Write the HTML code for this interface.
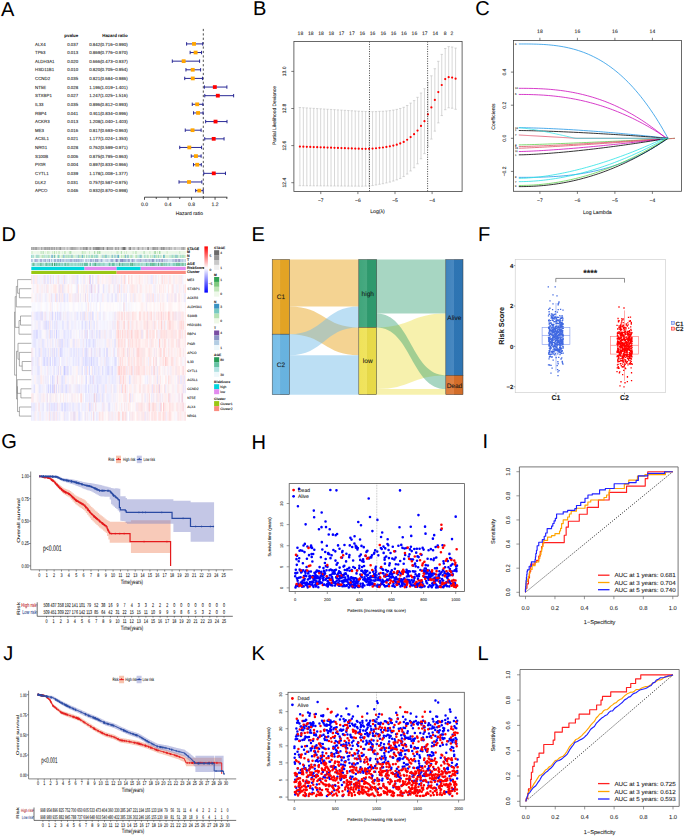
<!DOCTYPE html>
<html><head><meta charset="utf-8"><style>
html,body{margin:0;padding:0;background:#fff;}
svg{display:block;font-family:"Liberation Sans",sans-serif;}
text{stroke:#000;stroke-opacity:0.3;stroke-width:0.25px;}
</style></head><body>
<svg width="685" height="838" viewBox="0 0 685 838" text-rendering="geometricPrecision">
<rect width="685" height="838" fill="#fff"/>
<text x="1" y="16.2" font-size="20">A</text>
<text x="253" y="14.9" font-size="20">B</text>
<text x="475.2" y="15.3" font-size="20">C</text>
<text x="1.6" y="240.8" font-size="20">D</text>
<text x="251.6" y="241" font-size="20">E</text>
<text x="478" y="240.8" font-size="20">F</text>
<text x="1.2" y="448" font-size="20">G</text>
<text x="251.6" y="448.5" font-size="20">H</text>
<text x="482.6" y="448.2" font-size="20">I</text>
<text x="3.2" y="660.2" font-size="20">J</text>
<text x="251.4" y="660" font-size="20">K</text>
<text x="477.6" y="660" font-size="20">L</text>
<g font-size="4.4" fill="#222">
<text x="78.2" y="36.8" text-anchor="end" font-weight="bold">pvalue</text>
<text x="127.6" y="36.8" text-anchor="end" font-weight="bold">Hazard ratio</text>
<text x="35" y="45.5">ALX4</text>
<text x="78.2" y="45.5" text-anchor="end">0.037</text>
<text x="127.6" y="45.5" text-anchor="end">0.842(0.716−0.990)</text>
<text x="35" y="54.13">TP63</text>
<text x="78.2" y="54.13" text-anchor="end">0.013</text>
<text x="127.6" y="54.13" text-anchor="end">0.869(0.776−0.970)</text>
<text x="35" y="62.76">ALDH3A1</text>
<text x="78.2" y="62.76" text-anchor="end">0.020</text>
<text x="127.6" y="62.76" text-anchor="end">0.666(0.473−0.937)</text>
<text x="35" y="71.39">HSD11B1</text>
<text x="78.2" y="71.39" text-anchor="end">0.010</text>
<text x="127.6" y="71.39" text-anchor="end">0.820(0.705−0.954)</text>
<text x="35" y="80.02">CCND2</text>
<text x="78.2" y="80.02" text-anchor="end">0.035</text>
<text x="127.6" y="80.02" text-anchor="end">0.821(0.684−0.986)</text>
<text x="35" y="88.65">NT5E</text>
<text x="78.2" y="88.65" text-anchor="end">0.028</text>
<text x="127.6" y="88.65" text-anchor="end">1.196(1.019−1.401)</text>
<text x="35" y="97.28">STXBP1</text>
<text x="78.2" y="97.28" text-anchor="end">0.027</text>
<text x="127.6" y="97.28" text-anchor="end">1.247(1.025−1.516)</text>
<text x="35" y="105.91">IL33</text>
<text x="78.2" y="105.91" text-anchor="end">0.035</text>
<text x="127.6" y="105.91" text-anchor="end">0.896(0.812−0.993)</text>
<text x="35" y="114.54">RBP4</text>
<text x="78.2" y="114.54" text-anchor="end">0.041</text>
<text x="127.6" y="114.54" text-anchor="end">0.911(0.834−0.996)</text>
<text x="35" y="123.17">ACKR3</text>
<text x="78.2" y="123.17" text-anchor="end">0.013</text>
<text x="127.6" y="123.17" text-anchor="end">1.208(1.040−1.403)</text>
<text x="35" y="131.8">ME3</text>
<text x="78.2" y="131.8" text-anchor="end">0.016</text>
<text x="127.6" y="131.8" text-anchor="end">0.817(0.693−0.963)</text>
<text x="35" y="140.43">ACSL1</text>
<text x="78.2" y="140.43" text-anchor="end">0.021</text>
<text x="127.6" y="140.43" text-anchor="end">1.177(1.024−1.353)</text>
<text x="35" y="149.06">NRG1</text>
<text x="78.2" y="149.06" text-anchor="end">0.028</text>
<text x="127.6" y="149.06" text-anchor="end">0.762(0.599−0.971)</text>
<text x="35" y="157.69">S100B</text>
<text x="78.2" y="157.69" text-anchor="end">0.006</text>
<text x="127.6" y="157.69" text-anchor="end">0.875(0.795−0.963)</text>
<text x="35" y="166.32">PIGR</text>
<text x="78.2" y="166.32" text-anchor="end">0.004</text>
<text x="127.6" y="166.32" text-anchor="end">0.897(0.833−0.966)</text>
<text x="35" y="174.95">CYTL1</text>
<text x="78.2" y="174.95" text-anchor="end">0.039</text>
<text x="127.6" y="174.95" text-anchor="end">1.178(1.008−1.377)</text>
<text x="35" y="183.58">DLK2</text>
<text x="78.2" y="183.58" text-anchor="end">0.031</text>
<text x="127.6" y="183.58" text-anchor="end">0.757(0.587−0.975)</text>
<text x="35" y="192.21">APCO</text>
<text x="78.2" y="192.21" text-anchor="end">0.046</text>
<text x="127.6" y="192.21" text-anchor="end">0.932(0.870−0.998)</text>
</g>
<line x1="203.3" y1="28.9" x2="203.3" y2="197.2" stroke="#222" stroke-width="0.8" stroke-dasharray="2.2,2.2"/>
<g stroke="#1f1f90" stroke-width="0.95" fill="none">
<path d="M186.6 43.9H202.71M186.6 42.2v3.4M202.71 42.2v3.4M190.13 52.53H201.54M190.13 50.83v3.4M201.54 50.83v3.4M172.31 61.16H199.6M172.31 59.46v3.4M199.6 59.46v3.4M185.95 69.79H200.6M185.95 68.09v3.4M200.6 68.09v3.4M184.72 78.42H202.48M184.72 76.72v3.4M202.48 76.72v3.4M204.42 87.05H226.88M204.42 85.35v3.4M226.88 85.35v3.4M204.77 95.68H233.64M204.77 93.98v3.4M233.64 93.98v3.4M192.25 104.31H202.89M192.25 102.61v3.4M202.89 102.61v3.4M193.54 112.94H203.06M193.54 111.24v3.4M203.06 111.24v3.4M205.65 121.57H227M205.65 119.87v3.4M227 119.87v3.4M185.25 130.2H201.12M185.25 128.5v3.4M201.12 128.5v3.4M204.71 138.83H224.06M204.71 137.13v3.4M224.06 137.13v3.4M179.72 147.46H201.59M179.72 145.76v3.4M201.59 145.76v3.4M191.25 156.09H201.12M191.25 154.39v3.4M201.12 154.39v3.4M193.48 164.72H201.3M193.48 163.02v3.4M201.3 163.02v3.4M203.77 173.35H225.47M203.77 171.65v3.4M225.47 171.65v3.4M179.02 181.98H201.83M179.02 180.28v3.4M201.83 180.28v3.4M195.66 190.61H203.18M195.66 188.91v3.4M203.18 188.91v3.4"/>
</g>
<rect x="192.06" y="42.05" width="3.9" height="3.7" fill="#ffa500"/>
<rect x="193.65" y="50.68" width="3.9" height="3.7" fill="#ffa500"/>
<rect x="181.71" y="59.31" width="3.9" height="3.7" fill="#ffa500"/>
<rect x="190.77" y="67.94" width="3.9" height="3.7" fill="#ffa500"/>
<rect x="190.82" y="76.57" width="3.9" height="3.7" fill="#ffa500"/>
<rect x="212.87" y="85.2" width="3.9" height="3.7" fill="#ff0000"/>
<rect x="215.87" y="93.83" width="3.9" height="3.7" fill="#ff0000"/>
<rect x="195.23" y="102.46" width="3.9" height="3.7" fill="#ffa500"/>
<rect x="196.12" y="111.09" width="3.9" height="3.7" fill="#ffa500"/>
<rect x="213.58" y="119.72" width="3.9" height="3.7" fill="#ff0000"/>
<rect x="190.59" y="128.35" width="3.9" height="3.7" fill="#ffa500"/>
<rect x="211.76" y="136.98" width="3.9" height="3.7" fill="#ff0000"/>
<rect x="187.36" y="145.61" width="3.9" height="3.7" fill="#ffa500"/>
<rect x="194" y="154.24" width="3.9" height="3.7" fill="#ffa500"/>
<rect x="195.29" y="162.87" width="3.9" height="3.7" fill="#ffa500"/>
<rect x="211.82" y="171.5" width="3.9" height="3.7" fill="#ff0000"/>
<rect x="187.06" y="180.13" width="3.9" height="3.7" fill="#ffa500"/>
<rect x="197.35" y="188.76" width="3.9" height="3.7" fill="#ffa500"/>
<path d="M144.5 197.2H227.3M144.5 197.2v2.6M156.26 197.2v1.8M168.02 197.2v2.6M179.78 197.2v1.8M191.54 197.2v2.6M203.3 197.2v1.8M215.06 197.2v2.6M226.82 197.2v1.8" stroke="#222" stroke-width="0.8" fill="none"/>
<g font-size="5.0" fill="#222" text-anchor="middle">
<text x="144.5" y="205.6">0.0</text>
<text x="168.02" y="205.6">0.4</text>
<text x="191.54" y="205.6">0.8</text>
<text x="215.06" y="205.6">1.2</text>
<text x="189.3" y="215.2" font-size="5">Hazard ratio</text>
</g>
<path d="M299.9 107.5V185.7M298.7 107.5h2.4M298.7 185.7h2.4M303.36 107.72V185.73M302.16 107.72h2.4M302.16 185.73h2.4M306.82 107.93V185.75M305.62 107.93h2.4M305.62 185.75h2.4M310.28 108.15V185.78M309.08 108.15h2.4M309.08 185.78h2.4M313.74 108.37V185.81M312.54 108.37h2.4M312.54 185.81h2.4M317.2 108.59V185.84M316 108.59h2.4M316 185.84h2.4M320.66 108.8V185.86M319.46 108.8h2.4M319.46 185.86h2.4M324.12 109.02V185.89M322.92 109.02h2.4M322.92 185.89h2.4M327.58 109.24V185.92M326.38 109.24h2.4M326.38 185.92h2.4M331.04 109.46V185.94M329.84 109.46h2.4M329.84 185.94h2.4M334.5 109.67V185.97M333.3 109.67h2.4M333.3 185.97h2.4M337.96 109.89V186M336.76 109.89h2.4M336.76 186h2.4M341.42 110.11V186.02M340.22 110.11h2.4M340.22 186.02h2.4M344.88 110.33V186.05M343.68 110.33h2.4M343.68 186.05h2.4M348.34 110.54V186.08M347.14 110.54h2.4M347.14 186.08h2.4M351.8 110.76V186.11M350.6 110.76h2.4M350.6 186.11h2.4M355.26 110.98V186.13M354.06 110.98h2.4M354.06 186.13h2.4M358.72 111.19V186.16M357.52 111.19h2.4M357.52 186.16h2.4M362.18 111.41V186.19M360.98 111.41h2.4M360.98 186.19h2.4M365.64 111.51V186.09M364.44 111.51h2.4M364.44 186.09h2.4M369.1 111.61V185.99M367.9 111.61h2.4M367.9 185.99h2.4M372.56 111.67V185.56M371.36 111.67h2.4M371.36 185.56h2.4M376.02 111.54V184.94M374.82 111.54h2.4M374.82 184.94h2.4M379.48 111.37V184.28M378.28 111.37h2.4M378.28 184.28h2.4M382.94 111.29V183.72M381.74 111.29h2.4M381.74 183.72h2.4M386.4 110.98V182.91M385.2 110.98h2.4M385.2 182.91h2.4M389.86 110.64V182.08M388.66 110.64h2.4M388.66 182.08h2.4M393.32 110.09V181.04M392.12 110.09h2.4M392.12 181.04h2.4M396.78 109.4V179.86M395.58 109.4h2.4M395.58 179.86h2.4M400.24 108.48V178.43M399.04 108.48h2.4M399.04 178.43h2.4M403.7 107.31V176.57M402.5 107.31h2.4M402.5 176.57h2.4M407.16 105.47V174.04M405.96 105.47h2.4M405.96 174.04h2.4M410.62 103.1V170.98M409.42 103.1h2.4M409.42 170.98h2.4M414.08 100.59V167.77M412.88 100.59h2.4M412.88 167.77h2.4M417.54 97.32V163.82M416.34 97.32h2.4M416.34 163.82h2.4M421 93.02V158.78M419.8 93.02h2.4M419.8 158.78h2.4M424.46 88.69V153.62M423.26 88.69h2.4M423.26 153.62h2.4M427.92 82.31V146.41M426.72 82.31h2.4M426.72 146.41h2.4M431.38 75.81V139.07M430.18 75.81h2.4M430.18 139.07h2.4M434.84 68.71V131.15M433.64 68.71h2.4M433.64 131.15h2.4M438.3 61.3V122.9M437.1 61.3h2.4M437.1 122.9h2.4M441.76 54.39V115.59M440.56 54.39h2.4M440.56 115.59h2.4M445.22 48.49V109.69M444.02 48.49h2.4M444.02 109.69h2.4M448.68 46.61V107.81M447.48 46.61h2.4M447.48 107.81h2.4M452.14 47.01V108.21M450.94 47.01h2.4M450.94 108.21h2.4M455.6 48.1V109.3M454.4 48.1h2.4M454.4 109.3h2.4" stroke="#bdbdbd" stroke-width="0.6" fill="none"/>
<path d="M299.9 146.6h0M303.36 146.72h0M306.82 146.84h0M310.28 146.97h0M313.74 147.09h0M317.2 147.21h0M320.66 147.33h0M324.12 147.46h0M327.58 147.58h0M331.04 147.7h0M334.5 147.82h0M337.96 147.94h0M341.42 148.07h0M344.88 148.19h0M348.34 148.31h0M351.8 148.43h0M355.26 148.55h0M358.72 148.68h0M362.18 148.8h0M365.64 148.8h0M369.1 148.8h0M372.56 148.61h0M376.02 148.24h0M379.48 147.83h0M382.94 147.51h0M386.4 146.95h0M389.86 146.36h0M393.32 145.57h0M396.78 144.63h0M400.24 143.45h0M403.7 141.94h0M407.16 139.75h0M410.62 137.04h0M414.08 134.18h0M417.54 130.57h0M421 125.9h0M424.46 121.15h0M427.92 114.36h0M431.38 107.44h0M434.84 99.93h0M438.3 92.1h0M441.76 84.99h0M445.22 79.09h0M448.68 77.21h0M452.14 77.61h0M455.6 78.7h0" stroke="#ff0000" stroke-width="2.2" stroke-linecap="round" fill="none"/>
<line x1="369.5" y1="41.5" x2="369.5" y2="191.5" stroke="#111" stroke-width="0.8" stroke-dasharray="1,1.4"/>
<line x1="427.6" y1="41.5" x2="427.6" y2="191.5" stroke="#111" stroke-width="0.8" stroke-dasharray="1,1.4"/>
<rect x="293.9" y="41.5" width="168.2" height="150" fill="none" stroke="#444" stroke-width="0.8"/>
<path d="M293.9 71.4h-2.6M293.9 108.5h-2.6M293.9 145.6h-2.6M293.9 182.7h-2.6M320.8 191.5v2.6M357.9 191.5v2.6M395 191.5v2.6M432.1 191.5v2.6" stroke="#444" stroke-width="0.7" fill="none"/>
<g font-size="5.0" fill="#222" text-anchor="middle">
<text x="286.4" y="71.4" transform="rotate(-90 286.4 71.4)">13.0</text>
<text x="286.4" y="108.5" transform="rotate(-90 286.4 108.5)">12.8</text>
<text x="286.4" y="145.6" transform="rotate(-90 286.4 145.6)">12.6</text>
<text x="286.4" y="182.7" transform="rotate(-90 286.4 182.7)">12.4</text>
<text x="320.8" y="202">−7</text>
<text x="357.9" y="202">−6</text>
<text x="395" y="202">−5</text>
<text x="432.1" y="202">−4</text>
<text x="300.4" y="34.6">18</text>
<text x="310.7" y="34.6">18</text>
<text x="321" y="34.6">18</text>
<text x="331.3" y="34.6">18</text>
<text x="341.6" y="34.6">17</text>
<text x="351.9" y="34.6">17</text>
<text x="362.2" y="34.6">16</text>
<text x="372.5" y="34.6">16</text>
<text x="383.3" y="34.6">16</text>
<text x="393.5" y="34.6">16</text>
<text x="403.9" y="34.6">16</text>
<text x="414.4" y="34.6">16</text>
<text x="424.7" y="34.6">17</text>
<text x="435.2" y="34.6">14</text>
<text x="445.2" y="34.6">8</text>
<text x="452" y="34.6">2</text>
<text x="377.5" y="213.2" font-size="5.2">Log(λ)</text>
<text x="275.6" y="115.6" font-size="4.9" transform="rotate(-90 275.6 115.6)">Partial Likelihood Deviance</text>
</g>
<path d="M518.8 43.97L521.29 43.97L523.77 43.97L526.26 43.98L528.75 44L531.23 44.03L533.72 44.08L536.21 44.15L538.69 44.24L541.18 44.35L543.67 44.49L546.15 44.65L548.64 44.85L551.13 45.08L553.61 45.35L556.1 45.66L558.59 46.01L561.07 46.4L563.56 46.84L566.05 47.33L568.53 47.86L571.02 48.46L573.51 49.11L575.99 49.81L578.48 50.58L580.97 51.41L583.45 52.31L585.94 53.28L588.43 54.31L590.91 55.42L593.4 56.6L595.89 57.86L598.37 59.2L600.86 60.63L603.35 62.13L605.83 63.73L608.32 65.41L610.81 67.18L613.29 69.05L615.78 71.01L618.27 73.07L620.75 75.23L623.24 77.5L625.73 79.86L628.21 82.34L630.7 84.92L633.19 87.62L635.67 90.43L638.16 93.35L640.65 96.4L643.13 99.56L645.62 102.85L648.11 106.26L650.59 109.8L653.08 113.46L655.57 117.26L658.05 121.19L660.54 125.26L663.03 129.47L665.51 133.81L668 138.3" stroke="#2297E6" stroke-width="0.8" fill="none"/>
<path d="M518.8 88.32L521.25 88.32L523.71 88.33L526.16 88.35L528.61 88.38L531.07 88.42L533.52 88.48L535.97 88.55L538.43 88.64L540.88 88.75L543.33 88.89L545.79 89.04L548.24 89.21L550.69 89.41L553.15 89.63L555.6 89.88L558.05 90.15L560.51 90.45L562.96 90.78L565.41 91.14L567.87 91.53L570.32 91.94L572.77 92.39L575.23 92.87L577.68 93.38L580.13 93.92L582.59 94.5L585.04 95.11L587.49 95.75L589.95 96.44L592.4 97.15L594.85 97.91L597.31 98.7L599.76 99.53L602.21 100.4L604.67 101.31L607.12 102.26L609.57 103.24L612.03 104.27L614.48 105.34L616.93 106.46L619.39 107.61L621.84 108.81L624.29 110.05L626.75 111.34L629.2 112.67L631.65 114.04L634.11 115.46L636.56 116.93L639.01 118.44L641.47 120L643.92 121.61L646.37 123.27L648.83 124.97L651.28 126.73L653.73 128.53L656.19 130.38L658.64 132.28L661.09 134.24L663.55 136.24L666 138.3" stroke="#CD0BBC" stroke-width="0.8" fill="none"/>
<path d="M518.8 94.44L521.27 94.45L523.74 94.46L526.21 94.49L528.68 94.53L531.15 94.59L533.62 94.66L536.09 94.76L538.56 94.87L541.03 95L543.5 95.15L545.97 95.33L548.44 95.52L550.91 95.74L553.38 95.99L555.85 96.25L558.32 96.54L560.79 96.85L563.26 97.19L565.73 97.56L568.2 97.95L570.67 98.36L573.14 98.81L575.61 99.28L578.08 99.77L580.55 100.3L583.02 100.85L585.49 101.43L587.96 102.04L590.43 102.68L592.9 103.35L595.37 104.05L597.84 104.77L600.31 105.53L602.78 106.32L605.25 107.14L607.72 107.99L610.19 108.87L612.66 109.78L615.13 110.73L617.6 111.7L620.07 112.71L622.54 113.75L625.01 114.83L627.48 115.93L629.95 117.07L632.42 118.25L634.89 119.45L637.36 120.69L639.83 121.97L642.3 123.28L644.77 124.62L647.24 126L649.71 127.41L652.18 128.86L654.65 130.35L657.12 131.86L659.59 133.42L662.06 135.01L664.53 136.64L667 138.3" stroke="#CD0BBC" stroke-width="0.8" fill="none"/>
<path d="M518.8 127.71L521.29 127.72L523.77 127.75L526.26 127.8L528.75 127.85L531.23 127.91L533.72 127.97L536.21 128.05L538.69 128.13L541.18 128.22L543.67 128.31L546.15 128.41L548.64 128.51L551.13 128.62L553.61 128.74L556.1 128.86L558.59 128.99L561.07 129.12L563.56 129.25L566.05 129.39L568.53 129.53L571.02 129.68L573.51 129.84L575.99 129.99L578.48 130.15L580.97 130.32L583.45 130.49L585.94 130.66L588.43 130.84L590.91 131.02L593.4 131.2L595.89 131.39L598.37 131.58L600.86 131.78L603.35 131.98L605.83 132.18L608.32 132.39L610.81 132.6L613.29 132.81L615.78 133.02L618.27 133.24L620.75 133.47L623.24 133.69L625.73 133.92L628.21 134.16L630.7 134.39L633.19 134.63L635.67 134.87L638.16 135.12L640.65 135.37L643.13 135.62L645.62 135.87L648.11 136.13L650.59 136.39L653.08 136.66L655.57 136.92L658.05 137.19L660.54 137.47L663.03 137.74L665.51 138.02L668 138.3" stroke="#2297E6" stroke-width="0.8" fill="none"/>
<path d="M518.8 130.52L521.29 130.54L523.77 130.57L526.26 130.61L528.75 130.66L531.23 130.71L533.72 130.77L536.21 130.83L538.69 130.9L541.18 130.97L543.67 131.05L546.15 131.13L548.64 131.22L551.13 131.31L553.61 131.4L556.1 131.49L558.59 131.59L561.07 131.69L563.56 131.8L566.05 131.91L568.53 132.02L571.02 132.13L573.51 132.25L575.99 132.37L578.48 132.49L580.97 132.61L583.45 132.74L585.94 132.87L588.43 133L590.91 133.14L593.4 133.27L595.89 133.41L598.37 133.55L600.86 133.69L603.35 133.84L605.83 133.99L608.32 134.14L610.81 134.29L613.29 134.44L615.78 134.6L618.27 134.76L620.75 134.92L623.24 135.08L625.73 135.24L628.21 135.41L630.7 135.57L633.19 135.74L635.67 135.91L638.16 136.09L640.65 136.26L643.13 136.44L645.62 136.62L648.11 136.8L650.59 136.98L653.08 137.16L655.57 137.35L658.05 137.54L660.54 137.72L663.03 137.91L665.51 138.11L668 138.3" stroke="#000000" stroke-width="0.8" fill="none"/>
<path d="M518.8 134.99L519.77 135.05L520.74 135.1L521.71 135.16L522.68 135.21L523.65 135.27L524.62 135.32L525.59 135.38L526.56 135.43L527.53 135.49L528.5 135.54L529.47 135.6L530.44 135.65L531.41 135.71L532.38 135.76L533.35 135.82L534.32 135.87L535.29 135.93L536.26 135.98L537.23 136.04L538.2 136.09L539.17 136.15L540.14 136.2L541.11 136.26L542.08 136.31L543.05 136.37L544.02 136.42L544.99 136.48L545.96 136.53L546.93 136.59L547.9 136.65L548.87 136.7L549.84 136.76L550.81 136.81L551.78 136.87L552.75 136.92L553.72 136.98L554.69 137.03L555.66 137.09L556.63 137.14L557.6 137.2L558.57 137.25L559.54 137.31L560.51 137.36L561.48 137.42L562.45 137.47L563.42 137.53L564.39 137.58L565.36 137.64L566.33 137.69L567.3 137.75L568.27 137.8L569.24 137.86L570.21 137.91L571.18 137.97L572.15 138.02L573.12 138.08L574.09 138.13L575.06 138.19L576.03 138.24L577 138.3L669 138.3" stroke="#DF536B" stroke-width="0.8" fill="none"/>
<path d="M518.8 144.92L521.4 144.87L524.01 144.81L526.61 144.74L529.21 144.66L531.82 144.58L534.42 144.5L537.02 144.42L539.63 144.33L542.23 144.24L544.83 144.15L547.44 144.06L550.04 143.96L552.64 143.86L555.25 143.77L557.85 143.67L560.45 143.56L563.06 143.46L565.66 143.36L568.26 143.25L570.87 143.15L573.47 143.04L576.07 142.93L578.68 142.83L581.28 142.72L583.88 142.6L586.49 142.49L589.09 142.38L591.69 142.27L594.3 142.15L596.9 142.04L599.5 141.92L602.11 141.81L604.71 141.69L607.31 141.57L609.92 141.45L612.52 141.33L615.12 141.21L617.73 141.09L620.33 140.97L622.93 140.85L625.54 140.73L628.14 140.61L630.74 140.48L633.35 140.36L635.95 140.23L638.55 140.11L641.16 139.98L643.76 139.86L646.36 139.73L648.97 139.6L651.57 139.47L654.17 139.34L656.78 139.22L659.38 139.09L661.98 138.96L664.59 138.83L667.19 138.7L669.79 138.56L672.4 138.43L675 138.3" stroke="#61D04F" stroke-width="0.8" fill="none"/>
<path d="M518.8 146.58L521.29 146.53L523.77 146.48L526.26 146.41L528.75 146.33L531.23 146.25L533.72 146.16L536.21 146.07L538.69 145.97L541.18 145.87L543.67 145.77L546.15 145.66L548.64 145.55L551.13 145.44L553.61 145.33L556.1 145.21L558.59 145.09L561.07 144.97L563.56 144.85L566.05 144.72L568.53 144.59L571.02 144.46L573.51 144.33L575.99 144.2L578.48 144.06L580.97 143.92L583.45 143.78L585.94 143.64L588.43 143.5L590.91 143.36L593.4 143.21L595.89 143.07L598.37 142.92L600.86 142.77L603.35 142.62L605.83 142.47L608.32 142.32L610.81 142.16L613.29 142.01L615.78 141.85L618.27 141.69L620.75 141.53L623.24 141.37L625.73 141.21L628.21 141.05L630.7 140.88L633.19 140.72L635.67 140.55L638.16 140.38L640.65 140.22L643.13 140.05L645.62 139.88L648.11 139.7L650.59 139.53L653.08 139.36L655.57 139.19L658.05 139.01L660.54 138.83L663.03 138.66L665.51 138.48L668 138.3" stroke="#DF536B" stroke-width="0.8" fill="none"/>
<path d="M518.8 148.23L521.4 148.16L524.01 148.06L526.61 147.96L529.21 147.84L531.82 147.73L534.42 147.6L537.02 147.48L539.63 147.35L542.23 147.21L544.83 147.07L547.44 146.93L550.04 146.79L552.64 146.65L555.25 146.5L557.85 146.35L560.45 146.2L563.06 146.04L565.66 145.89L568.26 145.73L570.87 145.57L573.47 145.41L576.07 145.25L578.68 145.09L581.28 144.92L583.88 144.76L586.49 144.59L589.09 144.42L591.69 144.25L594.3 144.08L596.9 143.91L599.5 143.73L602.11 143.56L604.71 143.38L607.31 143.21L609.92 143.03L612.52 142.85L615.12 142.67L617.73 142.49L620.33 142.31L622.93 142.13L625.54 141.94L628.14 141.76L630.74 141.57L633.35 141.39L635.95 141.2L638.55 141.01L641.16 140.82L643.76 140.63L646.36 140.44L648.97 140.25L651.57 140.06L654.17 139.87L656.78 139.67L659.38 139.48L661.98 139.28L664.59 139.09L667.19 138.89L669.79 138.7L672.4 138.5L675 138.3" stroke="#DF536B" stroke-width="0.8" fill="none"/>
<path d="M518.8 151.54L521.29 151.5L523.77 151.43L526.26 151.34L528.75 151.24L531.23 151.13L533.72 151.01L536.21 150.89L538.69 150.75L541.18 150.61L543.67 150.46L546.15 150.31L548.64 150.15L551.13 149.98L553.61 149.81L556.1 149.64L558.59 149.46L561.07 149.27L563.56 149.09L566.05 148.89L568.53 148.7L571.02 148.5L573.51 148.29L575.99 148.08L578.48 147.87L580.97 147.65L583.45 147.43L585.94 147.21L588.43 146.98L590.91 146.76L593.4 146.52L595.89 146.29L598.37 146.05L600.86 145.81L603.35 145.56L605.83 145.31L608.32 145.06L610.81 144.81L613.29 144.55L615.78 144.3L618.27 144.03L620.75 143.77L623.24 143.5L625.73 143.24L628.21 142.96L630.7 142.69L633.19 142.41L635.67 142.13L638.16 141.85L640.65 141.57L643.13 141.28L645.62 140.99L648.11 140.7L650.59 140.41L653.08 140.12L655.57 139.82L658.05 139.52L660.54 139.22L663.03 138.91L665.51 138.61L668 138.3" stroke="#CD0BBC" stroke-width="0.8" fill="none"/>
<path d="M518.8 154.85L521.29 154.81L523.77 154.75L526.26 154.66L528.75 154.57L531.23 154.45L533.72 154.33L536.21 154.19L538.69 154.04L541.18 153.89L543.67 153.72L546.15 153.55L548.64 153.37L551.13 153.18L553.61 152.98L556.1 152.78L558.59 152.57L561.07 152.35L563.56 152.13L566.05 151.9L568.53 151.66L571.02 151.42L573.51 151.18L575.99 150.92L578.48 150.66L580.97 150.4L583.45 150.13L585.94 149.85L588.43 149.57L590.91 149.29L593.4 149L595.89 148.7L598.37 148.4L600.86 148.1L603.35 147.79L605.83 147.48L608.32 147.16L610.81 146.84L613.29 146.51L615.78 146.18L618.27 145.84L620.75 145.5L623.24 145.16L625.73 144.81L628.21 144.46L630.7 144.1L633.19 143.74L635.67 143.38L638.16 143.01L640.65 142.64L643.13 142.26L645.62 141.88L648.11 141.5L650.59 141.11L653.08 140.72L655.57 140.33L658.05 139.93L660.54 139.53L663.03 139.12L665.51 138.71L668 138.3" stroke="#000000" stroke-width="0.8" fill="none"/>
<path d="M518.8 177.36L521.29 177.36L523.77 177.35L526.26 177.35L528.75 177.33L531.23 177.31L533.72 177.28L536.21 177.24L538.69 177.19L541.18 177.13L543.67 177.05L546.15 176.96L548.64 176.85L551.13 176.73L553.61 176.59L556.1 176.43L558.59 176.26L561.07 176.06L563.56 175.84L566.05 175.61L568.53 175.35L571.02 175.06L573.51 174.76L575.99 174.42L578.48 174.07L580.97 173.68L583.45 173.27L585.94 172.84L588.43 172.37L590.91 171.87L593.4 171.35L595.89 170.79L598.37 170.2L600.86 169.58L603.35 168.93L605.83 168.24L608.32 167.52L610.81 166.77L613.29 165.98L615.78 165.15L618.27 164.29L620.75 163.39L623.24 162.45L625.73 161.47L628.21 160.45L630.7 159.4L633.19 158.3L635.67 157.16L638.16 155.98L640.65 154.75L643.13 153.48L645.62 152.17L648.11 150.82L650.59 149.42L653.08 147.97L655.57 146.48L658.05 144.94L660.54 143.35L663.03 141.72L665.51 140.03L668 138.3" stroke="#2297E6" stroke-width="0.8" fill="none"/>
<path d="M518.8 178.35L521.22 178.31L523.64 178.23L526.06 178.11L528.48 177.95L530.9 177.76L533.32 177.55L535.74 177.31L538.16 177.05L540.58 176.76L543 176.45L545.42 176.11L547.84 175.75L550.26 175.38L552.68 174.98L555.1 174.56L557.52 174.12L559.94 173.66L562.36 173.18L564.78 172.68L567.2 172.16L569.62 171.63L572.04 171.08L574.46 170.5L576.88 169.92L579.3 169.31L581.72 168.69L584.14 168.05L586.56 167.39L588.98 166.71L591.4 166.02L593.82 165.32L596.24 164.59L598.66 163.86L601.08 163.1L603.5 162.33L605.92 161.54L608.34 160.74L610.76 159.93L613.18 159.1L615.6 158.25L618.02 157.39L620.44 156.51L622.86 155.62L625.28 154.71L627.7 153.79L630.12 152.86L632.54 151.91L634.96 150.94L637.38 149.97L639.8 148.97L642.22 147.97L644.64 146.95L647.06 145.92L649.48 144.87L651.9 143.81L654.32 142.73L656.74 141.64L659.16 140.54L661.58 139.43L664 138.3" stroke="#28E2E5" stroke-width="0.8" fill="none"/>
<path d="M518.8 181.66L521.25 181.64L523.71 181.59L526.16 181.51L528.61 181.41L531.07 181.27L533.52 181.12L535.97 180.93L538.43 180.72L540.88 180.48L543.33 180.22L545.79 179.93L548.24 179.62L550.69 179.29L553.15 178.93L555.6 178.55L558.05 178.14L560.51 177.71L562.96 177.26L565.41 176.78L567.87 176.28L570.32 175.76L572.77 175.22L575.23 174.65L577.68 174.06L580.13 173.44L582.59 172.81L585.04 172.15L587.49 171.47L589.95 170.77L592.4 170.04L594.85 169.3L597.31 168.53L599.76 167.74L602.21 166.92L604.67 166.09L607.12 165.23L609.57 164.36L612.03 163.46L614.48 162.53L616.93 161.59L619.39 160.63L621.84 159.64L624.29 158.64L626.75 157.61L629.2 156.56L631.65 155.49L634.11 154.4L636.56 153.28L639.01 152.15L641.47 151L643.92 149.82L646.37 148.62L648.83 147.41L651.28 146.17L653.73 144.91L656.19 143.63L658.64 142.33L661.09 141L663.55 139.66L666 138.3" stroke="#28E2E5" stroke-width="0.8" fill="none"/>
<path d="M518.8 185.47L521.27 185.45L523.74 185.42L526.21 185.35L528.68 185.26L531.15 185.14L533.62 185L536.09 184.83L538.56 184.63L541.03 184.41L543.5 184.16L545.97 183.88L548.44 183.58L550.91 183.25L553.38 182.9L555.85 182.52L558.32 182.11L560.79 181.68L563.26 181.22L565.73 180.74L568.2 180.23L570.67 179.69L573.14 179.13L575.61 178.54L578.08 177.92L580.55 177.28L583.02 176.61L585.49 175.92L587.96 175.2L590.43 174.45L592.9 173.68L595.37 172.88L597.84 172.05L600.31 171.2L602.78 170.32L605.25 169.42L607.72 168.49L610.19 167.53L612.66 166.55L615.13 165.54L617.6 164.5L620.07 163.44L622.54 162.36L625.01 161.24L627.48 160.1L629.95 158.94L632.42 157.74L634.89 156.52L637.36 155.28L639.83 154.01L642.3 152.71L644.77 151.39L647.24 150.04L649.71 148.66L652.18 147.26L654.65 145.83L657.12 144.38L659.59 142.9L662.06 141.39L664.53 139.86L667 138.3" stroke="#61D04F" stroke-width="0.8" fill="none"/>
<path d="M518.8 186.63L521.29 186.62L523.77 186.59L526.26 186.54L528.75 186.46L531.23 186.36L533.72 186.24L536.21 186.1L538.69 185.92L541.18 185.73L543.67 185.5L546.15 185.26L548.64 184.98L551.13 184.68L553.61 184.35L556.1 184L558.59 183.61L561.07 183.21L563.56 182.77L566.05 182.31L568.53 181.82L571.02 181.3L573.51 180.75L575.99 180.17L578.48 179.57L580.97 178.94L583.45 178.28L585.94 177.59L588.43 176.87L590.91 176.13L593.4 175.35L595.89 174.55L598.37 173.72L600.86 172.86L603.35 171.96L605.83 171.04L608.32 170.1L610.81 169.12L613.29 168.11L615.78 167.07L618.27 166L620.75 164.9L623.24 163.78L625.73 162.62L628.21 161.43L630.7 160.21L633.19 158.97L635.67 157.69L638.16 156.38L640.65 155.04L643.13 153.67L645.62 152.27L648.11 150.84L650.59 149.38L653.08 147.89L655.57 146.37L658.05 144.82L660.54 143.23L663.03 141.62L665.51 139.98L668 138.3" stroke="#000000" stroke-width="0.8" fill="none"/>
<path d="M518.8 127.71L520.2 127.8L521.61 127.92L523.01 128.07L524.42 128.24L525.82 128.42L527.23 128.61L528.63 128.81L530.04 129.02L531.44 129.23L532.85 129.46L534.25 129.69L535.66 129.92L537.06 130.17L538.47 130.41L539.88 130.67L541.28 130.93L542.68 131.19L544.09 131.46L545.5 131.73L546.9 132.01L548.3 132.29L549.71 132.58L551.12 132.87L552.52 133.16L553.92 133.46L555.33 133.76L556.74 134.06L558.14 134.37L559.54 134.68L560.95 135L562.36 135.31L563.76 135.63L565.16 135.96L566.57 136.28L567.98 136.61L569.38 136.94L570.78 137.28L572.19 137.62L573.6 137.96L575 138.3L669 138.3" stroke="#28E2E5" stroke-width="0.7" fill="none"/>
<rect x="513.5" y="40.4" width="167.9" height="150.9" fill="none" stroke="#444" stroke-width="0.8"/>
<path d="M513.5 72.1h-2.6M513.5 105.2h-2.6M513.5 138.3h-2.6M513.5 171.4h-2.6M539.9 191.3v2.6M539.9 40.4v-2.6M577.4 191.3v2.6M577.4 40.4v-2.6M614.9 191.3v2.6M614.9 40.4v-2.6M652.4 191.3v2.6M652.4 40.4v-2.6" stroke="#444" stroke-width="0.7" fill="none"/>
<g font-size="5.0" fill="#222" text-anchor="middle">
<text x="506" y="72.1" transform="rotate(-90 506 72.1)">0.4</text>
<text x="506" y="105.2" transform="rotate(-90 506 105.2)">0.2</text>
<text x="506" y="138.3" transform="rotate(-90 506 138.3)">0.0</text>
<text x="506" y="171.4" transform="rotate(-90 506 171.4)">−0.2</text>
<text x="539.9" y="202">−7</text>
<text x="577.4" y="202">−6</text>
<text x="614.9" y="202">−5</text>
<text x="652.4" y="202">−4</text>
<text x="539.9" y="33.4">18</text>
<text x="577.4" y="33.4">16</text>
<text x="614.9" y="33.4">16</text>
<text x="652.4" y="33.4">14</text>
<text x="597.3" y="213.6" font-size="5.2">Log Lambda</text>
<text x="494.6" y="116.6" font-size="5" transform="rotate(-90 494.6 116.6)">Coefficients</text>
</g>
<g font-size="2.6" fill="#333">
<text x="515" y="44.87">6</text>
<text x="515" y="89.22">10</text>
<text x="515" y="95.34">5</text>
<text x="515" y="128.61">16</text>
<text x="515" y="131.42">1</text>
<text x="515" y="135.89">7</text>
<text x="515" y="145.82">3</text>
<text x="515" y="147.48">2</text>
<text x="515" y="149.13">15</text>
<text x="515" y="152.44">11</text>
<text x="515" y="155.75">1</text>
<text x="515" y="178.26">8</text>
<text x="515" y="182.56">7</text>
<text x="515" y="187.2">9</text>
</g>
<path d="M31.82 247v3.1M36.97 247v3.1M39.02 247v3.1M44.17 247v3.1M49.33 247v3.1M73.02 247v3.1M75.08 247v3.1M83.31 247v3.1M93.62 247v3.1M95.67 247v3.1M96.7 247v3.1M97.73 247v3.1M99.8 247v3.1M102.89 247v3.1M103.91 247v3.1M107 247v3.1M108.03 247v3.1M115.25 247v3.1M118.33 247v3.1M129.67 247v3.1M130.69 247v3.1M143.06 247v3.1M153.36 247v3.1M169.84 247v3.1M183.23 247v3.1" stroke="#8c8c8c" stroke-width="1.08"/>
<path d="M32.84 247v3.1M33.88 247v3.1M41.09 247v3.1M42.12 247v3.1M47.27 247v3.1M48.3 247v3.1M52.42 247v3.1M56.53 247v3.1M69.92 247v3.1M85.38 247v3.1M90.53 247v3.1M101.86 247v3.1M109.06 247v3.1M111.12 247v3.1M142.03 247v3.1M152.33 247v3.1M162.63 247v3.1M181.17 247v3.1" stroke="#a7a7a7" stroke-width="1.08"/>
<path d="M34.91 247v3.1M45.2 247v3.1M46.23 247v3.1M51.39 247v3.1M54.48 247v3.1M59.62 247v3.1M67.86 247v3.1M70.95 247v3.1M74.05 247v3.1M77.14 247v3.1M80.23 247v3.1M84.34 247v3.1M87.44 247v3.1M94.64 247v3.1M116.28 247v3.1M122.45 247v3.1M125.55 247v3.1M134.81 247v3.1M137.91 247v3.1M138.94 247v3.1M145.12 247v3.1M147.18 247v3.1M154.39 247v3.1M155.42 247v3.1M157.47 247v3.1M164.69 247v3.1M166.75 247v3.1M168.81 247v3.1M182.2 247v3.1M184.26 247v3.1" stroke="#a2a2a2" stroke-width="1.08"/>
<path d="M35.94 247v3.1M60.66 247v3.1M71.98 247v3.1M86.41 247v3.1M163.66 247v3.1" stroke="#878787" stroke-width="1.08"/>
<path d="M38 247v3.1M50.36 247v3.1M53.45 247v3.1M58.59 247v3.1M61.69 247v3.1M63.75 247v3.1M64.78 247v3.1M66.84 247v3.1M89.5 247v3.1M105.97 247v3.1M117.3 247v3.1M121.42 247v3.1M132.75 247v3.1M133.78 247v3.1M136.88 247v3.1M160.57 247v3.1M165.72 247v3.1M167.78 247v3.1M170.87 247v3.1M171.9 247v3.1M173.96 247v3.1M174.99 247v3.1M176.02 247v3.1" stroke="#bdbdbd" stroke-width="1.08"/>
<path d="M40.05 247v3.1M55.51 247v3.1M65.81 247v3.1M68.89 247v3.1M78.17 247v3.1M79.2 247v3.1M104.94 247v3.1M113.19 247v3.1M119.36 247v3.1M131.72 247v3.1M141 247v3.1M150.27 247v3.1M151.3 247v3.1M158.5 247v3.1M159.54 247v3.1M177.05 247v3.1M178.08 247v3.1M180.14 247v3.1M185.29 247v3.1" stroke="#cfcfcf" stroke-width="1.08"/>
<path d="M43.15 247v3.1M57.56 247v3.1M62.72 247v3.1M82.28 247v3.1M128.64 247v3.1M139.97 247v3.1M179.11 247v3.1" stroke="#bebebe" stroke-width="1.08"/>
<path d="M76.11 247v3.1M81.25 247v3.1M156.45 247v3.1" stroke="#b4b4b4" stroke-width="1.08"/>
<path d="M88.47 247v3.1M91.56 247v3.1M92.59 247v3.1M114.22 247v3.1M120.39 247v3.1M126.58 247v3.1M135.84 247v3.1M144.09 247v3.1M146.15 247v3.1M149.24 247v3.1M172.93 247v3.1" stroke="#d4d4d4" stroke-width="1.08"/>
<path d="M98.77 247v3.1M124.52 247v3.1" stroke="#707070" stroke-width="1.08"/>
<path d="M100.83 247v3.1M110.09 247v3.1" stroke="#999999" stroke-width="1.08"/>
<path d="M112.16 247v3.1M161.6 247v3.1" stroke="#909090" stroke-width="1.08"/>
<path d="M123.48 247v3.1M148.21 247v3.1" stroke="#767676" stroke-width="1.08"/>
<path d="M127.61 247v3.1" stroke="#e6e6e6" stroke-width="1.08"/>
<path d="M31.82 250.9v3.1M38 250.9v3.1M45.2 250.9v3.1M47.27 250.9v3.1M48.3 250.9v3.1M52.42 250.9v3.1M56.53 250.9v3.1M58.59 250.9v3.1M59.62 250.9v3.1M65.81 250.9v3.1M83.31 250.9v3.1M85.38 250.9v3.1M89.5 250.9v3.1M98.77 250.9v3.1M108.03 250.9v3.1M111.12 250.9v3.1M117.3 250.9v3.1M118.33 250.9v3.1M126.58 250.9v3.1M133.78 250.9v3.1M136.88 250.9v3.1M149.24 250.9v3.1M157.47 250.9v3.1M167.78 250.9v3.1" stroke="#d1edcb" stroke-width="1.08"/>
<path d="M32.84 250.9v3.1M49.33 250.9v3.1M62.72 250.9v3.1M68.89 250.9v3.1M74.05 250.9v3.1M84.34 250.9v3.1M105.97 250.9v3.1M116.28 250.9v3.1M124.52 250.9v3.1M132.75 250.9v3.1M141 250.9v3.1M150.27 250.9v3.1M160.57 250.9v3.1M166.75 250.9v3.1M176.02 250.9v3.1M179.11 250.9v3.1M180.14 250.9v3.1" stroke="#d6efd1" stroke-width="1.08"/>
<path d="M33.88 250.9v3.1M34.91 250.9v3.1M35.94 250.9v3.1M36.97 250.9v3.1M39.02 250.9v3.1M40.05 250.9v3.1M42.12 250.9v3.1M44.17 250.9v3.1M46.23 250.9v3.1M50.36 250.9v3.1M51.39 250.9v3.1M53.45 250.9v3.1M55.51 250.9v3.1M57.56 250.9v3.1M60.66 250.9v3.1M61.69 250.9v3.1M63.75 250.9v3.1M66.84 250.9v3.1M67.86 250.9v3.1M71.98 250.9v3.1M73.02 250.9v3.1M75.08 250.9v3.1M76.11 250.9v3.1M77.14 250.9v3.1M78.17 250.9v3.1M79.2 250.9v3.1M80.23 250.9v3.1M81.25 250.9v3.1M86.41 250.9v3.1M87.44 250.9v3.1M88.47 250.9v3.1M90.53 250.9v3.1M91.56 250.9v3.1M92.59 250.9v3.1M93.62 250.9v3.1M95.67 250.9v3.1M96.7 250.9v3.1M100.83 250.9v3.1M101.86 250.9v3.1M102.89 250.9v3.1M103.91 250.9v3.1M104.94 250.9v3.1M107 250.9v3.1M109.06 250.9v3.1M110.09 250.9v3.1M112.16 250.9v3.1M113.19 250.9v3.1M114.22 250.9v3.1M115.25 250.9v3.1M119.36 250.9v3.1M120.39 250.9v3.1M122.45 250.9v3.1M123.48 250.9v3.1M125.55 250.9v3.1M127.61 250.9v3.1M128.64 250.9v3.1M129.67 250.9v3.1M130.69 250.9v3.1M131.72 250.9v3.1M134.81 250.9v3.1M137.91 250.9v3.1M138.94 250.9v3.1M139.97 250.9v3.1M142.03 250.9v3.1M143.06 250.9v3.1M145.12 250.9v3.1M146.15 250.9v3.1M147.18 250.9v3.1M148.21 250.9v3.1M151.3 250.9v3.1M152.33 250.9v3.1M153.36 250.9v3.1M156.45 250.9v3.1M158.5 250.9v3.1M161.6 250.9v3.1M162.63 250.9v3.1M163.66 250.9v3.1M164.69 250.9v3.1M165.72 250.9v3.1M168.81 250.9v3.1M169.84 250.9v3.1M170.87 250.9v3.1M171.9 250.9v3.1M172.93 250.9v3.1M173.96 250.9v3.1M174.99 250.9v3.1M177.05 250.9v3.1M178.08 250.9v3.1M181.17 250.9v3.1M182.2 250.9v3.1M183.23 250.9v3.1M184.26 250.9v3.1M185.29 250.9v3.1" stroke="#edf8e9" stroke-width="1.08"/>
<path d="M41.09 250.9v3.1M69.92 250.9v3.1M70.95 250.9v3.1M121.42 250.9v3.1M135.84 250.9v3.1M154.39 250.9v3.1" stroke="#b7e1b5" stroke-width="1.08"/>
<path d="M43.15 250.9v3.1M94.64 250.9v3.1M97.73 250.9v3.1M144.09 250.9v3.1M155.42 250.9v3.1M159.54 250.9v3.1" stroke="#aadbaa" stroke-width="1.08"/>
<path d="M54.48 250.9v3.1M64.78 250.9v3.1M82.28 250.9v3.1" stroke="#bae4b3" stroke-width="1.08"/>
<path d="M99.8 250.9v3.1" stroke="#9ad698" stroke-width="1.08"/>
<path d="M31.82 254.8v3.1M36.97 254.8v3.1M58.59 254.8v3.1M68.89 254.8v3.1M76.11 254.8v3.1M96.7 254.8v3.1M139.97 254.8v3.1M154.39 254.8v3.1M164.69 254.8v3.1M172.93 254.8v3.1M180.14 254.8v3.1" stroke="#7bccc4" stroke-width="1.08"/>
<path d="M32.84 254.8v3.1M64.78 254.8v3.1M89.5 254.8v3.1M95.67 254.8v3.1M101.86 254.8v3.1M138.94 254.8v3.1M155.42 254.8v3.1" stroke="#b0e0d4" stroke-width="1.08"/>
<path d="M33.88 254.8v3.1M35.94 254.8v3.1M38 254.8v3.1M48.3 254.8v3.1M70.95 254.8v3.1M84.34 254.8v3.1M86.41 254.8v3.1M91.56 254.8v3.1M144.09 254.8v3.1M150.27 254.8v3.1M158.5 254.8v3.1M174.99 254.8v3.1M177.05 254.8v3.1M178.08 254.8v3.1M182.2 254.8v3.1" stroke="#9ed9c0" stroke-width="1.08"/>
<path d="M34.91 254.8v3.1M50.36 254.8v3.1M56.53 254.8v3.1M60.66 254.8v3.1M77.14 254.8v3.1M85.38 254.8v3.1M98.77 254.8v3.1M99.8 254.8v3.1M120.39 254.8v3.1M129.67 254.8v3.1M133.78 254.8v3.1M134.81 254.8v3.1M143.06 254.8v3.1M149.24 254.8v3.1M162.63 254.8v3.1" stroke="#f0f9e8" stroke-width="1.08"/>
<path d="M39.02 254.8v3.1M44.17 254.8v3.1M66.84 254.8v3.1M92.59 254.8v3.1M94.64 254.8v3.1M97.73 254.8v3.1M114.22 254.8v3.1M128.64 254.8v3.1M145.12 254.8v3.1M147.18 254.8v3.1M171.9 254.8v3.1M183.23 254.8v3.1" stroke="#97d7c0" stroke-width="1.08"/>
<path d="M40.05 254.8v3.1M55.51 254.8v3.1M61.69 254.8v3.1M81.25 254.8v3.1M90.53 254.8v3.1M93.62 254.8v3.1M110.09 254.8v3.1M113.19 254.8v3.1M116.28 254.8v3.1M123.48 254.8v3.1M142.03 254.8v3.1M157.47 254.8v3.1M161.6 254.8v3.1M168.81 254.8v3.1M185.29 254.8v3.1" stroke="#d2edd0" stroke-width="1.08"/>
<path d="M41.09 254.8v3.1M53.45 254.8v3.1M74.05 254.8v3.1M75.08 254.8v3.1M87.44 254.8v3.1M100.83 254.8v3.1M111.12 254.8v3.1M119.36 254.8v3.1M122.45 254.8v3.1M126.58 254.8v3.1M146.15 254.8v3.1M151.3 254.8v3.1M159.54 254.8v3.1M165.72 254.8v3.1M166.75 254.8v3.1M167.78 254.8v3.1M179.11 254.8v3.1" stroke="#d8f0d4" stroke-width="1.08"/>
<path d="M42.12 254.8v3.1M43.15 254.8v3.1M46.23 254.8v3.1M49.33 254.8v3.1M59.62 254.8v3.1M62.72 254.8v3.1M65.81 254.8v3.1M67.86 254.8v3.1M69.92 254.8v3.1M73.02 254.8v3.1M79.2 254.8v3.1M80.23 254.8v3.1M83.31 254.8v3.1M103.91 254.8v3.1M104.94 254.8v3.1M107 254.8v3.1M121.42 254.8v3.1M124.52 254.8v3.1M130.69 254.8v3.1M131.72 254.8v3.1M135.84 254.8v3.1M136.88 254.8v3.1M148.21 254.8v3.1M152.33 254.8v3.1M156.45 254.8v3.1M170.87 254.8v3.1M173.96 254.8v3.1M181.17 254.8v3.1M184.26 254.8v3.1" stroke="#bae4bc" stroke-width="1.08"/>
<path d="M45.2 254.8v3.1M47.27 254.8v3.1M57.56 254.8v3.1M88.47 254.8v3.1M108.03 254.8v3.1M109.06 254.8v3.1M132.75 254.8v3.1M137.91 254.8v3.1M153.36 254.8v3.1M160.57 254.8v3.1M169.84 254.8v3.1" stroke="#bbe5d8" stroke-width="1.08"/>
<path d="M51.39 254.8v3.1M102.89 254.8v3.1M115.25 254.8v3.1M117.3 254.8v3.1M127.61 254.8v3.1" stroke="#97c8d5" stroke-width="1.08"/>
<path d="M52.42 254.8v3.1M63.75 254.8v3.1M125.55 254.8v3.1" stroke="#84bdd1" stroke-width="1.08"/>
<path d="M54.48 254.8v3.1M71.98 254.8v3.1M78.17 254.8v3.1" stroke="#7abcbd" stroke-width="1.08"/>
<path d="M82.28 254.8v3.1M105.97 254.8v3.1" stroke="#57afc1" stroke-width="1.08"/>
<path d="M112.16 254.8v3.1M141 254.8v3.1M163.66 254.8v3.1M176.02 254.8v3.1" stroke="#6bb4bd" stroke-width="1.08"/>
<path d="M118.33 254.8v3.1" stroke="#4fa9c1" stroke-width="1.08"/>
<path d="M31.82 258.9v3.1M43.15 258.9v3.1M47.27 258.9v3.1M58.59 258.9v3.1M62.72 258.9v3.1M76.11 258.9v3.1M77.14 258.9v3.1M90.53 258.9v3.1M100.83 258.9v3.1M101.86 258.9v3.1M123.48 258.9v3.1M124.52 258.9v3.1M129.67 258.9v3.1M137.91 258.9v3.1M139.97 258.9v3.1M143.06 258.9v3.1M159.54 258.9v3.1M173.96 258.9v3.1M182.2 258.9v3.1" stroke="#9eafd3" stroke-width="1.08"/>
<path d="M32.84 258.9v3.1M38 258.9v3.1M44.17 258.9v3.1M59.62 258.9v3.1M65.81 258.9v3.1M67.86 258.9v3.1M68.89 258.9v3.1M69.92 258.9v3.1M73.02 258.9v3.1M80.23 258.9v3.1M82.28 258.9v3.1M85.38 258.9v3.1M102.89 258.9v3.1M107 258.9v3.1M110.09 258.9v3.1M115.25 258.9v3.1M118.33 258.9v3.1M126.58 258.9v3.1M133.78 258.9v3.1M134.81 258.9v3.1M144.09 258.9v3.1M148.21 258.9v3.1M150.27 258.9v3.1M151.3 258.9v3.1M154.39 258.9v3.1M157.47 258.9v3.1M158.5 258.9v3.1M167.78 258.9v3.1M171.9 258.9v3.1M180.14 258.9v3.1M181.17 258.9v3.1M183.23 258.9v3.1" stroke="#b3cde3" stroke-width="1.08"/>
<path d="M33.88 258.9v3.1M50.36 258.9v3.1M84.34 258.9v3.1" stroke="#edf8fb" stroke-width="1.08"/>
<path d="M34.91 258.9v3.1M35.94 258.9v3.1M40.05 258.9v3.1M51.39 258.9v3.1M54.48 258.9v3.1M55.51 258.9v3.1M57.56 258.9v3.1M63.75 258.9v3.1M66.84 258.9v3.1M71.98 258.9v3.1M74.05 258.9v3.1M75.08 258.9v3.1M78.17 258.9v3.1M79.2 258.9v3.1M81.25 258.9v3.1M91.56 258.9v3.1M93.62 258.9v3.1M96.7 258.9v3.1M108.03 258.9v3.1M111.12 258.9v3.1M112.16 258.9v3.1M113.19 258.9v3.1M125.55 258.9v3.1M131.72 258.9v3.1M138.94 258.9v3.1M145.12 258.9v3.1M156.45 258.9v3.1M164.69 258.9v3.1M172.93 258.9v3.1M178.08 258.9v3.1" stroke="#a1b4d6" stroke-width="1.08"/>
<path d="M36.97 258.9v3.1M149.24 258.9v3.1" stroke="#a59ccb" stroke-width="1.08"/>
<path d="M39.02 258.9v3.1M42.12 258.9v3.1M46.23 258.9v3.1M48.3 258.9v3.1M56.53 258.9v3.1M61.69 258.9v3.1M87.44 258.9v3.1M89.5 258.9v3.1M94.64 258.9v3.1M99.8 258.9v3.1M104.94 258.9v3.1M114.22 258.9v3.1M119.36 258.9v3.1M155.42 258.9v3.1M163.66 258.9v3.1M168.81 258.9v3.1M169.84 258.9v3.1M170.87 258.9v3.1M184.26 258.9v3.1" stroke="#cde0ee" stroke-width="1.08"/>
<path d="M41.09 258.9v3.1M70.95 258.9v3.1M122.45 258.9v3.1M132.75 258.9v3.1M141 258.9v3.1" stroke="#8b89c0" stroke-width="1.08"/>
<path d="M45.2 258.9v3.1M49.33 258.9v3.1M60.66 258.9v3.1M95.67 258.9v3.1M97.73 258.9v3.1M117.3 258.9v3.1M120.39 258.9v3.1M128.64 258.9v3.1M146.15 258.9v3.1M152.33 258.9v3.1M153.36 258.9v3.1M162.63 258.9v3.1" stroke="#8c96c6" stroke-width="1.08"/>
<path d="M52.42 258.9v3.1M53.45 258.9v3.1M103.91 258.9v3.1M109.06 258.9v3.1M130.69 258.9v3.1M135.84 258.9v3.1" stroke="#d3e5f0" stroke-width="1.08"/>
<path d="M64.78 258.9v3.1M83.31 258.9v3.1M88.47 258.9v3.1M92.59 258.9v3.1M142.03 258.9v3.1M160.57 258.9v3.1M165.72 258.9v3.1" stroke="#c1cce3" stroke-width="1.08"/>
<path d="M86.41 258.9v3.1M98.77 258.9v3.1M105.97 258.9v3.1M127.61 258.9v3.1M136.88 258.9v3.1M147.18 258.9v3.1M166.75 258.9v3.1M174.99 258.9v3.1M177.05 258.9v3.1M185.29 258.9v3.1" stroke="#b8c2de" stroke-width="1.08"/>
<path d="M116.28 258.9v3.1M176.02 258.9v3.1" stroke="#7d77b6" stroke-width="1.08"/>
<path d="M121.42 258.9v3.1" stroke="#9295c6" stroke-width="1.08"/>
<path d="M161.6 258.9v3.1" stroke="#b2add3" stroke-width="1.08"/>
<path d="M179.11 258.9v3.1" stroke="#7970b3" stroke-width="1.08"/>
<path d="M31.82 262.8v3.1M34.91 262.8v3.1M35.94 262.8v3.1M63.75 262.8v3.1M74.05 262.8v3.1M77.14 262.8v3.1M83.31 262.8v3.1M104.94 262.8v3.1M105.97 262.8v3.1M107 262.8v3.1M111.12 262.8v3.1M115.25 262.8v3.1M141 262.8v3.1M145.12 262.8v3.1M157.47 262.8v3.1M159.54 262.8v3.1M167.78 262.8v3.1M170.87 262.8v3.1M171.9 262.8v3.1M184.26 262.8v3.1" stroke="#b2e2e2" stroke-width="1.08"/>
<path d="M32.84 262.8v3.1M38 262.8v3.1M40.05 262.8v3.1M43.15 262.8v3.1M49.33 262.8v3.1M56.53 262.8v3.1M59.62 262.8v3.1M64.78 262.8v3.1M65.81 262.8v3.1M68.89 262.8v3.1M71.98 262.8v3.1M75.08 262.8v3.1M78.17 262.8v3.1M80.23 262.8v3.1M82.28 262.8v3.1M84.34 262.8v3.1M85.38 262.8v3.1M86.41 262.8v3.1M87.44 262.8v3.1M90.53 262.8v3.1M94.64 262.8v3.1M99.8 262.8v3.1M103.91 262.8v3.1M109.06 262.8v3.1M110.09 262.8v3.1M112.16 262.8v3.1M113.19 262.8v3.1M114.22 262.8v3.1M122.45 262.8v3.1M131.72 262.8v3.1M134.81 262.8v3.1M138.94 262.8v3.1M142.03 262.8v3.1M146.15 262.8v3.1M147.18 262.8v3.1M150.27 262.8v3.1M151.3 262.8v3.1M153.36 262.8v3.1M154.39 262.8v3.1M164.69 262.8v3.1M166.75 262.8v3.1M176.02 262.8v3.1M177.05 262.8v3.1M179.11 262.8v3.1M180.14 262.8v3.1M183.23 262.8v3.1M185.29 262.8v3.1" stroke="#66c2a4" stroke-width="1.08"/>
<path d="M33.88 262.8v3.1M95.67 262.8v3.1M130.69 262.8v3.1M178.08 262.8v3.1" stroke="#48a979" stroke-width="1.08"/>
<path d="M36.97 262.8v3.1M39.02 262.8v3.1M45.2 262.8v3.1M50.36 262.8v3.1M51.39 262.8v3.1M60.66 262.8v3.1M66.84 262.8v3.1M69.92 262.8v3.1M79.2 262.8v3.1M81.25 262.8v3.1M92.59 262.8v3.1M97.73 262.8v3.1M98.77 262.8v3.1M101.86 262.8v3.1M108.03 262.8v3.1M117.3 262.8v3.1M121.42 262.8v3.1M125.55 262.8v3.1M136.88 262.8v3.1M148.21 262.8v3.1M149.24 262.8v3.1M156.45 262.8v3.1M163.66 262.8v3.1" stroke="#90d4c6" stroke-width="1.08"/>
<path d="M41.09 262.8v3.1M46.23 262.8v3.1M52.42 262.8v3.1M54.48 262.8v3.1M119.36 262.8v3.1M132.75 262.8v3.1" stroke="#41a470" stroke-width="1.08"/>
<path d="M42.12 262.8v3.1M47.27 262.8v3.1M48.3 262.8v3.1M55.51 262.8v3.1M57.56 262.8v3.1M58.59 262.8v3.1M61.69 262.8v3.1M62.72 262.8v3.1M70.95 262.8v3.1M73.02 262.8v3.1M76.11 262.8v3.1M93.62 262.8v3.1M96.7 262.8v3.1M100.83 262.8v3.1M102.89 262.8v3.1M116.28 262.8v3.1M120.39 262.8v3.1M123.48 262.8v3.1M124.52 262.8v3.1M126.58 262.8v3.1M127.61 262.8v3.1M128.64 262.8v3.1M133.78 262.8v3.1M135.84 262.8v3.1M137.91 262.8v3.1M139.97 262.8v3.1M144.09 262.8v3.1M155.42 262.8v3.1M160.57 262.8v3.1M165.72 262.8v3.1M168.81 262.8v3.1M169.84 262.8v3.1M172.93 262.8v3.1M173.96 262.8v3.1M174.99 262.8v3.1M181.17 262.8v3.1" stroke="#88d0c0" stroke-width="1.08"/>
<path d="M44.17 262.8v3.1" stroke="#b0e0d4" stroke-width="1.08"/>
<path d="M53.45 262.8v3.1" stroke="#cdeced" stroke-width="1.08"/>
<path d="M67.86 262.8v3.1M161.6 262.8v3.1" stroke="#72bb9b" stroke-width="1.08"/>
<path d="M88.47 262.8v3.1M91.56 262.8v3.1" stroke="#d2eef0" stroke-width="1.08"/>
<path d="M89.5 262.8v3.1M118.33 262.8v3.1M129.67 262.8v3.1M143.06 262.8v3.1" stroke="#a3dacb" stroke-width="1.08"/>
<path d="M152.33 262.8v3.1M158.5 262.8v3.1M182.2 262.8v3.1" stroke="#63b28c" stroke-width="1.08"/>
<path d="M162.63 262.8v3.1" stroke="#7ebc97" stroke-width="1.08"/>
<rect x="31.3" y="266.8" width="53.2" height="3.3" fill="#00d5dc"/>
<rect x="84.5" y="266.8" width="32.1" height="3.3" fill="#e38bef"/>
<rect x="116.6" y="266.8" width="24.1" height="3.3" fill="#00d5dc"/>
<rect x="140.7" y="266.8" width="45.1" height="3.3" fill="#e38bef"/>
<rect x="31.3" y="270.9" width="85.3" height="3.1" fill="#99c712"/>
<rect x="116.6" y="270.9" width="69.2" height="3.1" fill="#fa8c80"/>
<path d="M31.82 275.05v9.1M97.73 275.05v9.1" stroke="#f9e1e4" stroke-width="1.08"/>
<path d="M32.84 275.05v9.1M166.75 293.25v9.1M35.94 375.15v9.1M98.77 411.55v9.1" stroke="#f9edf6" stroke-width="1.08"/>
<path d="M33.88 275.05v9.1M47.27 275.05v9.1M78.17 275.05v9.1M63.75 293.25v9.1M101.86 293.25v9.1M115.25 293.25v9.1M34.91 311.45v9.1M82.28 311.45v9.1M39.02 320.55v9.1M94.64 320.55v9.1M35.94 329.65v9.1M41.09 329.65v9.1M47.27 329.65v9.1M54.48 329.65v9.1M63.75 329.65v9.1M64.78 329.65v9.1M86.41 329.65v9.1M33.88 338.75v9.1M35.94 338.75v9.1M47.27 338.75v9.1M64.78 338.75v9.1M73.02 338.75v9.1M62.72 347.85v9.1M71.98 347.85v9.1M103.91 347.85v9.1M104.94 347.85v9.1M46.23 356.95v9.1M69.92 356.95v9.1M78.17 356.95v9.1M79.2 356.95v9.1M87.44 356.95v9.1M96.7 356.95v9.1M97.73 356.95v9.1M100.83 356.95v9.1M105.97 356.95v9.1M107 356.95v9.1M32.84 366.05v9.1M115.25 366.05v9.1M48.3 375.15v9.1M50.36 375.15v9.1M100.83 375.15v9.1M107 375.15v9.1M115.25 375.15v9.1M33.88 384.25v9.1M34.91 384.25v9.1M39.02 384.25v9.1M70.95 384.25v9.1M86.41 384.25v9.1M101.86 384.25v9.1M99.8 393.35v9.1M110.09 402.45v9.1M38 411.55v9.1M96.7 411.55v9.1" stroke="#e4e4ff" stroke-width="1.08"/>
<path d="M34.91 275.05v9.1M81.25 284.15v9.1M134.81 284.15v9.1M130.69 293.25v9.1M84.34 329.65v9.1M129.67 338.75v9.1M84.34 366.05v9.1M65.81 393.35v9.1M100.83 393.35v9.1M160.57 393.35v9.1M162.63 393.35v9.1M148.21 402.45v9.1M150.27 402.45v9.1M156.45 402.45v9.1" stroke="#f6e7f0" stroke-width="1.08"/>
<path d="M35.94 275.05v9.1M160.57 311.45v9.1M152.33 320.55v9.1M182.2 366.05v9.1M158.5 411.55v9.1" stroke="#ffe7ea" stroke-width="1.08"/>
<path d="M36.97 275.05v9.1M136.88 275.05v9.1M147.18 275.05v9.1M153.36 275.05v9.1M55.51 284.15v9.1M61.69 284.15v9.1M95.67 284.15v9.1M149.24 284.15v9.1M163.66 284.15v9.1M62.72 293.25v9.1M87.44 293.25v9.1M148.21 293.25v9.1M160.57 302.35v9.1M127.61 311.45v9.1M181.17 311.45v9.1M155.42 320.55v9.1M158.5 320.55v9.1M116.28 329.65v9.1M119.36 329.65v9.1M130.69 329.65v9.1M149.24 329.65v9.1M169.84 329.65v9.1M153.36 338.75v9.1M119.36 347.85v9.1M124.52 347.85v9.1M151.3 347.85v9.1M161.6 347.85v9.1M173.96 347.85v9.1M181.17 347.85v9.1M149.24 356.95v9.1M173.96 356.95v9.1M178.08 356.95v9.1M87.44 366.05v9.1M127.61 366.05v9.1M139.97 366.05v9.1M143.06 366.05v9.1M159.54 366.05v9.1M178.08 366.05v9.1M121.42 375.15v9.1M125.55 375.15v9.1M139.97 375.15v9.1M141 375.15v9.1M160.57 375.15v9.1M149.24 384.25v9.1M31.82 393.35v9.1M67.86 393.35v9.1M80.23 393.35v9.1M139.97 402.45v9.1M101.86 411.55v9.1M151.3 411.55v9.1M181.17 411.55v9.1" stroke="#ffe7e7" stroke-width="1.08"/>
<path d="M38 275.05v9.1M53.45 275.05v9.1M151.3 275.05v9.1M137.91 284.15v9.1M133.78 293.25v9.1M167.78 293.25v9.1M35.94 311.45v9.1M77.14 311.45v9.1M78.17 311.45v9.1M100.83 311.45v9.1M38 320.55v9.1M47.27 320.55v9.1M52.42 320.55v9.1M63.75 320.55v9.1M71.98 320.55v9.1M112.16 320.55v9.1M65.81 329.65v9.1M67.86 329.65v9.1M79.2 329.65v9.1M102.89 329.65v9.1M44.17 338.75v9.1M65.81 338.75v9.1M76.11 338.75v9.1M88.47 338.75v9.1M94.64 338.75v9.1M104.94 338.75v9.1M44.17 347.85v9.1M46.23 347.85v9.1M87.44 347.85v9.1M100.83 347.85v9.1M43.15 356.95v9.1M45.2 356.95v9.1M67.86 356.95v9.1M73.02 356.95v9.1M74.05 356.95v9.1M94.64 356.95v9.1M114.22 356.95v9.1M45.2 366.05v9.1M54.48 366.05v9.1M85.38 366.05v9.1M107 366.05v9.1M110.09 366.05v9.1M116.28 366.05v9.1M53.45 375.15v9.1M98.77 375.15v9.1M110.09 375.15v9.1M113.19 375.15v9.1M145.12 375.15v9.1M102.89 384.25v9.1M115.25 384.25v9.1M165.72 384.25v9.1M85.38 393.35v9.1M34.91 402.45v9.1M52.42 402.45v9.1M53.45 402.45v9.1M56.53 402.45v9.1M78.17 402.45v9.1M31.82 411.55v9.1M33.88 411.55v9.1M43.15 411.55v9.1M50.36 411.55v9.1" stroke="#e7e7ff" stroke-width="1.08"/>
<path d="M39.02 275.05v9.1M60.66 275.05v9.1M81.25 275.05v9.1M119.36 275.05v9.1M76.11 284.15v9.1M105.97 284.15v9.1M167.78 284.15v9.1M34.91 293.25v9.1M53.45 293.25v9.1M54.48 293.25v9.1M95.67 293.25v9.1M96.7 293.25v9.1M99.8 293.25v9.1M100.83 293.25v9.1M104.94 293.25v9.1M110.09 293.25v9.1M39.02 302.35v9.1M47.27 302.35v9.1M67.86 302.35v9.1M73.02 302.35v9.1M78.17 302.35v9.1M90.53 302.35v9.1M39.02 311.45v9.1M56.53 311.45v9.1M62.72 311.45v9.1M98.77 311.45v9.1M107 311.45v9.1M53.45 320.55v9.1M58.59 320.55v9.1M60.66 320.55v9.1M74.05 320.55v9.1M83.31 320.55v9.1M84.34 320.55v9.1M103.91 320.55v9.1M57.56 329.65v9.1M77.14 329.65v9.1M98.77 338.75v9.1M103.91 338.75v9.1M73.02 347.85v9.1M101.86 347.85v9.1M34.91 356.95v9.1M80.23 356.95v9.1M33.88 366.05v9.1M40.05 366.05v9.1M88.47 366.05v9.1M93.62 366.05v9.1M101.86 366.05v9.1M104.94 366.05v9.1M33.88 375.15v9.1M108.03 375.15v9.1M41.09 384.25v9.1M51.39 384.25v9.1M80.23 384.25v9.1M84.34 384.25v9.1M104.94 384.25v9.1M46.23 393.35v9.1M127.61 393.35v9.1M176.02 393.35v9.1M36.97 402.45v9.1M87.44 402.45v9.1M98.77 402.45v9.1M45.2 411.55v9.1M84.34 411.55v9.1M89.5 411.55v9.1" stroke="#f3f3ff" stroke-width="1.08"/>
<path d="M40.05 275.05v9.1M84.34 275.05v9.1M152.33 275.05v9.1M36.97 293.25v9.1M45.2 293.25v9.1M66.84 293.25v9.1M89.5 293.25v9.1M184.26 293.25v9.1M46.23 311.45v9.1M76.11 311.45v9.1M89.5 311.45v9.1M93.62 311.45v9.1M99.8 311.45v9.1M114.22 311.45v9.1M55.51 320.55v9.1M57.56 320.55v9.1M66.84 320.55v9.1M78.17 320.55v9.1M93.62 320.55v9.1M32.84 329.65v9.1M38 329.65v9.1M51.39 329.65v9.1M58.59 329.65v9.1M66.84 329.65v9.1M94.64 329.65v9.1M97.73 329.65v9.1M105.97 329.65v9.1M115.25 329.65v9.1M40.05 338.75v9.1M66.84 338.75v9.1M90.53 338.75v9.1M92.59 338.75v9.1M105.97 338.75v9.1M110.09 338.75v9.1M112.16 338.75v9.1M114.22 338.75v9.1M59.62 347.85v9.1M64.78 347.85v9.1M79.2 347.85v9.1M84.34 347.85v9.1M95.67 347.85v9.1M111.12 347.85v9.1M42.12 356.95v9.1M56.53 356.95v9.1M61.69 356.95v9.1M88.47 356.95v9.1M90.53 356.95v9.1M95.67 356.95v9.1M110.09 356.95v9.1M95.67 366.05v9.1M114.22 366.05v9.1M63.75 375.15v9.1M64.78 375.15v9.1M104.94 375.15v9.1M114.22 375.15v9.1M180.14 375.15v9.1M42.12 384.25v9.1M78.17 384.25v9.1M92.59 384.25v9.1M95.67 384.25v9.1M108.03 384.25v9.1M110.09 393.35v9.1M50.36 402.45v9.1M55.51 402.45v9.1M70.95 402.45v9.1M82.28 402.45v9.1M108.03 402.45v9.1M112.16 402.45v9.1M114.22 402.45v9.1M42.12 411.55v9.1M78.17 411.55v9.1M91.56 411.55v9.1M113.19 411.55v9.1" stroke="#eaeaff" stroke-width="1.08"/>
<path d="M41.09 275.05v9.1M65.81 275.05v9.1M129.67 275.05v9.1M132.75 275.05v9.1M134.81 275.05v9.1M165.72 275.05v9.1M167.78 275.05v9.1M174.99 275.05v9.1M32.84 284.15v9.1M126.58 284.15v9.1M142.03 284.15v9.1M150.27 284.15v9.1M160.57 284.15v9.1M184.26 284.15v9.1M41.09 302.35v9.1M99.8 302.35v9.1M141 302.35v9.1M142.03 302.35v9.1M143.06 302.35v9.1M154.39 302.35v9.1M162.63 302.35v9.1M169.84 302.35v9.1M142.03 311.45v9.1M166.75 311.45v9.1M122.45 320.55v9.1M139.97 320.55v9.1M156.45 320.55v9.1M176.02 320.55v9.1M178.08 329.65v9.1M79.2 338.75v9.1M111.12 338.75v9.1M142.03 338.75v9.1M143.06 338.75v9.1M144.09 338.75v9.1M156.45 338.75v9.1M160.57 338.75v9.1M182.2 338.75v9.1M184.26 338.75v9.1M77.14 347.85v9.1M120.39 347.85v9.1M158.5 347.85v9.1M123.48 356.95v9.1M151.3 356.95v9.1M169.84 356.95v9.1M91.56 366.05v9.1M174.99 366.05v9.1M181.17 366.05v9.1M71.98 375.15v9.1M79.2 375.15v9.1M176.02 375.15v9.1M120.39 384.25v9.1M138.94 384.25v9.1M141 384.25v9.1M160.57 384.25v9.1M161.6 384.25v9.1M119.36 393.35v9.1M131.72 393.35v9.1M137.91 393.35v9.1M144.09 393.35v9.1M105.97 402.45v9.1M129.67 402.45v9.1M151.3 402.45v9.1M166.75 402.45v9.1M176.02 402.45v9.1M105.97 411.55v9.1M114.22 411.55v9.1M133.78 411.55v9.1M139.97 411.55v9.1" stroke="#fff0f0" stroke-width="1.08"/>
<path d="M42.12 275.05v9.1M51.39 275.05v9.1M62.72 275.05v9.1M182.2 275.05v9.1M102.89 284.15v9.1M107 284.15v9.1M92.59 293.25v9.1M107 293.25v9.1M121.42 293.25v9.1M143.06 293.25v9.1M154.39 293.25v9.1M64.78 302.35v9.1M100.83 302.35v9.1M31.82 311.45v9.1M50.36 311.45v9.1M58.59 311.45v9.1M66.84 311.45v9.1M70.95 311.45v9.1M74.05 311.45v9.1M102.89 311.45v9.1M109.06 311.45v9.1M35.94 320.55v9.1M70.95 320.55v9.1M73.02 320.55v9.1M76.11 320.55v9.1M87.44 320.55v9.1M107 320.55v9.1M39.02 329.65v9.1M89.5 329.65v9.1M107 329.65v9.1M109.06 329.65v9.1M38 338.75v9.1M38 347.85v9.1M42.12 347.85v9.1M57.56 347.85v9.1M67.86 347.85v9.1M80.23 347.85v9.1M81.25 347.85v9.1M97.73 347.85v9.1M102.89 347.85v9.1M36.97 356.95v9.1M57.56 356.95v9.1M58.59 356.95v9.1M64.78 356.95v9.1M84.34 356.95v9.1M92.59 356.95v9.1M109.06 356.95v9.1M148.21 356.95v9.1M36.97 366.05v9.1M50.36 366.05v9.1M56.53 366.05v9.1M65.81 366.05v9.1M78.17 366.05v9.1M79.2 366.05v9.1M97.73 366.05v9.1M99.8 366.05v9.1M32.84 375.15v9.1M36.97 375.15v9.1M40.05 375.15v9.1M46.23 375.15v9.1M85.38 375.15v9.1M89.5 375.15v9.1M91.56 375.15v9.1M95.67 375.15v9.1M89.5 384.25v9.1M96.7 384.25v9.1M107 384.25v9.1M116.28 384.25v9.1M176.02 384.25v9.1M86.41 393.35v9.1M87.44 393.35v9.1M101.86 393.35v9.1M108.03 393.35v9.1M109.06 393.35v9.1M132.75 393.35v9.1M32.84 402.45v9.1M42.12 402.45v9.1M74.05 402.45v9.1M92.59 402.45v9.1M39.02 411.55v9.1M47.27 411.55v9.1M67.86 411.55v9.1M80.23 411.55v9.1M81.25 411.55v9.1" stroke="#ededff" stroke-width="1.08"/>
<path d="M43.15 275.05v9.1M56.53 275.05v9.1M80.23 275.05v9.1M95.67 275.05v9.1M96.7 275.05v9.1M33.88 284.15v9.1M154.39 284.15v9.1M173.96 284.15v9.1M52.42 293.25v9.1M74.05 293.25v9.1M98.77 293.25v9.1M123.48 293.25v9.1M52.42 302.35v9.1M86.41 302.35v9.1M126.58 302.35v9.1M53.45 311.45v9.1M61.69 311.45v9.1M86.41 311.45v9.1M96.7 311.45v9.1M112.16 311.45v9.1M59.62 320.55v9.1M81.25 320.55v9.1M92.59 320.55v9.1M102.89 320.55v9.1M48.3 329.65v9.1M113.19 329.65v9.1M36.97 338.75v9.1M53.45 338.75v9.1M56.53 338.75v9.1M80.23 338.75v9.1M81.25 338.75v9.1M82.28 338.75v9.1M84.34 338.75v9.1M87.44 338.75v9.1M91.56 338.75v9.1M158.5 338.75v9.1M63.75 347.85v9.1M66.84 347.85v9.1M92.59 347.85v9.1M93.62 347.85v9.1M115.25 347.85v9.1M33.88 356.95v9.1M65.81 356.95v9.1M68.89 356.95v9.1M71.98 356.95v9.1M75.08 356.95v9.1M102.89 356.95v9.1M103.91 356.95v9.1M112.16 356.95v9.1M113.19 356.95v9.1M34.91 366.05v9.1M42.12 366.05v9.1M44.17 366.05v9.1M51.39 366.05v9.1M113.19 366.05v9.1M68.89 375.15v9.1M94.64 375.15v9.1M102.89 375.15v9.1M111.12 375.15v9.1M174.99 375.15v9.1M32.84 384.25v9.1M47.27 384.25v9.1M82.28 384.25v9.1M93.62 384.25v9.1M99.8 384.25v9.1M39.02 393.35v9.1M88.47 393.35v9.1M90.53 393.35v9.1M92.59 393.35v9.1M114.22 393.35v9.1M40.05 402.45v9.1M48.3 402.45v9.1M60.66 402.45v9.1M83.31 402.45v9.1M84.34 402.45v9.1M32.84 411.55v9.1M41.09 411.55v9.1M76.11 411.55v9.1M94.64 411.55v9.1M166.75 411.55v9.1" stroke="#f0f0ff" stroke-width="1.08"/>
<path d="M44.17 275.05v9.1M139.97 284.15v9.1M163.66 311.45v9.1" stroke="#f6dbe4" stroke-width="1.08"/>
<path d="M45.2 275.05v9.1M80.23 311.45v9.1M89.5 402.45v9.1" stroke="#dedbfc" stroke-width="1.08"/>
<path d="M46.23 275.05v9.1M93.62 275.05v9.1M85.38 284.15v9.1M77.14 293.25v9.1M103.91 293.25v9.1M109.06 293.25v9.1M145.12 293.25v9.1M43.15 311.45v9.1M108.03 320.55v9.1M62.72 329.65v9.1M81.25 329.65v9.1M48.3 338.75v9.1M113.19 338.75v9.1M68.89 347.85v9.1M176.02 347.85v9.1M146.15 356.95v9.1M80.23 366.05v9.1M59.62 375.15v9.1M70.95 375.15v9.1M55.51 384.25v9.1M166.75 384.25v9.1M177.05 384.25v9.1M45.2 393.35v9.1M49.33 393.35v9.1M74.05 393.35v9.1M117.3 393.35v9.1M152.33 393.35v9.1M86.41 402.45v9.1M117.3 402.45v9.1M71.98 411.55v9.1M82.28 411.55v9.1" stroke="#f6f0f9" stroke-width="1.08"/>
<path d="M48.3 275.05v9.1M112.16 275.05v9.1M67.86 293.25v9.1M80.23 293.25v9.1M116.28 293.25v9.1M59.62 311.45v9.1M44.17 320.55v9.1M33.88 329.65v9.1M40.05 329.65v9.1M68.89 329.65v9.1M32.84 338.75v9.1M43.15 338.75v9.1M89.5 338.75v9.1M39.02 347.85v9.1M40.05 347.85v9.1M43.15 347.85v9.1M56.53 347.85v9.1M70.95 347.85v9.1M78.17 347.85v9.1M82.28 347.85v9.1M114.22 347.85v9.1M32.84 356.95v9.1M52.42 356.95v9.1M55.51 356.95v9.1M86.41 366.05v9.1M94.64 366.05v9.1M109.06 366.05v9.1M61.69 375.15v9.1M62.72 375.15v9.1M92.59 375.15v9.1M97.73 375.15v9.1M99.8 375.15v9.1M105.97 375.15v9.1M112.16 375.15v9.1M40.05 384.25v9.1M61.69 384.25v9.1M68.89 384.25v9.1M85.38 384.25v9.1M88.47 384.25v9.1M98.77 393.35v9.1M33.88 402.45v9.1M51.39 402.45v9.1M61.69 402.45v9.1M66.84 411.55v9.1" stroke="#e1e1ff" stroke-width="1.08"/>
<path d="M49.33 275.05v9.1M82.28 293.25v9.1M86.41 293.25v9.1M156.45 293.25v9.1M164.69 293.25v9.1M173.96 293.25v9.1M65.81 302.35v9.1M119.36 302.35v9.1M120.39 302.35v9.1M73.02 311.45v9.1M152.33 311.45v9.1M125.55 320.55v9.1M83.31 329.65v9.1M112.16 329.65v9.1M54.48 338.75v9.1M75.08 347.85v9.1M130.69 347.85v9.1M162.63 347.85v9.1M52.42 366.05v9.1M134.81 393.35v9.1M63.75 402.45v9.1M111.12 402.45v9.1M60.66 411.55v9.1M95.67 411.55v9.1M103.91 411.55v9.1M117.3 411.55v9.1M157.47 411.55v9.1" stroke="#f9f6fc" stroke-width="1.08"/>
<path d="M50.36 275.05v9.1" stroke="#f0deed" stroke-width="1.08"/>
<path d="M52.42 275.05v9.1M53.45 329.65v9.1M90.53 347.85v9.1M182.2 356.95v9.1M58.59 411.55v9.1" stroke="#f9f0f9" stroke-width="1.08"/>
<path d="M54.48 275.05v9.1M171.9 275.05v9.1M49.33 284.15v9.1M75.08 284.15v9.1M90.53 293.25v9.1" stroke="#f9f9fc" stroke-width="1.08"/>
<path d="M55.51 275.05v9.1M149.24 275.05v9.1M50.36 284.15v9.1M122.45 284.15v9.1M125.55 284.15v9.1M164.69 284.15v9.1M50.36 293.25v9.1M105.97 293.25v9.1M137.91 293.25v9.1M142.03 293.25v9.1M51.39 302.35v9.1M155.42 311.45v9.1M32.84 320.55v9.1M88.47 320.55v9.1M55.51 329.65v9.1M46.23 338.75v9.1M102.89 338.75v9.1M167.78 338.75v9.1M89.5 347.85v9.1M134.81 347.85v9.1M99.8 356.95v9.1M126.58 375.15v9.1M127.61 375.15v9.1M142.03 384.25v9.1M116.28 393.35v9.1M139.97 393.35v9.1M183.23 393.35v9.1M58.59 402.45v9.1M107 402.45v9.1M113.19 402.45v9.1M122.45 402.45v9.1M62.72 411.55v9.1M65.81 411.55v9.1M86.41 411.55v9.1M104.94 411.55v9.1M120.39 411.55v9.1" stroke="#f9f3f9" stroke-width="1.08"/>
<path d="M57.56 275.05v9.1M85.38 275.05v9.1M180.14 284.15v9.1M158.5 293.25v9.1M181.17 293.25v9.1M50.36 302.35v9.1M135.84 320.55v9.1M163.66 320.55v9.1M101.86 329.65v9.1M107 338.75v9.1M155.42 338.75v9.1M121.42 356.95v9.1M170.87 356.95v9.1M180.14 356.95v9.1M117.3 384.25v9.1M133.78 384.25v9.1M158.5 402.45v9.1M173.96 402.45v9.1M46.23 411.55v9.1" stroke="#fcedf0" stroke-width="1.08"/>
<path d="M58.59 275.05v9.1M151.3 366.05v9.1" stroke="#f3e1ed" stroke-width="1.08"/>
<path d="M59.62 275.05v9.1M156.45 275.05v9.1M34.91 347.85v9.1M47.27 347.85v9.1M169.84 347.85v9.1M71.98 402.45v9.1" stroke="#f3f0f9" stroke-width="1.08"/>
<path d="M61.69 275.05v9.1M86.41 284.15v9.1M94.64 293.25v9.1M96.7 302.35v9.1M71.98 311.45v9.1M88.47 311.45v9.1M104.94 320.55v9.1M59.62 329.65v9.1M90.53 329.65v9.1M181.17 329.65v9.1M69.92 338.75v9.1M101.86 338.75v9.1M174.99 356.95v9.1M57.56 366.05v9.1M130.69 375.15v9.1M91.56 384.25v9.1M91.56 393.35v9.1M41.09 402.45v9.1M46.23 402.45v9.1M66.84 402.45v9.1M52.42 411.55v9.1M68.89 411.55v9.1" stroke="#f0edfc" stroke-width="1.08"/>
<path d="M63.75 275.05v9.1M138.94 275.05v9.1M164.69 275.05v9.1M177.05 275.05v9.1M47.27 284.15v9.1M131.72 284.15v9.1M136.88 284.15v9.1M141 284.15v9.1M168.81 284.15v9.1M171.9 284.15v9.1M135.84 311.45v9.1M150.27 311.45v9.1M131.72 320.55v9.1M148.21 320.55v9.1M179.11 320.55v9.1M180.14 320.55v9.1M124.52 329.65v9.1M125.55 329.65v9.1M128.64 329.65v9.1M139.97 329.65v9.1M152.33 329.65v9.1M154.39 329.65v9.1M156.45 329.65v9.1M162.63 329.65v9.1M165.72 329.65v9.1M168.81 329.65v9.1M170.87 329.65v9.1M171.9 329.65v9.1M122.45 338.75v9.1M134.81 338.75v9.1M152.33 338.75v9.1M173.96 338.75v9.1M176.02 338.75v9.1M177.05 338.75v9.1M129.67 356.95v9.1M133.78 356.95v9.1M134.81 356.95v9.1M125.55 366.05v9.1M141 366.05v9.1M147.18 366.05v9.1M177.05 366.05v9.1M134.81 375.15v9.1M136.88 375.15v9.1M165.72 375.15v9.1M156.45 384.25v9.1M63.75 393.35v9.1M128.64 402.45v9.1M154.39 402.45v9.1M155.42 402.45v9.1M165.72 402.45v9.1M171.9 402.45v9.1M180.14 402.45v9.1M143.06 411.55v9.1M155.42 411.55v9.1M159.54 411.55v9.1M160.57 411.55v9.1M164.69 411.55v9.1M168.81 411.55v9.1M180.14 411.55v9.1" stroke="#ffe4e4" stroke-width="1.08"/>
<path d="M64.78 275.05v9.1M77.14 275.05v9.1M36.97 311.45v9.1M40.05 311.45v9.1M62.72 320.55v9.1M82.28 320.55v9.1M34.91 329.65v9.1M50.36 329.65v9.1M96.7 329.65v9.1M67.86 338.75v9.1M93.62 338.75v9.1M115.25 338.75v9.1M38 356.95v9.1M54.48 356.95v9.1M116.28 356.95v9.1M38 366.05v9.1M60.66 366.05v9.1M89.5 366.05v9.1M62.72 384.25v9.1M65.81 402.45v9.1M79.2 402.45v9.1M64.78 411.55v9.1M79.2 411.55v9.1" stroke="#dbdbff" stroke-width="1.08"/>
<path d="M66.84 275.05v9.1M83.31 275.05v9.1M107 275.05v9.1M125.55 275.05v9.1M115.25 284.15v9.1M177.05 284.15v9.1M135.84 293.25v9.1M34.91 320.55v9.1M75.08 320.55v9.1M49.33 356.95v9.1M53.45 366.05v9.1M47.27 375.15v9.1M98.77 384.25v9.1M113.19 393.35v9.1M77.14 402.45v9.1M115.25 411.55v9.1" stroke="#f0eaf9" stroke-width="1.08"/>
<path d="M67.86 275.05v9.1M64.78 311.45v9.1M61.69 320.55v9.1M85.38 338.75v9.1M183.23 356.95v9.1M171.9 375.15v9.1" stroke="#f3f3fc" stroke-width="1.08"/>
<path d="M68.89 275.05v9.1M86.41 275.05v9.1M157.47 275.05v9.1M96.7 284.15v9.1M116.28 284.15v9.1M128.64 284.15v9.1M113.19 293.25v9.1M144.09 293.25v9.1M33.88 302.35v9.1M36.97 302.35v9.1M44.17 302.35v9.1M56.53 302.35v9.1M58.59 302.35v9.1M59.62 302.35v9.1M66.84 302.35v9.1M79.2 302.35v9.1M89.5 302.35v9.1M94.64 302.35v9.1M95.67 302.35v9.1M121.42 302.35v9.1M127.61 302.35v9.1M130.69 302.35v9.1M135.84 302.35v9.1M184.26 311.45v9.1M109.06 320.55v9.1M31.82 338.75v9.1M33.88 347.85v9.1M51.39 356.95v9.1M59.62 393.35v9.1" stroke="#f9f9ff" stroke-width="1.08"/>
<path d="M69.92 275.05v9.1M181.17 284.15v9.1M169.84 293.25v9.1M44.17 311.45v9.1M65.81 320.55v9.1M71.98 338.75v9.1M109.06 347.85v9.1M66.84 356.95v9.1M81.25 356.95v9.1M101.86 356.95v9.1M127.61 356.95v9.1M117.3 375.15v9.1M33.88 393.35v9.1M171.9 393.35v9.1M59.62 402.45v9.1M81.25 402.45v9.1M55.51 411.55v9.1" stroke="#f6edf6" stroke-width="1.08"/>
<path d="M70.95 275.05v9.1M82.28 275.05v9.1M87.44 275.05v9.1M143.06 275.05v9.1M110.09 284.15v9.1M147.18 284.15v9.1M148.21 284.15v9.1M32.84 293.25v9.1M161.6 293.25v9.1M144.09 302.35v9.1M51.39 320.55v9.1M126.58 320.55v9.1M121.42 329.65v9.1M177.05 329.65v9.1M51.39 338.75v9.1M169.84 338.75v9.1M152.33 347.85v9.1M153.36 347.85v9.1M135.84 356.95v9.1M58.59 375.15v9.1M162.63 375.15v9.1M71.98 384.25v9.1M146.15 384.25v9.1M150.27 384.25v9.1M82.28 393.35v9.1M135.84 393.35v9.1M167.78 393.35v9.1M177.05 393.35v9.1M125.55 402.45v9.1M127.61 402.45v9.1M132.75 402.45v9.1M184.26 402.45v9.1M90.53 411.55v9.1M100.83 411.55v9.1M173.96 411.55v9.1M177.05 411.55v9.1" stroke="#fcf3f6" stroke-width="1.08"/>
<path d="M71.98 275.05v9.1M92.59 284.15v9.1M97.73 284.15v9.1M117.3 293.25v9.1M110.09 320.55v9.1M98.77 329.65v9.1M148.21 329.65v9.1M50.36 338.75v9.1M55.51 338.75v9.1M53.45 347.85v9.1M111.12 366.05v9.1M44.17 384.25v9.1M76.11 402.45v9.1M87.44 411.55v9.1M110.09 411.55v9.1" stroke="#f3eaf6" stroke-width="1.08"/>
<path d="M73.02 275.05v9.1M63.75 284.15v9.1M90.53 284.15v9.1M183.23 284.15v9.1M43.15 320.55v9.1M86.41 320.55v9.1M58.59 338.75v9.1M48.3 356.95v9.1M82.28 356.95v9.1M157.47 366.05v9.1M45.2 375.15v9.1M77.14 375.15v9.1M60.66 384.25v9.1M63.75 384.25v9.1M50.36 393.35v9.1M78.17 393.35v9.1M137.91 402.45v9.1" stroke="#ede7f9" stroke-width="1.08"/>
<path d="M74.05 275.05v9.1" stroke="#fce4ea" stroke-width="1.08"/>
<path d="M75.08 275.05v9.1M115.25 275.05v9.1M40.05 284.15v9.1M121.42 284.15v9.1M57.56 293.25v9.1M68.89 338.75v9.1M63.75 356.95v9.1M48.3 366.05v9.1M103.91 375.15v9.1M64.78 384.25v9.1M76.11 384.25v9.1M69.92 393.35v9.1M97.73 393.35v9.1M151.3 393.35v9.1M75.08 402.45v9.1M85.38 402.45v9.1M101.86 402.45v9.1M135.84 402.45v9.1M97.73 411.55v9.1" stroke="#edeafc" stroke-width="1.08"/>
<path d="M76.11 275.05v9.1M46.23 293.25v9.1M114.22 320.55v9.1" stroke="#edeaf9" stroke-width="1.08"/>
<path d="M79.2 275.05v9.1M79.2 284.15v9.1M99.8 284.15v9.1M112.16 284.15v9.1M166.75 284.15v9.1M31.82 302.35v9.1M35.94 302.35v9.1M42.12 302.35v9.1M43.15 302.35v9.1M45.2 302.35v9.1M48.3 302.35v9.1M53.45 302.35v9.1M75.08 302.35v9.1M84.34 302.35v9.1M92.59 302.35v9.1M97.73 302.35v9.1M103.91 302.35v9.1M112.16 302.35v9.1M115.25 302.35v9.1M118.33 302.35v9.1M133.78 302.35v9.1M101.86 311.45v9.1M108.03 311.45v9.1M116.28 320.55v9.1M88.47 329.65v9.1M145.12 329.65v9.1M155.42 329.65v9.1M112.16 347.85v9.1M152.33 375.15v9.1M84.34 393.35v9.1M69.92 411.55v9.1" stroke="#fcfcff" stroke-width="1.08"/>
<path d="M88.47 275.05v9.1M144.09 275.05v9.1M160.57 275.05v9.1M178.08 275.05v9.1M185.29 275.05v9.1M43.15 284.15v9.1M52.42 284.15v9.1M65.81 284.15v9.1M66.84 284.15v9.1M101.86 284.15v9.1M182.2 284.15v9.1M33.88 293.25v9.1M48.3 293.25v9.1M91.56 302.35v9.1M93.62 302.35v9.1M113.19 302.35v9.1M131.72 302.35v9.1M157.47 302.35v9.1M165.72 302.35v9.1M105.97 311.45v9.1M125.55 311.45v9.1M41.09 320.55v9.1M69.92 320.55v9.1M166.75 320.55v9.1M45.2 329.65v9.1M166.75 338.75v9.1M174.99 338.75v9.1M148.21 366.05v9.1M166.75 366.05v9.1M31.82 375.15v9.1M84.34 375.15v9.1M118.33 375.15v9.1M143.06 375.15v9.1M148.21 375.15v9.1M97.73 402.45v9.1M48.3 411.55v9.1M92.59 411.55v9.1" stroke="#fcf6f9" stroke-width="1.08"/>
<path d="M89.5 275.05v9.1" stroke="#f0d2e4" stroke-width="1.08"/>
<path d="M90.53 275.05v9.1M40.05 293.25v9.1M52.42 311.45v9.1M74.05 347.85v9.1M85.38 356.95v9.1M115.25 356.95v9.1M52.42 375.15v9.1M86.41 375.15v9.1M102.89 393.35v9.1M62.72 402.45v9.1" stroke="#d8d8ff" stroke-width="1.08"/>
<path d="M91.56 275.05v9.1M130.69 275.05v9.1M162.63 284.15v9.1M170.87 284.15v9.1M128.64 293.25v9.1M87.44 302.35v9.1M139.97 302.35v9.1M149.24 302.35v9.1M151.3 302.35v9.1M153.36 302.35v9.1M158.5 302.35v9.1M161.6 302.35v9.1M172.93 302.35v9.1M178.08 302.35v9.1M180.14 302.35v9.1M171.9 311.45v9.1M95.67 320.55v9.1M143.06 320.55v9.1M154.39 338.75v9.1M105.97 347.85v9.1M147.18 347.85v9.1M157.47 347.85v9.1M167.78 347.85v9.1M126.58 356.95v9.1M184.26 356.95v9.1M59.62 366.05v9.1M42.12 375.15v9.1M177.05 375.15v9.1M35.94 384.25v9.1M57.56 384.25v9.1M136.88 384.25v9.1M54.48 393.35v9.1M70.95 393.35v9.1M118.33 393.35v9.1M128.64 393.35v9.1M171.9 411.55v9.1M172.93 411.55v9.1" stroke="#fff6f6" stroke-width="1.08"/>
<path d="M92.59 275.05v9.1M56.53 293.25v9.1M92.59 329.65v9.1M59.62 338.75v9.1M60.66 338.75v9.1M157.47 375.15v9.1" stroke="#e7e1f9" stroke-width="1.08"/>
<path d="M94.64 275.05v9.1M133.78 275.05v9.1M45.2 284.15v9.1M138.94 284.15v9.1M158.5 284.15v9.1M169.84 284.15v9.1M84.34 293.25v9.1M49.33 302.35v9.1M71.98 302.35v9.1M104.94 302.35v9.1M109.06 302.35v9.1M111.12 302.35v9.1M136.88 302.35v9.1M148.21 302.35v9.1M156.45 302.35v9.1M159.54 302.35v9.1M166.75 302.35v9.1M177.05 302.35v9.1M183.23 302.35v9.1M94.64 311.45v9.1M146.15 311.45v9.1M71.98 329.65v9.1M137.91 338.75v9.1M165.72 347.85v9.1M182.2 347.85v9.1M158.5 356.95v9.1M179.11 356.95v9.1M144.09 375.15v9.1M164.69 375.15v9.1M112.16 384.25v9.1M163.66 384.25v9.1M169.84 384.25v9.1M48.3 393.35v9.1M58.59 393.35v9.1M61.69 393.35v9.1M122.45 393.35v9.1M138.94 393.35v9.1M146.15 393.35v9.1M150.27 393.35v9.1M184.26 393.35v9.1M118.33 402.45v9.1M134.81 402.45v9.1M83.31 411.55v9.1" stroke="#fff9f9" stroke-width="1.08"/>
<path d="M98.77 275.05v9.1" stroke="#fce1e1" stroke-width="1.08"/>
<path d="M99.8 275.05v9.1M108.03 275.05v9.1M109.06 275.05v9.1M122.45 275.05v9.1M135.84 275.05v9.1M51.39 284.15v9.1M70.95 284.15v9.1M58.59 293.25v9.1M60.66 293.25v9.1M163.66 293.25v9.1M183.23 293.25v9.1M32.84 311.45v9.1M120.39 320.55v9.1M133.78 320.55v9.1M127.61 338.75v9.1M124.52 356.95v9.1M161.6 356.95v9.1M117.3 366.05v9.1M162.63 366.05v9.1M184.26 366.05v9.1M34.91 375.15v9.1M128.64 375.15v9.1M131.72 375.15v9.1M131.72 384.25v9.1M35.94 393.35v9.1M53.45 393.35v9.1M154.39 393.35v9.1M163.66 393.35v9.1M181.17 393.35v9.1M130.69 402.45v9.1M143.06 402.45v9.1M185.29 402.45v9.1M116.28 411.55v9.1" stroke="#fcf0f3" stroke-width="1.08"/>
<path d="M100.83 275.05v9.1M93.62 284.15v9.1M127.61 284.15v9.1M38 293.25v9.1M125.55 293.25v9.1M159.54 293.25v9.1M47.27 311.45v9.1M104.94 311.45v9.1M31.82 320.55v9.1M61.69 329.65v9.1M69.92 329.65v9.1M100.83 338.75v9.1M55.51 347.85v9.1M65.81 347.85v9.1M68.89 366.05v9.1M44.17 375.15v9.1M56.53 375.15v9.1M38 384.25v9.1M68.89 402.45v9.1M96.7 402.45v9.1M104.94 402.45v9.1" stroke="#f3f0fc" stroke-width="1.08"/>
<path d="M101.86 275.05v9.1M181.17 338.75v9.1M155.42 347.85v9.1M154.39 356.95v9.1M146.15 402.45v9.1" stroke="#fff0f3" stroke-width="1.08"/>
<path d="M102.89 275.05v9.1M166.75 275.05v9.1M170.87 275.05v9.1M54.48 284.15v9.1M113.19 284.15v9.1M124.52 284.15v9.1M130.69 284.15v9.1M133.78 284.15v9.1M179.11 284.15v9.1M71.98 293.25v9.1M139.97 293.25v9.1M170.87 293.25v9.1M172.93 293.25v9.1M178.08 293.25v9.1M163.66 302.35v9.1M168.81 302.35v9.1M179.11 302.35v9.1M134.81 311.45v9.1M145.12 311.45v9.1M153.36 311.45v9.1M156.45 311.45v9.1M185.29 311.45v9.1M138.94 320.55v9.1M149.24 320.55v9.1M151.3 320.55v9.1M174.99 320.55v9.1M108.03 338.75v9.1M131.72 338.75v9.1M145.12 338.75v9.1M146.15 338.75v9.1M149.24 338.75v9.1M170.87 338.75v9.1M180.14 338.75v9.1M121.42 347.85v9.1M122.45 347.85v9.1M131.72 347.85v9.1M148.21 347.85v9.1M179.11 347.85v9.1M119.36 356.95v9.1M139.97 356.95v9.1M147.18 356.95v9.1M160.57 356.95v9.1M162.63 356.95v9.1M176.02 356.95v9.1M177.05 356.95v9.1M122.45 366.05v9.1M130.69 366.05v9.1M146.15 366.05v9.1M185.29 366.05v9.1M138.94 375.15v9.1M150.27 375.15v9.1M124.52 384.25v9.1M129.67 384.25v9.1M151.3 384.25v9.1M173.96 384.25v9.1M182.2 384.25v9.1M44.17 393.35v9.1M133.78 393.35v9.1M158.5 393.35v9.1M165.72 393.35v9.1M121.42 402.45v9.1M170.87 402.45v9.1M124.52 411.55v9.1M137.91 411.55v9.1M153.36 411.55v9.1M156.45 411.55v9.1M162.63 411.55v9.1M179.11 411.55v9.1" stroke="#ffeaea" stroke-width="1.08"/>
<path d="M103.91 275.05v9.1M107 302.35v9.1M151.3 375.15v9.1M170.87 393.35v9.1" stroke="#fcf0f6" stroke-width="1.08"/>
<path d="M104.94 275.05v9.1M120.39 275.05v9.1M137.91 275.05v9.1M31.82 293.25v9.1M41.09 293.25v9.1M136.88 293.25v9.1M141 293.25v9.1M160.57 293.25v9.1M180.14 293.25v9.1M57.56 302.35v9.1M147.18 302.35v9.1M150.27 302.35v9.1M164.69 302.35v9.1M171.9 302.35v9.1M174.99 302.35v9.1M181.17 302.35v9.1M120.39 311.45v9.1M137.91 320.55v9.1M177.05 320.55v9.1M133.78 329.65v9.1M70.95 338.75v9.1M133.78 338.75v9.1M141 338.75v9.1M157.47 338.75v9.1M126.58 347.85v9.1M146.15 347.85v9.1M184.26 347.85v9.1M145.12 356.95v9.1M164.69 356.95v9.1M168.81 356.95v9.1M76.11 366.05v9.1M160.57 366.05v9.1M165.72 366.05v9.1M180.14 366.05v9.1M55.51 375.15v9.1M137.91 375.15v9.1M142.03 375.15v9.1M169.84 375.15v9.1M173.96 375.15v9.1M36.97 384.25v9.1M137.91 384.25v9.1M171.9 384.25v9.1M42.12 393.35v9.1M120.39 393.35v9.1M143.06 393.35v9.1M115.25 402.45v9.1M133.78 402.45v9.1M168.81 402.45v9.1M161.6 411.55v9.1M183.23 411.55v9.1" stroke="#fff3f3" stroke-width="1.08"/>
<path d="M105.97 275.05v9.1M158.5 275.05v9.1M172.93 275.05v9.1M70.95 293.25v9.1M131.72 311.45v9.1M134.81 320.55v9.1" stroke="#fcf0f0" stroke-width="1.08"/>
<path d="M110.09 275.05v9.1" stroke="#ffe4e7" stroke-width="1.08"/>
<path d="M111.12 275.05v9.1M48.3 284.15v9.1M123.48 284.15v9.1M35.94 293.25v9.1M91.56 311.45v9.1M125.55 338.75v9.1M58.59 347.85v9.1M166.75 347.85v9.1M142.03 356.95v9.1M135.84 366.05v9.1M81.25 375.15v9.1M149.24 375.15v9.1M124.52 393.35v9.1M93.62 402.45v9.1M131.72 411.55v9.1" stroke="#f9eaf0" stroke-width="1.08"/>
<path d="M113.19 275.05v9.1M133.78 375.15v9.1M43.15 393.35v9.1M35.94 402.45v9.1" stroke="#f3e4f0" stroke-width="1.08"/>
<path d="M114.22 275.05v9.1M74.05 329.65v9.1M100.83 366.05v9.1M100.83 384.25v9.1M109.06 384.25v9.1" stroke="#f3eaf9" stroke-width="1.08"/>
<path d="M116.28 275.05v9.1M171.9 293.25v9.1" stroke="#f6e4f0" stroke-width="1.08"/>
<path d="M117.3 275.05v9.1M39.02 284.15v9.1M41.09 284.15v9.1M120.39 284.15v9.1M145.12 284.15v9.1M68.89 293.25v9.1M69.92 311.45v9.1M76.11 329.65v9.1M108.03 329.65v9.1M159.54 356.95v9.1M133.78 366.05v9.1M155.42 366.05v9.1M153.36 375.15v9.1M159.54 375.15v9.1M155.42 384.25v9.1M95.67 393.35v9.1M112.16 393.35v9.1M173.96 393.35v9.1M178.08 393.35v9.1M174.99 411.55v9.1" stroke="#f9f0f6" stroke-width="1.08"/>
<path d="M118.33 275.05v9.1M31.82 329.65v9.1M158.5 329.65v9.1M45.2 338.75v9.1M77.14 338.75v9.1M145.12 366.05v9.1M60.66 375.15v9.1M67.86 384.25v9.1" stroke="#f6edf9" stroke-width="1.08"/>
<path d="M121.42 275.05v9.1M173.96 275.05v9.1M44.17 284.15v9.1M89.5 284.15v9.1M73.02 293.25v9.1M146.15 302.35v9.1M51.39 311.45v9.1M103.91 311.45v9.1M68.89 320.55v9.1M59.62 356.95v9.1M73.02 366.05v9.1" stroke="#f0e7f6" stroke-width="1.08"/>
<path d="M123.48 275.05v9.1M176.02 275.05v9.1M38 284.15v9.1M56.53 284.15v9.1M67.86 284.15v9.1M71.98 284.15v9.1M84.34 284.15v9.1M87.44 284.15v9.1M135.84 284.15v9.1M151.3 284.15v9.1M161.6 284.15v9.1M165.72 284.15v9.1M49.33 293.25v9.1M131.72 293.25v9.1M138.94 293.25v9.1M146.15 293.25v9.1M151.3 293.25v9.1M170.87 302.35v9.1M185.29 302.35v9.1M87.44 311.45v9.1M97.73 311.45v9.1M136.88 311.45v9.1M138.94 311.45v9.1M141 311.45v9.1M157.47 311.45v9.1M159.54 311.45v9.1M162.63 311.45v9.1M167.78 311.45v9.1M129.67 320.55v9.1M146.15 320.55v9.1M150.27 320.55v9.1M159.54 320.55v9.1M160.57 320.55v9.1M171.9 320.55v9.1M173.96 320.55v9.1M185.29 320.55v9.1M138.94 329.65v9.1M167.78 329.65v9.1M183.23 329.65v9.1M75.08 338.75v9.1M123.48 338.75v9.1M163.66 338.75v9.1M183.23 338.75v9.1M132.75 347.85v9.1M145.12 347.85v9.1M170.87 347.85v9.1M177.05 347.85v9.1M178.08 347.85v9.1M125.55 356.95v9.1M130.69 356.95v9.1M41.09 366.05v9.1M77.14 366.05v9.1M150.27 366.05v9.1M158.5 366.05v9.1M171.9 366.05v9.1M172.93 366.05v9.1M173.96 366.05v9.1M76.11 375.15v9.1M124.52 375.15v9.1M132.75 375.15v9.1M155.42 375.15v9.1M158.5 375.15v9.1M166.75 375.15v9.1M172.93 375.15v9.1M130.69 384.25v9.1M147.18 384.25v9.1M73.02 393.35v9.1M77.14 393.35v9.1M123.48 393.35v9.1M126.58 393.35v9.1M164.69 393.35v9.1M172.93 393.35v9.1M167.78 402.45v9.1M35.94 411.55v9.1M77.14 411.55v9.1M130.69 411.55v9.1M134.81 411.55v9.1M141 411.55v9.1" stroke="#ffeded" stroke-width="1.08"/>
<path d="M124.52 275.05v9.1M119.36 284.15v9.1M132.75 311.45v9.1M144.09 320.55v9.1M164.69 320.55v9.1M168.81 320.55v9.1M170.87 320.55v9.1M172.93 320.55v9.1M150.27 329.65v9.1M164.69 329.65v9.1M172.93 329.65v9.1M176.02 329.65v9.1M185.29 329.65v9.1M128.64 338.75v9.1M123.48 347.85v9.1M160.57 347.85v9.1M163.66 347.85v9.1M180.14 347.85v9.1M120.39 356.95v9.1M153.36 356.95v9.1M124.52 366.05v9.1M134.81 366.05v9.1M120.39 375.15v9.1M178.08 384.25v9.1M141 402.45v9.1M177.05 402.45v9.1M99.8 411.55v9.1M119.36 411.55v9.1" stroke="#ffdbdb" stroke-width="1.08"/>
<path d="M126.58 275.05v9.1M74.05 284.15v9.1M80.23 284.15v9.1M152.33 284.15v9.1M79.2 293.25v9.1M165.72 293.25v9.1M54.48 302.35v9.1M108.03 302.35v9.1M117.3 302.35v9.1M132.75 302.35v9.1M155.42 302.35v9.1M182.2 302.35v9.1M137.91 311.45v9.1M126.58 338.75v9.1M46.23 366.05v9.1M71.98 366.05v9.1M90.53 366.05v9.1M161.6 366.05v9.1M87.44 375.15v9.1M163.66 375.15v9.1M128.64 384.25v9.1M34.91 393.35v9.1M136.88 393.35v9.1M141 393.35v9.1M148.21 393.35v9.1M185.29 393.35v9.1" stroke="#fcf9fc" stroke-width="1.08"/>
<path d="M127.61 275.05v9.1M138.94 302.35v9.1M167.78 302.35v9.1" stroke="#fffcff" stroke-width="1.08"/>
<path d="M128.64 275.05v9.1M139.97 275.05v9.1M162.63 275.05v9.1M78.17 284.15v9.1M185.29 284.15v9.1M124.52 311.45v9.1M169.84 311.45v9.1M145.12 320.55v9.1M120.39 329.65v9.1M141 329.65v9.1M153.36 329.65v9.1M161.6 329.65v9.1M182.2 329.65v9.1M119.36 338.75v9.1M171.9 338.75v9.1M129.67 347.85v9.1M168.81 347.85v9.1M128.64 356.95v9.1M144.09 356.95v9.1M163.66 356.95v9.1M167.78 356.95v9.1M153.36 366.05v9.1M179.11 375.15v9.1M148.21 384.25v9.1M153.36 384.25v9.1M138.94 402.45v9.1M161.6 402.45v9.1" stroke="#ffdede" stroke-width="1.08"/>
<path d="M131.72 275.05v9.1M174.99 329.65v9.1M151.3 338.75v9.1M117.3 347.85v9.1M131.72 356.95v9.1M172.93 356.95v9.1M136.88 402.45v9.1M172.93 402.45v9.1M152.33 411.55v9.1M185.29 411.55v9.1" stroke="#fce1e4" stroke-width="1.08"/>
<path d="M141 275.05v9.1M57.56 284.15v9.1M144.09 329.65v9.1M74.05 375.15v9.1" stroke="#fcf6f6" stroke-width="1.08"/>
<path d="M142.03 275.05v9.1M164.69 311.45v9.1M151.3 329.65v9.1M167.78 411.55v9.1" stroke="#ffeaed" stroke-width="1.08"/>
<path d="M145.12 275.05v9.1M148.21 275.05v9.1M168.81 275.05v9.1M178.08 284.15v9.1M91.56 320.55v9.1M162.63 320.55v9.1M100.83 329.65v9.1M103.91 329.65v9.1M99.8 338.75v9.1M88.47 347.85v9.1M98.77 347.85v9.1M35.94 366.05v9.1M81.25 366.05v9.1M167.78 366.05v9.1M116.28 375.15v9.1M43.15 384.25v9.1M113.19 384.25v9.1M111.12 393.35v9.1M115.25 393.35v9.1" stroke="#f3edf9" stroke-width="1.08"/>
<path d="M146.15 275.05v9.1M157.47 284.15v9.1M81.25 293.25v9.1M161.6 338.75v9.1M49.33 347.85v9.1M170.87 384.25v9.1M119.36 402.45v9.1M174.99 402.45v9.1" stroke="#fcf3f3" stroke-width="1.08"/>
<path d="M150.27 275.05v9.1M155.42 293.25v9.1M33.88 311.45v9.1M93.62 329.65v9.1M53.45 356.95v9.1M152.33 366.05v9.1M67.86 375.15v9.1" stroke="#f3edfc" stroke-width="1.08"/>
<path d="M154.39 275.05v9.1M54.48 311.45v9.1M44.17 329.65v9.1M148.21 338.75v9.1M172.93 347.85v9.1M88.47 375.15v9.1M180.14 384.25v9.1" stroke="#fcf3f9" stroke-width="1.08"/>
<path d="M155.42 275.05v9.1M157.47 293.25v9.1M159.54 329.65v9.1M57.56 338.75v9.1M55.51 393.35v9.1M56.53 393.35v9.1M126.58 402.45v9.1M63.75 411.55v9.1" stroke="#f6edf3" stroke-width="1.08"/>
<path d="M159.54 275.05v9.1M82.28 284.15v9.1M122.45 293.25v9.1M80.23 302.35v9.1M78.17 329.65v9.1M157.47 356.95v9.1M161.6 375.15v9.1M118.33 384.25v9.1M62.72 393.35v9.1M105.97 393.35v9.1" stroke="#fcf9f9" stroke-width="1.08"/>
<path d="M161.6 275.05v9.1M128.64 347.85v9.1" stroke="#f9eaed" stroke-width="1.08"/>
<path d="M163.66 275.05v9.1M113.19 311.45v9.1M90.53 320.55v9.1M108.03 347.85v9.1M125.55 347.85v9.1M156.45 375.15v9.1M59.62 384.25v9.1" stroke="#f6f0f6" stroke-width="1.08"/>
<path d="M169.84 275.05v9.1M36.97 284.15v9.1M68.89 284.15v9.1M132.75 284.15v9.1M55.51 293.25v9.1M69.92 293.25v9.1M153.36 293.25v9.1M119.36 311.45v9.1M122.45 311.45v9.1M133.78 311.45v9.1M165.72 311.45v9.1M174.99 311.45v9.1M182.2 311.45v9.1M123.48 320.55v9.1M132.75 320.55v9.1M167.78 320.55v9.1M134.81 329.65v9.1M135.84 329.65v9.1M136.88 329.65v9.1M146.15 329.65v9.1M163.66 329.65v9.1M121.42 338.75v9.1M124.52 338.75v9.1M130.69 338.75v9.1M135.84 338.75v9.1M139.97 338.75v9.1M147.18 338.75v9.1M165.72 338.75v9.1M172.93 338.75v9.1M141 347.85v9.1M171.9 347.85v9.1M122.45 356.95v9.1M136.88 356.95v9.1M137.91 356.95v9.1M138.94 356.95v9.1M150.27 356.95v9.1M166.75 356.95v9.1M120.39 366.05v9.1M129.67 366.05v9.1M142.03 366.05v9.1M149.24 366.05v9.1M179.11 366.05v9.1M41.09 375.15v9.1M183.23 375.15v9.1M158.5 384.25v9.1M182.2 402.45v9.1M108.03 411.55v9.1M136.88 411.55v9.1M144.09 411.55v9.1M149.24 411.55v9.1M154.39 411.55v9.1M170.87 411.55v9.1" stroke="#ffe1e1" stroke-width="1.08"/>
<path d="M179.11 275.05v9.1" stroke="#f6e4ea" stroke-width="1.08"/>
<path d="M180.14 275.05v9.1M129.67 284.15v9.1M155.42 284.15v9.1M39.02 293.25v9.1M83.31 293.25v9.1M132.75 293.25v9.1M162.63 293.25v9.1M130.69 311.45v9.1M36.97 320.55v9.1M121.42 320.55v9.1M142.03 320.55v9.1M184.26 329.65v9.1M63.75 338.75v9.1M110.09 347.85v9.1M185.29 347.85v9.1M41.09 356.95v9.1M61.69 366.05v9.1M128.64 366.05v9.1M156.45 366.05v9.1M82.28 375.15v9.1M127.61 384.25v9.1M184.26 384.25v9.1M51.39 393.35v9.1M166.75 393.35v9.1M51.39 411.55v9.1M182.2 411.55v9.1" stroke="#f9edf3" stroke-width="1.08"/>
<path d="M181.17 275.05v9.1M118.33 311.45v9.1M183.23 311.45v9.1M49.33 320.55v9.1M160.57 329.65v9.1M170.87 375.15v9.1M154.39 384.25v9.1" stroke="#fce4e7" stroke-width="1.08"/>
<path d="M183.23 275.05v9.1M88.47 284.15v9.1M108.03 284.15v9.1M44.17 293.25v9.1M65.81 293.25v9.1M88.47 293.25v9.1M114.22 293.25v9.1M46.23 302.35v9.1M74.05 302.35v9.1M95.67 311.45v9.1M110.09 311.45v9.1M116.28 311.45v9.1M111.12 320.55v9.1M42.12 329.65v9.1M60.66 329.65v9.1M70.95 356.95v9.1M62.72 366.05v9.1M75.08 366.05v9.1M51.39 375.15v9.1M66.84 375.15v9.1M75.08 375.15v9.1M83.31 375.15v9.1M73.02 384.25v9.1M132.75 384.25v9.1M57.56 393.35v9.1M104.94 393.35v9.1M161.6 393.35v9.1M180.14 393.35v9.1M99.8 402.45v9.1M36.97 411.55v9.1M88.47 411.55v9.1" stroke="#f6f3fc" stroke-width="1.08"/>
<path d="M184.26 275.05v9.1M73.02 284.15v9.1M83.31 302.35v9.1" stroke="#fcfcfc" stroke-width="1.08"/>
<path d="M31.82 284.15v9.1M117.3 356.95v9.1M68.89 393.35v9.1" stroke="#fff9fc" stroke-width="1.08"/>
<path d="M34.91 284.15v9.1M144.09 284.15v9.1M162.63 384.25v9.1M36.97 393.35v9.1M145.12 402.45v9.1" stroke="#fff3f6" stroke-width="1.08"/>
<path d="M35.94 284.15v9.1" stroke="#f9f3fc" stroke-width="1.08"/>
<path d="M42.12 284.15v9.1M159.54 284.15v9.1M176.02 284.15v9.1M154.39 311.45v9.1M127.61 320.55v9.1M141 320.55v9.1M157.47 329.65v9.1M150.27 338.75v9.1M162.63 338.75v9.1M157.47 393.35v9.1M116.28 402.45v9.1M124.52 402.45v9.1M147.18 402.45v9.1M56.53 411.55v9.1" stroke="#f9e7ed" stroke-width="1.08"/>
<path d="M46.23 284.15v9.1M76.11 293.25v9.1M152.33 293.25v9.1M115.25 311.45v9.1M110.09 329.65v9.1M83.31 338.75v9.1M71.98 393.35v9.1M53.45 411.55v9.1M54.48 411.55v9.1M109.06 411.55v9.1" stroke="#f0e4f3" stroke-width="1.08"/>
<path d="M53.45 284.15v9.1M116.28 338.75v9.1M174.99 347.85v9.1M185.29 375.15v9.1M123.48 384.25v9.1M167.78 384.25v9.1" stroke="#fceded" stroke-width="1.08"/>
<path d="M58.59 284.15v9.1M153.36 320.55v9.1M111.12 411.55v9.1" stroke="#f6eaf6" stroke-width="1.08"/>
<path d="M59.62 284.15v9.1M132.75 366.05v9.1" stroke="#ede1f3" stroke-width="1.08"/>
<path d="M60.66 284.15v9.1M128.64 311.45v9.1M158.5 311.45v9.1M132.75 329.65v9.1M173.96 329.65v9.1M118.33 347.85v9.1M142.03 393.35v9.1M132.75 411.55v9.1" stroke="#f9e1e7" stroke-width="1.08"/>
<path d="M62.72 284.15v9.1M45.2 320.55v9.1M91.56 347.85v9.1M183.23 384.25v9.1" stroke="#e7def6" stroke-width="1.08"/>
<path d="M64.78 284.15v9.1M49.33 311.45v9.1M156.45 347.85v9.1M132.75 356.95v9.1M157.47 384.25v9.1M60.66 393.35v9.1" stroke="#f6eaf0" stroke-width="1.08"/>
<path d="M69.92 284.15v9.1M62.72 302.35v9.1M76.11 302.35v9.1M184.26 302.35v9.1M152.33 356.95v9.1M83.31 366.05v9.1" stroke="#fcf9ff" stroke-width="1.08"/>
<path d="M77.14 284.15v9.1M58.59 366.05v9.1" stroke="#e4def9" stroke-width="1.08"/>
<path d="M83.31 284.15v9.1M42.12 293.25v9.1M65.81 311.45v9.1M81.25 311.45v9.1M97.73 320.55v9.1M78.17 338.75v9.1M96.7 347.85v9.1M164.69 366.05v9.1M135.84 384.25v9.1M38 393.35v9.1M41.09 393.35v9.1M148.21 411.55v9.1" stroke="#f6eaf3" stroke-width="1.08"/>
<path d="M91.56 284.15v9.1" stroke="#e4cfea" stroke-width="1.08"/>
<path d="M94.64 284.15v9.1M75.08 311.45v9.1M47.27 366.05v9.1M153.36 393.35v9.1" stroke="#f3e7f6" stroke-width="1.08"/>
<path d="M98.77 284.15v9.1" stroke="#e1d5f6" stroke-width="1.08"/>
<path d="M100.83 284.15v9.1M145.12 302.35v9.1M69.92 375.15v9.1M155.42 393.35v9.1M123.48 402.45v9.1M150.27 411.55v9.1" stroke="#fff6f9" stroke-width="1.08"/>
<path d="M103.91 284.15v9.1M99.8 329.65v9.1" stroke="#dbd8fc" stroke-width="1.08"/>
<path d="M104.94 284.15v9.1M120.39 293.25v9.1M123.48 311.45v9.1M157.47 402.45v9.1" stroke="#f9f0f3" stroke-width="1.08"/>
<path d="M109.06 284.15v9.1M156.45 356.95v9.1" stroke="#f3dee7" stroke-width="1.08"/>
<path d="M111.12 284.15v9.1M143.06 284.15v9.1M47.27 293.25v9.1M95.67 329.65v9.1M43.15 366.05v9.1M69.92 366.05v9.1" stroke="#f6f3f9" stroke-width="1.08"/>
<path d="M114.22 284.15v9.1M50.36 320.55v9.1M46.23 329.65v9.1M91.56 329.65v9.1M69.92 347.85v9.1M101.86 375.15v9.1M147.18 375.15v9.1M46.23 384.25v9.1M121.42 384.25v9.1M40.05 393.35v9.1" stroke="#eae7fc" stroke-width="1.08"/>
<path d="M117.3 284.15v9.1M51.39 293.25v9.1M75.08 293.25v9.1M173.96 311.45v9.1M31.82 356.95v9.1M104.94 356.95v9.1M111.12 384.25v9.1M70.95 411.55v9.1" stroke="#f0e1f0" stroke-width="1.08"/>
<path d="M118.33 284.15v9.1M149.24 293.25v9.1M90.53 311.45v9.1M56.53 320.55v9.1M103.91 393.35v9.1M85.38 411.55v9.1M129.67 411.55v9.1" stroke="#ede4f6" stroke-width="1.08"/>
<path d="M146.15 284.15v9.1" stroke="#fceaea" stroke-width="1.08"/>
<path d="M153.36 284.15v9.1M73.02 329.65v9.1M114.22 329.65v9.1M31.82 384.25v9.1M44.17 411.55v9.1" stroke="#f6f0fc" stroke-width="1.08"/>
<path d="M156.45 284.15v9.1M43.15 329.65v9.1M76.11 393.35v9.1M121.42 393.35v9.1M45.2 402.45v9.1" stroke="#f9f6f9" stroke-width="1.08"/>
<path d="M172.93 284.15v9.1M121.42 311.45v9.1M137.91 366.05v9.1M164.69 384.25v9.1M152.33 402.45v9.1M102.89 411.55v9.1M123.48 411.55v9.1M125.55 411.55v9.1" stroke="#fcdee1" stroke-width="1.08"/>
<path d="M174.99 284.15v9.1M43.15 293.25v9.1M129.67 293.25v9.1M182.2 293.25v9.1M32.84 302.35v9.1M34.91 302.35v9.1M38 302.35v9.1M40.05 302.35v9.1M61.69 302.35v9.1M63.75 302.35v9.1M68.89 302.35v9.1M81.25 302.35v9.1M82.28 302.35v9.1M85.38 302.35v9.1M125.55 302.35v9.1M129.67 302.35v9.1M79.2 311.45v9.1M111.12 311.45v9.1M177.05 311.45v9.1M33.88 320.55v9.1M77.14 320.55v9.1M80.23 320.55v9.1M99.8 320.55v9.1M101.86 320.55v9.1M105.97 320.55v9.1M75.08 329.65v9.1M96.7 338.75v9.1M116.28 347.85v9.1M111.12 356.95v9.1M55.51 366.05v9.1M80.23 375.15v9.1M146.15 375.15v9.1M167.78 375.15v9.1M45.2 384.25v9.1M49.33 384.25v9.1M87.44 384.25v9.1M66.84 393.35v9.1M44.17 402.45v9.1M80.23 402.45v9.1M94.64 402.45v9.1M176.02 411.55v9.1" stroke="#f6f6ff" stroke-width="1.08"/>
<path d="M59.62 293.25v9.1M75.08 411.55v9.1" stroke="#eadef3" stroke-width="1.08"/>
<path d="M61.69 293.25v9.1M148.21 311.45v9.1M113.19 320.55v9.1M31.82 366.05v9.1M126.58 366.05v9.1M43.15 375.15v9.1M73.02 375.15v9.1M75.08 384.25v9.1M34.91 411.55v9.1M73.02 411.55v9.1" stroke="#f3e7f3" stroke-width="1.08"/>
<path d="M64.78 293.25v9.1M38 311.45v9.1M55.51 311.45v9.1M57.56 311.45v9.1M92.59 311.45v9.1M48.3 320.55v9.1M67.86 320.55v9.1M85.38 320.55v9.1M89.5 320.55v9.1M70.95 329.65v9.1M34.91 338.75v9.1M42.12 338.75v9.1M61.69 338.75v9.1M62.72 338.75v9.1M86.41 338.75v9.1M35.94 347.85v9.1M45.2 347.85v9.1M61.69 347.85v9.1M76.11 347.85v9.1M85.38 347.85v9.1M76.11 356.95v9.1M83.31 356.95v9.1M86.41 356.95v9.1M93.62 356.95v9.1M108.03 356.95v9.1M39.02 366.05v9.1M82.28 366.05v9.1M98.77 366.05v9.1M105.97 366.05v9.1M129.67 375.15v9.1M53.45 384.25v9.1M65.81 384.25v9.1M66.84 384.25v9.1M103.91 384.25v9.1M67.86 402.45v9.1M73.02 402.45v9.1" stroke="#dedeff" stroke-width="1.08"/>
<path d="M78.17 293.25v9.1" stroke="#f0d8e4" stroke-width="1.08"/>
<path d="M85.38 293.25v9.1" stroke="#e7d8f0" stroke-width="1.08"/>
<path d="M91.56 293.25v9.1M77.14 356.95v9.1" stroke="#f0eafc" stroke-width="1.08"/>
<path d="M93.62 293.25v9.1M111.12 293.25v9.1M48.3 311.45v9.1M98.77 320.55v9.1M80.23 329.65v9.1M98.77 356.95v9.1M38 402.45v9.1M100.83 402.45v9.1" stroke="#f6f3ff" stroke-width="1.08"/>
<path d="M97.73 293.25v9.1M60.66 311.45v9.1" stroke="#e4dbf6" stroke-width="1.08"/>
<path d="M102.89 293.25v9.1M119.36 384.25v9.1" stroke="#fce7ed" stroke-width="1.08"/>
<path d="M108.03 293.25v9.1M85.38 329.65v9.1M48.3 347.85v9.1M52.42 347.85v9.1M89.5 356.95v9.1M31.82 402.45v9.1" stroke="#e4e1fc" stroke-width="1.08"/>
<path d="M112.16 293.25v9.1" stroke="#e1dbf6" stroke-width="1.08"/>
<path d="M118.33 293.25v9.1M150.27 293.25v9.1M88.47 302.35v9.1M124.52 302.35v9.1M117.3 311.45v9.1M126.58 311.45v9.1M129.67 311.45v9.1M149.24 311.45v9.1M170.87 311.45v9.1M182.2 320.55v9.1M143.06 329.65v9.1M120.39 338.75v9.1M159.54 347.85v9.1M155.42 356.95v9.1M181.17 356.95v9.1M135.84 375.15v9.1M125.55 393.35v9.1M184.26 411.55v9.1" stroke="#fce7ea" stroke-width="1.08"/>
<path d="M119.36 293.25v9.1M102.89 302.35v9.1M157.47 320.55v9.1M169.84 366.05v9.1M64.78 393.35v9.1" stroke="#f9f6ff" stroke-width="1.08"/>
<path d="M124.52 293.25v9.1M130.69 320.55v9.1M165.72 320.55v9.1M90.53 384.25v9.1M83.31 393.35v9.1M159.54 402.45v9.1" stroke="#f0edf9" stroke-width="1.08"/>
<path d="M126.58 293.25v9.1M82.28 329.65v9.1M89.5 393.35v9.1" stroke="#ede7fc" stroke-width="1.08"/>
<path d="M127.61 293.25v9.1M177.05 293.25v9.1M55.51 302.35v9.1M69.92 302.35v9.1M70.95 302.35v9.1M77.14 302.35v9.1M101.86 302.35v9.1M105.97 302.35v9.1M114.22 302.35v9.1M116.28 302.35v9.1M134.81 302.35v9.1M137.91 302.35v9.1M152.33 302.35v9.1M173.96 302.35v9.1M176.02 302.35v9.1M60.66 356.95v9.1M49.33 375.15v9.1M78.17 375.15v9.1M79.2 393.35v9.1M131.72 402.45v9.1M162.63 402.45v9.1M107 411.55v9.1M135.84 411.55v9.1" stroke="#fffcfc" stroke-width="1.08"/>
<path d="M134.81 293.25v9.1M143.06 347.85v9.1M143.06 356.95v9.1M144.09 402.45v9.1M40.05 411.55v9.1" stroke="#f9e4e7" stroke-width="1.08"/>
<path d="M147.18 293.25v9.1M57.56 402.45v9.1" stroke="#f0e1f3" stroke-width="1.08"/>
<path d="M168.81 293.25v9.1M122.45 375.15v9.1" stroke="#fceaf0" stroke-width="1.08"/>
<path d="M174.99 293.25v9.1M41.09 311.45v9.1M93.62 375.15v9.1M178.08 375.15v9.1" stroke="#eddbf0" stroke-width="1.08"/>
<path d="M176.02 293.25v9.1M87.44 329.65v9.1M49.33 402.45v9.1" stroke="#eddef0" stroke-width="1.08"/>
<path d="M179.11 293.25v9.1" stroke="#f6dee4" stroke-width="1.08"/>
<path d="M185.29 293.25v9.1" stroke="#ede7f6" stroke-width="1.08"/>
<path d="M60.66 302.35v9.1M42.12 320.55v9.1M64.78 320.55v9.1M100.83 320.55v9.1M49.33 338.75v9.1" stroke="#f3f0ff" stroke-width="1.08"/>
<path d="M98.77 302.35v9.1M122.45 302.35v9.1M128.64 411.55v9.1" stroke="#ffffff" stroke-width="1.08"/>
<path d="M110.09 302.35v9.1M40.05 356.95v9.1M61.69 411.55v9.1M127.61 411.55v9.1" stroke="#fcf6fc" stroke-width="1.08"/>
<path d="M123.48 302.35v9.1M39.02 356.95v9.1" stroke="#f0e4f0" stroke-width="1.08"/>
<path d="M128.64 302.35v9.1M184.26 320.55v9.1M74.05 366.05v9.1M163.66 366.05v9.1M174.99 384.25v9.1M52.42 393.35v9.1M146.15 411.55v9.1" stroke="#f9f3f6" stroke-width="1.08"/>
<path d="M42.12 311.45v9.1M46.23 320.55v9.1M47.27 356.95v9.1M50.36 356.95v9.1M91.56 356.95v9.1M102.89 366.05v9.1M52.42 384.25v9.1M97.73 384.25v9.1M64.78 402.45v9.1" stroke="#d5d5ff" stroke-width="1.08"/>
<path d="M45.2 311.45v9.1" stroke="#f0def0" stroke-width="1.08"/>
<path d="M63.75 311.45v9.1M170.87 366.05v9.1M109.06 375.15v9.1M182.2 375.15v9.1" stroke="#f0e7f3" stroke-width="1.08"/>
<path d="M67.86 311.45v9.1M83.31 311.45v9.1M52.42 329.65v9.1M111.12 329.65v9.1M92.59 366.05v9.1M39.02 375.15v9.1M96.7 375.15v9.1M58.59 384.25v9.1M114.22 384.25v9.1M145.12 393.35v9.1" stroke="#e7e4fc" stroke-width="1.08"/>
<path d="M68.89 311.45v9.1M62.72 356.95v9.1M54.48 375.15v9.1M57.56 411.55v9.1" stroke="#edeaff" stroke-width="1.08"/>
<path d="M84.34 311.45v9.1" stroke="#e1dbf9" stroke-width="1.08"/>
<path d="M85.38 311.45v9.1M168.81 384.25v9.1" stroke="#f9e7ea" stroke-width="1.08"/>
<path d="M139.97 311.45v9.1M181.17 320.55v9.1M118.33 329.65v9.1M131.72 329.65v9.1M159.54 338.75v9.1M138.94 347.85v9.1M138.94 366.05v9.1" stroke="#ffcccc" stroke-width="1.08"/>
<path d="M143.06 311.45v9.1" stroke="#f9edf0" stroke-width="1.08"/>
<path d="M144.09 311.45v9.1M118.33 320.55v9.1M128.64 320.55v9.1M117.3 329.65v9.1M122.45 329.65v9.1M127.61 329.65v9.1M179.11 329.65v9.1M132.75 338.75v9.1M136.88 338.75v9.1M138.94 338.75v9.1M164.69 338.75v9.1M149.24 347.85v9.1M164.69 347.85v9.1M121.42 366.05v9.1M122.45 384.25v9.1M139.97 384.25v9.1M129.67 393.35v9.1M149.24 393.35v9.1M122.45 411.55v9.1M163.66 411.55v9.1" stroke="#ffd8d8" stroke-width="1.08"/>
<path d="M147.18 311.45v9.1M151.3 311.45v9.1M161.6 311.45v9.1M172.93 311.45v9.1M117.3 320.55v9.1M118.33 338.75v9.1M141 356.95v9.1M136.88 366.05v9.1M144.09 366.05v9.1M123.48 375.15v9.1M168.81 375.15v9.1M125.55 384.25v9.1M81.25 393.35v9.1M169.84 402.45v9.1M118.33 411.55v9.1M169.84 411.55v9.1" stroke="#ffd5d5" stroke-width="1.08"/>
<path d="M168.81 311.45v9.1" stroke="#ffc0c0" stroke-width="1.08"/>
<path d="M176.02 311.45v9.1" stroke="#f0d8e7" stroke-width="1.08"/>
<path d="M178.08 311.45v9.1M129.67 329.65v9.1M185.29 338.75v9.1M31.82 347.85v9.1M41.09 347.85v9.1M32.84 393.35v9.1M181.17 402.45v9.1M112.16 411.55v9.1" stroke="#f9e4ea" stroke-width="1.08"/>
<path d="M179.11 311.45v9.1M104.94 329.65v9.1M178.08 402.45v9.1M142.03 411.55v9.1M147.18 411.55v9.1" stroke="#f6e1ea" stroke-width="1.08"/>
<path d="M180.14 311.45v9.1" stroke="#f6e1ed" stroke-width="1.08"/>
<path d="M40.05 320.55v9.1M94.64 384.25v9.1M185.29 384.25v9.1" stroke="#eae4fc" stroke-width="1.08"/>
<path d="M54.48 320.55v9.1" stroke="#e7e7fc" stroke-width="1.08"/>
<path d="M79.2 320.55v9.1M49.33 366.05v9.1" stroke="#f0f0fc" stroke-width="1.08"/>
<path d="M96.7 320.55v9.1M52.42 338.75v9.1" stroke="#eaeafc" stroke-width="1.08"/>
<path d="M115.25 320.55v9.1M96.7 366.05v9.1M38 375.15v9.1M93.62 393.35v9.1" stroke="#eae7f9" stroke-width="1.08"/>
<path d="M119.36 320.55v9.1M178.08 320.55v9.1M178.08 338.75v9.1M185.29 356.95v9.1M69.92 384.25v9.1M102.89 402.45v9.1" stroke="#f6e4ed" stroke-width="1.08"/>
<path d="M124.52 320.55v9.1" stroke="#fcd8db" stroke-width="1.08"/>
<path d="M136.88 320.55v9.1M166.75 329.65v9.1" stroke="#f9dbe1" stroke-width="1.08"/>
<path d="M147.18 320.55v9.1" stroke="#f3cfd8" stroke-width="1.08"/>
<path d="M154.39 320.55v9.1M168.81 338.75v9.1M178.08 411.55v9.1" stroke="#f9dee4" stroke-width="1.08"/>
<path d="M161.6 320.55v9.1M137.91 329.65v9.1M147.18 329.65v9.1M168.81 393.35v9.1" stroke="#ffcfcf" stroke-width="1.08"/>
<path d="M169.84 320.55v9.1M137.91 347.85v9.1M119.36 366.05v9.1M149.24 402.45v9.1" stroke="#ffc9c9" stroke-width="1.08"/>
<path d="M183.23 320.55v9.1M180.14 329.65v9.1M136.88 347.85v9.1M171.9 356.95v9.1M118.33 366.05v9.1M131.72 366.05v9.1" stroke="#ffd2d2" stroke-width="1.08"/>
<path d="M36.97 329.65v9.1M107 347.85v9.1" stroke="#c9c9ff" stroke-width="1.08"/>
<path d="M49.33 329.65v9.1" stroke="#f3e1ea" stroke-width="1.08"/>
<path d="M56.53 329.65v9.1M60.66 347.85v9.1M67.86 366.05v9.1M112.16 366.05v9.1M48.3 384.25v9.1M50.36 384.25v9.1" stroke="#d2d2ff" stroke-width="1.08"/>
<path d="M123.48 329.65v9.1M117.3 338.75v9.1M168.81 366.05v9.1M65.81 375.15v9.1M179.11 384.25v9.1M181.17 384.25v9.1M75.08 393.35v9.1M88.47 402.45v9.1M164.69 402.45v9.1M179.11 402.45v9.1" stroke="#fceaed" stroke-width="1.08"/>
<path d="M126.58 329.65v9.1M159.54 393.35v9.1" stroke="#f9eaf3" stroke-width="1.08"/>
<path d="M142.03 329.65v9.1M99.8 347.85v9.1" stroke="#e4d8f3" stroke-width="1.08"/>
<path d="M39.02 338.75v9.1M95.67 338.75v9.1M94.64 347.85v9.1M35.94 356.95v9.1" stroke="#eae4f9" stroke-width="1.08"/>
<path d="M41.09 338.75v9.1M156.45 393.35v9.1" stroke="#f3eaf3" stroke-width="1.08"/>
<path d="M74.05 338.75v9.1" stroke="#e1dbfc" stroke-width="1.08"/>
<path d="M97.73 338.75v9.1" stroke="#f3edf6" stroke-width="1.08"/>
<path d="M109.06 338.75v9.1M32.84 347.85v9.1M154.39 347.85v9.1M91.56 402.45v9.1" stroke="#f6e7f3" stroke-width="1.08"/>
<path d="M179.11 338.75v9.1" stroke="#f9d2d8" stroke-width="1.08"/>
<path d="M36.97 347.85v9.1M74.05 384.25v9.1M83.31 384.25v9.1" stroke="#f0edff" stroke-width="1.08"/>
<path d="M50.36 347.85v9.1" stroke="#eae4f6" stroke-width="1.08"/>
<path d="M51.39 347.85v9.1M103.91 366.05v9.1M110.09 384.25v9.1M59.62 411.55v9.1" stroke="#ededfc" stroke-width="1.08"/>
<path d="M54.48 347.85v9.1M90.53 375.15v9.1M56.53 384.25v9.1M79.2 384.25v9.1M47.27 402.45v9.1" stroke="#e1defc" stroke-width="1.08"/>
<path d="M83.31 347.85v9.1M135.84 347.85v9.1M154.39 375.15v9.1M126.58 384.25v9.1M174.99 393.35v9.1" stroke="#fcedf3" stroke-width="1.08"/>
<path d="M86.41 347.85v9.1" stroke="#ded8f9" stroke-width="1.08"/>
<path d="M113.19 347.85v9.1" stroke="#f3e4f3" stroke-width="1.08"/>
<path d="M127.61 347.85v9.1" stroke="#f0dbea" stroke-width="1.08"/>
<path d="M133.78 347.85v9.1M95.67 402.45v9.1M49.33 411.55v9.1" stroke="#f6dee7" stroke-width="1.08"/>
<path d="M139.97 347.85v9.1" stroke="#ffdee1" stroke-width="1.08"/>
<path d="M142.03 347.85v9.1" stroke="#fcdbde" stroke-width="1.08"/>
<path d="M144.09 347.85v9.1" stroke="#f9dee1" stroke-width="1.08"/>
<path d="M150.27 347.85v9.1M134.81 384.25v9.1M143.06 384.25v9.1" stroke="#fce7e7" stroke-width="1.08"/>
<path d="M183.23 347.85v9.1M165.72 411.55v9.1" stroke="#f9e1ea" stroke-width="1.08"/>
<path d="M44.17 356.95v9.1M108.03 366.05v9.1" stroke="#ccccff" stroke-width="1.08"/>
<path d="M118.33 356.95v9.1M126.58 411.55v9.1" stroke="#f3e7f0" stroke-width="1.08"/>
<path d="M165.72 356.95v9.1" stroke="#ffc6c6" stroke-width="1.08"/>
<path d="M63.75 366.05v9.1" stroke="#e1e1fc" stroke-width="1.08"/>
<path d="M64.78 366.05v9.1" stroke="#bdbdff" stroke-width="1.08"/>
<path d="M66.84 366.05v9.1" stroke="#e4defc" stroke-width="1.08"/>
<path d="M70.95 366.05v9.1" stroke="#e4e1ff" stroke-width="1.08"/>
<path d="M123.48 366.05v9.1" stroke="#ffdbde" stroke-width="1.08"/>
<path d="M154.39 366.05v9.1" stroke="#f6d5de" stroke-width="1.08"/>
<path d="M176.02 366.05v9.1" stroke="#f3deea" stroke-width="1.08"/>
<path d="M183.23 366.05v9.1" stroke="#fcd5d8" stroke-width="1.08"/>
<path d="M57.56 375.15v9.1" stroke="#ead5ea" stroke-width="1.08"/>
<path d="M119.36 375.15v9.1" stroke="#eddef3" stroke-width="1.08"/>
<path d="M181.17 375.15v9.1M69.92 402.45v9.1" stroke="#eae1f9" stroke-width="1.08"/>
<path d="M184.26 375.15v9.1M152.33 384.25v9.1M107 393.35v9.1" stroke="#e7e1fc" stroke-width="1.08"/>
<path d="M54.48 384.25v9.1" stroke="#e7d2ea" stroke-width="1.08"/>
<path d="M77.14 384.25v9.1" stroke="#eae1f6" stroke-width="1.08"/>
<path d="M81.25 384.25v9.1" stroke="#f0e7f9" stroke-width="1.08"/>
<path d="M105.97 384.25v9.1" stroke="#fce1e7" stroke-width="1.08"/>
<path d="M144.09 384.25v9.1" stroke="#f6e1e7" stroke-width="1.08"/>
<path d="M145.12 384.25v9.1M172.93 384.25v9.1" stroke="#f9e7f0" stroke-width="1.08"/>
<path d="M159.54 384.25v9.1" stroke="#ead2e7" stroke-width="1.08"/>
<path d="M47.27 393.35v9.1" stroke="#eddbed" stroke-width="1.08"/>
<path d="M94.64 393.35v9.1" stroke="#edcfde" stroke-width="1.08"/>
<path d="M96.7 393.35v9.1" stroke="#ded5f6" stroke-width="1.08"/>
<path d="M130.69 393.35v9.1M103.91 402.45v9.1M145.12 411.55v9.1" stroke="#eadef6" stroke-width="1.08"/>
<path d="M147.18 393.35v9.1" stroke="#f3e4ed" stroke-width="1.08"/>
<path d="M169.84 393.35v9.1M160.57 402.45v9.1" stroke="#f3d8e7" stroke-width="1.08"/>
<path d="M179.11 393.35v9.1" stroke="#f3dbe7" stroke-width="1.08"/>
<path d="M182.2 393.35v9.1" stroke="#edc3d5" stroke-width="1.08"/>
<path d="M39.02 402.45v9.1" stroke="#f6d8e1" stroke-width="1.08"/>
<path d="M43.15 402.45v9.1" stroke="#e1def9" stroke-width="1.08"/>
<path d="M54.48 402.45v9.1" stroke="#e7def9" stroke-width="1.08"/>
<path d="M90.53 402.45v9.1" stroke="#e7e4ff" stroke-width="1.08"/>
<path d="M109.06 402.45v9.1" stroke="#dbd5f9" stroke-width="1.08"/>
<path d="M120.39 402.45v9.1M121.42 411.55v9.1" stroke="#f6f6fc" stroke-width="1.08"/>
<path d="M142.03 402.45v9.1" stroke="#f9d8db" stroke-width="1.08"/>
<path d="M153.36 402.45v9.1" stroke="#fcd5d5" stroke-width="1.08"/>
<path d="M163.66 402.45v9.1" stroke="#ffc6c9" stroke-width="1.08"/>
<path d="M183.23 402.45v9.1" stroke="#f6d2db" stroke-width="1.08"/>
<path d="M74.05 411.55v9.1" stroke="#e1cfed" stroke-width="1.08"/>
<path d="M93.62 411.55v9.1" stroke="#f3d8e4" stroke-width="1.08"/>
<path d="M138.94 411.55v9.1" stroke="#f9e4ed" stroke-width="1.08"/>
<g font-size="3.6" font-weight="bold" fill="#222">
<text x="187" y="249.5">STAGE</text>
<text x="187" y="253.4">M</text>
<text x="187" y="257.3">N</text>
<text x="187" y="261.2">T</text>
<text x="187" y="265.1">AGE</text>
<text x="187" y="269.2">RiskScore</text>
<text x="187" y="273.4">Cluster</text>
</g>
<g font-size="3.3" fill="#222">
<text x="187.2" y="280.8">ME3</text>
<text x="187.2" y="289.9">STXBP1</text>
<text x="187.2" y="299">ACKR3</text>
<text x="187.2" y="308.1">ALDH3A1</text>
<text x="187.2" y="317.2">S100B</text>
<text x="187.2" y="326.3">HSD11B1</text>
<text x="187.2" y="335.4">RBP4</text>
<text x="187.2" y="344.5">PIGR</text>
<text x="187.2" y="353.6">APCO</text>
<text x="187.2" y="362.7">IL33</text>
<text x="187.2" y="371.8">CYTL1</text>
<text x="187.2" y="380.9">ACSL1</text>
<text x="187.2" y="390">CCND2</text>
<text x="187.2" y="399.1">NT5E</text>
<text x="187.2" y="408.2">ALX4</text>
<text x="187.2" y="417.3">NRG1</text>
</g>
<path d="M31.3 288.7H19.4V297.8H31.3M31.3 279.6H17.6V293.25H19.4M17.6 286.43H16.3V306.9H31.3M31.3 316H20.5V325.1H31.3M20.5 320.55H19V334.2H31.3M16.3 296.66H15.2V327.38H19M31.3 361.5H22.2V370.6H31.3M31.3 352.4H19.4V366.05H22.2M31.3 343.3H18V359.23H19.4M31.3 388.8H20.9V397.9H31.3M31.3 379.7H17.2V393.35H20.9M31.3 407H19.4V416.1H31.3M17.2 386.52H17.5V411.55H19.4M18 351.26H16.5V399.04H17.5M15.2 312.02H14.6V375.15H16.5" stroke="#777" stroke-width="0.6" fill="none"/>
<defs><linearGradient id="cbar" x1="0" y1="0" x2="0" y2="1"><stop offset="0" stop-color="#ff0000"/><stop offset="0.47" stop-color="#ffffff"/><stop offset="1" stop-color="#0000ff"/></linearGradient></defs>
<rect x="204.4" y="246.4" width="3.5" height="46.2" fill="url(#cbar)"/>
<g font-size="3.3" fill="#222">
<text x="209.4" y="256.6">5</text>
<text x="209.4" y="270.5">0</text>
<text x="208.6" y="284.5">−5</text>
</g>
<text x="214.1" y="248.8" font-weight="bold" fill="#222" font-size="3.3">STAGE</text>
<rect x="214.1" y="250.2" width="5.1" height="4.95" fill="#6b6b6b"/>
<rect x="214.1" y="255.1" width="5.1" height="4.95" fill="#969696"/>
<rect x="214.1" y="260" width="5.1" height="4.95" fill="#c8c8c8"/>
<rect x="214.1" y="264.9" width="5.1" height="4.95" fill="#efefef"/>
<text x="220.2" y="253.9" fill="#222" font-size="3.3">4</text>
<text x="220.2" y="268.6" fill="#222" font-size="3.3">1</text>
<text x="214.1" y="275.6" font-weight="bold" fill="#222" font-size="3.3">M</text>
<rect x="214.1" y="277" width="5.1" height="4.95" fill="#31a354"/>
<rect x="214.1" y="281.9" width="5.1" height="4.95" fill="#7fc97f"/>
<rect x="214.1" y="286.8" width="5.1" height="4.95" fill="#bfe5b8"/>
<rect x="214.1" y="291.7" width="5.1" height="4.95" fill="#eef8ea"/>
<text x="220.2" y="280.7" fill="#222" font-size="3.3">1</text>
<text x="220.2" y="295.4" fill="#222" font-size="3.3">0</text>
<text x="214.1" y="302.5" font-weight="bold" fill="#222" font-size="3.3">N</text>
<rect x="214.1" y="303.8" width="5.1" height="4.95" fill="#3a93c3"/>
<rect x="214.1" y="308.7" width="5.1" height="4.95" fill="#77c9c2"/>
<rect x="214.1" y="313.6" width="5.1" height="4.95" fill="#b5e2b5"/>
<rect x="214.1" y="318.5" width="5.1" height="4.95" fill="#eef8e6"/>
<text x="220.2" y="307.5" fill="#222" font-size="3.3">3</text>
<text x="220.2" y="322.2" fill="#222" font-size="3.3">0</text>
<text x="214.1" y="329.1" font-weight="bold" fill="#222" font-size="3.3">T</text>
<rect x="214.1" y="330.5" width="5.1" height="4.95" fill="#7a4ea3"/>
<rect x="214.1" y="335.4" width="5.1" height="4.95" fill="#8c96c6"/>
<rect x="214.1" y="340.3" width="5.1" height="4.95" fill="#b3cde3"/>
<rect x="214.1" y="345.2" width="5.1" height="4.95" fill="#eef8fb"/>
<text x="220.2" y="334.2" fill="#222" font-size="3.3">4</text>
<text x="220.2" y="348.9" fill="#222" font-size="3.3">1</text>
<text x="214.1" y="355.9" font-weight="bold" fill="#222" font-size="3.3">AGE</text>
<rect x="214.1" y="357.2" width="5.1" height="4.95" fill="#279b57"/>
<rect x="214.1" y="362.1" width="5.1" height="4.95" fill="#66c2a4"/>
<rect x="214.1" y="367" width="5.1" height="4.95" fill="#b2e2e2"/>
<rect x="214.1" y="371.9" width="5.1" height="4.95" fill="#eef8fb"/>
<text x="220.2" y="360.9" fill="#222" font-size="3.3">80</text>
<text x="220.2" y="375.6" fill="#222" font-size="3.3">30</text>
<text x="214.1" y="383" font-weight="bold" fill="#222" font-size="3.3">RiskScore</text>
<rect x="214.1" y="384.2" width="5.1" height="5" fill="#00d5dc"/><rect x="214.1" y="389.2" width="5.1" height="5" fill="#e38bef"/>
<text x="220.2" y="388" fill="#222" font-size="3.3">high</text>
<text x="220.2" y="393" fill="#222" font-size="3.3">low</text>
<text x="214.1" y="399.8" font-weight="bold" fill="#222" font-size="3.3">Cluster</text>
<rect x="214.1" y="401.1" width="5.1" height="5" fill="#99c712"/><rect x="214.1" y="406.1" width="5.1" height="5" fill="#fa8c80"/>
<text x="220.2" y="405" fill="#222" font-size="3.3">Cluster1</text>
<text x="220.2" y="410" fill="#222" font-size="3.3">Cluster2</text>
<path d="M289.6 259.5C324.2 259.5 324.2 259.5 358.8 259.5V306.4C324.2 306.4 324.2 306.4 289.6 306.4Z" fill="#e9a825" fill-opacity="0.5"/>
<path d="M289.6 306.4C324.2 306.4 324.2 327.4 358.8 327.4V355.2C324.2 355.2 324.2 334.2 289.6 334.2Z" fill="#e9a825" fill-opacity="0.5"/>
<path d="M289.6 334.2C324.2 334.2 324.2 306.4 358.8 306.4V327.4C324.2 327.4 324.2 355.2 289.6 355.2Z" fill="#6bb8e6" fill-opacity="0.45"/>
<path d="M289.6 355.2C324.2 355.2 324.2 355.2 358.8 355.2V394.7C324.2 394.7 324.2 394.7 289.6 394.7Z" fill="#6bb8e6" fill-opacity="0.45"/>
<path d="M376.7 259.5C411.25 259.5 411.25 259.5 445.8 259.5V313.6C411.25 313.6 411.25 313.6 376.7 313.6Z" fill="#2e9e6e" fill-opacity="0.42"/>
<path d="M376.7 327.4C411.25 327.4 411.25 313.6 445.8 313.6V375.4C411.25 375.4 411.25 388.9 376.7 388.9Z" fill="#eee04a" fill-opacity="0.45"/>
<path d="M376.7 388.9C411.25 388.9 411.25 389 445.8 389V394.7C411.25 394.7 411.25 394.7 376.7 394.7Z" fill="#eee04a" fill-opacity="0.45"/>
<path d="M376.7 313.6C411.25 313.6 411.25 375.4 445.8 375.4V389C411.25 389 411.25 327.4 376.7 327.4Z" fill="#2e9e6e" fill-opacity="0.42"/>
<defs><linearGradient id="shine" x1="0" y1="0" x2="1" y2="0"><stop offset="0" stop-color="#fff" stop-opacity="0.08"/><stop offset="0.45" stop-color="#fff" stop-opacity="0.12"/><stop offset="0.5" stop-color="#000" stop-opacity="0.03"/><stop offset="1" stop-color="#000" stop-opacity="0.03"/></linearGradient></defs>
<rect x="272.2" y="259.5" width="17.4" height="74.7" fill="#e9a825" stroke="#3a3a3a" stroke-width="0.5"/>
<rect x="272.2" y="259.5" width="17.4" height="74.7" fill="url(#shine)"/>
<rect x="272.2" y="334.2" width="17.4" height="60.5" fill="#6bb8e6" stroke="#3a3a3a" stroke-width="0.5"/>
<rect x="272.2" y="334.2" width="17.4" height="60.5" fill="url(#shine)"/>
<rect x="358.8" y="259.5" width="17.9" height="67.9" fill="#2f9e70" stroke="#3a3a3a" stroke-width="0.5"/>
<rect x="358.8" y="259.5" width="17.9" height="67.9" fill="url(#shine)"/>
<rect x="358.8" y="327.4" width="17.9" height="67.3" fill="#eee04a" stroke="#3a3a3a" stroke-width="0.5"/>
<rect x="358.8" y="327.4" width="17.9" height="67.3" fill="url(#shine)"/>
<rect x="445.8" y="259.5" width="17.2" height="116" fill="#2f78b8" stroke="#3a3a3a" stroke-width="0.5"/>
<rect x="445.8" y="259.5" width="17.2" height="116" fill="url(#shine)"/>
<rect x="445.8" y="375.5" width="17.2" height="19.2" fill="#d9702a" stroke="#3a3a3a" stroke-width="0.5"/>
<rect x="445.8" y="375.5" width="17.2" height="19.2" fill="url(#shine)"/>
<g font-size="6.5" fill="#1a1a1a" text-anchor="middle">
<text x="280.9" y="299.4">C1</text>
<text x="280.9" y="367">C2</text>
<text x="367.75" y="295.8">high</text>
<text x="367.75" y="363.3">low</text>
<text x="454.4" y="319.7">Alive</text>
<text x="454.4" y="387.9">Dead</text>
</g>
<rect x="515.2" y="259.6" width="150.1" height="133.1" fill="none" stroke="#c8c8c8" stroke-width="0.6"/>
<path d="M515.2 265.6h-1.5M515.2 306h-1.5M515.2 346.4h-1.5M515.2 386.8h-1.5M556 392.7v1.5M624.5 392.7v1.5" stroke="#555" stroke-width="0.6"/>
<g font-size="6" font-weight="bold" fill="#222" text-anchor="end">
<text x="513.3" y="267.7">4</text>
<text x="513.3" y="308.1">2</text>
<text x="513.3" y="348.5">0</text>
<text x="513.3" y="388.9">−2</text>
</g>
<text x="503.6" y="325.8" text-anchor="middle" font-weight="bold" fill="#222" font-size="7.3" transform="rotate(-90 503.6 325.8)">Risk Score</text>
<text x="556" y="399.6" text-anchor="middle" font-weight="bold" fill="#222" font-size="7">C1</text>
<text x="624.5" y="399.6" text-anchor="middle" font-weight="bold" fill="#222" font-size="7">C2</text>
<g stroke="#7e97ee" stroke-width="0.6" fill="none"><rect x="542.1" y="327.41" width="27.8" height="16.97"/><path d="M542.1 335.49h27.8M556 327.41V302.97M556 344.38V370.64"/></g>
<g stroke="#ff7070" stroke-width="0.6" fill="none"><rect x="610.6" y="336.3" width="27.8" height="17.78"/><path d="M610.6 345.39h27.8M624.5 336.3V310.44M624.5 354.08V380.74"/></g>
<path d="M562.18 350.73h0M555.39 331.32h0M551.23 352h0M556.08 336.69h0M549.89 350.63h0M552.99 351.57h0M558.76 317.31h0M549.12 323.99h0M558.18 304.74h0M557.61 339.4h0M556.32 334.74h0M549.38 334.13h0M548.95 332.59h0M555.37 327.5h0M556.18 357.59h0M557.98 327.39h0M555.27 353.76h0M552.62 335.87h0M560.94 336.49h0M551.9 338.66h0M552.78 346.08h0M554.43 317.21h0M561.03 327.07h0M561.04 358.98h0M548.51 315.93h0M555.46 329.23h0M563.01 310.13h0M557.82 339.67h0M560.02 333.06h0M553.42 336.54h0M562.77 330.76h0M552.15 335.59h0M550 341.96h0M551.13 315.77h0M556.78 327.94h0M559.33 343.35h0M550.44 333.34h0M554.73 339.63h0M551.65 340.63h0M560.39 339.9h0M553 303.9h0M554.34 329.65h0M561.14 341.42h0M563.14 339.4h0M551.66 340.23h0M553.37 336.98h0M552.89 315.06h0M557.12 331.18h0M552.1 333.55h0M555.21 345.29h0M562.7 342.84h0M561.32 351.66h0M551.21 334.28h0M560.6 320.88h0M552.19 314.06h0M562.42 328.56h0M551.41 317.42h0M557.43 312.05h0M554.74 343.62h0M562.75 333.19h0M552.03 333.83h0M560.69 338.53h0M557.33 344.86h0M559.16 337.93h0M549.52 328.65h0M561.12 333.8h0M557.59 320.52h0M551.52 341h0M548.75 309.32h0M549.39 337.48h0M551.11 322.83h0M550.45 346.62h0M553.86 324.3h0M558.22 309.56h0M558.73 357.42h0M549.02 341.65h0M548.76 339.27h0M562.75 319.98h0M548.81 345.97h0M559.31 345.01h0M553.22 346.4h0M556.58 331.1h0M559.41 335.92h0M558.91 319.85h0M560.24 347.52h0M558.64 326.18h0M561.83 341.64h0M560.2 327.21h0M561.28 345.02h0M554.16 351.12h0M557.12 343.39h0M557.96 339.74h0M563.2 339.03h0M554.25 321.65h0M559.38 349.31h0M560.91 347.3h0M549.74 342.26h0M557.4 335.89h0M555.62 338.88h0M555.86 333.57h0M557.59 317.28h0M548.67 327.72h0M552.96 340.36h0M551.01 339.45h0M561.9 343.23h0M561.7 342.91h0M553.34 346.95h0M554.88 339.96h0M560.43 342.86h0M554.19 314.46h0M557.13 348.71h0M555.85 338.56h0M560.89 329.9h0M562.56 324.79h0M552.6 351.44h0M552.57 329.44h0M551.67 324.31h0M555.81 350.47h0M553.17 327.15h0M555.2 317.64h0M549.61 365.01h0M549.11 311.76h0M558.99 331.06h0M560.21 345.31h0M548.78 340.37h0M548.87 327.12h0M560.78 325.83h0M549.19 335.37h0M557.81 329.24h0M558.19 352.03h0M560.45 330.26h0M551.45 318.11h0M555.53 340.65h0M555.49 335.12h0M559.07 334.29h0M553.62 331.73h0M558.82 327.17h0M559.69 352.49h0M554.32 338.04h0M549.79 329.03h0M562.3 361.36h0M555.21 337h0M557.76 342.19h0M556.92 325.95h0M561.51 342.21h0M555.36 327.46h0M558.14 363.77h0M560.61 330.47h0M558 317.28h0M561.82 337.59h0M563.01 344.12h0M560.2 321.01h0M553.24 338.03h0M553.66 315.76h0M549.73 348.68h0M559.87 350.17h0M555.71 330.34h0M549.45 314.19h0M560.34 331.98h0M560.16 330.8h0M550.58 326.21h0M559.21 327.21h0M560.93 324.15h0M555.79 346.77h0M562.55 363.06h0M556.29 328.54h0M552.79 331.48h0M556.24 338.19h0M560.99 353.04h0M554.14 345.64h0M561.01 339.75h0M561.09 329.18h0M562.83 340.74h0M551.47 351.52h0M556.43 338.29h0M548.91 352.42h0M562.85 336.23h0M560.36 348.1h0M556.83 337.13h0M549.48 354.44h0M556.47 334.85h0M562.17 361.93h0M552.48 320.23h0M554.92 342.12h0M560.57 334.84h0M553.19 324.71h0M551.33 343.96h0M550.42 356.27h0M560.03 354.53h0M551.86 328.02h0M558.67 334.76h0M557.67 340.87h0M550.05 325.68h0M556.05 336.64h0M552.21 342.06h0M554.96 331.09h0M554.06 321.79h0M550.86 348.63h0M551.52 328.19h0M556.34 347.63h0M561.1 348.6h0M551.94 354.14h0M559.46 351.32h0M553.17 326.19h0M553.16 360.19h0M563.28 328.37h0M561.64 339.86h0M559.25 329.92h0M552.34 329.21h0M554.74 317.12h0M560.19 322.79h0M558.64 327.25h0M548.76 327.14h0M561.99 330.33h0M562.83 318.41h0M559.72 325.13h0M555.94 326.35h0M549.54 338.98h0M550.07 343.11h0M556.12 320.97h0M556.92 332.32h0M551.52 331.21h0M560.94 329.73h0M549.91 308.23h0M549.42 337.58h0M559.82 323.02h0M553.34 339.95h0M554.87 350.17h0M557.39 332.89h0M561 317.13h0M551.18 334.33h0M554.5 354.94h0M551.39 330.23h0M548.73 328.51h0M561.72 323.39h0M561.24 329.85h0M557.81 353.84h0M555.96 349.43h0M563.04 326.64h0M561.99 332.73h0M559.52 344.71h0M554.5 332h0M561.77 357.81h0M559.86 322.3h0M559.83 348.69h0M549.54 352h0M553.56 325.06h0M553.76 337.63h0M557.95 335.55h0M562.48 342.16h0M558.36 342.09h0M556.93 345.23h0M556.39 320.74h0M558.01 375.63h0M558.88 302.86h0M548.84 333.4h0M557.61 369.72h0M554.44 336.55h0M549.25 345.21h0M549.96 331.94h0M552.21 324.82h0M556.02 323.19h0M562.81 344.45h0M557.94 371.88h0M560.48 352.27h0M559.74 321.38h0M549.17 328.36h0M555.48 329.42h0M551 338.94h0M549.37 352.55h0M562.49 335.43h0M557.35 348.92h0M553.91 328.81h0M556.8 339.84h0M552.7 318.66h0M548.71 338.01h0M552.13 345.83h0M559.67 329.08h0M554.27 334.02h0M549.24 319.79h0M563.13 347.98h0M561.9 331.45h0M554.86 337.52h0M552.11 368.18h0M556.25 331.32h0M555.43 317.97h0M562.99 343.35h0M550.2 329.19h0M557.74 350.96h0M549.27 343.76h0M556.32 333.65h0M558.38 326.59h0M555.24 326.67h0M554.71 337.12h0M560.01 319.93h0M562.6 343.99h0M550.19 336.78h0M561.71 344.8h0M553.82 332.27h0M552.52 352.48h0M557.26 342.1h0M557.87 350.25h0M552.18 335.73h0M563 343.76h0M549.08 314.41h0M549.4 348.47h0M557.73 337.57h0M550.02 323.25h0M549.78 340.44h0M558.51 337.11h0M554.02 352.15h0M555.58 341.25h0M559.52 333.17h0M560.91 325.11h0M560.48 330.43h0M557.73 333.14h0M554.78 334.91h0M552.32 344.23h0M558.17 331.62h0M563.14 346.71h0M559.54 342.87h0M562.13 322.29h0M549.94 346.35h0M561.45 330.79h0M556.85 331.45h0M555.68 333.51h0M559.98 339.93h0M549.63 345.28h0M549.71 331.81h0M553 318.52h0M552.69 338.81h0M550.62 354.32h0M553.92 348.12h0M550.24 320.7h0M562.09 339.88h0M562.41 351.11h0M560.39 324.76h0M553.01 342.63h0M562.33 340.94h0M561.74 324.74h0M553.91 335.77h0M553.88 324.41h0M551.39 345.41h0M556.84 328.58h0M560.88 331.49h0M556.83 350.36h0M561.54 326.8h0M552.67 317.59h0M556.55 321.44h0M556.9 333.86h0M560.4 318.7h0M549.45 339.58h0M549.74 356.33h0M549.71 342.09h0M549.75 338h0M557.89 361.77h0M558.11 323.49h0M552.13 320.13h0M556.22 332.09h0M559.82 315.61h0M562.83 344.57h0M558.45 329.12h0M559.17 350.93h0M558.98 335.3h0M560.73 325.17h0M558.37 342.24h0M560.84 322.61h0M561.65 353.36h0M556.25 319.17h0M559.01 340.44h0M554.72 331.81h0M550.66 347.9h0M554.06 337.94h0M550.98 373.04h0M552.82 332.29h0M562.85 323.67h0M550.2 326.2h0M558.09 332.11h0M549.42 334.66h0M555.29 343.42h0M549.04 358.83h0M550.11 349.28h0M551.98 332.5h0M559.12 328.12h0M551.24 343.04h0M552.66 340.74h0M553.11 326.35h0M556.61 317.86h0M552.35 330.23h0M561.63 348.53h0M556.6 326.38h0M562.66 341.59h0M549.24 344.41h0M562.52 334.96h0M556.31 332.1h0M556.13 347.23h0M558.23 341.56h0M555.5 335.76h0M554 334.11h0M557.47 330.35h0M550.83 354.23h0M552.34 330h0M561.36 326.99h0M563.2 353.06h0M552.44 337.64h0M559.9 342.66h0M548.52 337.39h0M560.67 325.72h0M549.72 357.03h0M549.94 338.3h0M555.61 316.8h0M557.18 365.55h0M561.19 329.98h0M554.67 342.96h0M562.07 315.71h0M551.58 316.82h0M556.54 323.63h0M560.81 342.9h0M553.11 337.04h0M553.02 337.69h0M555.41 331.42h0M558.67 338.38h0M550.07 347.07h0M562.81 346.52h0M560.78 327.58h0M554.08 336.98h0M559.01 337.47h0M555.28 334.67h0M548.65 320.33h0M551.56 314.2h0M557.62 337.04h0M556.49 338.85h0M552.91 324.5h0M558.37 342.21h0M552.3 325.58h0M553.38 329.82h0M562.49 317.21h0M553.41 353.84h0M560.74 343.37h0M549.9 330.31h0M558.53 332.24h0M554.45 337.87h0M560.89 343.27h0M551.85 340.29h0M550.82 338.79h0M549.58 327.09h0M562.13 327.19h0M558.08 348.91h0M559.85 329.47h0M553.4 330.72h0M554.6 346.69h0M558.86 323.69h0M563.03 334.71h0M557.51 331.5h0M548.77 353.15h0M558.13 341.3h0M550.07 326.21h0M560.17 346.29h0M560.71 325.84h0M559.84 341.34h0M561.86 340.48h0M555.91 346.68h0M550.6 339.27h0M556.14 344.02h0M559.09 370.61h0M562.48 331.78h0M557.78 342.8h0M552.12 334.27h0M557.03 331.11h0M562.25 339.43h0M553.85 346.13h0M562.91 341.97h0M550.51 334.46h0M556.8 323.39h0M556.79 344.5h0M563.18 338.29h0M560.6 309.45h0M560.7 340.88h0M552.77 339.59h0M556.99 328.72h0M560.8 341.32h0M549.63 329.88h0M548.97 321.86h0M562.4 320.7h0M558.24 303.57h0M559.42 342.3h0M554.15 318.99h0M548.74 354.22h0M551.45 347.84h0M554.22 342.49h0M556.93 334.55h0M552.4 329.12h0M556.91 322.87h0M549.06 344.46h0M558.43 320.79h0M557.38 317.06h0M555.45 311.69h0M558.7 350.29h0M559.72 326.94h0M563.22 335.75h0M560.91 349.87h0M554.92 328.27h0M556.88 345.72h0M556.27 323.63h0M554.9 344.2h0M549.31 327.11h0M559.24 341.93h0M557.34 319.97h0M559.63 347.44h0M549.53 341.38h0M550.34 320.59h0M554.37 349.43h0M549.27 331.21h0M552.04 340.92h0M553.03 349.83h0M549.51 342.94h0M561.99 330.47h0M561.32 318.35h0M554.74 339.65h0M559.55 332.98h0M556.89 343.97h0M560.23 331.36h0M550.33 339.04h0M548.51 364.83h0M552.11 342.86h0M549.43 339.17h0M561.75 325.67h0M553.78 331.02h0M557.17 347.07h0M561.8 332.97h0M553.06 335.03h0M562.96 364.15h0M555.5 335.62h0M562.16 333.16h0M561.77 326.13h0M553.74 328.13h0M555.49 314.12h0M563.23 324.14h0M551.49 313.9h0M561.53 341.22h0M549.24 341.74h0M553.13 320.57h0M561.82 323.84h0M550.5 322.82h0M558.8 349.89h0M549.67 323.73h0M551.8 340.91h0M551.41 342.6h0M551.18 318.03h0M560.2 334.26h0M554.01 318.06h0M557.23 349.12h0M551.89 357.32h0M558.37 344.61h0M552.6 309.59h0M563.05 339.25h0M555.02 339.95h0M549.17 350.57h0M557.38 338.53h0M560.39 337.88h0M549.79 326.9h0M552.14 340.35h0M552.63 316.04h0M561.78 343.33h0M563.12 338.21h0M559.61 322.71h0M554.19 333.07h0M551.16 323.01h0M556.73 342.03h0M558.24 342.91h0M560.09 344.94h0M561.01 350.2h0M558.63 337.41h0M551.07 365.47h0M560.04 339.73h0M551.98 327.47h0M555.02 321.61h0M560.21 332.82h0M551.99 356.97h0M557.09 344.45h0M555.88 335.31h0M559.08 319.96h0M556.98 332.3h0M550.75 330.57h0M548.76 341.37h0M555.04 348.84h0M552.39 335.58h0M561.93 334.48h0M556.92 340.38h0M552.02 356.57h0M550.66 341.66h0M553.15 337.23h0M557.69 332.59h0M557.21 345.28h0M549.81 337.41h0M552.27 332.71h0M550.87 342.61h0M560.14 344.22h0M549.4 357.18h0M551.7 345.66h0M548.3 286.81h0M555.2 286.81h0M553 294.89h0M557 295.9h0M550 300.95h0M559 301.96h0" stroke="#4169e1" stroke-width="1.3" stroke-linecap="square"/>
<path d="M631.85 339.25h0M628.62 331.82h0M632.09 341.71h0M628.37 337.17h0M617.5 334.86h0M619.08 343.89h0M622.95 319.96h0M618.08 349.18h0M617.43 333.23h0M628.2 324.82h0M620.44 345.89h0M620.62 345.7h0M624.01 330.04h0M622.09 334.88h0M632.01 350.14h0M623.11 348.03h0M626.91 347.6h0M627.6 335.02h0M630.21 341.4h0M624.02 366.68h0M622.95 359.02h0M628.93 338.84h0M620.22 355.29h0M625.36 349.83h0M619.42 339.07h0M624.1 342.97h0M621.65 337.32h0M627.36 381.65h0M630.19 332.88h0M618.02 342.04h0M627.55 333.96h0M617.19 351.71h0M619.7 338.02h0M631.12 346.33h0M627.91 333.32h0M619.26 346.73h0M631.32 334h0M628.04 358.52h0M630.87 329.46h0M622.82 334.79h0M618.18 344.02h0M628.77 337.44h0M624.9 352.63h0M620.57 333.97h0M617.53 341.29h0M617.39 335.88h0M621.71 332.15h0M618.99 358.88h0M627.78 338.41h0M627.16 346.66h0M619.17 325.94h0M627.88 342.64h0M623.14 335.95h0M620.38 363.77h0M621.4 329.49h0M617.53 350.14h0M617.28 338.4h0M629.36 356.08h0M631.92 356.83h0M631.05 350.76h0M620.23 328.15h0M631.61 352.09h0M630.27 362.06h0M618.28 343.73h0M623.49 328.32h0M622.8 348.72h0M621.95 342.72h0M619.34 355.21h0M623.1 345.21h0M627.14 352.62h0M620.59 344.25h0M623.4 336.15h0M619.22 339.27h0M625.42 361.75h0M627.68 354.74h0M622.51 333.44h0M617.87 343.65h0M624.53 348.74h0M625.92 343.09h0M620.8 355.94h0M617.26 343.3h0M625.61 360.03h0M620.93 324.44h0M624.13 349.22h0M626.37 352.16h0M625.77 334.35h0M631.41 348.62h0M626.46 343.1h0M623.23 362.26h0M629.68 353.8h0M630.45 340.46h0M617.49 364.97h0M618.99 327.43h0M622.45 355.79h0M631.95 345.85h0M620.42 340.73h0M627.37 338.98h0M625.27 345.34h0M622.97 344.87h0M626.91 344.44h0M625.34 331.28h0M629.7 356.43h0M631.82 356.34h0M630.55 350.99h0M621.73 335.71h0M627.47 349.36h0M631.74 363.65h0M626.47 342.17h0M624.46 351.77h0M621.3 356.11h0M628.43 349.93h0M620.74 354.1h0M621.9 347.28h0M618.84 339.01h0M617.87 332.31h0M627.75 340.28h0M618.64 343.04h0M624.3 365.28h0M619.4 339.15h0M617.72 329.06h0M620.81 363.62h0M622.94 366.99h0M627.93 346.4h0M621.93 345.61h0M622.04 326.17h0M629.66 344.03h0M625.64 368.66h0M626.49 362.06h0M629.7 336.3h0M622.71 343.41h0M627.21 351.34h0M617.11 344.47h0M625.92 337.7h0M618.96 357.04h0M626.62 350.22h0M623.01 357.07h0M617.65 360.16h0M617.55 346.78h0M621.31 351.31h0M618.75 349.92h0M625.26 346.74h0M624.34 342.93h0M629.23 352.69h0M629.82 337.95h0M626.41 347.93h0M628.69 333.58h0M627.59 333.44h0M625.31 346.83h0M619.6 343.27h0M618.55 351.89h0M624.42 336.96h0M618.75 349.13h0M625.62 346.46h0M619.11 343.25h0M620.4 352.24h0M624.33 352.26h0M617.69 351.64h0M617.89 338.37h0M618.11 337.25h0M619.71 351.9h0M620.01 341.08h0M623.28 336.02h0M629.33 355.72h0M625.38 348.71h0M627.02 342.85h0M631.36 352.38h0M630.21 352.21h0M629.74 332.28h0M628.06 345.86h0M619.5 344.12h0M618.73 342.87h0M628.5 335.2h0M621.67 340.22h0M620.14 347.14h0M631.67 345.55h0M629.38 330.59h0M629.1 344.36h0M629.27 346.51h0M629.65 357.57h0M618.45 341.46h0M631.54 380.57h0M620.76 360.87h0M630.91 334.47h0M620.4 329.67h0M622.88 343.05h0M629.39 357.47h0M622.52 332.41h0M621.2 352.72h0M630.84 354.03h0M622.06 347.73h0M628.32 340.54h0M625.31 340.58h0M627.38 325.99h0M619.1 342.86h0M622.3 340.25h0M624.64 346.9h0M623.11 344.69h0M631.57 351.92h0M620.05 331.84h0M628.51 337.6h0M618.57 352.67h0M631.73 332.58h0M620.28 346.4h0M619.64 361.29h0M621.11 335.05h0M621.86 358.39h0M619.73 371.81h0M619.18 368.2h0M626.82 353.22h0M620.17 354.24h0M630.09 364.26h0M626.58 362.3h0M618.66 361.08h0M629.8 345.87h0M627.15 350.31h0M623.36 357.77h0M626.15 351.95h0M625.72 339.58h0M626.56 348.48h0M623.78 345.69h0M631.25 358.95h0M619.24 354.41h0M628.27 337.94h0M632.14 353.02h0M623.09 327.12h0M632.15 341.15h0M624.46 350.06h0M626.9 343.08h0M631.34 322.29h0M624.78 335.04h0M632.2 364.42h0M627.86 322.91h0M620.76 335.69h0M625.16 340.7h0M630.23 357.87h0M626.81 342.12h0M618.03 336.13h0M624.46 365.45h0M620.62 352.61h0M628.77 338.03h0M625.36 368.05h0M619.24 327.44h0M622.53 357.47h0M622.23 342.71h0M630.22 343.43h0M619.7 342.34h0M622.88 350.63h0M630.79 335.59h0M618.01 359.03h0M626.59 337.17h0M630.4 346.02h0M627.19 346.51h0M623.53 353.34h0M621.76 334.4h0M626.6 344.33h0M627.6 348.33h0M619.68 329.18h0M624.08 332.46h0M618.89 331.96h0M626.29 323.88h0M622.41 326.18h0M627.55 332.34h0M621.68 346.38h0M623.19 356.8h0M623.44 335.01h0M629.53 331.78h0M624.7 356.65h0M631.4 338.14h0M620.52 356.15h0M625.82 329.85h0M621.31 350.74h0M630.06 321.37h0M631.28 351.33h0M622.87 357.35h0M623.81 346.08h0M617.89 361.81h0M623.69 354h0M631.6 340.6h0M627.25 350.37h0M620.67 327.39h0M630.69 350.87h0M620.78 341.98h0M629.54 355.12h0M629.99 340.09h0M618.43 358.21h0M630.71 353.61h0M622.67 335.6h0M628.04 339.32h0M630.73 350.8h0M631.52 355.11h0M624.13 328.41h0M622.47 342.89h0M627.23 355.7h0M626.23 343.08h0M632.19 351.53h0M626.91 363.39h0M627.7 331.45h0M624.02 340.89h0M623.08 345.46h0M632.14 350.12h0M620.13 352.45h0M622.98 350h0M628.32 340.48h0M626.89 339.05h0M626.49 341.72h0M629.39 345.85h0M628.16 354.64h0M624.12 344.39h0M617.14 351.43h0M630.7 326.85h0M617.27 367.89h0M625.12 354.3h0M618.61 333.3h0M624.71 342.88h0M618.82 355.35h0M618.26 351.21h0M624.79 348.03h0M620.7 351.12h0M623.27 325.18h0M623.86 337.39h0M625.5 342.55h0M618.51 368.26h0M629.99 339.42h0M624.98 327.3h0M623.16 318.82h0M631.74 363.82h0M623.27 361.07h0M629.5 338.4h0M628.21 344.92h0M625.08 347.04h0M617.34 352.27h0M631.78 337.5h0M626.8 338.84h0M623.31 343.25h0M618.11 348.43h0M631.05 345.79h0M621.96 339.5h0M630.55 363.01h0M631.48 344.17h0M630.82 358.4h0M622.97 351.3h0M620.88 351.45h0M622.57 326.46h0M622.42 357.85h0M623.53 339.46h0M629.77 349.07h0M617.85 344.21h0M623.06 360.42h0M620.33 348.05h0M621.74 335.9h0M624.35 338.57h0M624.41 342.9h0M617.04 325.38h0M617.01 371.67h0M626.04 327.92h0M626.11 334.18h0M622.58 348.21h0M625.98 350.64h0M621.75 329.63h0M628.51 359.99h0M617.72 345.17h0M621.06 337.68h0M629.15 340.3h0M623.1 366.84h0M621.3 334.55h0M632.06 347.57h0M629.71 350.02h0M629.52 350.39h0M629.04 336.05h0M628.66 347.98h0M617.64 348.62h0M631.18 356.27h0M626.74 356.23h0M628.49 317.38h0M625.83 341.43h0M623.34 325.6h0M627.37 344.7h0M618.05 318.51h0M628.93 348.15h0M622.72 364.22h0M623.79 338.01h0M621.83 350.99h0M628.21 343.04h0M629.74 339.97h0M627.16 342.78h0M618.72 351.06h0M621.67 347.16h0M631.1 330.5h0M620.15 349.83h0M629.82 358.32h0M618.8 337.73h0M617.38 335.78h0M623.55 355.16h0M631.19 358.43h0M624.5 332.76h0M628.89 349.84h0M618.52 356.55h0M625.92 345.74h0M620.01 352.7h0M622.29 349.51h0M626.01 339.43h0M625.74 357.32h0M629.87 346.89h0M624.3 355.48h0M632 332.91h0M620.5 354.21h0M620.92 328.86h0M620.86 347.34h0M617.89 361.12h0M627.93 340.04h0M623.56 355.91h0M631.93 356.86h0M630.91 355.85h0M620.46 358.85h0M628.5 341.55h0M629.95 337.09h0M617.44 339.17h0M625.39 350.39h0M622.03 360.28h0M628.68 328.14h0M629.31 321.15h0M620.26 328.04h0M619.97 333.17h0M618.76 361.62h0M628.68 349.01h0M631.13 367.96h0M627.51 358.25h0M627.97 364.94h0M621.38 322.94h0M620.98 333.17h0M620.74 360.62h0M620.8 330.47h0M621.41 343.47h0M624.37 345.51h0M621.1 338.95h0M624.74 347.52h0M630.36 335.85h0M630.06 332.53h0M626.28 325.1h0M625.13 364.37h0M627.06 350.75h0M620.9 327.09h0M617.74 355.56h0M629.02 334.79h0M620.49 349.85h0M628.13 356.54h0M631.43 341.98h0M622.27 361.04h0M620.48 345.95h0M631.38 339.82h0M627.02 347.2h0M618.47 321.89h0M625.61 334.01h0M621.66 318.86h0M630.33 320.56h0M617.95 328.75h0M617.36 338.63h0M627.45 376.57h0M630.07 360.28h0M618.09 342.2h0M625.02 359.75h0M622.36 339.47h0M624.58 331.8h0M623.33 339.26h0M624.38 327.47h0M625.49 333.06h0M631.88 338.75h0M621.52 351.43h0M622.07 347.85h0M631.93 353.89h0M631.53 372.76h0M631.3 324.01h0M617.21 356.23h0M627.46 361.56h0M626.34 344.34h0M618.23 366.76h0M624.9 363.79h0M618.62 342.41h0M630.28 346.17h0M617.39 342.81h0M629.68 346.1h0M625.83 350.92h0M628.56 358.99h0M617.95 345.23h0M629.13 345.81h0M623.18 322.72h0M622.07 348.92h0M628.76 346.59h0M620.94 343.66h0M622.06 358.11h0M627.29 352.98h0M630.48 353.89h0M619.61 342.91h0M624.28 339.94h0M628.97 337.89h0M626.98 349.84h0M620.91 337.63h0M630.41 354.59h0M619.74 346.71h0M621.98 344.25h0M628.09 335.19h0M625.22 355.22h0M618.11 364.42h0M620.25 344.62h0M623.28 354.43h0M622.39 333.75h0M630.93 346.14h0M618.99 333.42h0M629.06 346.11h0M629.07 343.17h0M622.74 356.18h0M628.32 349.14h0M624.23 329.57h0M624.58 344.55h0M622.76 347.23h0M619.11 320.73h0M620.07 334.7h0M631.24 323.18h0M622.17 366.74h0M627.9 339.31h0M631.46 348.22h0M627.34 343.08h0M630.49 339.26h0M623.89 349.75h0M622.63 374.66h0M631.36 338.34h0M618 338.76h0M617.66 340.93h0M621.63 335.12h0M625.01 342.85h0M625.22 339.73h0M625.01 364.1h0M631.49 353.87h0M618.08 337.89h0M621.66 341.17h0M624.66 343.54h0M619.37 372.86h0M621.43 353h0M629.11 331.64h0M626.19 332.14h0M629.93 347.7h0M631.44 353.09h0M631.96 343.67h0M623.07 325.07h0M617.7 342.25h0M628.24 341.5h0M620.16 339.01h0M629.21 336.92h0M624.59 344.34h0M619.71 353.16h0M617.13 356.5h0M620.91 346.57h0M626.43 342.06h0M626.51 354.74h0M621.78 335.35h0M625.85 361h0M623.32 325.67h0M622.02 358.43h0M630.97 348.75h0M630.04 342.42h0M630.48 317.14h0M632.06 337.85h0M621.35 333.06h0M620.52 336.13h0M625.89 328.31h0M621.27 329.25h0M618.39 320.79h0M625.51 349.69h0M624.56 355.72h0M622.74 332.52h0M616.93 352.2h0M625.74 354.98h0M626.63 345.18h0M624.56 350.5h0M624.32 344.15h0M621.21 365.66h0M623.72 370.3h0M620.51 326.65h0M629.67 334.37h0M630.8 342.63h0M624.66 354.26h0M631.47 359.19h0M624.44 338.49h0M629.85 355.37h0M624.65 344.27h0M620.21 349.79h0M629.75 338.69h0M631.02 334.3h0M627.45 377.13h0M629.37 339.78h0M629.24 363.66h0M621.57 335.44h0M620.66 325.48h0M624.78 343.11h0M622.18 346.65h0M630.93 341.07h0M631.26 361.46h0M627.18 348.12h0M618.58 348.87h0M621.68 321h0M619 307.01h0M624 308.02h0M620 385.79h0M624 386.8h0M621 381.75h0M625 382.76h0" stroke="#ff0000" stroke-width="1.3" stroke-linecap="square"/>
<path d="M555.8 282.2V278.4H624.5V282.6" stroke="#444" stroke-width="0.6" fill="none"/>
<text x="590.2" y="276.2" text-anchor="middle" font-weight="bold" fill="#222" font-size="9">****</text>
<rect x="671.5" y="321.6" width="3.0" height="3.0" fill="#c7d2f7" stroke="#4169e1" stroke-width="0.5"/>
<rect x="671.5" y="327.1" width="3.0" height="3.0" fill="#ffc0c0" stroke="#ff0000" stroke-width="0.5"/>
<text x="675.6" y="325.6" font-weight="bold" fill="#222" font-size="6.2">C1</text>
<text x="675.6" y="331.1" font-weight="bold" fill="#222" font-size="6.2">C2</text>
<path d="M39.4 476.3H40.73V476.39H42.05V476.47H43.38V476.56H44.71V476.65H46.03V476.73H47.36V476.82H48.69V476.91H50.01V477.53H51.34V478.31H52.67V479.09H53.99V480.1H55.32V481.39H56.65V482.67H57.97V483.96H59.3V485.23H60.63V486.22H61.95V487.21H63.28V488.19H64.61V488.8H65.93V489.29H67.26V489.78H68.59V490.27H69.91V491.02H71.24V492.17H72.56V493.32H73.89V494.47H75.22V495.62H76.54V496.25H77.87V496.86H79.2V497.46H80.52V498.06H81.85V498.67H83.18V499.27H84.5V500.15H85.83V501.52H87.16V502.89H88.48V504.26H89.81V505.64H91.14V507.03H92.46V508.27H93.79V509.46H95.12V510.65H96.44V511.84H97.77V513.03H99.1V514.16H100.42V515.22H101.75V516.28H103.08V517.34H104.4V518.4H105.73V519.46H107.06V520.25H108.38V521.01H109.71V521.73H111.04V521.73H112.36V521.73H113.69V521.73H115.02V521.73H116.34V521.73H117.67V521.73H119V521.73H120.32V521.73H121.65V521.73H122.98V521.73H124.3V521.73H125.63V521.73H126.96V521.73H128.28V521.73H129.61V521.73H130.94V520.29H132.26V520.29H133.59V520.29H134.92V520.29H136.24V520.29H137.57V520.29H138.89V520.29H140.22V520.29H141.55V520.29H142.87V520.29H144.2V520.29H145.53V520.29H146.85V520.29H148.18V520.29H149.51V520.29H150.83V520.29H152.16V520.29H153.49V520.29H154.81V520.29H156.14V520.29H157.47V520.29H158.79V520.29H160.12V520.29H161.45V520.29H162.77V520.29H164.1V520.29H165.43V520.29H166.75V520.29H168.08V520.29H169.41V520.29H170.59V520.29V553H170.59V553H169.41V553H168.08V553H166.75V553H165.43V553H164.1V553H162.77V553H161.45V553H160.12V553H158.79V553H157.47V553H156.14V553H154.81V553H153.49V553H152.16V553H150.83V553H149.51V553H148.18V553H146.85V553H145.53V553H144.2V553H142.87V553H141.55V553H140.22V553H138.89V553H137.57V553H136.24V553H134.92V553H133.59V553H132.26V553H130.94V542.78H129.61V542.78H128.28V542.78H126.96V542.78H125.63V542.78H124.3V542.78H122.98V542.78H121.65V542.78H120.32V542.78H119V542.78H117.67V542.78H116.34V542.78H115.02V542.78H113.69V542.78H112.36V542.78H111.04V542.78H109.71V539.53H108.38V536.08H107.06V532.89H105.73V531.8H104.4V530.7H103.08V529.6H101.75V528.5H100.42V527.4H99.1V526.22H97.77V524.99H96.44V523.76H95.12V522.53H93.79V521.31H92.46V520.03H91.14V518.27H89.81V516.49H88.48V514.72H87.16V512.95H85.83V511.17H84.5V509.92H83.18V508.99H81.85V508.06H80.52V507.14H79.2V506.21H77.87V505.28H76.54V504.33H75.22V502.85H73.89V501.38H72.56V499.91H71.24V498.44H69.91V497.37H68.59V496.55H67.26V495.74H65.93V494.93H64.61V494H63.28V492.69H61.95V491.38H60.63V490.07H59.3V488.48H57.97V486.87H56.65V485.26H55.32V483.65H53.99V482.32H52.67V481.22H51.34V480.11H50.01V479.17H48.69V478.76H47.36V478.35H46.03V477.94H44.71V477.53H43.38V477.12H42.05V476.71H40.73V476.3H39.4Z" fill="#f08a64" fill-opacity="0.45"/>
<path d="M39.4 476.3H40.73V476.24H42.05V476.19H43.38V476.13H44.71V476.08H46.03V476.02H47.36V475.96H48.69V475.91H50.01V475.85H51.34V475.79H52.67V475.74H53.99V475.68H55.32V475.63H56.65V475.74H57.97V476.3H59.3V476.87H60.63V477.43H61.95V477.99H63.28V478.22H64.61V478.4H65.93V478.57H67.26V478.75H68.59V478.93H69.91V479.11H71.24V479.29H72.56V479.47H73.89V479.65H75.22V479.99H76.54V480.32H77.87V480.65H79.2V480.98H80.52V481.31H81.85V481.64H83.18V481.97H84.5V482.3H85.83V482.59H87.16V482.76H88.48V482.92H89.81V483.08H91.14V483.32H92.46V483.58H93.79V483.84H95.12V484.09H96.44V484.35H97.77V484.6H99.1V484.86H100.42V485.07H101.75V485.42H103.08V485.78H104.4V486.14H105.73V486.5H107.06V486.86H108.38V487.22H109.71V487.58H111.04V487.95H112.36V488.32H113.69V488.48H115.02V488.36H116.34V488.25H117.67V488.46H119V488.84H120.32V496.34H121.65V496.29H122.98V496.23H124.3V496.18H125.63V497.91H126.96V499.24H128.28V499.24H129.61V499.24H130.94V499.24H132.26V499.24H133.59V499.24H134.92V499.24H136.24V499.24H137.57V499.24H138.89V499.24H140.22V499.24H141.55V499.24H142.87V499.24H144.2V499.24H145.53V499.24H146.85V499.24H148.18V499.24H149.51V499.24H150.83V499.24H152.16V499.24H153.49V499.24H154.81V499.24H156.14V499.24H157.47V499.24H158.79V499.24H160.12V499.24H161.45V499.24H162.77V499.24H164.1V499.24H165.43V499.24H166.75V499.24H168.08V499.24H169.41V499.24H170.73V499.24H172.06V499.24H173.39V500.67H174.71V500.67H176.04V500.67H177.37V500.67H178.69V500.67H180.02V500.67H181.35V500.67H182.67V500.67H184V500.67H185.33V500.67H186.65V500.67H187.98V500.67H189.31V500.67H190.63V502.28H191.96V502.28H193.29V502.28H194.61V502.28H195.94V502.28H197.27V502.28H198.59V502.28H199.92V502.28H201.25V502.28H202.57V502.28H203.9V502.28H205.22V502.28H206.55V502.28H207.88V502.28H209.2V502.28H210.53V502.28H211.86V502.28H213.18V502.28H214.07V502.28V541.71H214.07V541.71H213.18V541.71H211.86V541.71H210.53V541.71H209.2V541.71H207.88V541.71H206.55V541.71H205.22V541.71H203.9V541.71H202.57V541.71H201.25V541.71H199.92V541.71H198.59V541.71H197.27V541.71H195.94V541.71H194.61V541.71H193.29V541.71H191.96V541.71H190.63V532.03H189.31V532.03H187.98V532.03H186.65V532.03H185.33V532.03H184V532.03H182.67V532.03H181.35V532.03H180.02V532.03H178.69V532.03H177.37V532.03H176.04V532.03H174.71V532.03H173.39V523.79H172.06V523.79H170.73V523.79H169.41V523.79H168.08V523.79H166.75V523.79H165.43V523.79H164.1V523.79H162.77V523.79H161.45V523.79H160.12V523.79H158.79V523.79H157.47V523.79H156.14V523.79H154.81V523.79H153.49V523.79H152.16V523.79H150.83V523.79H149.51V523.79H148.18V523.79H146.85V523.79H145.53V523.79H144.2V523.79H142.87V523.79H141.55V523.79H140.22V523.79H138.89V523.79H137.57V523.79H136.24V523.79H134.92V523.79H133.59V523.79H132.26V523.79H130.94V523.79H129.61V523.79H128.28V523.79H126.96V523.05H125.63V521.16H124.3V521.04H122.98V520.93H121.65V520.81H120.32V512.14H119V510.52H117.67V509.07H116.34V507.94H115.02V506.82H113.69V505.57H112.36V504.22H111.04V499.47H109.71V496.85H108.38V496.78H107.06V496.7H105.73V496.63H104.4V496.56H103.08V496.48H101.75V496.41H100.42V496.06H99.1V495.32H97.77V494.58H96.44V493.84H95.12V493.09H93.79V492.35H92.46V491.61H91.14V490.93H89.81V490.55H88.48V490.16H87.16V489.78H85.83V489.26H84.5V488.71H83.18V488.16H81.85V487.61H80.52V487.06H79.2V486.51H77.87V485.96H76.54V485.4H75.22V484.85H73.89V484.44H72.56V484.04H71.24V483.65H69.91V483.25H68.59V482.85H67.26V482.45H65.93V482.05H64.61V481.65H63.28V481.2H61.95V480.44H60.63V479.69H59.3V478.94H57.97V478.19H56.65V477.88H55.32V477.75H53.99V477.62H52.67V477.49H51.34V477.36H50.01V477.22H48.69V477.09H47.36V476.96H46.03V476.83H44.71V476.7H43.38V476.56H42.05V476.43H40.73V476.3H39.4Z" fill="#7c83c8" fill-opacity="0.45"/>
<path d="M39.4 476.3H40.55V476.52H41.86V476.76H42.94V476.96H44.15V477.19H45.07V477.36H46.13V477.56H47.7V477.85H49.12V478.19H49.5V478.46H50.27V479.01H51.23V479.69H51.91V480.17H52.77V480.78H53.57V481.41H53.88V481.75H54.75V482.7H55.49V483.51H55.99V484.06H56.28V484.37H57.24V485.42H57.88V486.12H58.72V487.03H59.68V487.98H60.52V488.71H61.51V489.57H62.09V490.07H63V490.85H63.62V491.37H64.63V491.87H65.59V492.35H65.93V492.51H66.31V492.7H66.74V492.91H67.78V493.42H68.39V493.73H69.16V494.1H69.66V494.48H70.33V495.14H70.9V495.71H71.45V496.25H72.18V496.97H72.91V497.69H73.89V498.66H74.7V499.46H75.71V500.28H76.65V500.83H77.71V501.44H78.51V501.9H78.9V502.13H79.85V502.67H80.88V503.27H81.87V503.84H82.59V504.25H83.42V504.73H83.86V504.98H84.78V506.03H85.5V506.9H86V507.5H86.31V507.89H87.26V509.04H88.31V510.32H88.65V510.72H89.55V511.82H90.14V512.54H90.53V513.01H91.03V513.62H91.9V514.49H92.86V515.35H93.16V515.62H93.92V516.29H94.22V516.56H95.06V517.31H95.58V517.79H96.55V518.65H97.6V519.59H98.26V520.19H99.32V521.07H99.84V521.47H100.16V521.74H100.91V522.33H101.2V522.56H101.62V522.9H102.21V523.37H102.96V523.97H103.35V524.28H103.65V524.52H104.6V525.28H105.12V525.69H106.15V526.83H107.13V528.74H107.69V529.85H108.32V531.08H109V532.41H109.78V533.64H130.05V541.62H170.59V565.9H170.59" stroke="#e41a1c" stroke-width="1.2" fill="none"/>
<path d="M85.82 508.29v-2M75.74 501.3v-2M59.64 488.95v-2M63.28 492.1v-2M55.33 484.33v-2M44.17 478.19v-2M80.62 504.12v-2M59.5 488.82v-2M96.13 519.27v-2M42.56 477.89v-2M102.67 524.73v-2M87.97 510.9v-2M104.08 525.87v-2M102.17 524.34v-2M102.39 524.51v-2M79.8 503.64v-2M40.32 477.47v-2M91.58 515.2v-2M51.43 480.83v-2M60.4 489.6v-2M85.81 508.28v-2M76.16 501.54v-2M68.37 494.71v-2M105.15 526.71v-2M82.26 505.06v-2M63.3 492.12v-2M57.08 486.24v-2M99.73 522.39v-2M72.81 498.59v-2M94.17 517.52v-2M64.03 492.58v-2M53.22 482.1v-2M76.83 501.93v-2M96.59 519.69v-2M51.39 480.8v-2M94.83 518.11v-2M103.94 525.75v-2M95.84 519.01v-2M97.06 520.11v-2M39.93 477.4v-2M83.41 505.73v-2M99.79 522.44v-2M42.9 477.95v-2M58.4 487.69v-2M58.21 487.47v-2M76.32 501.64v-2M69.02 495.03v-2M72.51 498.3v-2M93.77 517.16v-2M39.53 477.32v-2M43.24 478.02v-2M48.28 478.96v-2M48.13 478.93v-2M44.19 478.2v-2M107.64 530.75v-2M99.22 521.99v-2M45.43 478.43v-2M74.56 500.32v-2M61.52 490.57v-2M61.43 490.49v-2M64 492.56v-2M84.69 506.92v-2M80.47 504.03v-2M64.66 492.89v-2M52.78 481.79v-2M62.42 491.35v-2M48.06 478.92v-2M78.3 502.78v-2M89.53 512.8v-2M66.02 493.56v-2M44.99 478.35v-2M51.9 481.16v-2M65.53 493.32v-2M81.72 504.75v-2M94.2 517.54v-2M66.02 493.56v-2M95.49 518.7v-2M83.01 505.5v-2M69.62 495.44v-2M65.47 493.29v-2M74.14 499.9v-2M88.61 511.68v-2M68.84 494.95v-2M88 510.94v-2M71.67 497.46v-2M56.56 485.68v-2M76.92 501.98v-2M88.07 511.03v-2M44.41 478.24v-2M69.15 495.1v-2M111.63 534.54v-1.8M115.31 534.54v-1.8M119.73 534.54v-1.8M124.16 534.54v-1.8M144.05 542.52v-1.8M166.9 542.52v-1.8" stroke="#e41a1c" stroke-width="0.7"/>
<path d="M39.4 476.3H45.53V476.46H51.82V476.63H56.38V476.8H56.79V477H58.01V477.6H58.37V477.78H59.31V478.24H60.11V478.64H61.04V479.09H62.07V479.6H63.69V479.92H64.86V480.14H66.37V480.43H67.58V480.66H68.59V480.86H69.43V481.02H71.07V481.33H71.93V481.5H73.15V481.73H74.02V481.92H74.6V482.09H75.16V482.26H75.74V482.44H76.28V482.61H76.88V482.79H77.87V483.1H78.91V483.41H79.51V483.6H80.37V483.86H81.58V484.23H82.44V484.49H83.24V484.74H83.92V484.95H84.57V485.14H85.35V485.38H86.33V485.58H87.92V485.87H88.91V486.04H90.21V486.33H91.04V486.71H91.46V486.9H91.93V487.12H92.36V487.31H93.09V487.65H93.61V487.88H94.06V488.09H94.87V488.46H95.9V488.93H96.4V489.16H97.22V489.54H97.82V489.81H98.76V490.25H99.49V490.58H105.7V490.75H109.58V491.01H110.29V491.83H110.93V492.59H111.77V493.57H112.72V494.67H113.31V495.28H114.15V495.96H115.18V496.79H115.82V497.3H116.27V497.66H116.72V498.02H117.56V498.98H118.36V499.92H119.39V507.64H120.33V509.82H125.32V510.94H126.27V512.41H172.06V518.32H190.49V526.48H214.07" stroke="#2a4aa3" stroke-width="1.2" fill="none"/>
<path d="M50.19 477.59v-2M102.47 491.69v-2M89.01 487.06v-2M43.43 477.41v-2M68.05 481.75v-2M57.98 478.59v-2M45.6 477.46v-2M82.29 485.45v-2M113.41 496.36v-2M65.12 481.19v-2M108.69 491.8v-2M94.69 489.38v-2M50.09 477.58v-2M107.72 491.78v-2M87.25 486.75v-2M113.18 496.18v-2M96.39 490.16v-2M98.28 491.02v-2M66.75 481.5v-2M103.61 491.71v-2M113.56 496.49v-2M107.97 491.79v-2M74.19 482.97v-2M99.64 491.64v-2M78 484.14v-2M48.09 477.53v-2M42.8 477.39v-2M45.6 477.46v-2M55.34 477.72v-2M52.2 477.64v-2M78.97 484.43v-2M95.06 489.55v-2M82.18 485.41v-2M73 482.7v-2M91.08 487.72v-2M63.65 480.91v-2M76.36 483.63v-2M99.66 491.64v-2M71.35 482.38v-2M53.77 477.68v-2M110.99 493.65v-2M96.68 490.29v-2M68.61 481.86v-2M68.93 481.92v-2M81.53 485.21v-2M86.88 486.68v-2M57.22 478.21v-2M39.61 477.31v-2M56.04 477.74v-2M101.74 491.67v-2M50.82 477.6v-2M76.01 483.53v-2M54.95 477.71v-2M56.06 477.74v-2M52.99 477.66v-2M71.54 482.42v-2M52.79 477.66v-2M41.59 477.36v-2M48.16 477.53v-2M52.79 477.66v-2M78.42 484.26v-2M44.15 477.43v-2M41.19 477.35v-2M75.06 483.24v-2M71.85 482.48v-2M95.39 489.7v-2M43.47 477.41v-2M71.5 482.41v-2M70.97 482.31v-2M41.52 477.36v-2M116.25 498.65v-2M56.82 478.02v-2M46.9 477.5v-2M77.18 483.88v-2M52.51 477.65v-2M88.94 487.05v-2M66.97 481.55v-2M49.27 477.56v-2M43.53 477.41v-2M97.32 490.59v-2M61.3 480.22v-2M102.11 491.68v-2M76.44 483.66v-2M113.66 496.56v-2M63.32 480.85v-2M59.3 479.23v-2M60.56 479.86v-2M104.24 491.72v-2M89.47 487.15v-2M66.84 481.52v-2M43.09 477.3v-1.8M46.77 477.4v-1.8M138.9 513.31v-1.8M142.58 513.31v-1.8M145.53 513.31v-1.8M161.74 513.31v-1.8M183.12 519.22v-1.8M195.64 527.38v-1.8M201.54 527.38v-1.8M210.38 527.38v-1.8M213.33 527.38v-1.8" stroke="#2a4aa3" stroke-width="0.7"/>
<path d="M30.7 471.5V569.8H232.8M30.7 476.3h-1.6M30.7 498.7h-1.6M30.7 521.1h-1.6M30.7 543.5h-1.6M30.7 565.9h-1.6M39.4 569.8v1.7M46.77 569.8v1.7M54.14 569.8v1.7M61.51 569.8v1.7M68.88 569.8v1.7M76.25 569.8v1.7M83.62 569.8v1.7M90.99 569.8v1.7M98.36 569.8v1.7M105.73 569.8v1.7M113.1 569.8v1.7M120.47 569.8v1.7M127.84 569.8v1.7M135.21 569.8v1.7M142.58 569.8v1.7M149.95 569.8v1.7M157.32 569.8v1.7M164.69 569.8v1.7M172.06 569.8v1.7M179.43 569.8v1.7M186.8 569.8v1.7M194.17 569.8v1.7M201.54 569.8v1.7M208.91 569.8v1.7M216.28 569.8v1.7M223.65 569.8v1.7" stroke="#555" stroke-width="0.7" fill="none"/>
<text font-size="5.5" fill="#1a1a1a" stroke="#1a1a1a" stroke-width="0.3" stroke-opacity="0.45" text-anchor="end" transform="translate(28.9 478.2) scale(0.68 1)">1.00</text>
<text font-size="5.5" fill="#1a1a1a" stroke="#1a1a1a" stroke-width="0.3" stroke-opacity="0.45" text-anchor="end" transform="translate(28.9 500.6) scale(0.68 1)">0.75</text>
<text font-size="5.5" fill="#1a1a1a" stroke="#1a1a1a" stroke-width="0.3" stroke-opacity="0.45" text-anchor="end" transform="translate(28.9 523) scale(0.68 1)">0.50</text>
<text font-size="5.5" fill="#1a1a1a" stroke="#1a1a1a" stroke-width="0.3" stroke-opacity="0.45" text-anchor="end" transform="translate(28.9 545.4) scale(0.68 1)">0.25</text>
<text font-size="5.5" fill="#1a1a1a" stroke="#1a1a1a" stroke-width="0.3" stroke-opacity="0.45" text-anchor="end" transform="translate(28.9 567.8) scale(0.68 1)">0.00</text>
<text font-size="5.5" fill="#1a1a1a" stroke="#1a1a1a" stroke-width="0.3" stroke-opacity="0.45" text-anchor="middle" transform="translate(39.4 576.8) scale(0.68 1)">0</text>
<text font-size="5.5" fill="#1a1a1a" stroke="#1a1a1a" stroke-width="0.3" stroke-opacity="0.45" text-anchor="middle" transform="translate(46.77 576.8) scale(0.68 1)">1</text>
<text font-size="5.5" fill="#1a1a1a" stroke="#1a1a1a" stroke-width="0.3" stroke-opacity="0.45" text-anchor="middle" transform="translate(54.14 576.8) scale(0.68 1)">2</text>
<text font-size="5.5" fill="#1a1a1a" stroke="#1a1a1a" stroke-width="0.3" stroke-opacity="0.45" text-anchor="middle" transform="translate(61.51 576.8) scale(0.68 1)">3</text>
<text font-size="5.5" fill="#1a1a1a" stroke="#1a1a1a" stroke-width="0.3" stroke-opacity="0.45" text-anchor="middle" transform="translate(68.88 576.8) scale(0.68 1)">4</text>
<text font-size="5.5" fill="#1a1a1a" stroke="#1a1a1a" stroke-width="0.3" stroke-opacity="0.45" text-anchor="middle" transform="translate(76.25 576.8) scale(0.68 1)">5</text>
<text font-size="5.5" fill="#1a1a1a" stroke="#1a1a1a" stroke-width="0.3" stroke-opacity="0.45" text-anchor="middle" transform="translate(83.62 576.8) scale(0.68 1)">6</text>
<text font-size="5.5" fill="#1a1a1a" stroke="#1a1a1a" stroke-width="0.3" stroke-opacity="0.45" text-anchor="middle" transform="translate(90.99 576.8) scale(0.68 1)">7</text>
<text font-size="5.5" fill="#1a1a1a" stroke="#1a1a1a" stroke-width="0.3" stroke-opacity="0.45" text-anchor="middle" transform="translate(98.36 576.8) scale(0.68 1)">8</text>
<text font-size="5.5" fill="#1a1a1a" stroke="#1a1a1a" stroke-width="0.3" stroke-opacity="0.45" text-anchor="middle" transform="translate(105.73 576.8) scale(0.68 1)">9</text>
<text font-size="5.5" fill="#1a1a1a" stroke="#1a1a1a" stroke-width="0.3" stroke-opacity="0.45" text-anchor="middle" transform="translate(113.1 576.8) scale(0.68 1)">10</text>
<text font-size="5.5" fill="#1a1a1a" stroke="#1a1a1a" stroke-width="0.3" stroke-opacity="0.45" text-anchor="middle" transform="translate(120.47 576.8) scale(0.68 1)">11</text>
<text font-size="5.5" fill="#1a1a1a" stroke="#1a1a1a" stroke-width="0.3" stroke-opacity="0.45" text-anchor="middle" transform="translate(127.84 576.8) scale(0.68 1)">12</text>
<text font-size="5.5" fill="#1a1a1a" stroke="#1a1a1a" stroke-width="0.3" stroke-opacity="0.45" text-anchor="middle" transform="translate(135.21 576.8) scale(0.68 1)">13</text>
<text font-size="5.5" fill="#1a1a1a" stroke="#1a1a1a" stroke-width="0.3" stroke-opacity="0.45" text-anchor="middle" transform="translate(142.58 576.8) scale(0.68 1)">14</text>
<text font-size="5.5" fill="#1a1a1a" stroke="#1a1a1a" stroke-width="0.3" stroke-opacity="0.45" text-anchor="middle" transform="translate(149.95 576.8) scale(0.68 1)">15</text>
<text font-size="5.5" fill="#1a1a1a" stroke="#1a1a1a" stroke-width="0.3" stroke-opacity="0.45" text-anchor="middle" transform="translate(157.32 576.8) scale(0.68 1)">16</text>
<text font-size="5.5" fill="#1a1a1a" stroke="#1a1a1a" stroke-width="0.3" stroke-opacity="0.45" text-anchor="middle" transform="translate(164.69 576.8) scale(0.68 1)">17</text>
<text font-size="5.5" fill="#1a1a1a" stroke="#1a1a1a" stroke-width="0.3" stroke-opacity="0.45" text-anchor="middle" transform="translate(172.06 576.8) scale(0.68 1)">18</text>
<text font-size="5.5" fill="#1a1a1a" stroke="#1a1a1a" stroke-width="0.3" stroke-opacity="0.45" text-anchor="middle" transform="translate(179.43 576.8) scale(0.68 1)">19</text>
<text font-size="5.5" fill="#1a1a1a" stroke="#1a1a1a" stroke-width="0.3" stroke-opacity="0.45" text-anchor="middle" transform="translate(186.8 576.8) scale(0.68 1)">20</text>
<text font-size="5.5" fill="#1a1a1a" stroke="#1a1a1a" stroke-width="0.3" stroke-opacity="0.45" text-anchor="middle" transform="translate(194.17 576.8) scale(0.68 1)">21</text>
<text font-size="5.5" fill="#1a1a1a" stroke="#1a1a1a" stroke-width="0.3" stroke-opacity="0.45" text-anchor="middle" transform="translate(201.54 576.8) scale(0.68 1)">22</text>
<text font-size="5.5" fill="#1a1a1a" stroke="#1a1a1a" stroke-width="0.3" stroke-opacity="0.45" text-anchor="middle" transform="translate(208.91 576.8) scale(0.68 1)">23</text>
<text font-size="5.5" fill="#1a1a1a" stroke="#1a1a1a" stroke-width="0.3" stroke-opacity="0.45" text-anchor="middle" transform="translate(216.28 576.8) scale(0.68 1)">24</text>
<text font-size="5.5" fill="#1a1a1a" stroke="#1a1a1a" stroke-width="0.3" stroke-opacity="0.45" text-anchor="middle" transform="translate(223.65 576.8) scale(0.68 1)">25</text>
<text font-size="6.2" fill="#1a1a1a" stroke="#1a1a1a" stroke-width="0.3" stroke-opacity="0.45" text-anchor="middle" transform="translate(131.8 584) scale(0.68 1)">Time(years)</text>
<text font-size="6.5" fill="#1a1a1a" stroke="#1a1a1a" stroke-width="0.3" stroke-opacity="0.45" text-anchor="middle" transform="translate(19.6 520.6) scale(0.68 1) rotate(-90)">Overall survival</text>
<text font-size="8.2" fill="#1a1a1a" stroke="#1a1a1a" stroke-width="0.3" stroke-opacity="0.45" transform="translate(42.9 550.6) scale(0.63 1)">p&lt;0.001</text>
<text font-size="4.6" fill="#1a1a1a" stroke="#1a1a1a" stroke-width="0.3" stroke-opacity="0.45" transform="translate(108.2 460.8) scale(0.68 1)">Risk</text>
<rect x="116" y="455.65" width="5" height="7.5" fill="#f7c3ad"/>
<path d="M116 459.6h5" stroke="#e41a1c" stroke-width="0.9"/>
<path d="M118.5 457.8l1.6 2h-3.2z" fill="#e41a1c"/>
<text font-size="4.6" fill="#1a1a1a" stroke="#1a1a1a" stroke-width="0.3" stroke-opacity="0.45" transform="translate(123.1 460.8) scale(0.68 1)">High risk</text>
<rect x="136.8" y="455.65" width="5" height="7.5" fill="#c5c8e6"/>
<path d="M136.8 459.6h5" stroke="#2a4aa3" stroke-width="0.9"/>
<path d="M139.3 457.8l1.6 2h-3.2z" fill="#2a4aa3"/>
<text font-size="4.6" fill="#1a1a1a" stroke="#1a1a1a" stroke-width="0.3" stroke-opacity="0.45" transform="translate(143.5 460.8) scale(0.68 1)">Low risk</text>
<text font-size="6.7" fill="#1a1a1a" stroke="#1a1a1a" stroke-width="0.3" stroke-opacity="0.45" text-anchor="middle" transform="translate(20 608.5) scale(0.68 1) rotate(-90)">Risk</text>
<text font-size="5.7" fill="#e8202a" stroke="#e8202a" stroke-width="0.3" stroke-opacity="0.45" text-anchor="end" transform="translate(36.4 606.9) scale(0.68 1)">High risk</text>
<text font-size="5.7" fill="#3050b0" stroke="#3050b0" stroke-width="0.3" stroke-opacity="0.45" text-anchor="end" transform="translate(36.4 613.9) scale(0.68 1)">Low risk</text>
<path d="M37.2 602.3V616.3H232.8M37.2 605h-0.8M37.2 612h-0.8M46.5 616.3v1.2M53.6 616.3v1.2M60.7 616.3v1.2M67.8 616.3v1.2M74.9 616.3v1.2M82 616.3v1.2M89.1 616.3v1.2M96.2 616.3v1.2M103.3 616.3v1.2M110.4 616.3v1.2M117.5 616.3v1.2M124.6 616.3v1.2M131.7 616.3v1.2M138.8 616.3v1.2M145.9 616.3v1.2M153 616.3v1.2M160.1 616.3v1.2M167.2 616.3v1.2M174.3 616.3v1.2M181.4 616.3v1.2M188.5 616.3v1.2M195.6 616.3v1.2M202.7 616.3v1.2M209.8 616.3v1.2M216.9 616.3v1.2M224 616.3v1.2" stroke="#333" stroke-width="0.7" fill="none"/>
<text font-size="5.6" fill="#1a1a1a" stroke="#1a1a1a" stroke-width="0.3" stroke-opacity="0.45" text-anchor="middle" transform="translate(46.5 607) scale(0.66 1)">508</text>
<text font-size="5.6" fill="#1a1a1a" stroke="#1a1a1a" stroke-width="0.3" stroke-opacity="0.45" text-anchor="middle" transform="translate(46.5 614) scale(0.66 1)">509</text>
<text font-size="5.6" fill="#1a1a1a" stroke="#1a1a1a" stroke-width="0.3" stroke-opacity="0.45" text-anchor="middle" transform="translate(53.6 607) scale(0.66 1)">437</text>
<text font-size="5.6" fill="#1a1a1a" stroke="#1a1a1a" stroke-width="0.3" stroke-opacity="0.45" text-anchor="middle" transform="translate(53.6 614) scale(0.66 1)">451</text>
<text font-size="5.6" fill="#1a1a1a" stroke="#1a1a1a" stroke-width="0.3" stroke-opacity="0.45" text-anchor="middle" transform="translate(60.7 607) scale(0.66 1)">358</text>
<text font-size="5.6" fill="#1a1a1a" stroke="#1a1a1a" stroke-width="0.3" stroke-opacity="0.45" text-anchor="middle" transform="translate(60.7 614) scale(0.66 1)">309</text>
<text font-size="5.6" fill="#1a1a1a" stroke="#1a1a1a" stroke-width="0.3" stroke-opacity="0.45" text-anchor="middle" transform="translate(67.8 607) scale(0.66 1)">192</text>
<text font-size="5.6" fill="#1a1a1a" stroke="#1a1a1a" stroke-width="0.3" stroke-opacity="0.45" text-anchor="middle" transform="translate(67.8 614) scale(0.66 1)">227</text>
<text font-size="5.6" fill="#1a1a1a" stroke="#1a1a1a" stroke-width="0.3" stroke-opacity="0.45" text-anchor="middle" transform="translate(74.9 607) scale(0.66 1)">141</text>
<text font-size="5.6" fill="#1a1a1a" stroke="#1a1a1a" stroke-width="0.3" stroke-opacity="0.45" text-anchor="middle" transform="translate(74.9 614) scale(0.66 1)">176</text>
<text font-size="5.6" fill="#1a1a1a" stroke="#1a1a1a" stroke-width="0.3" stroke-opacity="0.45" text-anchor="middle" transform="translate(82 607) scale(0.66 1)">101</text>
<text font-size="5.6" fill="#1a1a1a" stroke="#1a1a1a" stroke-width="0.3" stroke-opacity="0.45" text-anchor="middle" transform="translate(82 614) scale(0.66 1)">142</text>
<text font-size="5.6" fill="#1a1a1a" stroke="#1a1a1a" stroke-width="0.3" stroke-opacity="0.45" text-anchor="middle" transform="translate(89.1 607) scale(0.66 1)">79</text>
<text font-size="5.6" fill="#1a1a1a" stroke="#1a1a1a" stroke-width="0.3" stroke-opacity="0.45" text-anchor="middle" transform="translate(89.1 614) scale(0.66 1)">113</text>
<text font-size="5.6" fill="#1a1a1a" stroke="#1a1a1a" stroke-width="0.3" stroke-opacity="0.45" text-anchor="middle" transform="translate(96.2 607) scale(0.66 1)">52</text>
<text font-size="5.6" fill="#1a1a1a" stroke="#1a1a1a" stroke-width="0.3" stroke-opacity="0.45" text-anchor="middle" transform="translate(96.2 614) scale(0.66 1)">85</text>
<text font-size="5.6" fill="#1a1a1a" stroke="#1a1a1a" stroke-width="0.3" stroke-opacity="0.45" text-anchor="middle" transform="translate(103.3 607) scale(0.66 1)">38</text>
<text font-size="5.6" fill="#1a1a1a" stroke="#1a1a1a" stroke-width="0.3" stroke-opacity="0.45" text-anchor="middle" transform="translate(103.3 614) scale(0.66 1)">64</text>
<text font-size="5.6" fill="#1a1a1a" stroke="#1a1a1a" stroke-width="0.3" stroke-opacity="0.45" text-anchor="middle" transform="translate(110.4 607) scale(0.66 1)">16</text>
<text font-size="5.6" fill="#1a1a1a" stroke="#1a1a1a" stroke-width="0.3" stroke-opacity="0.45" text-anchor="middle" transform="translate(110.4 614) scale(0.66 1)">42</text>
<text font-size="5.6" fill="#1a1a1a" stroke="#1a1a1a" stroke-width="0.3" stroke-opacity="0.45" text-anchor="middle" transform="translate(117.5 607) scale(0.66 1)">9</text>
<text font-size="5.6" fill="#1a1a1a" stroke="#1a1a1a" stroke-width="0.3" stroke-opacity="0.45" text-anchor="middle" transform="translate(117.5 614) scale(0.66 1)">31</text>
<text font-size="5.6" fill="#1a1a1a" stroke="#1a1a1a" stroke-width="0.3" stroke-opacity="0.45" text-anchor="middle" transform="translate(124.6 607) scale(0.66 1)">7</text>
<text font-size="5.6" fill="#1a1a1a" stroke="#1a1a1a" stroke-width="0.3" stroke-opacity="0.45" text-anchor="middle" transform="translate(124.6 614) scale(0.66 1)">22</text>
<text font-size="5.6" fill="#1a1a1a" stroke="#1a1a1a" stroke-width="0.3" stroke-opacity="0.45" text-anchor="middle" transform="translate(131.7 607) scale(0.66 1)">4</text>
<text font-size="5.6" fill="#1a1a1a" stroke="#1a1a1a" stroke-width="0.3" stroke-opacity="0.45" text-anchor="middle" transform="translate(131.7 614) scale(0.66 1)">15</text>
<text font-size="5.6" fill="#1a1a1a" stroke="#1a1a1a" stroke-width="0.3" stroke-opacity="0.45" text-anchor="middle" transform="translate(138.8 607) scale(0.66 1)">3</text>
<text font-size="5.6" fill="#1a1a1a" stroke="#1a1a1a" stroke-width="0.3" stroke-opacity="0.45" text-anchor="middle" transform="translate(138.8 614) scale(0.66 1)">15</text>
<text font-size="5.6" fill="#1a1a1a" stroke="#1a1a1a" stroke-width="0.3" stroke-opacity="0.45" text-anchor="middle" transform="translate(145.9 607) scale(0.66 1)">3</text>
<text font-size="5.6" fill="#1a1a1a" stroke="#1a1a1a" stroke-width="0.3" stroke-opacity="0.45" text-anchor="middle" transform="translate(145.9 614) scale(0.66 1)">11</text>
<text font-size="5.6" fill="#1a1a1a" stroke="#1a1a1a" stroke-width="0.3" stroke-opacity="0.45" text-anchor="middle" transform="translate(153 607) scale(0.66 1)">2</text>
<text font-size="5.6" fill="#1a1a1a" stroke="#1a1a1a" stroke-width="0.3" stroke-opacity="0.45" text-anchor="middle" transform="translate(153 614) scale(0.66 1)">10</text>
<text font-size="5.6" fill="#1a1a1a" stroke="#1a1a1a" stroke-width="0.3" stroke-opacity="0.45" text-anchor="middle" transform="translate(160.1 607) scale(0.66 1)">2</text>
<text font-size="5.6" fill="#1a1a1a" stroke="#1a1a1a" stroke-width="0.3" stroke-opacity="0.45" text-anchor="middle" transform="translate(160.1 614) scale(0.66 1)">9</text>
<text font-size="5.6" fill="#1a1a1a" stroke="#1a1a1a" stroke-width="0.3" stroke-opacity="0.45" text-anchor="middle" transform="translate(167.2 607) scale(0.66 1)">2</text>
<text font-size="5.6" fill="#1a1a1a" stroke="#1a1a1a" stroke-width="0.3" stroke-opacity="0.45" text-anchor="middle" transform="translate(167.2 614) scale(0.66 1)">9</text>
<text font-size="5.6" fill="#1a1a1a" stroke="#1a1a1a" stroke-width="0.3" stroke-opacity="0.45" text-anchor="middle" transform="translate(174.3 607) scale(0.66 1)">0</text>
<text font-size="5.6" fill="#1a1a1a" stroke="#1a1a1a" stroke-width="0.3" stroke-opacity="0.45" text-anchor="middle" transform="translate(174.3 614) scale(0.66 1)">9</text>
<text font-size="5.6" fill="#1a1a1a" stroke="#1a1a1a" stroke-width="0.3" stroke-opacity="0.45" text-anchor="middle" transform="translate(181.4 607) scale(0.66 1)">0</text>
<text font-size="5.6" fill="#1a1a1a" stroke="#1a1a1a" stroke-width="0.3" stroke-opacity="0.45" text-anchor="middle" transform="translate(181.4 614) scale(0.66 1)">8</text>
<text font-size="5.6" fill="#1a1a1a" stroke="#1a1a1a" stroke-width="0.3" stroke-opacity="0.45" text-anchor="middle" transform="translate(188.5 607) scale(0.66 1)">0</text>
<text font-size="5.6" fill="#1a1a1a" stroke="#1a1a1a" stroke-width="0.3" stroke-opacity="0.45" text-anchor="middle" transform="translate(188.5 614) scale(0.66 1)">6</text>
<text font-size="5.6" fill="#1a1a1a" stroke="#1a1a1a" stroke-width="0.3" stroke-opacity="0.45" text-anchor="middle" transform="translate(195.6 607) scale(0.66 1)">0</text>
<text font-size="5.6" fill="#1a1a1a" stroke="#1a1a1a" stroke-width="0.3" stroke-opacity="0.45" text-anchor="middle" transform="translate(195.6 614) scale(0.66 1)">5</text>
<text font-size="5.6" fill="#1a1a1a" stroke="#1a1a1a" stroke-width="0.3" stroke-opacity="0.45" text-anchor="middle" transform="translate(202.7 607) scale(0.66 1)">0</text>
<text font-size="5.6" fill="#1a1a1a" stroke="#1a1a1a" stroke-width="0.3" stroke-opacity="0.45" text-anchor="middle" transform="translate(202.7 614) scale(0.66 1)">3</text>
<text font-size="5.6" fill="#1a1a1a" stroke="#1a1a1a" stroke-width="0.3" stroke-opacity="0.45" text-anchor="middle" transform="translate(209.8 607) scale(0.66 1)">0</text>
<text font-size="5.6" fill="#1a1a1a" stroke="#1a1a1a" stroke-width="0.3" stroke-opacity="0.45" text-anchor="middle" transform="translate(209.8 614) scale(0.66 1)">2</text>
<text font-size="5.6" fill="#1a1a1a" stroke="#1a1a1a" stroke-width="0.3" stroke-opacity="0.45" text-anchor="middle" transform="translate(216.9 607) scale(0.66 1)">0</text>
<text font-size="5.6" fill="#1a1a1a" stroke="#1a1a1a" stroke-width="0.3" stroke-opacity="0.45" text-anchor="middle" transform="translate(216.9 614) scale(0.66 1)">0</text>
<text font-size="5.6" fill="#1a1a1a" stroke="#1a1a1a" stroke-width="0.3" stroke-opacity="0.45" text-anchor="middle" transform="translate(224 607) scale(0.66 1)">0</text>
<text font-size="5.6" fill="#1a1a1a" stroke="#1a1a1a" stroke-width="0.3" stroke-opacity="0.45" text-anchor="middle" transform="translate(224 614) scale(0.66 1)">0</text>
<text font-size="5.5" fill="#1a1a1a" stroke="#1a1a1a" stroke-width="0.3" stroke-opacity="0.45" text-anchor="middle" transform="translate(46.5 623.3) scale(0.68 1)">0</text>
<text font-size="5.5" fill="#1a1a1a" stroke="#1a1a1a" stroke-width="0.3" stroke-opacity="0.45" text-anchor="middle" transform="translate(53.6 623.3) scale(0.68 1)">1</text>
<text font-size="5.5" fill="#1a1a1a" stroke="#1a1a1a" stroke-width="0.3" stroke-opacity="0.45" text-anchor="middle" transform="translate(60.7 623.3) scale(0.68 1)">2</text>
<text font-size="5.5" fill="#1a1a1a" stroke="#1a1a1a" stroke-width="0.3" stroke-opacity="0.45" text-anchor="middle" transform="translate(67.8 623.3) scale(0.68 1)">3</text>
<text font-size="5.5" fill="#1a1a1a" stroke="#1a1a1a" stroke-width="0.3" stroke-opacity="0.45" text-anchor="middle" transform="translate(74.9 623.3) scale(0.68 1)">4</text>
<text font-size="5.5" fill="#1a1a1a" stroke="#1a1a1a" stroke-width="0.3" stroke-opacity="0.45" text-anchor="middle" transform="translate(82 623.3) scale(0.68 1)">5</text>
<text font-size="5.5" fill="#1a1a1a" stroke="#1a1a1a" stroke-width="0.3" stroke-opacity="0.45" text-anchor="middle" transform="translate(89.1 623.3) scale(0.68 1)">6</text>
<text font-size="5.5" fill="#1a1a1a" stroke="#1a1a1a" stroke-width="0.3" stroke-opacity="0.45" text-anchor="middle" transform="translate(96.2 623.3) scale(0.68 1)">7</text>
<text font-size="5.5" fill="#1a1a1a" stroke="#1a1a1a" stroke-width="0.3" stroke-opacity="0.45" text-anchor="middle" transform="translate(103.3 623.3) scale(0.68 1)">8</text>
<text font-size="5.5" fill="#1a1a1a" stroke="#1a1a1a" stroke-width="0.3" stroke-opacity="0.45" text-anchor="middle" transform="translate(110.4 623.3) scale(0.68 1)">9</text>
<text font-size="5.5" fill="#1a1a1a" stroke="#1a1a1a" stroke-width="0.3" stroke-opacity="0.45" text-anchor="middle" transform="translate(117.5 623.3) scale(0.68 1)">10</text>
<text font-size="5.5" fill="#1a1a1a" stroke="#1a1a1a" stroke-width="0.3" stroke-opacity="0.45" text-anchor="middle" transform="translate(124.6 623.3) scale(0.68 1)">11</text>
<text font-size="5.5" fill="#1a1a1a" stroke="#1a1a1a" stroke-width="0.3" stroke-opacity="0.45" text-anchor="middle" transform="translate(131.7 623.3) scale(0.68 1)">12</text>
<text font-size="5.5" fill="#1a1a1a" stroke="#1a1a1a" stroke-width="0.3" stroke-opacity="0.45" text-anchor="middle" transform="translate(138.8 623.3) scale(0.68 1)">13</text>
<text font-size="5.5" fill="#1a1a1a" stroke="#1a1a1a" stroke-width="0.3" stroke-opacity="0.45" text-anchor="middle" transform="translate(145.9 623.3) scale(0.68 1)">14</text>
<text font-size="5.5" fill="#1a1a1a" stroke="#1a1a1a" stroke-width="0.3" stroke-opacity="0.45" text-anchor="middle" transform="translate(153 623.3) scale(0.68 1)">15</text>
<text font-size="5.5" fill="#1a1a1a" stroke="#1a1a1a" stroke-width="0.3" stroke-opacity="0.45" text-anchor="middle" transform="translate(160.1 623.3) scale(0.68 1)">16</text>
<text font-size="5.5" fill="#1a1a1a" stroke="#1a1a1a" stroke-width="0.3" stroke-opacity="0.45" text-anchor="middle" transform="translate(167.2 623.3) scale(0.68 1)">17</text>
<text font-size="5.5" fill="#1a1a1a" stroke="#1a1a1a" stroke-width="0.3" stroke-opacity="0.45" text-anchor="middle" transform="translate(174.3 623.3) scale(0.68 1)">18</text>
<text font-size="5.5" fill="#1a1a1a" stroke="#1a1a1a" stroke-width="0.3" stroke-opacity="0.45" text-anchor="middle" transform="translate(181.4 623.3) scale(0.68 1)">19</text>
<text font-size="5.5" fill="#1a1a1a" stroke="#1a1a1a" stroke-width="0.3" stroke-opacity="0.45" text-anchor="middle" transform="translate(188.5 623.3) scale(0.68 1)">20</text>
<text font-size="5.5" fill="#1a1a1a" stroke="#1a1a1a" stroke-width="0.3" stroke-opacity="0.45" text-anchor="middle" transform="translate(195.6 623.3) scale(0.68 1)">21</text>
<text font-size="5.5" fill="#1a1a1a" stroke="#1a1a1a" stroke-width="0.3" stroke-opacity="0.45" text-anchor="middle" transform="translate(202.7 623.3) scale(0.68 1)">22</text>
<text font-size="5.5" fill="#1a1a1a" stroke="#1a1a1a" stroke-width="0.3" stroke-opacity="0.45" text-anchor="middle" transform="translate(209.8 623.3) scale(0.68 1)">23</text>
<text font-size="5.5" fill="#1a1a1a" stroke="#1a1a1a" stroke-width="0.3" stroke-opacity="0.45" text-anchor="middle" transform="translate(216.9 623.3) scale(0.68 1)">24</text>
<text font-size="5.5" fill="#1a1a1a" stroke="#1a1a1a" stroke-width="0.3" stroke-opacity="0.45" text-anchor="middle" transform="translate(224 623.3) scale(0.68 1)">25</text>
<text font-size="6.2" fill="#1a1a1a" stroke="#1a1a1a" stroke-width="0.3" stroke-opacity="0.45" text-anchor="middle" transform="translate(132 630) scale(0.68 1)">Time(years)</text>
<path d="M38 694.7H38.63V694.73H39.25V694.77H39.88V694.8H40.51V694.84H41.13V694.87H41.76V694.91H42.39V694.94H43.02V694.98H43.64V695.01H44.27V695.04H44.9V695.08H45.52V695.43H46.15V695.87H46.78V696.3H47.41V696.74H48.03V697.17H48.66V697.61H49.29V698.04H49.91V698.48H50.54V699.67H51.17V700.92H51.79V702.18H52.42V703.43H53.05V704.15H53.68V704.65H54.3V705.14H54.93V705.64H55.56V706.14H56.18V706.63H56.81V707.13H57.44V707.62H58.06V708.12H58.69V708.62H59.32V709.11H59.95V709.61H60.57V710.1H61.2V710.6H61.83V710.86H62.45V711.06H63.08V711.27H63.71V711.47H64.33V711.67H64.96V711.87H65.59V712.08H66.22V712.28H66.84V712.48H67.47V712.68H68.1V712.89H68.72V713.09H69.35V713.29H69.98V713.51H70.6V713.73H71.23V713.94H71.86V714.16H72.48V714.37H73.11V714.59H73.74V714.81H74.37V715.02H74.99V715.24H75.62V715.45H76.25V715.67H76.87V715.89H77.5V716.1H78.13V716.32H78.75V716.53H79.38V716.94H80.01V717.35H80.64V717.77H81.26V718.18H81.89V718.59H82.52V719H83.14V719.41H83.77V719.82H84.4V720.23H85.02V720.64H85.65V721.05H86.28V721.47H86.91V721.88H87.53V722.29H88.16V722.68H88.79V723.06H89.41V723.45H90.04V723.84H90.67V724.23H91.29V724.62H91.92V725H92.55V725.39H93.18V725.78H93.8V726.17H94.43V726.56H95.06V726.94H95.68V727.33H96.31V727.72H96.94V728.04H97.56V728.36H98.19V728.68H98.82V729H99.45V729.32H100.07V729.64H100.7V729.96H101.33V730.27H101.95V730.59H102.58V730.91H103.21V731.23H103.83V731.55H104.46V731.87H105.09V732.19H105.72V732.37H106.34V732.55H106.97V732.73H107.6V732.92H108.22V733.1H108.85V733.28H109.48V733.46H110.1V733.64H110.73V733.82H111.36V734H111.99V734.18H112.61V734.37H113.24V734.55H113.87V734.73H114.49V735.04H115.12V735.35H115.75V735.66H116.37V735.97H117V736.28H117.63V736.6H118.26V736.91H118.88V737.22H119.51V737.53H120.14V737.84H120.76V737.94H121.39V738.03H122.02V738.13H122.64V738.22H123.27V738.32H123.9V738.41H124.53V738.51H125.15V738.6H125.78V738.7H126.41V738.79H127.03V738.89H127.66V738.98H128.29V739.08H128.91V739.17H129.54V739.3H130.17V739.43H130.8V739.55H131.42V739.68H132.05V739.8H132.68V739.93H133.3V740.05H133.93V740.17H134.56V740.29H135.18V740.42H135.81V740.54H136.44V740.66H137.07V740.78H137.69V740.9H138.32V741.03H138.95V741.21H139.57V741.4H140.2V741.59H140.83V741.77H141.45V741.96H142.08V742.15H142.71V742.33H143.34V742.52H143.96V742.71H144.59V742.89H145.22V743.08H145.84V743.26H146.47V743.45H147.1V743.64H147.72V743.82H148.35V744.07H148.98V744.32H149.61V744.56H150.23V744.81H150.86V745.05H151.49V745.3H152.11V745.54H152.74V745.79H153.37V746.03H153.99V746.28H154.62V746.52H155.25V746.77H155.88V747.02H156.5V747.26H157.13V747.51H157.76V747.68H158.38V747.85H159.01V748.02H159.64V748.18H160.27V748.35H160.89V748.52H161.52V748.69H162.15V748.86H162.77V749.03H163.4V749.2H164.03V749.36H164.65V749.52H165.28V749.68H165.91V749.85H166.54V750.01H167.16V750.17H167.79V750.34H168.42V750.51H169.04V750.69H169.67V750.86H170.3V751.03H170.92V751.21H171.55V751.38H172.18V751.55H172.81V751.73H173.43V751.9H174.06V752.07H174.69V752.24H175.31V752.42H175.94V752.59H176.57V752.76H177.19V752.99H177.82V753.22H178.45V753.44H179.08V753.67H179.7V753.9H180.33V754.12H180.96V754.35H181.58V754.58H182.21V754.8H182.84V755.03H183.46V755.26H184.09V755.48H184.72V756.23H185.35V756.98H185.97V757.73H186.6V757.73H187.23V757.73H187.85V757.73H188.48V757.73H189.11V757.73H189.73V757.73H190.36V757.73H190.99V757.73H191.62V757.73H192.24V757.73H192.87V757.73H193.5V757.73H194.12V757.73H194.75V757.73H195.38V757.73H196V757.73H196.63V757.73H197.26V757.73H197.89V757.73H198.51V757.73H199.14V757.73H199.77V757.73H200.39V757.73H201.02V757.73H201.65V757.73H202.27V757.73H202.9V757.73H203.53V757.73H204.16V757.73H204.78V757.73H205.41V757.73H206.04V757.73H206.66V757.73H207.29V757.73H207.92V757.73H208.54V757.73H209.17V757.73H209.8V757.73H210.43V757.73H211.05V757.73H211.68V757.73H212.31V757.73H212.93V757.73H213.56V757.73H214.19V757.73H214.81V757.73H215.44V757.73H216.07V757.73H216.7V757.73H217.32V757.73H217.95V757.73H218.58V757.73H219.2V757.73H219.83V757.73H220.46V757.73H221.08V757.73H221.71V757.73V766.26H221.71V766.26H221.08V766.26H220.46V766.26H219.83V766.26H219.2V766.26H218.58V766.26H217.95V766.26H217.32V766.26H216.7V766.26H216.07V766.26H215.44V766.26H214.81V766.26H214.19V766.26H213.56V766.26H212.93V766.26H212.31V766.26H211.68V766.26H211.05V766.26H210.43V766.26H209.8V766.26H209.17V766.26H208.54V766.26H207.92V766.26H207.29V766.26H206.66V766.26H206.04V766.26H205.41V766.26H204.78V766.26H204.16V766.26H203.53V766.26H202.9V766.26H202.27V766.26H201.65V766.26H201.02V766.26H200.39V766.26H199.77V766.26H199.14V766.26H198.51V766.26H197.89V766.26H197.26V766.26H196.63V766.26H196V766.26H195.38V766.26H194.75V766.26H194.12V766.26H193.5V766.26H192.87V766.26H192.24V766.26H191.62V766.26H190.99V766.26H190.36V766.26H189.73V766.26H189.11V766.26H188.48V766.26H187.85V766.26H187.23V766.26H186.6V766.26H185.97V764.81H185.35V763.36H184.72V761.91H184.09V761.66H183.46V761.4H182.84V761.15H182.21V760.89H181.58V760.64H180.96V760.38H180.33V760.12H179.7V759.87H179.08V759.61H178.45V759.36H177.82V759.1H177.19V758.84H176.57V758.64H175.94V758.44H175.31V758.24H174.69V758.04H174.06V757.83H173.43V757.63H172.81V757.43H172.18V757.23H171.55V757.02H170.92V756.82H170.3V756.62H169.67V756.42H169.04V756.22H168.42V756.01H167.79V755.81H167.16V755.62H166.54V755.43H165.91V755.24H165.28V755.05H164.65V754.86H164.03V754.67H163.4V754.49H162.77V754.3H162.15V754.12H161.52V753.94H160.89V753.76H160.27V753.57H159.64V753.39H159.01V753.21H158.38V753.03H157.76V752.85H157.13V752.59H156.5V752.33H155.88V752.07H155.25V751.81H154.62V751.55H153.99V751.3H153.37V751.04H152.74V750.78H152.11V750.52H151.49V750.26H150.86V750H150.23V749.75H149.61V749.49H148.98V749.23H148.35V748.97H147.72V748.77H147.1V748.57H146.47V748.37H145.84V748.17H145.22V747.97H144.59V747.77H143.96V747.57H143.34V747.37H142.71V747.18H142.08V746.98H141.45V746.78H140.83V746.58H140.2V746.38H139.57V746.18H138.95V745.98H138.32V745.84H137.69V745.71H137.07V745.57H136.44V745.44H135.81V745.3H135.18V745.17H134.56V745.03H133.93V744.9H133.3V744.76H132.68V744.63H132.05V744.5H131.42V744.37H130.8V744.24H130.17V744.1H129.54V743.97H128.91V743.87H128.29V743.77H127.66V743.67H127.03V743.57H126.41V743.47H125.78V743.37H125.15V743.27H124.53V743.17H123.9V743.07H123.27V742.97H122.64V742.87H122.02V742.77H121.39V742.67H120.76V742.57H120.14V742.26H119.51V741.94H118.88V741.62H118.26V741.31H117.63V740.99H117V740.68H116.37V740.36H115.75V740.04H115.12V739.73H114.49V739.41H113.87V739.23H113.24V739.04H112.61V738.85H111.99V738.67H111.36V738.48H110.73V738.3H110.1V738.11H109.48V737.92H108.85V737.74H108.22V737.55H107.6V737.36H106.97V737.18H106.34V736.99H105.72V736.81H105.09V736.48H104.46V736.16H103.83V735.83H103.21V735.51H102.58V735.19H101.95V734.86H101.33V734.54H100.7V734.21H100.07V733.89H99.45V733.57H98.82V733.24H98.19V732.92H97.56V732.59H96.94V732.27H96.31V731.88H95.68V731.48H95.06V731.09H94.43V730.7H93.8V730.31H93.18V729.91H92.55V729.52H91.92V729.13H91.29V728.73H90.67V728.34H90.04V727.95H89.41V727.56H88.79V727.16H88.16V726.77H87.53V726.35H86.91V725.94H86.28V725.52H85.65V725.11H85.02V724.69H84.4V724.27H83.77V723.86H83.14V723.44H82.52V723.03H81.89V722.61H81.26V722.19H80.64V721.78H80.01V721.36H79.38V720.95H78.75V720.73H78.13V720.51H77.5V720.28H76.87V720.06H76.25V719.84H75.62V719.62H74.99V719.4H74.37V719.18H73.74V718.96H73.11V718.74H72.48V718.52H71.86V718.3H71.23V718.08H70.6V717.86H69.98V717.63H69.35V717.39H68.72V717.15H68.1V716.91H67.47V716.67H66.84V716.43H66.22V716.19H65.59V715.95H64.96V715.71H64.33V715.47H63.71V715.23H63.08V714.99H62.45V714.75H61.83V714.45H61.2V713.92H60.57V713.39H59.95V712.85H59.32V712.32H58.69V711.79H58.06V711.25H57.44V710.72H56.81V710.18H56.18V709.65H55.56V709.12H54.93V708.58H54.3V708.05H53.68V707.52H53.05V706.76H52.42V705.47H51.79V704.18H51.17V702.89H50.54V701.53H49.91V700.94H49.29V700.34H48.66V699.75H48.03V699.15H47.41V698.56H46.78V697.96H46.15V697.36H45.52V696.85H44.9V696.65H44.27V696.46H43.64V696.26H43.02V696.07H42.39V695.87H41.76V695.68H41.13V695.48H40.51V695.29H39.88V695.09H39.25V694.9H38.63V694.7H38Z" fill="#f08a64" fill-opacity="0.45"/>
<path d="M38 694.7H38.63V694.75H39.25V694.79H39.88V694.84H40.51V694.89H41.13V694.94H41.76V694.98H42.39V695.03H43.02V695.08H43.64V695.13H44.27V695.17H44.9V695.22H45.52V695.27H46.15V695.31H46.78V695.36H47.41V695.41H48.03V695.46H48.66V695.5H49.29V695.55H49.91V695.6H50.54V695.65H51.17V695.75H51.79V695.86H52.42V695.97H53.05V696.25H53.68V696.61H54.3V696.97H54.93V697.33H55.56V697.68H56.18V698.04H56.81V698.4H57.44V698.76H58.06V699.11H58.69V699.47H59.32V699.83H59.95V700.18H60.57V700.54H61.2V700.9H61.83V701.21H62.45V701.51H63.08V701.81H63.71V702.12H64.33V702.42H64.96V702.72H65.59V703.02H66.22V703.32H66.84V703.62H67.47V703.93H68.1V704.23H68.72V704.53H69.35V704.83H69.98V705.15H70.6V705.42H71.23V705.7H71.86V705.97H72.48V706.24H73.11V706.52H73.74V706.79H74.37V707.06H74.99V707.34H75.62V707.61H76.25V707.88H76.87V708.16H77.5V708.43H78.13V708.7H78.75V708.98H79.38V709.26H80.01V709.54H80.64V709.83H81.26V710.11H81.89V710.4H82.52V710.68H83.14V710.97H83.77V711.25H84.4V711.54H85.02V711.82H85.65V712.11H86.28V712.39H86.91V712.68H87.53V712.96H88.16V713.21H88.79V713.46H89.41V713.71H90.04V713.96H90.67V714.21H91.29V714.46H91.92V714.71H92.55V714.96H93.18V715.21H93.8V715.46H94.43V715.71H95.06V715.96H95.68V716.21H96.31V716.47H96.94V716.77H97.56V717.08H98.19V717.39H98.82V717.7H99.45V718H100.07V718.31H100.7V718.62H101.33V718.93H101.95V719.23H102.58V719.54H103.21V719.85H103.83V720.16H104.46V720.47H105.09V720.77H105.72V720.96H106.34V721.15H106.97V721.33H107.6V721.52H108.22V721.71H108.85V721.9H109.48V722.08H110.1V722.27H110.73V722.46H111.36V722.64H111.99V722.83H112.61V723.02H113.24V723.21H113.87V723.39H114.49V723.69H115.12V723.98H115.75V724.28H116.37V724.57H117V724.87H117.63V725.16H118.26V725.46H118.88V725.75H119.51V726.05H120.14V726.34H120.76V726.63H121.39V726.91H122.02V727.2H122.64V727.48H123.27V727.77H123.9V728.05H124.53V728.34H125.15V728.62H125.78V728.91H126.41V729.19H127.03V729.48H127.66V729.76H128.29V730.04H128.91V730.33H129.54V730.54H130.17V730.74H130.8V730.95H131.42V731.16H132.05V731.36H132.68V731.56H133.3V731.76H133.93V731.97H134.56V732.17H135.18V732.37H135.81V732.57H136.44V732.77H137.07V732.97H137.69V733.17H138.32V733.37H138.95V733.74H139.57V734.12H140.2V734.49H140.83V734.86H141.45V735.23H142.08V735.61H142.71V735.98H143.34V736.35H143.96V736.73H144.59V737.1H145.22V737.47H145.84V737.84H146.47V738.22H147.1V738.59H147.72V738.96H148.35V739.27H148.98V739.59H149.61V739.9H150.23V740.21H150.86V740.53H151.49V740.84H152.11V741.16H152.74V741.47H153.37V741.78H153.99V742.1H154.62V742.41H155.25V742.72H155.88V743.04H156.5V743.35H157.13V743.66H157.76V743.78H158.38V743.89H159.01V744H159.64V744.11H160.27V744.23H160.89V744.34H161.52V744.45H162.15V744.56H162.77V744.68H163.4V744.79H164.03V744.89H164.65V745H165.28V745.1H165.91V745.2H166.54V745.31H167.16V745.41H167.79V745.58H168.42V745.74H169.04V745.91H169.67V746.07H170.3V746.24H170.92V746.4H171.55V746.57H172.18V746.73H172.81V746.9H173.43V747.06H174.06V747.23H174.69V747.39H175.31V747.56H175.94V747.72H176.57V747.89H177.19V748.03H177.82V748.18H178.45V748.32H179.08V748.46H179.7V748.61H180.33V748.75H180.96V748.89H181.58V749.04H182.21V749.18H182.84V749.33H183.46V749.47H184.09V749.61H184.72V750.06H185.35V750.5H185.97V750.94H186.6V751.38H187.23V751.82H187.85V752.26H188.48V752.71H189.11V753.15H189.73V753.59H190.36V754.13H190.99V754.67H191.62V755.21H192.24V755.75H192.87V756.29H193.5V756.83H194.12V757.37H194.75V757.91H195.38V755.8H196V755.8H196.63V755.8H197.26V755.8H197.89V755.8H198.51V755.8H199.14V755.8H199.77V755.8H200.39V755.8H201.02V755.8H201.65V755.8H202.27V755.8H202.9V755.8H203.53V755.8H204.16V755.8H204.78V755.8H205.41V755.8H206.04V755.8H206.66V755.8H207.29V755.8H207.92V755.8H208.54V755.8H209.17V755.8H209.8V755.8H210.43V755.8H211.05V755.8H211.68V755.8H212.31V755.8H212.93V755.8H213.56V755.8H214.19V763.44H214.81V755.72H215.44V755.72H216.07V755.72H216.7V755.72H217.32V755.72H217.95V755.72H218.58V755.72H219.2V755.72H219.83V755.72H220.46V755.72H221.08V755.72H221.71V755.72H222.34V755.72H222.97V755.72H223.59V755.72V771.96H223.59V771.96H222.97V771.96H222.34V771.96H221.71V771.96H221.08V771.96H220.46V771.96H219.83V771.96H219.2V771.96H218.58V771.96H217.95V771.96H217.32V771.96H216.7V771.96H216.07V771.96H215.44V771.96H214.81V779.6H214.19V771.96H213.56V771.96H212.93V771.96H212.31V771.96H211.68V771.96H211.05V771.96H210.43V771.96H209.8V771.96H209.17V771.96H208.54V771.96H207.92V771.96H207.29V771.96H206.66V771.96H206.04V771.96H205.41V771.96H204.78V771.96H204.16V771.96H203.53V771.96H202.9V771.96H202.27V771.96H201.65V771.96H201.02V771.96H200.39V771.96H199.77V771.96H199.14V771.96H198.51V771.96H197.89V771.96H197.26V771.96H196.63V771.96H196V771.96H195.38V766.76H194.75V766.09H194.12V765.43H193.5V764.77H192.87V764.1H192.24V763.44H191.62V762.78H190.99V762.11H190.36V761.45H189.73V760.89H189.11V760.32H188.48V759.76H187.85V759.19H187.23V758.63H186.6V758.06H185.97V757.5H185.35V756.93H184.72V756.37H184.09V756.19H183.46V756.01H182.84V755.83H182.21V755.66H181.58V755.48H180.96V755.3H180.33V755.12H179.7V754.94H179.08V754.77H178.45V754.59H177.82V754.41H177.19V754.23H176.57V754.03H175.94V753.83H175.31V753.63H174.69V753.44H174.06V753.24H173.43V753.04H172.81V752.84H172.18V752.64H171.55V752.44H170.92V752.24H170.3V752.04H169.67V751.84H169.04V751.64H168.42V751.44H167.79V751.24H167.16V751.11H166.54V750.97H165.91V750.83H165.28V750.69H164.65V750.55H164.03V750.42H163.4V750.29H162.77V750.16H162.15V750.03H161.52V749.9H160.89V749.77H160.27V749.65H159.64V749.52H159.01V749.39H158.38V749.26H157.76V749.13H157.13V748.8H156.5V748.47H155.88V748.14H155.25V747.81H154.62V747.48H153.99V747.15H153.37V746.82H152.74V746.49H152.11V746.16H151.49V745.83H150.86V745.5H150.23V745.18H149.61V744.85H148.98V744.52H148.35V744.19H147.72V743.8H147.1V743.41H146.47V743.02H145.84V742.63H145.22V742.24H144.59V741.85H143.96V741.47H143.34V741.08H142.71V740.69H142.08V740.3H141.45V739.91H140.83V739.52H140.2V739.13H139.57V738.75H138.95V738.36H138.32V738.14H137.69V737.92H137.07V737.71H136.44V737.49H135.81V737.27H135.18V737.05H134.56V736.84H133.93V736.62H133.3V736.4H132.68V736.19H132.05V735.97H131.42V735.76H130.8V735.55H130.17V735.34H129.54V735.13H128.91V734.84H128.29V734.55H127.66V734.26H127.03V733.97H126.41V733.68H125.78V733.39H125.15V733.1H124.53V732.81H123.9V732.52H123.27V732.23H122.64V731.94H122.02V731.65H121.39V731.36H120.76V731.08H120.14V730.78H119.51V730.48H118.88V730.18H118.26V729.88H117.63V729.58H117V729.28H116.37V728.98H115.75V728.68H115.12V728.38H114.49V728.08H113.87V727.88H113.24V727.69H112.61V727.5H111.99V727.31H111.36V727.12H110.73V726.92H110.1V726.73H109.48V726.54H108.85V726.35H108.22V726.16H107.6V725.97H106.97V725.77H106.34V725.58H105.72V725.39H105.09V725.08H104.46V724.76H103.83V724.45H103.21V724.14H102.58V723.83H101.95V723.51H101.33V723.2H100.7V722.89H100.07V722.58H99.45V722.26H98.82V721.95H98.19V721.64H97.56V721.33H96.94V721.01H96.31V720.76H95.68V720.5H95.06V720.25H94.43V719.99H93.8V719.74H93.18V719.48H92.55V719.23H91.92V718.97H91.29V718.72H90.67V718.46H90.04V718.21H89.41V717.95H88.79V717.7H88.16V717.44H87.53V717.15H86.91V716.86H86.28V716.57H85.65V716.28H85.02V715.99H84.4V715.71H83.77V715.42H83.14V715.13H82.52V714.84H81.89V714.55H81.26V714.26H80.64V713.97H80.01V713.68H79.38V713.39H78.75V713.11H78.13V712.83H77.5V712.55H76.87V712.28H76.25V712H75.62V711.72H74.99V711.44H74.37V711.16H73.74V710.89H73.11V710.61H72.48V710.33H71.86V710.05H71.23V709.77H70.6V709.5H69.98V709.17H69.35V708.83H68.72V708.49H68.1V708.16H67.47V707.82H66.84V707.48H66.22V707.14H65.59V706.8H64.96V706.46H64.33V706.12H63.71V705.78H63.08V705.44H62.45V705.1H61.83V704.75H61.2V704.36H60.57V703.96H59.95V703.57H59.32V703.17H58.69V702.78H58.06V702.38H57.44V701.99H56.81V701.59H56.18V701.2H55.56V700.81H54.93V700.41H54.3V700.02H53.68V699.62H53.05V699.3H52.42V699.15H51.79V699.01H51.17V698.86H50.54V698.65H49.91V698.45H49.29V698.24H48.66V698.03H48.03V697.82H47.41V697.61H46.78V697.4H46.15V697.2H45.52V696.99H44.9V696.78H44.27V696.57H43.64V696.36H43.02V696.16H42.39V695.95H41.76V695.74H41.13V695.53H40.51V695.32H39.88V695.12H39.25V694.91H38.63V694.7H38Z" fill="#7c83c8" fill-opacity="0.45"/>
<path d="M38 694.7H39.07V694.9H40.29V695.12H41.12V695.27H42.02V695.44H43.09V695.63H44.02V695.8H44.95V695.97H45.43V696.32H45.7V696.54H46.1V696.88H46.29V697.03H46.47V697.18H46.92V697.55H47.33V697.88H47.54V698.05H47.98V698.42H48.27V698.66H48.61V698.94H49.23V699.44H49.58V699.73H50.02V700.21H50.43V701.06H50.64V701.49H50.88V701.97H51.05V702.31H51.21V702.64H51.35V702.91H51.56V703.35H51.88V703.99H51.99V704.22H52.33V704.92H52.56V705.38H52.78V705.61H53.17V705.93H53.45V706.16H53.66V706.34H53.94V706.57H54.29V706.86H54.87V707.33H55.35V707.73H55.75V708.06H56.25V708.46H56.49V708.66H56.8V708.91H57.04V709.11H57.65V709.61H58.2V710.06H58.63V710.42H59.06V710.77H59.29V710.96H59.52V711.15H59.81V711.39H60.19V711.7H60.7V712.12H61.09V712.43H61.49V712.69H62.05V712.89H62.74V713.13H63.39V713.36H63.82V713.51H64.33V713.69H64.87V713.88H65.38V714.06H65.83V714.22H66.57V714.48H67.11V714.67H67.62V714.85H68.28V715.09H69.09V715.37H69.89V715.65H70.41V715.84H70.84V715.99H71.55V716.23H72.12V716.43H72.73V716.64H73.45V716.89H74.3V717.19H74.84V717.38H75.48V717.6H75.94V717.76H76.79V718.05H77.23V718.21H77.83V718.42H78.41V718.62H79.19V719.03H79.43V719.18H79.81V719.43H80.18V719.68H80.53V719.91H80.87V720.13H81.24V720.38H81.47V720.53H81.82V720.76H82.31V721.08H82.68V721.33H83.03V721.56H83.68V721.98H84.01V722.2H84.32V722.41H84.73V722.68H85.27V723.04H85.54V723.21H85.93V723.47H86.26V723.69H86.64V723.94H86.88V724.09H87.21V724.31H87.57V724.55H87.96V724.8H88.59V725.19H89V725.44H89.34V725.66H89.79V725.93H90.23V726.21H90.51V726.38H90.81V726.57H91.37V726.92H91.8V727.19H92.08V727.36H92.42V727.57H92.78V727.8H93.14V728.02H93.69V728.36H94V728.55H94.33V728.76H94.59V728.92H94.91V729.13H95.29V729.36H95.62V729.56H95.97V729.79H96.26V729.97H96.86V730.28H97.39V730.55H97.72V730.72H98.12V730.92H98.44V731.09H98.82V731.28H99.17V731.46H99.56V731.66H100.13V731.95H100.44V732.11H101.05V732.43H101.41V732.61H101.87V732.85H102.42V733.13H102.78V733.32H103.1V733.48H103.55V733.71H104.08V733.98H104.52V734.21H104.91V734.41H105.55V734.63H106.12V734.8H106.9V735.03H107.78V735.29H108.33V735.45H108.86V735.6H109.63V735.83H110.53V736.09H111.22V736.3H111.88V736.49H112.56V736.69H113.29V736.9H113.94V737.11H114.47V737.37H115.14V737.71H115.63V737.95H116.06V738.17H116.38V738.33H116.86V738.57H117.23V738.75H117.63V738.95H118.04V739.16H118.67V739.47H119.05V739.66H119.45V739.86H120.06V740.17H120.87V740.32H121.88V740.48H122.91V740.64H123.91V740.79H124.95V740.96H126.25V741.16H127.3V741.32H128.29V741.48H129.23V741.64H130.06V741.81H130.8V741.96H131.54V742.11H132.39V742.29H133.25V742.46H134.05V742.63H134.92V742.8H136.02V743.03H136.83V743.2H137.73V743.38H138.6V743.59H139.12V743.75H139.91V743.99H140.71V744.24H141.44V744.46H141.93V744.61H142.45V744.77H143.03V744.95H143.8V745.19H144.44V745.39H145.03V745.57H145.71V745.78H146.35V745.97H146.96V746.16H147.68V746.38H148.21V746.59H148.71V746.79H149.36V747.05H149.95V747.29H150.49V747.51H151.17V747.78H151.66V747.98H152.27V748.22H152.87V748.47H153.37V748.67H153.75V748.82H154.23V749.01H154.96V749.31H155.5V749.52H156.09V749.76H156.82V750.05H157.3V750.22H157.95V750.41H158.51V750.56H159.3V750.79H160.02V750.99H160.68V751.17H161.28V751.34H161.95V751.53H162.65V751.72H163.19V751.88H163.84V752.06H164.64V752.28H165.22V752.44H165.8V752.61H166.45V752.79H167.02V752.95H167.6V753.12H168.28V753.32H168.83V753.49H169.49V753.69H170.18V753.89H170.89V754.1H171.59V754.31H172.29V754.52H172.95V754.72H173.78V754.97H174.51V755.19H175.08V755.36H175.6V755.52H176.14V755.68H176.9V755.93H177.6V756.2H178.23V756.44H178.9V756.7H179.35V756.88H179.87V757.08H180.57V757.34H181.28V757.62H181.74V757.79H182.32V758.02H182.78V758.2H183.48V758.46H183.94V758.64H184.19V758.92H184.48V759.57H184.62V759.88H184.84V760.37H184.99V760.7H185.29V761.36H185.71V762.3H186.03V762.88H221.71V773.89H221.71" stroke="#e41a1c" stroke-width="0.95" fill="none"/>
<path d="M166.65 753.85v-2M76.48 718.95v-2M38.12 695.72v-2M100.9 733.35v-2M116.27 739.27v-2M50.32 701.83v-2M78.57 719.68v-2M67.27 715.73v-2M38.57 695.8v-2M66.51 715.46v-2M77.53 719.31v-2M94.03 729.58v-2M142.62 745.83v-2M80.25 720.73v-2M216.56 763.88v-2M170.57 755.01v-2M199.86 763.88v-2M140.12 745.06v-2M134.84 743.79v-2M105.88 735.73v-2M166.21 753.72v-2M74.27 718.18v-2M117.74 740.01v-2M136.99 744.23v-2M102.97 734.41v-2M62.54 714.06v-2M41.08 696.27v-2M41.71 696.38v-2M73.17 717.8v-2M114.93 738.6v-2M156.33 750.85v-2M145.28 746.64v-2M65.74 715.19v-2M201.34 763.88v-2M61.23 713.55v-2M145.66 746.76v-2M40.73 696.2v-2M154.78 750.23v-2M134.78 743.78v-2M209.21 763.88v-2M192.43 763.88v-2M138.91 744.69v-2M176.53 756.79v-2M151.14 748.77v-2M121.52 741.42v-2M52.98 706.78v-2M101.87 733.85v-2M192.14 763.88v-2M56.61 709.76v-2M214.32 763.88v-2M107.35 736.16v-2M79.29 720.1v-2M38.02 695.7v-2M78.75 719.74v-2M49.62 700.77v-2M130.92 742.98v-2M193.08 763.88v-2M196.03 763.88v-2M122.08 741.51v-2M78.17 719.53v-2M43.29 696.67v-2M139.17 744.77v-2M109.29 736.73v-2M145.47 746.7v-2M76.09 718.81v-2M189.58 763.88v-2M53.44 707.15v-2M65.56 715.13v-2M60.3 712.79v-2M123.98 741.8v-2M192.46 763.88v-2M48.53 699.87v-2M126.34 742.17v-2M158.04 751.43v-2M54.85 708.31v-2M40.19 696.1v-2M111.88 737.49v-2M174.42 756.16v-2M187.34 763.88v-2M148.56 747.73v-2M83.3 722.74v-2M84.79 723.72v-2M104.28 735.08v-2M194.52 763.88v-2M65.1 714.96v-2M62.07 713.89v-2M120.29 741.23v-2M211.98 763.88v-2M50.59 702.37v-2M38.69 695.83v-2M43.82 696.77v-2M111.19 737.28v-2M119.88 741.08v-2M50.23 701.65v-2M50.92 703.04v-2M117.95 740.11v-2M129.39 742.67v-2M139.51 744.87v-2M148.77 747.82v-2M40.11 696.09v-2M95.66 730.59v-2M175.57 756.51v-2M209.3 763.88v-2M67.44 715.79v-2M179.74 758.02v-2M129.12 742.62v-2M200.65 763.88v-2M55.38 708.75v-2M141.06 745.35v-2M177.18 757.04v-2M94.15 729.65v-2M42.67 696.56v-2M51.27 703.76v-2M47.46 698.99v-2M42.1 696.45v-2M47.01 698.62v-2M122.56 741.58v-2M42.98 696.61v-2M155.94 750.7v-2M150.55 748.53v-2M170.79 755.07v-2M167.51 754.09v-2M144.95 746.54v-2M199.91 763.88v-2M209.21 763.88v-2M124.63 741.91v-2M211.56 763.88v-2M42.86 696.59v-2M42.83 696.58v-2M40.29 696.12v-2M52.71 706.56v-2M76.15 718.83v-2M90.79 727.56v-2M137.23 744.28v-2M152.2 749.19v-2M41.48 696.34v-2M80.96 721.19v-2M107.25 736.13v-2M76.28 718.88v-2M43.98 696.79v-2M118.5 740.39v-2M76.15 718.83v-2M137.99 744.43v-2M97.73 731.73v-2M210.87 763.88v-2M205.82 763.88v-2M40.74 696.2v-2M156.37 750.87v-2M146.91 747.15v-2M64.18 714.64v-2M43.92 696.78v-2M94.58 729.92v-2M72.9 717.7v-2M150.82 748.64v-2M198.32 763.88v-2M77.41 719.27v-2M63.43 714.37v-2M98.36 732.05v-2M141.08 745.35v-2M163.74 753.03v-2M113.93 738.1v-2M64.19 714.64v-2M70.23 716.77v-2M179.12 757.78v-2M102.38 734.11v-2M39.54 695.98v-2M83.98 723.19v-2M56.46 709.63v-2M133.92 743.6v-2M40.81 696.22v-2M60.75 713.16v-2M42.32 696.49v-2M94.31 729.75v-2M217.22 763.88v-2M106.82 736.01v-2M78.1 719.51v-2M202.67 763.88v-2M42.03 696.44v-2M73.16 717.79v-2M169.33 754.64v-2M38.04 695.71v-2M157.9 751.39v-2M73.99 718.08v-2M38.26 695.75v-2M58.1 710.98v-2M90.71 727.51v-2M77.53 719.31v-2M101.89 733.86v-2M39.68 696.01v-2M54.13 707.72v-2M214.22 763.88v-2M87.87 725.74v-2M93.24 729.08v-2M41.58 696.36v-2M61.85 713.82v-2M208.59 763.88v-2M138.77 744.64v-2M100.12 732.95v-2M39.67 696.01v-2M79.18 720.02v-2M191.61 763.78v-1.8M197.88 763.78v-1.8M204.16 763.78v-1.8M208.54 763.78v-1.8M213.56 763.78v-1.8" stroke="#e41a1c" stroke-width="0.7"/>
<path d="M38 694.7H38.95V694.89H39.7V695.05H40.65V695.24H41.7V695.45H42.82V695.68H43.6V695.84H44.4V696H45.29V696.18H46.21V696.37H47.08V696.55H48.14V696.77H49.25V696.99H50V697.14H50.78V697.3H51.77V697.5H52.58V697.67H52.95V697.88H53.4V698.15H53.85V698.42H54.2V698.63H54.49V698.8H54.82V699H55.3V699.29H55.57V699.45H55.88V699.64H56.32V699.9H56.82V700.2H57.32V700.5H57.68V700.72H58.12V700.98H58.47V701.19H58.96V701.48H59.21V701.63H59.5V701.8H59.82V702H60.2V702.23H60.61V702.47H60.98V702.69H61.33V702.9H61.81V703.15H62.14V703.32H62.57V703.54H63.1V703.81H63.46V703.99H63.89V704.21H64.32V704.43H64.77V704.66H65.15V704.86H65.58V705.08H65.98V705.28H66.35V705.47H66.88V705.74H67.31V705.96H67.82V706.22H68.22V706.42H68.61V706.62H69.19V706.92H69.64V707.15H70.15V707.4H70.75V707.66H71.16V707.84H71.53V708.01H71.9V708.17H72.49V708.43H73.06V708.68H73.58V708.91H74.2V709.18H74.87V709.48H75.34V709.68H75.7V709.84H76.12V710.02H76.64V710.25H77.33V710.55H77.77V710.75H78.27V710.97H78.91V711.26H79.54V711.54H80.17V711.83H80.71V712.08H81.05V712.23H81.46V712.42H81.82V712.59H82.29V712.8H82.68V712.98H83.21V713.22H83.62V713.41H84.1V713.63H84.81V713.95H85.25V714.15H85.63V714.33H86.07V714.53H86.62V714.79H87.02V714.97H87.68V715.26H88.29V715.51H88.9V715.75H89.63V716.05H90.27V716.31H90.98V716.59H91.62V716.85H92.26V717.11H92.65V717.26H93.21V717.49H93.86V717.75H94.39V717.97H95.16V718.27H95.68V718.49H96.06V718.64H96.78V718.97H97.09V719.13H97.66V719.41H98.24V719.69H98.59V719.87H99.05V720.09H99.42V720.28H99.91V720.52H100.57V720.84H100.91V721.02H101.52V721.32H101.9V721.5H102.32V721.71H102.75V721.92H103.19V722.14H103.62V722.35H103.98V722.53H104.69V722.89H105.13V723.09H105.92V723.33H106.51V723.51H107.25V723.73H108.02V723.97H108.72V724.18H109.61V724.45H110.18V724.62H110.83V724.82H111.51V725.02H112.23V725.24H112.76V725.4H113.49V725.62H113.98V725.79H114.35V725.96H114.82V726.19H115.19V726.36H115.51V726.51H115.85V726.67H116.2V726.84H116.56V727.01H117.15V727.29H117.48V727.45H117.89V727.64H118.21V727.8H118.61V727.99H119.13V728.23H119.59V728.45H120.02V728.65H120.51V728.88H121.03V729.12H121.57V729.37H121.9V729.52H122.59V729.83H123.01V730.03H123.45V730.23H123.86V730.41H124.27V730.6H124.97V730.92H125.46V731.15H125.83V731.32H126.19V731.48H126.73V731.73H127.35V732.01H127.69V732.17H128.34V732.47H128.68V732.62H129.27V732.85H129.91V733.06H130.61V733.3H131.17V733.48H131.93V733.73H132.45V733.91H133.02V734.1H133.8V734.36H134.39V734.56H135.12V734.8H135.7V734.99H136.21V735.16H136.85V735.38H137.5V735.59H137.98V735.75H138.58V736.02H138.89V736.21H139.26V736.44H139.53V736.6H139.87V736.81H140.21V737.01H140.6V737.25H140.9V737.43H141.39V737.73H141.8V737.98H142.07V738.14H142.45V738.37H142.73V738.54H143.01V738.71H143.52V739.02H143.89V739.25H144.21V739.44H144.61V739.68H144.93V739.88H145.29V740.09H145.69V740.34H146.01V740.53H146.54V740.85H146.99V741.13H147.31V741.32H147.68V741.55H148.06V741.75H148.36V741.9H148.83V742.14H149.19V742.33H149.61V742.54H150.04V742.76H150.46V742.98H150.81V743.15H151.24V743.38H151.76V743.64H152.15V743.84H152.52V744.03H152.87V744.21H153.27V744.42H153.62V744.59H153.99V744.78H154.39V744.99H154.82V745.21H155.2V745.41H155.79V745.71H156.12V745.88H156.54V746.09H156.89V746.27H157.33V746.44H158.47V746.65H159.34V746.82H160.27V747H161.18V747.18H162.18V747.37H163.22V747.57H164.09V747.74H165.12V747.93H166.13V748.13H167.11V748.32H167.7V748.48H168.3V748.66H168.92V748.84H169.57V749.03H170.32V749.25H170.95V749.43H171.54V749.6H172.33V749.83H173.22V750.09H173.96V750.3H174.5V750.46H175.13V750.64H175.81V750.84H176.38V751.01H177.02V751.18H177.83V751.38H178.73V751.61H179.55V751.82H180.38V752.04H181.11V752.23H181.91V752.43H182.71V752.64H183.42V752.82H184.02V752.97H184.34V753.2H184.59V753.41H184.85V753.62H185.27V753.98H185.68V754.32H185.89V754.5H186.13V754.7H186.45V754.97H186.76V755.23H187.19V755.6H187.56V755.9H187.83V756.14H188.2V756.45H188.62V756.8H188.9V757.03H189.22V757.3H189.43V757.48H189.77V757.77H190.16V758.16H190.33V758.32H190.55V758.55H190.9V758.9H191.18V759.18H191.59V759.58H191.98V759.98H192.31V760.3H192.71V760.7H192.88V760.87H193.15V761.14H193.37V761.36H193.7V761.69H193.85V761.84H194.26V762.25H194.5V762.49H194.88V762.86H195.31V763.29H214.19V771H223.59V773.89H224.85" stroke="#2a4aa3" stroke-width="0.95" fill="none"/>
<path d="M151.53 744.52v-2M97.13 720.14v-2M187.95 757.23v-2M127.02 732.86v-2M141.39 738.73v-2M41.22 696.36v-2M50.75 698.3v-2M93.02 718.41v-2M108.8 725.2v-2M42.34 696.58v-2M153.84 745.71v-2M72.29 709.34v-2M94.81 719.13v-2M104.03 723.56v-2M179.04 752.69v-2M65.53 706.05v-2M111.84 726.12v-2M121.72 730.43v-2M133.03 735.1v-2M67.01 706.81v-2M62.25 704.37v-2M93.9 718.77v-2M120.74 729.99v-2M130.56 734.28v-2M45.48 697.22v-2M89.36 716.94v-2M111.95 726.15v-2M51.63 698.48v-2M42.86 696.69v-2M204.06 764.36v-2M38.38 695.78v-2M99.37 721.25v-2M64.45 705.5v-2M38.72 695.85v-2M60.99 703.7v-2M48.1 697.76v-2M81.16 713.28v-2M198.62 764.36v-2M41.24 696.36v-2M73.1 709.7v-2M142.38 739.33v-2M126.06 732.42v-2M38.38 695.78v-2M55.64 700.49v-2M62.53 704.52v-2M194.45 763.44v-2M88.62 716.64v-2M59.32 702.7v-2M95.78 719.52v-2M96.73 719.95v-2M46.93 697.52v-2M135.76 736.01v-2M148.69 743.07v-2M95.21 719.3v-2M107.18 724.71v-2M161.13 748.17v-2M211.97 764.36v-2M123.35 731.18v-2M39.28 695.96v-2M100.65 721.88v-2M134.63 735.64v-2M69.84 708.25v-2M139.82 737.78v-2M75.71 710.84v-2M124.16 731.55v-2M123.65 731.32v-2M136.45 736.24v-2M203.07 764.36v-2M145.48 741.21v-2M145.87 741.45v-2M144.61 740.68v-2M55.87 700.63v-2M123.64 731.31v-2M125.06 731.96v-2M40.13 696.13v-2M157 747.33v-2M55.4 700.35v-2M98.09 720.62v-2M104.39 723.74v-2M149.01 743.23v-2M159.78 747.91v-2M93.47 718.6v-2M207.11 764.36v-2M88.78 716.71v-2M113.26 726.55v-2M222.33 772v-2M68.75 707.7v-2M147 742.13v-2M211.97 764.36v-2M41.58 696.43v-2M162.83 748.49v-2M132.22 734.83v-2M107.65 724.86v-2M166.03 749.11v-2M184.77 754.56v-2M46.66 697.46v-2M97 720.08v-2M123.94 731.45v-2M143.31 739.9v-2M212.58 764.36v-2M169.51 750.01v-2M176.26 751.97v-2M40.33 696.17v-2M85.76 715.39v-2M199.64 764.36v-2M208.99 764.36v-2M157.45 747.46v-2M70.26 708.45v-2M160.94 748.13v-2M106.01 724.36v-2M135.86 736.04v-2M128.91 733.73v-2M186.22 755.78v-2M147.04 742.16v-2M216.09 772v-2M98.37 720.76v-2M98.36 720.75v-2M133.51 735.26v-2M112.27 726.25v-2M39.5 696.01v-2M212.82 764.36v-2M67.99 707.31v-2M99.56 721.35v-2M39.19 695.94v-2M51.15 698.38v-2M204 764.36v-2M62.01 704.25v-2M65.02 705.79v-2M171.87 750.7v-2M57.22 701.44v-2M135.86 736.04v-2M113.66 726.67v-2M194.85 763.84v-2M95.13 719.26v-2M69.49 708.08v-2M59.53 702.82v-2M75.06 710.56v-2M38 695.7v-2M44.24 696.97v-2M46.86 697.5v-2M67.37 706.99v-2M160.58 748.06v-2M207.79 764.36v-2M73.52 709.88v-2M58.31 702.09v-2M64.25 705.4v-2M126.99 732.85v-2M95.49 719.41v-2M44.08 696.94v-2M104.39 723.74v-2M60.85 703.62v-2M46.41 697.41v-2M164.91 748.89v-2M43.09 696.74v-2M88.11 716.43v-2M159.96 747.94v-2M108.3 725.05v-2M188.52 757.71v-2M67.76 707.19v-2M209.06 764.36v-2M39.24 695.95v-2M194.52 763.5v-2M85.39 715.22v-2M38.02 695.7v-2M59.58 702.85v-2M221.51 772v-2M147.56 742.47v-2M152.73 745.14v-2M171.65 750.63v-2M38.06 695.71v-2M66.23 706.41v-2M93.01 718.41v-2M198.46 764.36v-2M198.11 764.36v-2M46.93 697.52v-2M221.08 772v-2M110.69 725.77v-2M65.9 706.24v-2M41.46 696.41v-2M85.83 715.42v-2M103.75 723.42v-2M90.71 717.48v-2M66.75 706.67v-2M209.48 764.36v-2M94.84 719.15v-2M66.34 706.46v-2M162.93 748.51v-2M57.6 701.66v-2M85.13 715.1v-2M43 696.72v-2M56.8 701.19v-2M223.95 774.89v-2M125.24 732.05v-2M104.36 723.72v-2M137.22 736.5v-2M136.96 736.41v-2M103.89 723.49v-2M75.53 710.77v-2M46.73 697.48v-2M38.66 695.84v-2M197.88 764.26v-1.8M201.02 764.26v-1.8M204.78 764.26v-1.8M209.17 764.26v-1.8" stroke="#2a4aa3" stroke-width="0.7"/>
<path d="M28.6 690.7V778.9H236.2M28.6 694.7h-1.6M28.6 714.8h-1.6M28.6 734.9h-1.6M28.6 755h-1.6M28.6 775.1h-1.6M38 778.9v1.7M44.27 778.9v1.7M50.54 778.9v1.7M56.81 778.9v1.7M63.08 778.9v1.7M69.35 778.9v1.7M75.62 778.9v1.7M81.89 778.9v1.7M88.16 778.9v1.7M94.43 778.9v1.7M100.7 778.9v1.7M106.97 778.9v1.7M113.24 778.9v1.7M119.51 778.9v1.7M125.78 778.9v1.7M132.05 778.9v1.7M138.32 778.9v1.7M144.59 778.9v1.7M150.86 778.9v1.7M157.13 778.9v1.7M163.4 778.9v1.7M169.67 778.9v1.7M175.94 778.9v1.7M182.21 778.9v1.7M188.48 778.9v1.7M194.75 778.9v1.7M201.02 778.9v1.7M207.29 778.9v1.7M213.56 778.9v1.7M219.83 778.9v1.7M226.1 778.9v1.7" stroke="#555" stroke-width="0.7" fill="none"/>
<text font-size="5.1" fill="#1a1a1a" stroke="#1a1a1a" stroke-width="0.3" stroke-opacity="0.45" text-anchor="end" transform="translate(26.8 696.6) scale(0.68 1)">1.00</text>
<text font-size="5.1" fill="#1a1a1a" stroke="#1a1a1a" stroke-width="0.3" stroke-opacity="0.45" text-anchor="end" transform="translate(26.8 716.7) scale(0.68 1)">0.75</text>
<text font-size="5.1" fill="#1a1a1a" stroke="#1a1a1a" stroke-width="0.3" stroke-opacity="0.45" text-anchor="end" transform="translate(26.8 736.8) scale(0.68 1)">0.50</text>
<text font-size="5.1" fill="#1a1a1a" stroke="#1a1a1a" stroke-width="0.3" stroke-opacity="0.45" text-anchor="end" transform="translate(26.8 756.9) scale(0.68 1)">0.25</text>
<text font-size="5.1" fill="#1a1a1a" stroke="#1a1a1a" stroke-width="0.3" stroke-opacity="0.45" text-anchor="end" transform="translate(26.8 777) scale(0.68 1)">0.00</text>
<text font-size="5.5" fill="#1a1a1a" stroke="#1a1a1a" stroke-width="0.3" stroke-opacity="0.45" text-anchor="middle" transform="translate(38 784.6) scale(0.68 1)">0</text>
<text font-size="5.5" fill="#1a1a1a" stroke="#1a1a1a" stroke-width="0.3" stroke-opacity="0.45" text-anchor="middle" transform="translate(44.27 784.6) scale(0.68 1)">1</text>
<text font-size="5.5" fill="#1a1a1a" stroke="#1a1a1a" stroke-width="0.3" stroke-opacity="0.45" text-anchor="middle" transform="translate(50.54 784.6) scale(0.68 1)">2</text>
<text font-size="5.5" fill="#1a1a1a" stroke="#1a1a1a" stroke-width="0.3" stroke-opacity="0.45" text-anchor="middle" transform="translate(56.81 784.6) scale(0.68 1)">3</text>
<text font-size="5.5" fill="#1a1a1a" stroke="#1a1a1a" stroke-width="0.3" stroke-opacity="0.45" text-anchor="middle" transform="translate(63.08 784.6) scale(0.68 1)">4</text>
<text font-size="5.5" fill="#1a1a1a" stroke="#1a1a1a" stroke-width="0.3" stroke-opacity="0.45" text-anchor="middle" transform="translate(69.35 784.6) scale(0.68 1)">5</text>
<text font-size="5.5" fill="#1a1a1a" stroke="#1a1a1a" stroke-width="0.3" stroke-opacity="0.45" text-anchor="middle" transform="translate(75.62 784.6) scale(0.68 1)">6</text>
<text font-size="5.5" fill="#1a1a1a" stroke="#1a1a1a" stroke-width="0.3" stroke-opacity="0.45" text-anchor="middle" transform="translate(81.89 784.6) scale(0.68 1)">7</text>
<text font-size="5.5" fill="#1a1a1a" stroke="#1a1a1a" stroke-width="0.3" stroke-opacity="0.45" text-anchor="middle" transform="translate(88.16 784.6) scale(0.68 1)">8</text>
<text font-size="5.5" fill="#1a1a1a" stroke="#1a1a1a" stroke-width="0.3" stroke-opacity="0.45" text-anchor="middle" transform="translate(94.43 784.6) scale(0.68 1)">9</text>
<text font-size="5.5" fill="#1a1a1a" stroke="#1a1a1a" stroke-width="0.3" stroke-opacity="0.45" text-anchor="middle" transform="translate(100.7 784.6) scale(0.68 1)">10</text>
<text font-size="5.5" fill="#1a1a1a" stroke="#1a1a1a" stroke-width="0.3" stroke-opacity="0.45" text-anchor="middle" transform="translate(106.97 784.6) scale(0.68 1)">11</text>
<text font-size="5.5" fill="#1a1a1a" stroke="#1a1a1a" stroke-width="0.3" stroke-opacity="0.45" text-anchor="middle" transform="translate(113.24 784.6) scale(0.68 1)">12</text>
<text font-size="5.5" fill="#1a1a1a" stroke="#1a1a1a" stroke-width="0.3" stroke-opacity="0.45" text-anchor="middle" transform="translate(119.51 784.6) scale(0.68 1)">13</text>
<text font-size="5.5" fill="#1a1a1a" stroke="#1a1a1a" stroke-width="0.3" stroke-opacity="0.45" text-anchor="middle" transform="translate(125.78 784.6) scale(0.68 1)">14</text>
<text font-size="5.5" fill="#1a1a1a" stroke="#1a1a1a" stroke-width="0.3" stroke-opacity="0.45" text-anchor="middle" transform="translate(132.05 784.6) scale(0.68 1)">15</text>
<text font-size="5.5" fill="#1a1a1a" stroke="#1a1a1a" stroke-width="0.3" stroke-opacity="0.45" text-anchor="middle" transform="translate(138.32 784.6) scale(0.68 1)">16</text>
<text font-size="5.5" fill="#1a1a1a" stroke="#1a1a1a" stroke-width="0.3" stroke-opacity="0.45" text-anchor="middle" transform="translate(144.59 784.6) scale(0.68 1)">17</text>
<text font-size="5.5" fill="#1a1a1a" stroke="#1a1a1a" stroke-width="0.3" stroke-opacity="0.45" text-anchor="middle" transform="translate(150.86 784.6) scale(0.68 1)">18</text>
<text font-size="5.5" fill="#1a1a1a" stroke="#1a1a1a" stroke-width="0.3" stroke-opacity="0.45" text-anchor="middle" transform="translate(157.13 784.6) scale(0.68 1)">19</text>
<text font-size="5.5" fill="#1a1a1a" stroke="#1a1a1a" stroke-width="0.3" stroke-opacity="0.45" text-anchor="middle" transform="translate(163.4 784.6) scale(0.68 1)">20</text>
<text font-size="5.5" fill="#1a1a1a" stroke="#1a1a1a" stroke-width="0.3" stroke-opacity="0.45" text-anchor="middle" transform="translate(169.67 784.6) scale(0.68 1)">21</text>
<text font-size="5.5" fill="#1a1a1a" stroke="#1a1a1a" stroke-width="0.3" stroke-opacity="0.45" text-anchor="middle" transform="translate(175.94 784.6) scale(0.68 1)">22</text>
<text font-size="5.5" fill="#1a1a1a" stroke="#1a1a1a" stroke-width="0.3" stroke-opacity="0.45" text-anchor="middle" transform="translate(182.21 784.6) scale(0.68 1)">23</text>
<text font-size="5.5" fill="#1a1a1a" stroke="#1a1a1a" stroke-width="0.3" stroke-opacity="0.45" text-anchor="middle" transform="translate(188.48 784.6) scale(0.68 1)">24</text>
<text font-size="5.5" fill="#1a1a1a" stroke="#1a1a1a" stroke-width="0.3" stroke-opacity="0.45" text-anchor="middle" transform="translate(194.75 784.6) scale(0.68 1)">25</text>
<text font-size="5.5" fill="#1a1a1a" stroke="#1a1a1a" stroke-width="0.3" stroke-opacity="0.45" text-anchor="middle" transform="translate(201.02 784.6) scale(0.68 1)">26</text>
<text font-size="5.5" fill="#1a1a1a" stroke="#1a1a1a" stroke-width="0.3" stroke-opacity="0.45" text-anchor="middle" transform="translate(207.29 784.6) scale(0.68 1)">27</text>
<text font-size="5.5" fill="#1a1a1a" stroke="#1a1a1a" stroke-width="0.3" stroke-opacity="0.45" text-anchor="middle" transform="translate(213.56 784.6) scale(0.68 1)">28</text>
<text font-size="5.5" fill="#1a1a1a" stroke="#1a1a1a" stroke-width="0.3" stroke-opacity="0.45" text-anchor="middle" transform="translate(219.83 784.6) scale(0.68 1)">29</text>
<text font-size="5.5" fill="#1a1a1a" stroke="#1a1a1a" stroke-width="0.3" stroke-opacity="0.45" text-anchor="middle" transform="translate(226.1 784.6) scale(0.68 1)">30</text>
<text font-size="6.2" fill="#1a1a1a" stroke="#1a1a1a" stroke-width="0.3" stroke-opacity="0.45" text-anchor="middle" transform="translate(133 792) scale(0.68 1)">Time(years)</text>
<text font-size="5.9" fill="#1a1a1a" stroke="#1a1a1a" stroke-width="0.3" stroke-opacity="0.45" text-anchor="middle" transform="translate(18.8 735) scale(0.68 1) rotate(-90)">Overall survival</text>
<text font-size="8.2" fill="#1a1a1a" stroke="#1a1a1a" stroke-width="0.3" stroke-opacity="0.45" transform="translate(41.2 762.6) scale(0.55 1)">p&lt;0.001</text>
<text font-size="4.6" fill="#1a1a1a" stroke="#1a1a1a" stroke-width="0.3" stroke-opacity="0.45" transform="translate(112.4 680.9) scale(0.68 1)">Risk</text>
<rect x="119.1" y="675.75" width="5" height="7.5" fill="#f7c3ad"/>
<path d="M119.1 679.7h5" stroke="#e41a1c" stroke-width="0.9"/>
<path d="M121.6 677.9l1.6 2h-3.2z" fill="#e41a1c"/>
<text font-size="4.6" fill="#1a1a1a" stroke="#1a1a1a" stroke-width="0.3" stroke-opacity="0.45" transform="translate(125.2 680.9) scale(0.68 1)">High risk</text>
<rect x="136.6" y="675.75" width="5" height="7.5" fill="#c5c8e6"/>
<path d="M136.6 679.7h5" stroke="#2a4aa3" stroke-width="0.9"/>
<path d="M139.1 677.9l1.6 2h-3.2z" fill="#2a4aa3"/>
<text font-size="4.6" fill="#1a1a1a" stroke="#1a1a1a" stroke-width="0.3" stroke-opacity="0.45" transform="translate(142.6 680.9) scale(0.68 1)">Low risk</text>
<text font-size="5.9" fill="#1a1a1a" stroke="#1a1a1a" stroke-width="0.3" stroke-opacity="0.45" text-anchor="middle" transform="translate(19.3 813) scale(0.68 1) rotate(-90)">Risk</text>
<text font-size="4.6" fill="#e8202a" stroke="#e8202a" stroke-width="0.3" stroke-opacity="0.45" text-anchor="end" transform="translate(33.2 812.1) scale(0.68 1)">High risk</text>
<text font-size="4.6" fill="#3050b0" stroke="#3050b0" stroke-width="0.3" stroke-opacity="0.45" text-anchor="end" transform="translate(33.2 818.7) scale(0.68 1)">Low risk</text>
<path d="M34 807.5V820.4H236.2M34 810.2h-0.8M34 816.8h-0.8M42.9 820.4v1.2M49.06 820.4v1.2M55.22 820.4v1.2M61.38 820.4v1.2M67.54 820.4v1.2M73.7 820.4v1.2M79.86 820.4v1.2M86.02 820.4v1.2M92.18 820.4v1.2M98.34 820.4v1.2M104.5 820.4v1.2M110.66 820.4v1.2M116.82 820.4v1.2M122.98 820.4v1.2M129.14 820.4v1.2M135.3 820.4v1.2M141.46 820.4v1.2M147.62 820.4v1.2M153.78 820.4v1.2M159.94 820.4v1.2M166.1 820.4v1.2M172.26 820.4v1.2M178.42 820.4v1.2M184.58 820.4v1.2M190.74 820.4v1.2M196.9 820.4v1.2M203.06 820.4v1.2M209.22 820.4v1.2M215.38 820.4v1.2M221.54 820.4v1.2M227.7 820.4v1.2" stroke="#333" stroke-width="0.7" fill="none"/>
<text font-size="5.3" fill="#1a1a1a" stroke="#1a1a1a" stroke-width="0.3" stroke-opacity="0.45" text-anchor="middle" transform="translate(42.9 812.2) scale(0.6 1)">998</text>
<text font-size="5.3" fill="#1a1a1a" stroke="#1a1a1a" stroke-width="0.3" stroke-opacity="0.45" text-anchor="middle" transform="translate(42.9 818.8) scale(0.6 1)">998</text>
<text font-size="5.3" fill="#1a1a1a" stroke="#1a1a1a" stroke-width="0.3" stroke-opacity="0.45" text-anchor="middle" transform="translate(49.06 812.2) scale(0.6 1)">954</text>
<text font-size="5.3" fill="#1a1a1a" stroke="#1a1a1a" stroke-width="0.3" stroke-opacity="0.45" text-anchor="middle" transform="translate(49.06 818.8) scale(0.6 1)">980</text>
<text font-size="5.3" fill="#1a1a1a" stroke="#1a1a1a" stroke-width="0.3" stroke-opacity="0.45" text-anchor="middle" transform="translate(55.22 812.2) scale(0.6 1)">896</text>
<text font-size="5.3" fill="#1a1a1a" stroke="#1a1a1a" stroke-width="0.3" stroke-opacity="0.45" text-anchor="middle" transform="translate(55.22 818.8) scale(0.6 1)">935</text>
<text font-size="5.3" fill="#1a1a1a" stroke="#1a1a1a" stroke-width="0.3" stroke-opacity="0.45" text-anchor="middle" transform="translate(61.38 812.2) scale(0.6 1)">825</text>
<text font-size="5.3" fill="#1a1a1a" stroke="#1a1a1a" stroke-width="0.3" stroke-opacity="0.45" text-anchor="middle" transform="translate(61.38 818.8) scale(0.6 1)">882</text>
<text font-size="5.3" fill="#1a1a1a" stroke="#1a1a1a" stroke-width="0.3" stroke-opacity="0.45" text-anchor="middle" transform="translate(67.54 812.2) scale(0.6 1)">752</text>
<text font-size="5.3" fill="#1a1a1a" stroke="#1a1a1a" stroke-width="0.3" stroke-opacity="0.45" text-anchor="middle" transform="translate(67.54 818.8) scale(0.6 1)">845</text>
<text font-size="5.3" fill="#1a1a1a" stroke="#1a1a1a" stroke-width="0.3" stroke-opacity="0.45" text-anchor="middle" transform="translate(73.7 812.2) scale(0.6 1)">700</text>
<text font-size="5.3" fill="#1a1a1a" stroke="#1a1a1a" stroke-width="0.3" stroke-opacity="0.45" text-anchor="middle" transform="translate(73.7 818.8) scale(0.6 1)">788</text>
<text font-size="5.3" fill="#1a1a1a" stroke="#1a1a1a" stroke-width="0.3" stroke-opacity="0.45" text-anchor="middle" transform="translate(79.86 812.2) scale(0.6 1)">650</text>
<text font-size="5.3" fill="#1a1a1a" stroke="#1a1a1a" stroke-width="0.3" stroke-opacity="0.45" text-anchor="middle" transform="translate(79.86 818.8) scale(0.6 1)">737</text>
<text font-size="5.3" fill="#1a1a1a" stroke="#1a1a1a" stroke-width="0.3" stroke-opacity="0.45" text-anchor="middle" transform="translate(86.02 812.2) scale(0.6 1)">605</text>
<text font-size="5.3" fill="#1a1a1a" stroke="#1a1a1a" stroke-width="0.3" stroke-opacity="0.45" text-anchor="middle" transform="translate(86.02 818.8) scale(0.6 1)">694</text>
<text font-size="5.3" fill="#1a1a1a" stroke="#1a1a1a" stroke-width="0.3" stroke-opacity="0.45" text-anchor="middle" transform="translate(92.18 812.2) scale(0.6 1)">533</text>
<text font-size="5.3" fill="#1a1a1a" stroke="#1a1a1a" stroke-width="0.3" stroke-opacity="0.45" text-anchor="middle" transform="translate(92.18 818.8) scale(0.6 1)">648</text>
<text font-size="5.3" fill="#1a1a1a" stroke="#1a1a1a" stroke-width="0.3" stroke-opacity="0.45" text-anchor="middle" transform="translate(98.34 812.2) scale(0.6 1)">473</text>
<text font-size="5.3" fill="#1a1a1a" stroke="#1a1a1a" stroke-width="0.3" stroke-opacity="0.45" text-anchor="middle" transform="translate(98.34 818.8) scale(0.6 1)">603</text>
<text font-size="5.3" fill="#1a1a1a" stroke="#1a1a1a" stroke-width="0.3" stroke-opacity="0.45" text-anchor="middle" transform="translate(104.5 812.2) scale(0.6 1)">404</text>
<text font-size="5.3" fill="#1a1a1a" stroke="#1a1a1a" stroke-width="0.3" stroke-opacity="0.45" text-anchor="middle" transform="translate(104.5 818.8) scale(0.6 1)">540</text>
<text font-size="5.3" fill="#1a1a1a" stroke="#1a1a1a" stroke-width="0.3" stroke-opacity="0.45" text-anchor="middle" transform="translate(110.66 812.2) scale(0.6 1)">360</text>
<text font-size="5.3" fill="#1a1a1a" stroke="#1a1a1a" stroke-width="0.3" stroke-opacity="0.45" text-anchor="middle" transform="translate(110.66 818.8) scale(0.6 1)">480</text>
<text font-size="5.3" fill="#1a1a1a" stroke="#1a1a1a" stroke-width="0.3" stroke-opacity="0.45" text-anchor="middle" transform="translate(116.82 812.2) scale(0.6 1)">330</text>
<text font-size="5.3" fill="#1a1a1a" stroke="#1a1a1a" stroke-width="0.3" stroke-opacity="0.45" text-anchor="middle" transform="translate(116.82 818.8) scale(0.6 1)">432</text>
<text font-size="5.3" fill="#1a1a1a" stroke="#1a1a1a" stroke-width="0.3" stroke-opacity="0.45" text-anchor="middle" transform="translate(122.98 812.2) scale(0.6 1)">285</text>
<text font-size="5.3" fill="#1a1a1a" stroke="#1a1a1a" stroke-width="0.3" stroke-opacity="0.45" text-anchor="middle" transform="translate(122.98 818.8) scale(0.6 1)">385</text>
<text font-size="5.3" fill="#1a1a1a" stroke="#1a1a1a" stroke-width="0.3" stroke-opacity="0.45" text-anchor="middle" transform="translate(129.14 812.2) scale(0.6 1)">247</text>
<text font-size="5.3" fill="#1a1a1a" stroke="#1a1a1a" stroke-width="0.3" stroke-opacity="0.45" text-anchor="middle" transform="translate(129.14 818.8) scale(0.6 1)">336</text>
<text font-size="5.3" fill="#1a1a1a" stroke="#1a1a1a" stroke-width="0.3" stroke-opacity="0.45" text-anchor="middle" transform="translate(135.3 812.2) scale(0.6 1)">221</text>
<text font-size="5.3" fill="#1a1a1a" stroke="#1a1a1a" stroke-width="0.3" stroke-opacity="0.45" text-anchor="middle" transform="translate(135.3 818.8) scale(0.6 1)">302</text>
<text font-size="5.3" fill="#1a1a1a" stroke="#1a1a1a" stroke-width="0.3" stroke-opacity="0.45" text-anchor="middle" transform="translate(141.46 812.2) scale(0.6 1)">194</text>
<text font-size="5.3" fill="#1a1a1a" stroke="#1a1a1a" stroke-width="0.3" stroke-opacity="0.45" text-anchor="middle" transform="translate(141.46 818.8) scale(0.6 1)">246</text>
<text font-size="5.3" fill="#1a1a1a" stroke="#1a1a1a" stroke-width="0.3" stroke-opacity="0.45" text-anchor="middle" transform="translate(147.62 812.2) scale(0.6 1)">155</text>
<text font-size="5.3" fill="#1a1a1a" stroke="#1a1a1a" stroke-width="0.3" stroke-opacity="0.45" text-anchor="middle" transform="translate(147.62 818.8) scale(0.6 1)">195</text>
<text font-size="5.3" fill="#1a1a1a" stroke="#1a1a1a" stroke-width="0.3" stroke-opacity="0.45" text-anchor="middle" transform="translate(153.78 812.2) scale(0.6 1)">133</text>
<text font-size="5.3" fill="#1a1a1a" stroke="#1a1a1a" stroke-width="0.3" stroke-opacity="0.45" text-anchor="middle" transform="translate(153.78 818.8) scale(0.6 1)">155</text>
<text font-size="5.3" fill="#1a1a1a" stroke="#1a1a1a" stroke-width="0.3" stroke-opacity="0.45" text-anchor="middle" transform="translate(159.94 812.2) scale(0.6 1)">104</text>
<text font-size="5.3" fill="#1a1a1a" stroke="#1a1a1a" stroke-width="0.3" stroke-opacity="0.45" text-anchor="middle" transform="translate(159.94 818.8) scale(0.6 1)">130</text>
<text font-size="5.3" fill="#1a1a1a" stroke="#1a1a1a" stroke-width="0.3" stroke-opacity="0.45" text-anchor="middle" transform="translate(166.1 812.2) scale(0.6 1)">79</text>
<text font-size="5.3" fill="#1a1a1a" stroke="#1a1a1a" stroke-width="0.3" stroke-opacity="0.45" text-anchor="middle" transform="translate(166.1 818.8) scale(0.6 1)">99</text>
<text font-size="5.3" fill="#1a1a1a" stroke="#1a1a1a" stroke-width="0.3" stroke-opacity="0.45" text-anchor="middle" transform="translate(172.26 812.2) scale(0.6 1)">56</text>
<text font-size="5.3" fill="#1a1a1a" stroke="#1a1a1a" stroke-width="0.3" stroke-opacity="0.45" text-anchor="middle" transform="translate(172.26 818.8) scale(0.6 1)">81</text>
<text font-size="5.3" fill="#1a1a1a" stroke="#1a1a1a" stroke-width="0.3" stroke-opacity="0.45" text-anchor="middle" transform="translate(178.42 812.2) scale(0.6 1)">31</text>
<text font-size="5.3" fill="#1a1a1a" stroke="#1a1a1a" stroke-width="0.3" stroke-opacity="0.45" text-anchor="middle" transform="translate(178.42 818.8) scale(0.6 1)">51</text>
<text font-size="5.3" fill="#1a1a1a" stroke="#1a1a1a" stroke-width="0.3" stroke-opacity="0.45" text-anchor="middle" transform="translate(184.58 812.2) scale(0.6 1)">11</text>
<text font-size="5.3" fill="#1a1a1a" stroke="#1a1a1a" stroke-width="0.3" stroke-opacity="0.45" text-anchor="middle" transform="translate(184.58 818.8) scale(0.6 1)">28</text>
<text font-size="5.3" fill="#1a1a1a" stroke="#1a1a1a" stroke-width="0.3" stroke-opacity="0.45" text-anchor="middle" transform="translate(190.74 812.2) scale(0.6 1)">4</text>
<text font-size="5.3" fill="#1a1a1a" stroke="#1a1a1a" stroke-width="0.3" stroke-opacity="0.45" text-anchor="middle" transform="translate(190.74 818.8) scale(0.6 1)">18</text>
<text font-size="5.3" fill="#1a1a1a" stroke="#1a1a1a" stroke-width="0.3" stroke-opacity="0.45" text-anchor="middle" transform="translate(196.9 812.2) scale(0.6 1)">4</text>
<text font-size="5.3" fill="#1a1a1a" stroke="#1a1a1a" stroke-width="0.3" stroke-opacity="0.45" text-anchor="middle" transform="translate(196.9 818.8) scale(0.6 1)">9</text>
<text font-size="5.3" fill="#1a1a1a" stroke="#1a1a1a" stroke-width="0.3" stroke-opacity="0.45" text-anchor="middle" transform="translate(203.06 812.2) scale(0.6 1)">2</text>
<text font-size="5.3" fill="#1a1a1a" stroke="#1a1a1a" stroke-width="0.3" stroke-opacity="0.45" text-anchor="middle" transform="translate(203.06 818.8) scale(0.6 1)">6</text>
<text font-size="5.3" fill="#1a1a1a" stroke="#1a1a1a" stroke-width="0.3" stroke-opacity="0.45" text-anchor="middle" transform="translate(209.22 812.2) scale(0.6 1)">2</text>
<text font-size="5.3" fill="#1a1a1a" stroke="#1a1a1a" stroke-width="0.3" stroke-opacity="0.45" text-anchor="middle" transform="translate(209.22 818.8) scale(0.6 1)">4</text>
<text font-size="5.3" fill="#1a1a1a" stroke="#1a1a1a" stroke-width="0.3" stroke-opacity="0.45" text-anchor="middle" transform="translate(215.38 812.2) scale(0.6 1)">2</text>
<text font-size="5.3" fill="#1a1a1a" stroke="#1a1a1a" stroke-width="0.3" stroke-opacity="0.45" text-anchor="middle" transform="translate(215.38 818.8) scale(0.6 1)">1</text>
<text font-size="5.3" fill="#1a1a1a" stroke="#1a1a1a" stroke-width="0.3" stroke-opacity="0.45" text-anchor="middle" transform="translate(221.54 812.2) scale(0.6 1)">1</text>
<text font-size="5.3" fill="#1a1a1a" stroke="#1a1a1a" stroke-width="0.3" stroke-opacity="0.45" text-anchor="middle" transform="translate(221.54 818.8) scale(0.6 1)">1</text>
<text font-size="5.3" fill="#1a1a1a" stroke="#1a1a1a" stroke-width="0.3" stroke-opacity="0.45" text-anchor="middle" transform="translate(227.7 812.2) scale(0.6 1)">0</text>
<text font-size="5.3" fill="#1a1a1a" stroke="#1a1a1a" stroke-width="0.3" stroke-opacity="0.45" text-anchor="middle" transform="translate(227.7 818.8) scale(0.6 1)">0</text>
<text font-size="5.5" fill="#1a1a1a" stroke="#1a1a1a" stroke-width="0.3" stroke-opacity="0.45" text-anchor="middle" transform="translate(42.9 826.6) scale(0.68 1)">0</text>
<text font-size="5.5" fill="#1a1a1a" stroke="#1a1a1a" stroke-width="0.3" stroke-opacity="0.45" text-anchor="middle" transform="translate(49.06 826.6) scale(0.68 1)">1</text>
<text font-size="5.5" fill="#1a1a1a" stroke="#1a1a1a" stroke-width="0.3" stroke-opacity="0.45" text-anchor="middle" transform="translate(55.22 826.6) scale(0.68 1)">2</text>
<text font-size="5.5" fill="#1a1a1a" stroke="#1a1a1a" stroke-width="0.3" stroke-opacity="0.45" text-anchor="middle" transform="translate(61.38 826.6) scale(0.68 1)">3</text>
<text font-size="5.5" fill="#1a1a1a" stroke="#1a1a1a" stroke-width="0.3" stroke-opacity="0.45" text-anchor="middle" transform="translate(67.54 826.6) scale(0.68 1)">4</text>
<text font-size="5.5" fill="#1a1a1a" stroke="#1a1a1a" stroke-width="0.3" stroke-opacity="0.45" text-anchor="middle" transform="translate(73.7 826.6) scale(0.68 1)">5</text>
<text font-size="5.5" fill="#1a1a1a" stroke="#1a1a1a" stroke-width="0.3" stroke-opacity="0.45" text-anchor="middle" transform="translate(79.86 826.6) scale(0.68 1)">6</text>
<text font-size="5.5" fill="#1a1a1a" stroke="#1a1a1a" stroke-width="0.3" stroke-opacity="0.45" text-anchor="middle" transform="translate(86.02 826.6) scale(0.68 1)">7</text>
<text font-size="5.5" fill="#1a1a1a" stroke="#1a1a1a" stroke-width="0.3" stroke-opacity="0.45" text-anchor="middle" transform="translate(92.18 826.6) scale(0.68 1)">8</text>
<text font-size="5.5" fill="#1a1a1a" stroke="#1a1a1a" stroke-width="0.3" stroke-opacity="0.45" text-anchor="middle" transform="translate(98.34 826.6) scale(0.68 1)">9</text>
<text font-size="5.5" fill="#1a1a1a" stroke="#1a1a1a" stroke-width="0.3" stroke-opacity="0.45" text-anchor="middle" transform="translate(104.5 826.6) scale(0.68 1)">10</text>
<text font-size="5.5" fill="#1a1a1a" stroke="#1a1a1a" stroke-width="0.3" stroke-opacity="0.45" text-anchor="middle" transform="translate(110.66 826.6) scale(0.68 1)">11</text>
<text font-size="5.5" fill="#1a1a1a" stroke="#1a1a1a" stroke-width="0.3" stroke-opacity="0.45" text-anchor="middle" transform="translate(116.82 826.6) scale(0.68 1)">12</text>
<text font-size="5.5" fill="#1a1a1a" stroke="#1a1a1a" stroke-width="0.3" stroke-opacity="0.45" text-anchor="middle" transform="translate(122.98 826.6) scale(0.68 1)">13</text>
<text font-size="5.5" fill="#1a1a1a" stroke="#1a1a1a" stroke-width="0.3" stroke-opacity="0.45" text-anchor="middle" transform="translate(129.14 826.6) scale(0.68 1)">14</text>
<text font-size="5.5" fill="#1a1a1a" stroke="#1a1a1a" stroke-width="0.3" stroke-opacity="0.45" text-anchor="middle" transform="translate(135.3 826.6) scale(0.68 1)">15</text>
<text font-size="5.5" fill="#1a1a1a" stroke="#1a1a1a" stroke-width="0.3" stroke-opacity="0.45" text-anchor="middle" transform="translate(141.46 826.6) scale(0.68 1)">16</text>
<text font-size="5.5" fill="#1a1a1a" stroke="#1a1a1a" stroke-width="0.3" stroke-opacity="0.45" text-anchor="middle" transform="translate(147.62 826.6) scale(0.68 1)">17</text>
<text font-size="5.5" fill="#1a1a1a" stroke="#1a1a1a" stroke-width="0.3" stroke-opacity="0.45" text-anchor="middle" transform="translate(153.78 826.6) scale(0.68 1)">18</text>
<text font-size="5.5" fill="#1a1a1a" stroke="#1a1a1a" stroke-width="0.3" stroke-opacity="0.45" text-anchor="middle" transform="translate(159.94 826.6) scale(0.68 1)">19</text>
<text font-size="5.5" fill="#1a1a1a" stroke="#1a1a1a" stroke-width="0.3" stroke-opacity="0.45" text-anchor="middle" transform="translate(166.1 826.6) scale(0.68 1)">20</text>
<text font-size="5.5" fill="#1a1a1a" stroke="#1a1a1a" stroke-width="0.3" stroke-opacity="0.45" text-anchor="middle" transform="translate(172.26 826.6) scale(0.68 1)">21</text>
<text font-size="5.5" fill="#1a1a1a" stroke="#1a1a1a" stroke-width="0.3" stroke-opacity="0.45" text-anchor="middle" transform="translate(178.42 826.6) scale(0.68 1)">22</text>
<text font-size="5.5" fill="#1a1a1a" stroke="#1a1a1a" stroke-width="0.3" stroke-opacity="0.45" text-anchor="middle" transform="translate(184.58 826.6) scale(0.68 1)">23</text>
<text font-size="5.5" fill="#1a1a1a" stroke="#1a1a1a" stroke-width="0.3" stroke-opacity="0.45" text-anchor="middle" transform="translate(190.74 826.6) scale(0.68 1)">24</text>
<text font-size="5.5" fill="#1a1a1a" stroke="#1a1a1a" stroke-width="0.3" stroke-opacity="0.45" text-anchor="middle" transform="translate(196.9 826.6) scale(0.68 1)">25</text>
<text font-size="5.5" fill="#1a1a1a" stroke="#1a1a1a" stroke-width="0.3" stroke-opacity="0.45" text-anchor="middle" transform="translate(203.06 826.6) scale(0.68 1)">26</text>
<text font-size="5.5" fill="#1a1a1a" stroke="#1a1a1a" stroke-width="0.3" stroke-opacity="0.45" text-anchor="middle" transform="translate(209.22 826.6) scale(0.68 1)">27</text>
<text font-size="5.5" fill="#1a1a1a" stroke="#1a1a1a" stroke-width="0.3" stroke-opacity="0.45" text-anchor="middle" transform="translate(215.38 826.6) scale(0.68 1)">28</text>
<text font-size="5.5" fill="#1a1a1a" stroke="#1a1a1a" stroke-width="0.3" stroke-opacity="0.45" text-anchor="middle" transform="translate(221.54 826.6) scale(0.68 1)">29</text>
<text font-size="5.5" fill="#1a1a1a" stroke="#1a1a1a" stroke-width="0.3" stroke-opacity="0.45" text-anchor="middle" transform="translate(227.7 826.6) scale(0.68 1)">30</text>
<text font-size="6.2" fill="#1a1a1a" stroke="#1a1a1a" stroke-width="0.3" stroke-opacity="0.45" text-anchor="middle" transform="translate(133 833) scale(0.68 1)">Time(years)</text>
<g stroke-width="2.6" stroke-linecap="round">
<path d="M295.2 576.22h0M295.36 573.16h0M295.52 587.42h0M295.68 573.41h0M295.84 569.8h0M296.16 585.43h0M296.32 572.99h0M296.48 559.16h0M296.81 564.87h0M296.97 578.42h0M297.13 555.82h0M297.29 572.82h0M297.45 547.8h0M297.61 580.64h0M297.77 585.83h0M297.93 506.18h0M298.09 583.54h0M298.25 584.28h0M298.41 583.97h0M298.57 586.31h0M298.73 561.21h0M298.89 577.77h0M299.05 488.9h0M299.21 558.18h0M299.53 550.77h0M299.69 569.65h0M300.01 577.52h0M300.18 570.48h0M300.34 570.28h0M300.5 550.21h0M300.66 577.18h0M300.82 582.59h0M301.14 572.38h0M301.3 570.49h0M301.62 572.11h0M301.78 581.73h0M301.94 584.22h0M302.1 586.66h0M302.26 550.76h0M302.42 586.35h0M302.58 583h0M302.74 580.59h0M302.9 563.3h0M303.06 586.48h0M303.22 570.34h0M303.55 545.46h0M303.71 586.39h0M303.87 579.78h0M304.03 576.05h0M304.19 580.36h0M304.35 583.1h0M304.51 552.08h0M304.67 578.85h0" stroke="#0000ff"/>
<path d="M296 554.91h0M296.64 584.17h0M299.37 585.83h0M299.85 584.45h0M300.98 570.57h0M301.46 585.81h0M303.39 577.54h0" stroke="#ff0000"/>
<path d="M304.83 543.9h0M304.99 571.7h0M305.15 575.64h0M305.31 583.13h0M305.47 572.86h0M305.63 524.36h0M305.79 584.9h0M305.95 570.75h0M306.11 570.53h0M306.27 576.11h0M306.44 584.22h0M306.6 567.01h0M306.76 582.56h0M306.92 558.8h0M307.08 584.39h0M307.4 546.56h0M307.56 586.78h0M307.72 587.34h0M307.88 579.43h0M308.04 573.45h0M308.2 584.15h0M308.36 573.26h0M308.68 571.53h0M309 555.15h0M309.16 584.05h0M309.32 576.36h0M309.48 578.41h0M309.81 575.9h0M309.97 582.02h0M310.13 578.18h0M310.45 576.34h0M310.61 584.61h0M310.77 547.31h0M310.93 571.48h0M311.09 545.64h0M311.25 546.51h0M311.41 576.6h0M311.57 554.1h0M311.73 556.99h0M311.89 581.86h0M312.05 547.92h0M312.21 584.32h0M312.37 561.54h0M312.69 585.58h0M312.86 582.27h0M313.02 576.12h0M313.18 553.99h0M313.34 578.8h0M313.5 586.85h0M313.66 580.02h0M313.82 510.6h0M313.98 577.17h0M314.14 517.29h0M314.3 549.76h0" stroke="#0000ff"/>
<path d="M307.24 570.45h0M308.52 547.9h0M308.84 566.09h0M309.64 586.44h0M310.29 565.43h0M312.53 577.19h0" stroke="#ff0000"/>
<path d="M314.46 572.83h0M314.62 576.34h0M314.78 579.87h0M314.94 573.42h0M315.1 578.46h0M315.26 584.89h0M315.42 582.24h0M315.58 574.84h0M315.74 575.97h0M315.9 586.45h0M316.06 571.87h0M316.23 576.94h0M316.39 583.69h0M316.55 581.34h0M316.71 578.37h0M316.87 570.5h0M317.03 577.08h0M317.19 584.55h0M317.51 576.42h0M317.67 578.01h0M317.83 583.88h0M317.99 583.18h0M318.15 577.26h0M318.31 587.32h0M318.47 583.86h0M318.63 571.68h0M318.79 571.06h0M318.95 529.32h0M319.11 581.44h0M319.44 581.72h0M319.6 567.11h0M319.76 579.63h0M319.92 583.17h0M320.08 577.62h0M320.24 582.08h0M320.4 583.17h0M320.56 572.09h0M320.72 575.95h0M320.88 557.19h0M321.04 572.73h0M321.2 571.68h0M321.36 573.79h0M321.52 527.15h0M321.68 512.43h0M321.84 542.17h0M322 582.75h0M322.16 573.48h0M322.32 549.48h0M322.49 578.37h0M322.65 575.71h0M323.13 578.43h0M323.29 580.15h0M323.45 567.99h0M323.61 577.56h0M323.77 575.04h0M323.93 570.88h0" stroke="#0000ff"/>
<path d="M317.35 583.66h0M319.27 573.28h0M322.81 585.05h0M322.97 573.95h0" stroke="#ff0000"/>
<path d="M324.09 584.66h0M324.25 584.52h0M324.41 573.24h0M324.57 572.42h0M324.73 573.99h0M324.89 562.95h0M325.05 573.45h0M325.21 551.94h0M325.37 579.8h0M325.53 521.49h0M325.69 558.96h0M325.86 566.13h0M326.02 527.12h0M326.18 578.85h0M326.34 585.34h0M326.5 570.21h0M326.82 545.76h0M326.98 576.73h0M327.14 584.17h0M327.46 566.85h0M327.62 581.23h0M327.78 586.57h0M327.94 581.42h0M328.1 553.8h0M328.26 553.07h0M328.42 578.01h0M328.58 584.8h0M328.74 534.56h0M328.9 582.77h0M329.07 583.07h0M329.23 554.19h0M329.39 570.32h0M329.55 578.43h0M329.71 529.21h0M329.87 575.36h0M330.19 583.99h0M330.35 490.01h0M330.51 558.16h0M330.67 569.46h0M330.99 585.11h0M331.15 583.46h0M331.31 574.7h0M331.47 578.89h0M331.63 555.3h0M331.95 577.09h0M332.12 570.41h0M332.28 578.37h0M332.44 585.44h0M332.6 573.38h0M332.76 580.35h0M332.92 534.64h0M333.08 581.82h0M333.24 573.02h0M333.4 550.05h0M333.56 573.4h0" stroke="#0000ff"/>
<path d="M326.66 576.31h0M327.3 565.13h0M330.03 579.83h0M330.83 579.9h0M331.79 582.78h0" stroke="#ff0000"/>
<path d="M333.72 582.66h0M333.88 571.1h0M334.04 570.71h0M334.2 573.51h0M334.36 570.43h0M334.52 571.39h0M334.68 570.24h0M334.84 573.61h0M335 585.44h0M335.16 582.28h0M335.32 551.34h0M335.49 560.58h0M335.65 535.29h0M335.81 583.82h0M335.97 569.68h0M336.13 577.42h0M336.29 577.15h0M336.45 490.37h0M336.61 564.63h0M336.77 580.85h0M336.93 577.92h0M337.09 534.06h0M337.25 574.89h0M337.57 563h0M337.89 583.54h0M338.05 545.42h0M338.21 573.41h0M338.37 583.03h0M338.53 585.01h0M338.7 579.02h0M338.86 585.81h0M339.02 571.21h0M339.18 576.07h0M339.34 581.05h0M339.5 548.69h0M339.66 567.61h0M339.82 584.45h0M339.98 585.62h0M340.14 571.94h0M340.3 577.24h0M340.62 573.31h0M340.78 578.17h0M340.94 576.03h0M341.26 577.56h0M341.75 581.37h0M341.91 575.16h0M342.07 557.62h0M342.23 552.14h0M342.39 586.13h0M342.55 550.95h0M342.71 582.69h0M342.87 577.36h0M343.03 580.85h0" stroke="#0000ff"/>
<path d="M337.41 576.34h0M337.73 584.48h0M340.46 584.73h0M341.1 557.48h0M341.42 584.6h0M341.58 575.54h0M343.19 555.32h0" stroke="#ff0000"/>
<path d="M343.35 582.11h0M343.51 566.62h0M343.67 575.16h0M343.83 580.43h0M343.99 586.08h0M344.15 585.11h0M344.31 565.84h0M344.47 545.06h0M344.63 573.64h0M344.79 569.94h0M344.95 581.15h0M345.12 577.57h0M345.28 579.78h0M345.44 581.02h0M345.6 573.24h0M345.76 585.88h0M345.92 573.98h0M346.08 561.4h0M346.24 579.81h0M346.4 553.78h0M346.56 585.65h0M346.72 585.18h0M346.88 585.36h0M347.04 570.17h0M347.2 580.87h0M347.36 569.15h0M347.52 581.73h0M347.68 579.77h0M347.84 575.89h0M348 576.54h0M348.16 579.43h0M348.33 582.97h0M348.49 577.81h0M348.65 583.87h0M348.81 587.41h0M348.97 579.23h0M349.13 557.17h0M349.29 567.75h0M349.45 555.13h0M349.61 570.73h0M349.77 545.42h0M349.93 584.97h0M350.09 583h0M350.25 579.21h0M350.41 537.86h0M350.73 583.32h0M350.89 581.11h0M351.05 581.49h0M351.21 577.19h0M351.38 586.17h0M351.54 539.59h0M351.7 570.11h0M351.86 584.67h0M352.18 546.99h0M352.34 578.14h0M352.5 578.35h0M352.82 587.14h0" stroke="#0000ff"/>
<path d="M350.57 582.52h0M352.02 571.01h0M352.66 586.31h0" stroke="#ff0000"/>
<path d="M352.98 582.08h0M353.14 560.43h0M353.3 566.93h0M353.46 578.03h0M353.62 581.21h0M353.78 580.01h0M353.94 585h0M354.1 585.16h0M354.26 583.35h0M354.42 543.53h0M354.58 536.24h0M354.75 587.47h0M354.91 568h0M355.07 578.24h0M355.23 583.41h0M355.39 584.62h0M355.55 583.65h0M355.71 545.88h0M355.87 547.61h0M356.03 581.4h0M356.19 578.44h0M356.35 585.96h0M356.51 573.41h0M356.67 546.9h0M356.83 579.37h0M357.15 570.43h0M357.31 582.71h0M357.47 549.48h0M357.63 582.94h0M357.79 547.94h0M357.96 585.63h0M358.12 587.05h0M358.28 521.98h0M358.44 581.16h0M358.76 586.88h0M359.24 568.33h0M359.4 565.77h0M359.56 556.25h0M359.72 579.19h0M360.04 539.54h0M360.2 559.89h0M360.36 574.6h0M360.52 583.85h0M360.68 586.22h0M360.84 554.6h0M361 525.31h0M361.17 576.61h0M361.33 570.74h0M361.49 545.88h0M361.65 570.55h0M361.97 577.23h0M362.13 567.02h0M362.29 561.22h0M362.45 570.96h0" stroke="#0000ff"/>
<path d="M356.99 570.49h0M358.6 585.81h0M358.92 579.47h0M359.08 586.17h0M359.88 578.57h0M361.81 574.85h0" stroke="#ff0000"/>
<path d="M362.61 587.27h0M362.77 583.6h0M362.93 585.65h0M363.09 559.39h0M363.25 579.55h0M363.41 572.59h0M363.57 561.66h0M363.73 547.16h0M363.89 585.18h0M364.05 566.03h0M364.21 578.96h0M364.38 585.45h0M364.54 577.36h0M364.7 573.58h0M364.86 580.57h0M365.02 579.17h0M365.18 570.55h0M365.34 574.5h0M365.66 555.94h0M365.82 579.62h0M365.98 572.2h0M366.14 580.27h0M366.3 581.63h0M366.46 551.89h0M366.62 581.65h0M366.78 575.79h0M366.94 551.26h0M367.26 571.07h0M367.43 550.69h0M367.59 584.64h0M367.75 578.28h0M367.91 579.37h0M368.07 574.79h0M368.39 581.5h0M368.55 584.51h0M368.71 498.54h0M368.87 577.94h0M369.03 558.49h0M369.19 581.69h0M369.35 582.97h0M369.51 577.74h0M369.67 584.96h0M369.83 572.79h0M369.99 517.07h0M370.15 582.41h0M370.31 579.85h0M370.47 557.23h0M370.8 576.26h0M370.96 576.83h0M371.12 577.32h0M371.28 557.44h0M371.44 584.37h0M371.6 580.52h0M371.76 576.6h0M371.92 555.4h0M372.08 583.39h0" stroke="#0000ff"/>
<path d="M365.5 555.49h0M367.1 558.62h0M368.23 557.92h0M370.63 565.32h0" stroke="#ff0000"/>
<path d="M372.4 531.1h0M372.56 583.93h0M373.04 576.99h0M373.2 571.67h0M373.36 583.74h0M373.52 576.02h0M373.68 580.54h0M373.84 585.56h0M374.01 553.66h0M374.17 574.16h0M374.33 552.82h0M374.49 575.29h0M374.81 580.7h0M374.97 577.49h0M375.13 550.25h0M375.29 573.82h0M375.45 568.22h0M375.61 580.15h0M375.77 570.34h0M375.93 566.87h0M376.09 571.8h0M376.25 576.7h0M376.41 585.72h0M376.57 575.2h0M376.73 579.27h0M376.89 586.23h0M377.06 586.02h0M377.22 551.58h0M377.38 519.91h0M377.54 578.9h0M377.7 584.9h0M377.86 586.66h0M378.02 580.07h0M378.18 579.86h0M378.34 555.33h0M378.5 578.21h0M378.66 585.74h0M378.82 577.5h0M378.98 573.79h0M379.14 577.98h0M379.46 576.84h0M379.62 586.14h0M379.94 580.09h0M380.1 585.17h0M380.43 580.56h0M380.75 568.03h0M380.91 547.95h0M381.07 536.96h0M381.39 583.59h0M381.71 548.94h0" stroke="#0000ff"/>
<path d="M372.24 570h0M372.72 586.46h0M372.88 575.99h0M374.65 584.17h0M379.3 586.91h0M379.78 545.01h0M380.26 577.67h0M380.59 573.05h0M381.23 567.06h0M381.55 583.89h0" stroke="#ff0000"/>
<path d="M381.87 581.98h0M382.03 583.64h0M382.19 532.46h0M382.35 568.93h0M382.51 579.83h0M382.67 580.4h0M382.83 573.24h0M382.99 569.86h0M383.15 582.34h0M383.31 573.33h0M383.48 546.6h0M383.64 552.9h0M383.8 581.77h0M383.96 585.12h0M384.12 581.5h0M384.44 575.74h0M384.6 559.67h0M384.76 557.81h0M384.92 563.67h0M385.08 586.56h0M385.24 548.38h0M385.4 586.21h0M385.56 576.61h0M385.72 574.46h0M385.88 569.95h0M386.04 581.23h0M386.2 556.51h0M386.36 580.89h0M386.69 575.76h0M387.01 586.05h0M387.17 579.62h0M387.33 571.59h0M387.49 543.96h0M387.65 539.31h0M387.81 579.83h0M387.97 571h0M388.13 580.29h0M388.29 545.29h0M388.45 575.77h0M388.61 550h0M388.77 584.23h0M388.93 558.08h0M389.25 565.34h0M389.41 576.15h0M389.57 578.97h0M389.73 563.42h0M389.89 573.9h0M390.06 576.72h0M390.54 553.07h0M390.7 572.02h0M390.86 572.68h0M391.18 573.73h0M391.34 576.76h0" stroke="#0000ff"/>
<path d="M384.28 576.44h0M386.52 582.52h0M386.85 574.85h0M389.09 586.28h0M390.22 582.97h0M390.38 580.28h0M391.02 580.69h0" stroke="#ff0000"/>
<path d="M391.5 577h0M391.66 577.61h0M391.82 570.36h0M391.98 574h0M392.14 574.4h0M392.3 558.62h0M392.46 585.9h0M392.62 585.86h0M392.78 546.71h0M392.94 576.82h0M393.27 581.68h0M393.43 585.78h0M393.59 583.62h0M393.91 580.73h0M394.07 572.72h0M394.39 559.57h0M394.55 578.3h0M394.71 586.79h0M394.87 568.71h0M395.03 579.73h0M395.19 551.19h0M395.35 577.79h0M395.51 579.47h0M395.67 557.48h0M395.83 564.3h0M395.99 582.07h0M396.15 577.4h0M396.31 579.46h0M396.48 583.82h0M396.96 583.55h0M397.28 584.4h0M397.44 572.06h0M397.92 574.46h0M398.08 579.34h0M398.24 564.54h0M398.4 545.69h0M398.56 579.77h0M398.88 583.97h0M399.04 571.64h0M399.2 580.61h0M399.36 581.67h0M399.52 527.31h0M399.85 580.88h0M400.01 490.39h0M400.17 561.05h0M400.49 586.41h0M400.65 573.61h0M400.81 581h0M400.97 573.66h0" stroke="#0000ff"/>
<path d="M393.11 581.87h0M393.75 572.31h0M394.23 551.36h0M396.64 585h0M396.8 573.29h0M397.12 584.72h0M397.6 571.41h0M397.76 581.87h0M398.72 581.77h0M399.69 578.9h0M400.33 575.53h0" stroke="#ff0000"/>
<path d="M401.13 581.25h0M401.29 544.91h0M401.45 579.23h0M401.61 585.24h0M401.77 580.8h0M401.93 583.16h0M402.25 581.33h0M402.41 547.83h0M402.57 585.86h0M402.74 537.3h0M403.06 570.46h0M403.38 582.3h0M403.54 583.51h0M403.7 563.76h0M403.86 579.33h0M404.18 558.91h0M404.34 578.32h0M404.5 548.45h0M405.14 555.03h0M405.3 585h0M405.62 584.54h0M405.94 585.71h0M406.11 572.1h0M406.27 586.95h0M406.43 547.97h0M406.59 569.89h0M406.91 576.46h0M407.07 579.77h0M407.55 581.13h0M407.87 573.74h0M408.03 580.69h0M408.19 571.4h0M408.35 580.93h0M408.51 575.59h0M408.67 556.48h0M408.83 580.07h0M408.99 576.27h0M409.32 571.42h0M409.48 554.18h0M409.64 582.66h0M409.8 571.45h0M409.96 549.39h0M410.28 581.6h0M410.44 583.77h0M410.6 559.28h0" stroke="#0000ff"/>
<path d="M402.09 571.65h0M402.9 573.85h0M403.22 569.91h0M404.02 571.64h0M404.66 581.51h0M404.82 587.11h0M404.98 553.11h0M405.46 579.74h0M405.78 581.78h0M406.75 585.03h0M407.23 583.84h0M407.39 581.61h0M407.71 547.66h0M409.15 558.83h0M410.12 586.34h0" stroke="#ff0000"/>
<path d="M410.76 526.78h0M410.92 546.8h0M411.24 535.88h0M411.4 585.05h0M411.56 579.93h0M411.72 551.09h0M412.04 559.62h0M412.37 585.52h0M412.69 582.49h0M412.85 571.21h0M413.01 559.49h0M413.17 565.61h0M413.33 581.99h0M413.49 577.26h0M413.65 585.26h0M413.81 571.57h0M413.97 580.39h0M414.13 571.58h0M414.29 548.93h0M414.45 578.06h0M414.61 577.04h0M415.09 563.63h0M415.25 571.47h0M415.41 586.73h0M415.57 574.22h0M415.74 566.35h0M416.06 585.3h0M416.22 552.67h0M416.54 584.17h0M416.7 586.57h0M416.86 548.74h0M417.02 560.8h0M417.18 576.12h0M417.34 586.78h0M417.5 556.39h0M417.66 584.91h0M417.82 583.46h0M417.98 578.91h0M418.14 567.32h0M418.3 575.56h0M418.46 515.08h0M418.62 557.12h0M418.95 576.1h0M419.11 574.18h0M419.27 585.04h0M419.59 548.76h0M419.75 582.95h0M419.91 585h0M420.23 586.91h0" stroke="#0000ff"/>
<path d="M411.08 575.72h0M411.88 561.24h0M412.2 577.09h0M412.53 565.38h0M414.77 556.49h0M414.93 583.75h0M415.9 586.8h0M416.38 581.96h0M418.78 580.47h0M419.43 585.72h0M420.07 560.29h0" stroke="#ff0000"/>
<path d="M420.39 570.06h0M420.87 581.79h0M421.19 580.51h0M421.35 587.09h0M421.51 554.85h0M422 587.03h0M422.16 582h0M422.64 547.9h0M422.96 586.56h0M423.12 584.19h0M423.44 570.49h0M423.6 549.58h0M423.92 576.68h0M424.24 572.18h0M424.56 586.33h0M424.72 568.55h0M424.88 576.9h0M425.04 526.64h0M425.37 570.95h0M425.53 533.67h0M425.69 565.13h0M425.85 568.61h0M426.01 573.58h0M426.17 580.95h0M426.33 577.07h0M426.49 582.56h0M426.65 569.99h0M426.81 577.39h0M426.97 572.09h0M427.13 583.18h0M427.29 570.34h0M427.45 573.28h0M427.61 558.78h0M427.93 565.52h0M428.09 573.5h0M428.25 578.77h0M428.41 587.05h0M428.58 550.32h0M428.74 579.84h0M428.9 576.14h0M429.06 570.43h0M429.22 574.54h0M429.38 574.82h0M429.54 577.3h0M429.7 585.28h0M429.86 574.22h0" stroke="#0000ff"/>
<path d="M420.55 553.96h0M420.71 584.15h0M421.03 581.29h0M421.67 580.19h0M421.83 570.81h0M422.32 565.37h0M422.48 585.38h0M422.8 563.45h0M423.28 576.09h0M423.76 573.44h0M424.08 573.77h0M424.4 561.74h0M425.2 578.84h0M427.77 570.56h0" stroke="#ff0000"/>
<path d="M430.02 574.45h0M430.34 578.67h0M430.5 572.29h0M430.66 576.77h0M430.82 549.11h0M430.98 559.21h0M431.14 586.16h0M431.62 574.59h0M431.79 587.22h0M432.27 583.59h0M432.43 573.01h0M432.59 575.43h0M432.75 583.09h0M432.91 538.66h0M433.07 550.27h0M433.23 585.14h0M433.39 578.64h0M433.55 560.12h0M433.87 581.31h0M434.03 558.46h0M434.19 535.14h0M434.51 573.87h0M434.67 582.57h0M434.83 581.2h0M435 568.2h0M435.16 579.5h0M435.32 577.52h0M435.48 583.81h0M435.64 547.04h0M435.8 578.03h0M436.12 587.39h0M436.28 557.49h0M436.44 585.06h0M436.92 568.17h0M437.08 580.54h0M437.24 577.61h0M437.4 579.82h0M437.56 577.84h0M437.72 545.61h0M437.88 586.56h0M438.04 587.17h0M438.53 574.88h0M438.69 586.8h0M438.85 575.49h0M439.01 577.67h0M439.33 571.2h0M439.49 578.13h0" stroke="#0000ff"/>
<path d="M430.18 579.41h0M431.3 579.88h0M431.46 579.8h0M431.95 571.62h0M432.11 570.36h0M433.71 579.92h0M434.35 582.72h0M435.96 574.53h0M436.6 571.14h0M436.76 578.01h0M438.21 547.09h0M438.37 578.02h0M439.17 581.44h0" stroke="#ff0000"/>
<path d="M439.97 574.26h0M440.13 580.99h0M440.29 582.89h0M440.45 585.78h0M440.61 573.29h0M441.09 529.75h0M441.25 586.93h0M441.58 572.18h0M442.06 579.17h0M442.22 582.6h0M442.54 545.21h0M442.7 575.31h0M442.86 570.28h0M443.18 580.48h0M443.34 587.14h0M443.5 561.29h0M443.82 563.53h0M444.14 586.05h0M444.47 573.22h0M444.63 571.91h0M444.95 585.03h0M445.11 567.24h0M445.43 585.05h0M445.75 585.22h0M446.07 582.44h0M446.23 574.36h0M446.39 583.07h0M446.71 577.11h0M447.03 586.13h0M447.19 576.9h0M447.35 581.71h0M447.51 578.36h0M447.67 573.15h0M447.84 561.08h0M448 574.54h0M448.16 581.44h0M448.48 567.21h0M448.8 575.62h0M449.12 574.34h0" stroke="#0000ff"/>
<path d="M439.65 564.45h0M439.81 586.68h0M440.77 586.94h0M440.93 552.31h0M441.42 524.8h0M441.74 528.58h0M441.9 584.43h0M442.38 582.71h0M443.02 547.77h0M443.66 568.52h0M443.98 583.6h0M444.3 545.48h0M444.79 576.15h0M445.27 575.45h0M445.59 582.76h0M445.91 560.65h0M446.55 571.3h0M446.87 558.98h0M448.32 581.6h0M448.64 580h0M448.96 582.51h0" stroke="#ff0000"/>
<path d="M449.28 586.42h0M449.44 553.89h0M449.6 581.39h0M449.92 569.06h0M450.08 558.09h0M450.24 575.1h0M450.4 571.1h0M450.56 574.97h0M450.72 583.65h0M450.88 565.61h0M451.21 558.79h0M452.01 539.09h0M452.33 571.46h0M452.49 564.17h0M452.65 575.24h0M452.81 574.25h0M452.97 583.96h0M453.45 582.71h0M454.58 570.58h0M454.74 570.58h0M454.9 585.31h0M455.06 583.32h0M455.7 516.65h0M456.02 566.11h0M456.18 569.47h0M456.34 568.44h0M456.5 571.13h0M456.98 565.63h0" stroke="#0000ff"/>
<path d="M449.76 570.82h0M451.05 571.92h0M451.37 560.06h0M451.53 585.65h0M451.69 574.87h0M451.85 580.9h0M452.17 575.03h0M453.13 584.44h0M453.29 583.3h0M453.61 580.15h0M453.77 584.12h0M453.93 586.62h0M454.1 580.51h0M454.26 560.53h0M454.42 586.6h0M455.22 564.59h0M455.38 562.83h0M455.54 580.57h0M455.86 587.19h0M456.66 549.24h0M456.82 585.24h0M457.14 585.75h0" stroke="#ff0000"/>
</g>
<line x1="376.8" y1="483.4" x2="376.8" y2="591.6" stroke="#999" stroke-width="0.6" stroke-dasharray="0.8,0.8"/>
<rect x="289.2" y="483.6" width="175.3" height="107.9" fill="none" stroke="#555" stroke-width="0.8"/>
<path d="M289.2 587.9h-2.5M289.2 566.8h-2.5M289.2 545.7h-2.5M289.2 524.6h-2.5M289.2 503.5h-2.5M295.2 591.5v2.5M327.3 591.5v2.5M359.4 591.5v2.5M391.5 591.5v2.5M423.6 591.5v2.5M455.7 591.5v2.5" stroke="#555" stroke-width="0.6"/>
<g font-size="4.0" fill="#333" text-anchor="middle">
<text x="282.6" y="587.9" transform="rotate(-90 282.6 587.9)">0</text>
<text x="282.6" y="566.8" transform="rotate(-90 282.6 566.8)">5</text>
<text x="282.6" y="545.7" transform="rotate(-90 282.6 545.7)">10</text>
<text x="282.6" y="524.6" transform="rotate(-90 282.6 524.6)">15</text>
<text x="282.6" y="503.5" transform="rotate(-90 282.6 503.5)">20</text>
<text x="295.2" y="601">0</text>
<text x="327.3" y="601">200</text>
<text x="359.4" y="601">400</text>
<text x="391.5" y="601">600</text>
<text x="423.6" y="601">800</text>
<text x="455.7" y="601">1000</text>
</g>
<text x="271.4" y="537" text-anchor="middle" fill="#222" font-size="4.3" transform="rotate(-90 271.4 537)">Survival time (years)</text>
<text x="376.5" y="611.6" text-anchor="middle" fill="#222" font-size="4.3">Patients (increasing risk score)</text>
<path d="M293.6 490.1h0" stroke="#ff0000" stroke-width="2.8" stroke-linecap="round"/><path d="M293.6 496.3h0" stroke="#0000ff" stroke-width="2.8" stroke-linecap="round"/>
<text x="298" y="491.9" fill="#222" font-size="5">Dead</text>
<text x="298" y="498.1" fill="#222" font-size="5">Alive</text>
<g stroke-width="2.5" stroke-linecap="round">
<path d="M294.4 748.07h0M294.48 746.58h0M294.65 757.85h0M294.73 762.27h0M294.97 763.72h0M295.06 753.89h0M295.14 794.41h0M295.22 779.87h0M295.63 739.33h0M296.04 736.46h0M296.21 787.65h0M296.37 728.59h0M296.7 776.29h0M296.86 735.1h0M297.11 722.72h0M297.19 734.61h0M297.27 739.09h0M297.36 731.52h0M297.52 751.78h0M297.6 790.46h0M297.68 768.51h0M297.77 720.49h0M298.18 735.38h0M298.26 722.58h0" stroke="#0000ff"/>
<path d="M294.56 781.91h0M294.81 773.2h0M294.89 792.08h0M295.3 786.72h0M295.39 775.37h0M295.47 772.97h0M295.55 792.8h0M295.71 791.64h0M295.8 791.7h0M295.88 781.43h0M295.96 760.13h0M296.12 781.76h0M296.29 779.94h0M296.45 781.35h0M296.53 793.47h0M296.62 760.94h0M296.78 718.69h0M296.95 790.56h0M297.03 774.35h0M297.44 778.77h0M297.85 768.13h0M297.93 734.28h0M298.01 795.45h0M298.09 778.76h0M298.34 794.83h0M298.42 749.1h0" stroke="#ff0000"/>
<path d="M298.83 754.71h0M299.08 772.81h0M299.33 791.33h0M299.41 787.19h0M299.49 723.46h0M299.65 756.9h0M299.9 763.42h0M299.98 740.63h0M300.15 714.32h0M300.64 726.4h0M300.72 770.08h0M300.89 736.06h0M301.13 726.56h0M301.21 772.95h0M301.3 733.29h0M301.54 729.95h0M301.79 746.72h0M302.2 727.53h0M302.45 740.01h0" stroke="#0000ff"/>
<path d="M298.5 786.18h0M298.59 761.92h0M298.67 790.03h0M298.75 783.74h0M298.92 778.24h0M299 786.04h0M299.16 782.71h0M299.24 741.04h0M299.57 792.93h0M299.74 729.54h0M299.82 781.76h0M300.06 778.26h0M300.23 788.59h0M300.31 789.57h0M300.39 784.66h0M300.48 783.44h0M300.56 792.05h0M300.8 755.76h0M300.97 757.61h0M301.05 754.8h0M301.38 735h0M301.46 733.57h0M301.62 787.02h0M301.71 754.53h0M301.87 771.14h0M301.95 774.11h0M302.04 727.71h0M302.12 791.33h0M302.28 769.05h0M302.36 791.34h0M302.53 721.04h0" stroke="#ff0000"/>
<path d="M303.1 730.21h0M303.6 720.99h0M303.84 726.74h0M303.92 765.7h0M304.01 749.67h0M304.09 724.93h0M304.17 739.86h0M304.25 768.34h0M304.33 727.98h0M304.5 728.3h0M304.58 738.59h0M304.91 738.52h0M305.24 720.87h0M305.32 736.62h0M305.4 753.65h0M305.57 768.37h0M305.73 795.38h0M305.89 781.69h0M305.98 719.84h0M306.14 737.02h0M306.22 720.08h0M306.3 725.89h0" stroke="#0000ff"/>
<path d="M302.61 770.74h0M302.69 715.5h0M302.77 771.98h0M302.86 773.55h0M302.94 772.41h0M303.02 780.15h0M303.18 764.82h0M303.27 774.13h0M303.35 780.88h0M303.43 795.18h0M303.51 786.05h0M303.68 724.66h0M303.76 789.78h0M304.42 758.25h0M304.66 785.52h0M304.74 732.9h0M304.83 792.55h0M304.99 768.77h0M305.07 795.92h0M305.16 746.24h0M305.48 783.32h0M305.65 787.44h0M305.81 794.06h0M306.06 789.98h0M306.39 770.24h0M306.47 786.97h0M306.55 780.45h0M306.63 772.57h0" stroke="#ff0000"/>
<path d="M306.96 745.99h0M307.13 770.59h0M307.21 723.8h0M307.45 782.78h0M307.62 737.31h0M307.78 729.08h0M307.95 723.47h0M308.03 712.38h0M308.11 776.5h0M308.19 786.05h0M308.36 751.67h0M308.44 781.8h0M308.6 761.21h0M308.85 727.06h0M309.01 737.05h0M309.1 740.34h0M309.18 765.87h0M309.34 727.58h0M309.42 715.67h0M309.51 768.57h0M309.75 732.48h0M309.92 713.53h0M310.25 722.97h0M310.33 730.28h0M310.57 748.42h0M310.74 723.52h0" stroke="#0000ff"/>
<path d="M306.71 724.25h0M306.8 789.76h0M306.88 776.98h0M307.04 751.78h0M307.29 781.96h0M307.37 728.58h0M307.54 732.57h0M307.7 723.14h0M307.86 775.41h0M308.27 759.67h0M308.52 782.92h0M308.69 795.96h0M308.77 770.35h0M308.93 794.16h0M309.26 782.32h0M309.59 769.37h0M309.67 793.51h0M309.83 774.96h0M310 794.03h0M310.08 788.12h0M310.16 772.51h0M310.41 786.06h0M310.49 767.18h0M310.66 740.25h0" stroke="#ff0000"/>
<path d="M310.82 724.85h0M310.9 750.38h0M310.98 743.04h0M311.15 732.81h0M311.48 726.96h0M311.72 777.97h0M311.81 748.32h0M311.97 756.18h0M312.13 782.83h0M312.22 723.61h0M312.3 788.46h0M312.38 792.86h0M312.63 774.22h0M312.79 725.41h0M312.87 789.45h0M312.95 775.96h0M313.04 740.85h0M313.12 722.21h0M313.45 725.62h0M313.53 723.18h0M313.61 773.11h0M313.94 733.4h0M314.19 734.96h0M314.51 765.04h0M314.68 748.23h0M314.76 768.69h0M314.84 751.3h0" stroke="#0000ff"/>
<path d="M311.07 726.98h0M311.23 774.99h0M311.31 764.65h0M311.39 779.21h0M311.56 773.02h0M311.64 767.13h0M311.89 772.49h0M312.05 794.16h0M312.46 746.48h0M312.54 760.75h0M312.71 767.28h0M313.2 781.53h0M313.28 784.76h0M313.37 739.07h0M313.69 775.9h0M313.78 793.16h0M313.86 779.61h0M314.02 730.11h0M314.1 751.31h0M314.27 732.85h0M314.35 756.27h0M314.43 754.98h0M314.6 714.42h0" stroke="#ff0000"/>
<path d="M315.09 775.89h0M315.25 746.61h0M315.34 752.51h0M315.42 725.92h0M315.58 746.81h0M315.75 760.88h0M315.83 713.94h0M315.91 734.51h0M316.07 735.45h0M316.32 754.68h0M316.48 745.17h0M316.57 755.06h0M316.65 775.88h0M316.81 784.5h0M316.98 774.84h0M317.06 789.73h0M317.14 759.89h0M317.22 731.41h0M317.63 702.1h0M318.04 761.57h0M318.21 737.83h0M318.46 758.1h0M318.54 765.71h0" stroke="#0000ff"/>
<path d="M314.92 716.9h0M315.01 765.48h0M315.17 754.71h0M315.5 771.23h0M315.66 787.26h0M315.99 777.18h0M316.16 775.25h0M316.24 796.01h0M316.4 748h0M316.73 787.88h0M316.9 794.64h0M317.31 770.85h0M317.39 780.98h0M317.47 739.2h0M317.55 748.2h0M317.72 747.73h0M317.8 757.61h0M317.88 791.6h0M317.96 775.91h0M318.13 751.48h0M318.29 791.85h0M318.37 772.55h0M318.62 779.41h0M318.7 766.91h0M318.78 779.63h0M318.87 771.32h0M318.95 765.03h0" stroke="#ff0000"/>
<path d="M319.19 748.67h0M319.44 723.56h0M319.93 789.3h0M320.18 779.97h0M320.26 760.71h0M320.43 743.59h0M320.92 794.17h0M321.08 758.62h0M321.25 715.64h0M321.33 763.01h0M321.58 735.67h0M321.74 757.05h0M321.99 720.78h0M322.31 747.47h0M322.4 755.29h0M322.56 752.46h0M322.64 721.2h0M322.81 744.11h0M322.89 771.88h0M322.97 716.13h0" stroke="#0000ff"/>
<path d="M319.03 743.51h0M319.11 795.03h0M319.28 784.01h0M319.36 794.02h0M319.52 788.66h0M319.6 788.34h0M319.69 736.7h0M319.77 744.42h0M319.85 744.62h0M320.02 778.59h0M320.1 735.59h0M320.34 794.93h0M320.51 725.92h0M320.59 731.58h0M320.67 792.7h0M320.75 746.31h0M320.84 756.01h0M321 746.19h0M321.16 781.87h0M321.41 773.82h0M321.49 794.57h0M321.66 773.87h0M321.82 768.43h0M321.9 794.9h0M322.07 789.92h0M322.15 759.39h0M322.23 770h0M322.48 778.73h0M322.72 783.18h0M323.05 761.17h0" stroke="#ff0000"/>
<path d="M323.13 722.25h0M323.22 715.26h0M323.38 747.78h0M323.55 734.75h0M323.63 777.11h0M323.71 723.53h0M323.87 762.32h0M324.04 729.93h0M324.12 760.68h0M324.37 748.45h0M324.45 738.65h0M324.69 725.37h0M324.94 740.06h0M325.02 777.5h0M325.19 736.79h0M325.27 725.5h0M325.52 774.96h0M326.42 724.4h0M326.75 725.68h0M326.83 730.17h0M326.91 796h0M327.08 740.36h0M327.16 773.52h0" stroke="#0000ff"/>
<path d="M323.3 763.45h0M323.46 770.05h0M323.79 784.14h0M323.96 756.08h0M324.2 720.75h0M324.28 730.84h0M324.53 729.86h0M324.61 764.88h0M324.78 775.43h0M324.86 769.98h0M325.11 762.5h0M325.35 768.12h0M325.43 780.42h0M325.6 784.8h0M325.68 749.05h0M325.76 785.66h0M325.84 763.15h0M325.93 784.76h0M326.01 780.66h0M326.09 763.78h0M326.17 789.2h0M326.25 753.33h0M326.34 785.16h0M326.5 758.25h0M326.58 766.4h0M326.67 737.2h0M326.99 771.8h0" stroke="#ff0000"/>
<path d="M327.49 724.92h0M327.57 720.84h0M327.9 720.72h0M327.98 733.11h0M328.23 736.43h0M328.39 731.22h0M328.47 756.22h0M328.64 748.83h0M329.13 772.61h0M329.21 777.8h0M329.29 776.84h0M329.54 761.8h0M329.7 725.04h0M329.87 778.96h0M329.95 721.87h0M330.11 761.76h0M330.28 729.67h0M330.36 728.49h0M330.44 723.61h0M330.52 720.58h0M330.61 731.48h0M331.02 793.3h0M331.1 729.98h0M331.26 726.7h0" stroke="#0000ff"/>
<path d="M327.24 777.72h0M327.32 774.22h0M327.4 767.51h0M327.65 708.88h0M327.73 791.15h0M327.81 789.52h0M328.06 794.99h0M328.14 768.87h0M328.31 784.71h0M328.55 758.08h0M328.72 769.86h0M328.8 719.72h0M328.88 786.18h0M328.96 741.1h0M329.05 784.48h0M329.37 775.56h0M329.46 792.82h0M329.62 774.31h0M329.79 794.01h0M330.03 771.27h0M330.2 785.4h0M330.69 775.72h0M330.77 766.5h0M330.85 712.39h0M330.93 738.21h0M331.18 755.62h0" stroke="#ff0000"/>
<path d="M331.43 753.01h0M331.76 722.1h0M331.84 766.38h0M332.66 785.59h0M332.82 733.12h0M333.4 746.84h0M333.48 729.24h0M333.56 748.75h0M333.89 728.29h0M333.97 721.53h0M334.14 768.33h0M334.22 753.88h0M334.3 790.37h0M334.38 737.69h0M334.55 756.56h0M334.71 747.81h0M334.88 767.26h0M335.2 727.69h0" stroke="#0000ff"/>
<path d="M331.34 778.98h0M331.51 741.78h0M331.59 759.92h0M331.67 711.85h0M331.92 777.57h0M332 753.88h0M332.08 756.01h0M332.17 786.69h0M332.25 791.82h0M332.33 756.29h0M332.41 770.26h0M332.49 766.72h0M332.58 795.54h0M332.74 785.89h0M332.9 736.99h0M332.99 732.96h0M333.07 769.31h0M333.15 788.1h0M333.23 748.23h0M333.32 780.16h0M333.64 788.67h0M333.73 765.66h0M333.81 776.5h0M334.05 794.42h0M334.46 777.99h0M334.63 743.1h0M334.79 762.9h0M334.96 784.98h0M335.04 736.02h0M335.12 761.54h0M335.29 772.2h0M335.37 780.5h0" stroke="#ff0000"/>
<path d="M335.45 785.7h0M335.61 767.34h0M335.7 741h0M335.86 745.82h0M335.94 749.76h0M336.19 732.83h0M336.27 716.23h0M336.35 752.77h0M336.68 727.36h0M336.76 750.67h0M336.93 745.58h0M337.01 731.77h0M337.17 772.85h0M337.42 776.67h0M337.67 714.83h0M337.83 741.91h0M338 752.73h0M338.16 733.98h0M338.57 742.98h0M338.65 756.01h0" stroke="#0000ff"/>
<path d="M335.53 722.02h0M335.78 729.2h0M336.02 769.47h0M336.11 793.5h0M336.44 723.86h0M336.52 790.29h0M336.6 779.51h0M336.85 778.34h0M337.09 795.44h0M337.26 771.29h0M337.34 731.69h0M337.5 761.84h0M337.58 773.48h0M337.75 756.87h0M337.91 789.17h0M338.08 747.66h0M338.24 782.82h0M338.32 786.61h0M338.41 764.71h0M338.49 752.46h0M338.73 791.57h0M338.82 773.6h0M338.9 791.93h0M338.98 765.66h0M339.06 762.14h0M339.14 787.75h0M339.23 756.02h0M339.31 773.68h0M339.39 743.03h0M339.47 741.35h0" stroke="#ff0000"/>
<path d="M339.64 736.51h0M339.72 770.27h0M339.88 730.24h0M339.97 719.4h0M340.29 738.19h0M340.46 751.23h0M340.7 780.02h0M340.79 729.62h0M340.87 740.42h0M340.95 764.55h0M341.03 757.37h0M341.2 745.1h0M341.28 716.31h0M341.36 778.75h0M341.53 771.37h0M341.61 760.25h0M341.69 730.76h0M341.85 771.93h0M341.94 785.06h0M342.67 745.57h0M342.76 795.99h0M342.92 734.23h0M343 772.78h0M343.17 729.65h0M343.33 764.64h0M343.41 725.93h0M343.5 744.4h0M343.58 719.08h0" stroke="#0000ff"/>
<path d="M339.55 770.7h0M339.8 778.42h0M340.05 776.24h0M340.13 771.52h0M340.21 725.05h0M340.38 771.75h0M340.54 738.84h0M340.62 774.22h0M341.11 776.63h0M341.44 774h0M341.77 768.32h0M342.02 757.39h0M342.1 777.07h0M342.18 770.7h0M342.26 776.08h0M342.35 776.46h0M342.43 769.01h0M342.51 791.23h0M342.59 795.48h0M342.84 766.57h0M343.09 745.93h0M343.25 767.47h0" stroke="#ff0000"/>
<path d="M343.74 782.3h0M343.82 757.45h0M343.91 734.79h0M343.99 777.5h0M344.15 769.1h0M344.4 775.86h0M344.48 721.31h0M344.56 761.68h0M344.97 765.41h0M345.47 744.67h0M345.55 747h0M345.63 761.26h0M345.71 720.18h0M345.88 747.19h0M346.21 742.49h0M346.29 731.69h0M346.37 708.56h0M346.62 745.29h0M346.86 728.66h0M346.94 752.73h0M347.35 748.33h0M347.44 734.38h0" stroke="#0000ff"/>
<path d="M343.66 794.68h0M344.07 777.76h0M344.23 775.73h0M344.32 782.23h0M344.65 740.91h0M344.73 735.02h0M344.81 775.88h0M344.89 776.94h0M345.06 724.91h0M345.14 789.56h0M345.22 762.18h0M345.3 745.64h0M345.38 787.42h0M345.79 777.28h0M345.96 775.72h0M346.04 748.38h0M346.12 751.4h0M346.45 786.16h0M346.53 730.6h0M346.7 783.79h0M346.78 780.62h0M347.03 771.32h0M347.11 780.23h0M347.19 725h0M347.27 772.97h0M347.52 782.16h0M347.6 738.24h0M347.68 727.71h0" stroke="#ff0000"/>
<path d="M347.85 756.57h0M348.01 791.19h0M348.26 788.31h0M348.34 722.65h0M348.42 714.14h0M348.5 759.58h0M348.75 743.18h0M349.08 756.02h0M349.16 720.62h0M349.24 714.38h0M349.41 723.06h0M349.49 762.98h0M349.82 771.19h0M349.9 726.05h0M350.39 734.87h0M350.47 735.22h0M350.56 776.91h0M350.64 776.58h0M350.72 784.13h0M350.8 778.31h0M350.88 736.92h0M351.21 779.09h0M351.38 749.01h0M351.79 718.82h0" stroke="#0000ff"/>
<path d="M347.76 727.48h0M347.93 784.88h0M348.09 787.58h0M348.18 721.9h0M348.59 788.76h0M348.67 795.04h0M348.83 782.11h0M348.91 792.93h0M349 740.53h0M349.32 781.64h0M349.57 752.71h0M349.65 791.46h0M349.74 745.17h0M349.98 784.41h0M350.06 777.92h0M350.15 783.76h0M350.23 767.12h0M350.31 720.57h0M350.97 789.18h0M351.05 787.5h0M351.13 770.54h0M351.3 782.01h0M351.46 793.36h0M351.54 755.34h0M351.62 793.39h0M351.71 794.02h0" stroke="#ff0000"/>
<path d="M351.95 742.39h0M352.03 737.57h0M352.12 723.66h0M352.28 764.51h0M352.36 763.65h0M352.53 776.72h0M352.69 745.72h0M352.94 716.55h0M353.02 755.61h0M353.1 725.32h0M353.43 740.82h0M353.51 766.79h0M354.66 730.81h0M354.74 726.22h0M355.15 754.03h0M355.24 724.49h0M355.32 764.57h0M355.73 783.37h0M355.81 773.92h0" stroke="#0000ff"/>
<path d="M351.87 795.66h0M352.2 766.44h0M352.44 772.29h0M352.61 771.34h0M352.77 769.95h0M352.86 729.69h0M353.18 731.64h0M353.27 789.42h0M353.35 790.13h0M353.59 787.53h0M353.68 772.64h0M353.76 784.31h0M353.84 763.51h0M353.92 779.21h0M354 737.55h0M354.09 767.5h0M354.17 791.88h0M354.25 784.83h0M354.33 779.52h0M354.42 731.03h0M354.5 753.32h0M354.58 785.99h0M354.83 758.46h0M354.91 795.06h0M354.99 784.27h0M355.07 754.02h0M355.4 778.41h0M355.48 769.73h0M355.56 733.33h0M355.65 732.97h0M355.89 737.91h0" stroke="#ff0000"/>
<path d="M356.39 785.58h0M356.71 758.47h0M356.88 720.9h0M357.04 727.12h0M357.21 744.36h0M357.29 763.22h0M357.53 721.77h0M357.62 728.22h0M357.7 753.25h0M357.78 763.16h0M357.86 706.13h0M358.11 742.36h0M358.19 745.93h0M358.27 732.83h0M358.44 750.9h0M358.52 780.68h0M358.6 756.09h0M358.85 786.3h0M358.93 790.49h0M359.09 771.46h0M359.18 758.8h0M359.83 731.84h0M359.92 732.1h0" stroke="#0000ff"/>
<path d="M355.97 789.18h0M356.06 731.58h0M356.14 782.77h0M356.22 787.88h0M356.3 767.76h0M356.47 779.37h0M356.55 786.42h0M356.63 770.42h0M356.8 784.83h0M356.96 749.9h0M357.12 759.13h0M357.37 786.53h0M357.45 782.43h0M357.95 792.72h0M358.03 772.52h0M358.36 742.64h0M358.68 793.07h0M358.77 788.12h0M359.01 791.87h0M359.26 783.41h0M359.34 794.03h0M359.42 755.7h0M359.51 733.75h0M359.59 785.18h0M359.67 757.22h0M359.75 781.25h0M360 769.15h0" stroke="#ff0000"/>
<path d="M360.08 722.65h0M360.16 729.83h0M360.33 737.6h0M360.49 772.48h0M360.57 767.31h0M360.65 761.25h0M360.82 726.96h0M360.98 724.97h0M361.15 734.96h0M361.48 725.86h0M362.05 756.1h0M362.13 781.12h0M362.38 720.97h0M362.46 722.74h0M362.54 770.66h0M362.79 737.62h0M362.95 725.51h0M363.04 741.54h0M363.2 730.38h0M363.28 772.76h0M363.36 771.66h0M363.53 755.2h0M363.69 754.64h0M363.94 726.45h0" stroke="#0000ff"/>
<path d="M360.24 771.98h0M360.41 759.24h0M360.74 792.01h0M360.9 746.66h0M361.07 740.33h0M361.23 734.33h0M361.31 792.58h0M361.39 786.45h0M361.56 769.64h0M361.64 753.11h0M361.72 789.52h0M361.8 788.66h0M361.89 779.36h0M361.97 768.85h0M362.21 716.81h0M362.3 789.97h0M362.63 792.45h0M362.71 793.46h0M362.87 786.7h0M363.12 749.03h0M363.45 793.33h0M363.61 789.8h0M363.77 778.34h0M363.86 781.08h0M364.02 738.32h0M364.1 783.7h0" stroke="#ff0000"/>
<path d="M364.19 761.91h0M364.27 749.1h0M365.17 734.01h0M365.33 778.81h0M365.58 730.86h0M365.66 771.47h0M365.83 744.44h0M366.16 772h0M366.4 740.73h0M366.48 720.46h0M366.81 729.15h0M366.89 742.48h0M366.98 733.08h0M367.22 713.51h0M367.3 724.78h0M367.55 735.43h0M367.63 733.81h0M367.72 727.55h0M367.8 771.62h0M367.96 743.16h0M368.13 768.14h0M368.21 723.57h0" stroke="#0000ff"/>
<path d="M364.35 791.43h0M364.43 737.13h0M364.51 781.47h0M364.6 762.44h0M364.68 759.75h0M364.76 770.05h0M364.84 783.48h0M364.92 771.07h0M365.01 791.8h0M365.09 768.57h0M365.25 769.1h0M365.42 787.35h0M365.5 781.9h0M365.74 792.03h0M365.91 777.55h0M365.99 770.08h0M366.07 773.69h0M366.24 757.27h0M366.32 772.99h0M366.57 769.21h0M366.65 774.11h0M366.73 793.78h0M367.06 761.72h0M367.14 783.33h0M367.39 787.65h0M367.47 759.18h0M367.88 794.97h0M368.04 764.26h0" stroke="#ff0000"/>
<path d="M368.37 736.14h0M368.45 724.95h0M368.95 724.06h0M369.28 722.63h0M369.44 734.35h0M369.52 741.15h0M369.6 740.97h0M369.69 767.11h0M369.93 760.29h0M370.01 741.69h0M370.1 720.86h0M370.42 758.44h0M370.51 726.27h0M370.59 767.12h0M370.75 742.38h0M370.84 747.19h0M370.92 787.21h0M371.25 728.95h0M371.41 730.23h0M371.82 744.17h0M371.9 777.86h0M372.07 749.64h0M372.31 747.77h0" stroke="#0000ff"/>
<path d="M368.29 791.18h0M368.54 749.66h0M368.62 784.05h0M368.7 794.39h0M368.78 789.36h0M368.86 770.6h0M369.03 743.87h0M369.11 773.22h0M369.19 795.55h0M369.36 777.28h0M369.77 789.25h0M369.85 771.02h0M370.18 732.57h0M370.26 785.45h0M370.34 749.55h0M370.67 788.66h0M371 794.5h0M371.08 765.21h0M371.16 774.37h0M371.33 768.97h0M371.49 778.26h0M371.57 739.72h0M371.66 778.45h0M371.74 789.6h0M371.98 775.24h0M372.15 787.01h0M372.23 767.36h0" stroke="#ff0000"/>
<path d="M372.48 775.79h0M372.64 744.64h0M372.89 733.36h0M372.97 735.71h0M373.13 751.14h0M373.38 767.98h0M373.54 740.42h0M373.71 729.64h0M373.79 720.29h0M374.28 709.14h0M374.37 780.75h0M374.45 736.07h0M374.53 753.78h0M374.78 780h0M374.94 721.32h0M375.02 771.67h0M375.1 765.88h0M375.19 725.17h0M375.35 726.25h0M375.93 759.12h0M376.01 728.8h0M376.25 733.52h0M376.34 722.01h0" stroke="#0000ff"/>
<path d="M372.39 782.04h0M372.56 793.42h0M372.72 746.22h0M372.81 720.43h0M373.05 723.88h0M373.22 780.48h0M373.3 752.14h0M373.46 783.29h0M373.63 795.23h0M373.87 787.84h0M373.95 750.82h0M374.04 731.49h0M374.12 783.54h0M374.2 771.68h0M374.61 795.93h0M374.69 750.62h0M374.86 787.08h0M375.27 735.69h0M375.43 767.94h0M375.51 789.24h0M375.6 789.59h0M375.68 788.11h0M375.76 728.42h0M375.84 790.27h0M376.09 714.67h0M376.17 789.29h0M376.42 764.33h0" stroke="#ff0000"/>
<path d="M376.5 754.37h0M376.66 719.25h0M376.75 743.95h0M376.99 701.2h0M377.16 753.8h0M377.32 761.44h0M377.65 702.95h0M377.81 762.5h0M377.9 789.1h0M378.14 734.34h0M378.31 723.85h0M378.39 717.07h0M378.72 723.37h0M378.88 779.87h0M379.29 713.95h0M379.46 780.19h0M379.62 735.39h0M379.78 774.65h0M379.95 738.8h0M380.11 724.48h0M380.28 745.23h0" stroke="#0000ff"/>
<path d="M376.58 789.94h0M376.83 791.61h0M376.91 768.2h0M377.07 780.61h0M377.24 778.18h0M377.4 759.21h0M377.49 740.75h0M377.57 753.79h0M377.73 780.5h0M377.98 792.47h0M378.06 794.99h0M378.22 781.05h0M378.47 784.57h0M378.55 728.65h0M378.63 736.25h0M378.8 780.65h0M378.96 745.84h0M379.05 783.89h0M379.13 772.09h0M379.21 763.64h0M379.37 795.24h0M379.54 734.85h0M379.7 787.63h0M379.87 726.65h0M380.03 757.95h0M380.19 773.63h0M380.36 749.46h0M380.44 768.37h0M380.52 769.65h0" stroke="#ff0000"/>
<path d="M380.85 722.74h0M380.93 729.7h0M381.1 742.89h0M381.34 759.37h0M381.43 750h0M381.75 732.13h0M381.84 756.45h0M382.16 780.61h0M382.25 767.39h0M382.49 778.78h0M382.66 763.02h0M383.15 767.15h0M383.48 747.21h0M383.56 786.22h0M383.81 737.46h0M383.89 735.67h0M384.05 744.22h0M384.22 730.05h0M384.3 753.06h0M384.38 762.34h0M384.46 757.13h0M384.55 755.4h0" stroke="#0000ff"/>
<path d="M380.61 774.98h0M380.69 764.25h0M380.77 794.99h0M381.02 794.57h0M381.18 788.19h0M381.26 772.81h0M381.51 771.51h0M381.59 748.19h0M381.67 775.36h0M381.92 714.58h0M382 727.83h0M382.08 766.39h0M382.33 739.54h0M382.41 747.66h0M382.58 772.14h0M382.74 771.05h0M382.82 732.25h0M382.9 738.5h0M382.99 764.01h0M383.07 723.75h0M383.23 758.15h0M383.31 785.98h0M383.4 783.89h0M383.64 791.3h0M383.72 771.27h0M383.97 786.29h0M384.14 792.93h0M384.63 793.09h0" stroke="#ff0000"/>
<path d="M384.71 747.96h0M384.79 749.84h0M384.87 721.24h0M385.45 759.82h0M385.61 721.2h0M385.7 757.73h0M386.19 735.99h0M386.68 770.54h0M386.84 722.34h0M387.42 775.24h0M387.58 778.7h0M387.75 734.85h0M387.83 730.65h0M388.08 728.3h0M388.16 761.69h0M388.49 743.79h0M388.57 724h0M388.65 751.89h0" stroke="#0000ff"/>
<path d="M384.96 727.81h0M385.04 791.93h0M385.12 770.92h0M385.2 728.35h0M385.28 787.39h0M385.37 787.92h0M385.53 775.98h0M385.78 792.81h0M385.86 751.24h0M385.94 730.61h0M386.02 792.96h0M386.11 774.19h0M386.27 763.69h0M386.35 747.96h0M386.43 787.5h0M386.52 762.87h0M386.6 766.86h0M386.76 787.92h0M386.93 777.76h0M387.01 773.53h0M387.09 789.25h0M387.17 774.03h0M387.26 794.56h0M387.34 792.13h0M387.5 772.83h0M387.67 778.05h0M387.91 770.72h0M387.99 722.65h0M388.24 791.05h0M388.32 782.18h0M388.4 763.34h0M388.73 775.6h0" stroke="#ff0000"/>
<path d="M388.98 748h0M389.06 728.32h0M389.14 741.46h0M389.23 735.48h0M389.47 737.73h0M389.55 718.48h0M389.64 747.08h0M390.46 721.14h0M390.54 730.55h0M390.7 736.09h0M390.87 750.58h0M391.03 722.65h0M391.2 769.1h0M391.28 719.41h0M391.36 767.8h0M391.61 732.14h0M391.93 722.9h0M392.1 731.92h0M392.18 738.75h0M392.43 749.55h0M392.51 757.28h0M392.67 773h0" stroke="#0000ff"/>
<path d="M388.81 744.19h0M388.9 767.17h0M389.31 764.72h0M389.39 764.86h0M389.72 783.98h0M389.8 791.97h0M389.88 766.29h0M389.96 727.95h0M390.05 790.4h0M390.13 779.39h0M390.21 756.52h0M390.29 770.21h0M390.37 782.54h0M390.62 780.08h0M390.79 745.71h0M390.95 748.2h0M391.11 720.26h0M391.44 772.99h0M391.52 795.19h0M391.69 791.43h0M391.77 781.35h0M391.85 772.89h0M392.02 730.89h0M392.26 791.66h0M392.35 772.68h0M392.59 793.1h0M392.76 791.67h0M392.84 757.38h0" stroke="#ff0000"/>
<path d="M393.25 757.84h0M393.41 787.32h0M393.66 727.29h0M393.99 752.64h0M394.15 748.43h0M394.64 739.26h0M394.89 745.15h0M394.97 774.21h0M395.22 741.27h0M395.38 783.57h0M395.63 746.43h0M396.12 734.2h0M396.2 712.81h0M396.29 747.07h0M396.45 721.83h0M396.53 787.03h0M396.78 772.42h0M396.94 768.71h0" stroke="#0000ff"/>
<path d="M392.92 747.85h0M393 764.26h0M393.08 773.99h0M393.17 796.03h0M393.33 785.79h0M393.49 731.03h0M393.58 742.46h0M393.74 795.42h0M393.82 793.18h0M393.91 753.76h0M394.07 792.96h0M394.23 744.32h0M394.32 748.79h0M394.4 786.33h0M394.48 754.45h0M394.56 725.08h0M394.73 785.93h0M394.81 783.88h0M395.05 781.26h0M395.14 776.3h0M395.3 742.54h0M395.47 775.59h0M395.55 770.96h0M395.71 764.03h0M395.79 774.87h0M395.88 748.91h0M395.96 756.06h0M396.04 787.7h0M396.37 736.75h0M396.61 788.65h0M396.7 776.72h0M396.86 774.92h0" stroke="#ff0000"/>
<path d="M397.44 759.63h0M397.85 718.38h0M397.93 775.7h0M398.01 758.72h0M398.17 774.34h0M398.75 728.73h0M398.91 770.68h0M399 753.34h0M399.16 745.43h0M399.32 777.04h0M399.41 760.23h0M399.57 757.94h0M399.65 754.77h0M400.39 758.85h0M400.64 728.14h0M400.72 778.53h0M400.97 752.83h0" stroke="#0000ff"/>
<path d="M397.02 749.49h0M397.11 733.78h0M397.19 714.95h0M397.27 787.22h0M397.35 780.76h0M397.52 742.52h0M397.6 761.31h0M397.68 719.12h0M397.76 795.15h0M398.09 780.37h0M398.26 789.62h0M398.34 766.93h0M398.42 752.58h0M398.5 771.89h0M398.58 740.2h0M398.67 723.86h0M398.83 787.05h0M399.08 730.97h0M399.24 787.38h0M399.49 788.9h0M399.73 773.31h0M399.82 781.62h0M399.9 779.62h0M399.98 795.18h0M400.06 779.71h0M400.14 722.46h0M400.23 707.13h0M400.31 794.82h0M400.47 792.37h0M400.56 775.62h0M400.8 740.82h0M400.88 750.23h0M401.05 791.21h0" stroke="#ff0000"/>
<path d="M401.13 735.14h0M401.29 755.36h0M401.38 743.25h0M401.62 785.45h0M401.87 738.47h0M402.12 769.59h0M402.2 741.51h0M402.61 793.46h0M402.69 766.79h0M402.77 758.82h0M403.02 716.85h0M403.1 748.3h0M403.43 732.57h0M403.51 727.78h0M403.59 734.54h0M403.84 722.02h0M403.92 763.06h0M404.33 757.17h0M404.41 766.46h0M404.74 736.02h0M404.91 750.59h0M404.99 738.44h0M405.07 728.08h0" stroke="#0000ff"/>
<path d="M401.21 770.34h0M401.46 741.85h0M401.54 786.11h0M401.7 795.4h0M401.79 792.77h0M401.95 744.8h0M402.03 729.39h0M402.28 770.04h0M402.36 731.38h0M402.44 795.84h0M402.53 750.96h0M402.85 781.34h0M402.94 784.98h0M403.18 783.92h0M403.26 782.91h0M403.35 768.73h0M403.68 745.5h0M403.76 775.07h0M404 792.66h0M404.09 783.86h0M404.17 775.78h0M404.25 734.06h0M404.5 739.14h0M404.58 783.65h0M404.66 783.93h0M404.82 743.91h0M405.15 711.94h0" stroke="#ff0000"/>
<path d="M405.24 754.29h0M405.48 719.52h0M405.81 745.07h0M405.89 738.02h0M406.06 723.86h0M406.14 764.53h0M406.63 723.3h0M406.88 737.76h0M407.04 750.36h0M407.37 732.97h0M407.45 758.53h0M407.62 723.92h0M407.7 723.13h0M407.78 731.31h0M407.86 764.56h0M407.94 723.42h0M408.11 768.62h0M408.44 738.74h0M408.6 737.78h0" stroke="#0000ff"/>
<path d="M405.32 781.67h0M405.4 756.64h0M405.56 768.74h0M405.65 790.78h0M405.73 770.33h0M405.97 770.82h0M406.22 726.1h0M406.3 746.49h0M406.38 778.94h0M406.47 784.8h0M406.55 792.14h0M406.71 775.4h0M406.79 770.88h0M406.96 771.95h0M407.12 758.51h0M407.21 712.3h0M407.29 783.99h0M407.53 771.3h0M408.03 792.35h0M408.19 795.05h0M408.27 782.85h0M408.35 778.66h0M408.52 749.9h0M408.68 779.03h0M408.77 750.97h0M408.85 760.29h0M408.93 787.23h0M409.01 791.39h0M409.09 780.75h0M409.18 778.37h0M409.26 783.35h0" stroke="#ff0000"/>
<path d="M409.75 738.75h0M409.83 793.66h0M409.91 779.44h0M410 720.91h0M410.57 736.58h0M410.65 738.99h0M410.74 713.54h0M410.98 745.63h0M411.15 747.11h0M411.39 722.31h0M411.47 725.44h0M411.64 740.96h0M411.89 773.43h0M412.21 751.1h0M412.46 776.55h0M412.71 723.15h0M412.95 728.25h0M413.2 739.3h0M413.36 767.65h0" stroke="#0000ff"/>
<path d="M409.34 791.61h0M409.42 766.8h0M409.5 782.95h0M409.59 776.15h0M409.67 762.43h0M410.08 778.45h0M410.16 788.68h0M410.24 772.8h0M410.33 791.2h0M410.41 794.38h0M410.49 791.21h0M410.82 722.51h0M410.9 789.45h0M411.06 758.96h0M411.23 763.59h0M411.31 772.07h0M411.56 785.11h0M411.72 792.54h0M411.8 772.98h0M411.97 781.06h0M412.05 785.19h0M412.13 787.77h0M412.3 784.93h0M412.38 760.52h0M412.54 736.61h0M412.62 788.66h0M412.79 792.76h0M412.87 782.04h0M413.03 743.28h0M413.12 760.41h0M413.28 753.86h0" stroke="#ff0000"/>
<path d="M413.77 774.88h0M413.86 740.73h0M414.02 721.69h0M414.35 780.82h0M414.51 755.9h0M414.76 747.33h0M414.84 732.96h0M415 738.52h0M415.33 761.24h0M415.74 789.82h0M415.83 720.9h0M416.15 748.22h0M416.32 716.64h0M416.65 780.95h0M416.89 768.03h0M416.98 723.59h0M417.14 753.88h0" stroke="#0000ff"/>
<path d="M413.44 782.97h0M413.53 773.55h0M413.61 776.98h0M413.69 724.58h0M413.94 793.57h0M414.1 768h0M414.18 748.39h0M414.27 758.96h0M414.43 791.3h0M414.59 787.84h0M414.68 788.23h0M414.92 774.43h0M415.09 792.92h0M415.17 789.89h0M415.25 771.51h0M415.42 785.91h0M415.5 781.07h0M415.58 783.01h0M415.66 785.14h0M415.91 791.61h0M415.99 773.23h0M416.07 787.57h0M416.24 795.59h0M416.4 779.01h0M416.48 771.65h0M416.56 751.97h0M416.73 778.92h0M416.81 783.45h0M417.06 736.61h0M417.22 779.31h0M417.3 795.64h0M417.39 751.81h0M417.47 790.1h0" stroke="#ff0000"/>
<path d="M417.8 767.51h0M417.88 724.59h0M417.96 748.05h0M418.12 775.88h0M418.21 722.38h0M418.29 768.76h0M418.62 791.81h0M418.7 760.97h0M418.95 770.01h0M419.11 763.6h0M419.27 774.72h0M419.36 784.28h0M419.44 755.16h0M419.52 773.74h0M419.6 766.88h0M419.68 765.97h0M419.85 757.05h0M420.01 757.76h0M420.26 733.04h0M420.42 773.5h0M420.51 722.88h0M420.59 780.42h0M420.75 750.65h0M421.49 771.84h0" stroke="#0000ff"/>
<path d="M417.55 737.76h0M417.63 777.05h0M417.71 792.95h0M418.04 770.07h0M418.37 791.94h0M418.45 786.79h0M418.54 741.42h0M418.78 728.34h0M418.86 773.62h0M419.03 772.93h0M419.19 770.91h0M419.77 790.29h0M419.93 777.09h0M420.1 791.19h0M420.18 795.91h0M420.34 776.01h0M420.67 779.18h0M420.83 777.44h0M420.92 721.67h0M421 770.2h0M421.08 767.07h0M421.16 785.57h0M421.24 783.27h0M421.33 724.54h0M421.41 749.35h0M421.57 739.9h0" stroke="#ff0000"/>
<path d="M421.9 723.29h0M422.15 766.15h0M422.39 751.35h0M422.8 781.12h0M422.89 775.77h0M422.97 737.51h0M423.13 720.72h0M423.38 740.16h0M423.54 733.64h0M423.63 726.04h0M423.87 780.58h0M424.04 727.6h0M424.45 746.94h0M424.53 773.83h0M424.61 727.23h0M424.69 731.79h0M425.1 775.88h0M425.19 722.77h0M425.51 749h0M425.68 762.53h0" stroke="#0000ff"/>
<path d="M421.65 738.2h0M421.74 791.66h0M421.82 787.91h0M421.98 721.71h0M422.07 747.37h0M422.23 728.58h0M422.31 749.7h0M422.48 768.02h0M422.56 716.8h0M422.64 789.72h0M422.72 795.84h0M423.05 787.86h0M423.21 789.53h0M423.3 780.86h0M423.46 770.82h0M423.71 739.61h0M423.79 795.76h0M423.95 785.23h0M424.12 760.03h0M424.2 726.18h0M424.28 774.23h0M424.36 758.55h0M424.77 730.36h0M424.86 711.85h0M424.94 721.53h0M425.02 766.54h0M425.27 747.67h0M425.35 774.12h0M425.43 779.9h0M425.6 772.18h0" stroke="#ff0000"/>
<path d="M425.76 773.68h0M426.17 750.61h0M426.91 737.07h0M427.24 751.64h0M427.73 768.96h0M427.89 755.18h0M428.06 725.19h0M428.14 770.13h0M428.31 782.44h0M428.39 785.62h0M428.72 767.89h0M428.8 723.27h0M428.88 766.06h0M428.96 733.42h0M429.04 766.22h0M429.54 728.69h0M429.62 736.66h0" stroke="#0000ff"/>
<path d="M425.84 794.9h0M425.92 773.66h0M426.01 781.34h0M426.09 775.74h0M426.25 793.43h0M426.33 745.94h0M426.42 771h0M426.5 781.76h0M426.58 762.14h0M426.66 745h0M426.75 775.69h0M426.83 763.65h0M426.99 793.43h0M427.07 751.43h0M427.16 788.53h0M427.32 761.16h0M427.4 792.62h0M427.48 744.21h0M427.57 750.27h0M427.65 775.46h0M427.81 749.09h0M427.98 774.74h0M428.22 729.31h0M428.47 793.87h0M428.55 787.34h0M428.63 758.5h0M429.13 762.58h0M429.21 785.92h0M429.29 774.93h0M429.37 755.98h0M429.45 775.27h0M429.7 759.27h0M429.78 770.27h0" stroke="#ff0000"/>
<path d="M430.03 754.99h0M430.19 711.69h0M430.28 724.97h0M430.52 773.37h0M430.69 735.99h0M431.18 764.1h0M431.26 771.65h0M431.51 756.04h0M431.67 728.41h0M431.75 759.76h0M431.84 752.15h0M431.92 746.15h0M432.25 775.45h0M432.41 742.82h0M432.57 726.43h0M432.66 732.47h0M432.74 718.95h0M432.98 728.08h0M433.31 753.06h0M433.4 754.96h0M433.48 721.53h0M433.81 779.75h0" stroke="#0000ff"/>
<path d="M429.87 766.34h0M429.95 778.18h0M430.11 786.14h0M430.36 765.38h0M430.44 791.27h0M430.6 781.63h0M430.77 795.54h0M430.85 760.63h0M430.93 765.02h0M431.01 787.42h0M431.1 774.31h0M431.34 785.49h0M431.42 737.82h0M431.59 782.27h0M432 775.7h0M432.08 771.38h0M432.16 779.21h0M432.33 777.72h0M432.49 760.77h0M432.82 788.58h0M432.9 792.67h0M433.07 778.31h0M433.15 735h0M433.23 767.01h0M433.56 774.71h0M433.64 745.91h0M433.72 795.04h0M433.89 778.82h0" stroke="#ff0000"/>
<path d="M433.97 769.01h0M434.3 744.78h0M434.46 727.43h0M435.12 780.93h0M435.2 730.01h0M435.28 777.75h0M435.37 735.93h0M435.45 700.39h0M435.61 741.69h0M435.78 788.25h0M436.19 716.5h0M436.43 722.13h0M436.6 722.59h0M436.76 740.25h0M437.09 784.52h0M437.17 716.78h0M437.25 727.34h0M437.58 737.63h0M437.66 721.91h0M437.75 722.88h0M437.91 731.03h0M437.99 721.36h0" stroke="#0000ff"/>
<path d="M434.05 787.63h0M434.13 741.53h0M434.22 760.49h0M434.38 775.78h0M434.54 769.77h0M434.63 778.26h0M434.71 787.74h0M434.79 791.04h0M434.87 781.77h0M434.96 724.34h0M435.04 758.49h0M435.53 774.15h0M435.69 752.49h0M435.86 763.67h0M435.94 778.5h0M436.02 744.79h0M436.1 769.55h0M436.27 761.96h0M436.35 745.12h0M436.52 789.86h0M436.68 762.15h0M436.84 792.46h0M436.93 777.19h0M437.01 794.67h0M437.34 732.12h0M437.42 742.96h0M437.5 774.76h0M437.83 781.17h0" stroke="#ff0000"/>
<path d="M438.16 702.53h0M438.49 778.1h0M438.73 732.62h0M439.31 776.21h0M439.47 726.56h0M439.8 730.23h0M440.21 746.09h0M440.29 781.74h0M440.7 735.1h0M440.78 757.79h0M441.52 722.03h0M441.61 734.51h0M441.77 725.17h0" stroke="#0000ff"/>
<path d="M438.07 736.72h0M438.24 775.48h0M438.32 767.86h0M438.4 726.41h0M438.57 770.94h0M438.65 774.66h0M438.81 780.39h0M438.9 786.49h0M438.98 726.23h0M439.06 771.95h0M439.14 787.7h0M439.22 769.33h0M439.39 786.53h0M439.55 721.42h0M439.63 794.61h0M439.72 786.61h0M439.88 788.12h0M439.96 779.7h0M440.05 737.8h0M440.13 722.05h0M440.37 740h0M440.46 792.87h0M440.54 735.57h0M440.62 790.32h0M440.87 784.82h0M440.95 774.6h0M441.03 774.39h0M441.11 789.21h0M441.19 765.41h0M441.28 783.2h0M441.36 780.31h0M441.44 754.66h0M441.69 771.17h0M441.85 795.1h0M441.93 780.96h0M442.02 786.12h0M442.1 742.8h0" stroke="#ff0000"/>
<path d="M442.18 720.98h0M442.34 737.92h0M442.43 737.94h0M442.84 744.75h0M442.92 731.06h0M443 734.62h0M443.08 731.55h0M443.17 739.05h0M443.25 738.44h0M443.33 727.9h0M443.41 731.28h0M443.82 762.08h0M443.99 730.17h0M444.15 728.27h0M444.4 769.33h0M444.48 738.21h0M444.81 791.88h0M445.22 720h0M445.55 715.46h0M445.63 779.72h0M445.71 723.18h0M446.2 760.25h0" stroke="#0000ff"/>
<path d="M442.26 755.38h0M442.51 776.38h0M442.59 773.66h0M442.67 773.14h0M442.75 772.3h0M443.49 793.24h0M443.58 781.31h0M443.66 776.91h0M443.74 761.82h0M443.9 784.44h0M444.07 768.15h0M444.23 792.01h0M444.31 791.35h0M444.56 763.38h0M444.64 757.51h0M444.73 793.77h0M444.89 769.6h0M444.97 771.54h0M445.05 780.59h0M445.14 776.61h0M445.3 759.16h0M445.38 734.33h0M445.46 785.18h0M445.79 773.34h0M445.87 784.4h0M445.96 779.78h0M446.04 779.83h0M446.12 781.05h0" stroke="#ff0000"/>
<path d="M446.28 752.67h0M446.37 759.15h0M446.53 744.38h0M446.7 772.59h0M446.78 792.06h0M446.94 768.62h0M447.76 767.86h0M447.84 718.62h0M447.93 769.27h0M448.09 722.03h0M448.17 730.62h0M448.26 741.2h0M449.49 722.64h0M449.57 776.21h0M449.65 794.23h0M449.73 739.04h0M449.9 709.49h0M450.06 722.47h0M450.14 738.68h0" stroke="#0000ff"/>
<path d="M446.45 772.69h0M446.61 784.33h0M446.86 773.34h0M447.02 759.55h0M447.11 761.01h0M447.19 741.28h0M447.27 780.18h0M447.35 778.54h0M447.43 785.85h0M447.52 724.12h0M447.6 763.72h0M447.68 787.07h0M448.01 758.48h0M448.34 792.25h0M448.42 784.68h0M448.5 789.77h0M448.58 793.12h0M448.67 791.27h0M448.75 758.45h0M448.83 772.21h0M448.91 765.47h0M448.99 791.61h0M449.08 791h0M449.16 791.3h0M449.24 764.95h0M449.32 788.72h0M449.4 786.22h0M449.82 772.35h0M449.98 783.56h0M450.23 778.86h0M450.31 793.43h0" stroke="#ff0000"/>
<path d="M450.39 749.17h0M450.47 711.73h0M450.55 740.18h0M450.64 780.46h0M451.38 766.33h0M451.54 739.71h0M451.7 746.94h0M451.87 740.3h0M452.03 762.84h0M452.36 790.22h0M452.44 742.15h0M452.61 734.73h0M452.77 779.72h0M452.85 780.45h0M453.18 789.11h0M453.26 747.82h0M453.51 739.95h0M453.59 739.54h0M453.67 750.91h0M453.92 720.88h0M454.17 755.9h0M454.25 754.7h0M454.41 726.37h0" stroke="#0000ff"/>
<path d="M450.72 784.39h0M450.8 743.53h0M450.88 759.62h0M450.96 791.2h0M451.05 737.57h0M451.13 750.2h0M451.21 728.67h0M451.29 776.12h0M451.46 726.83h0M451.62 758.34h0M451.79 787.67h0M451.95 759.93h0M452.11 790.71h0M452.2 767.06h0M452.28 796.07h0M452.52 771.14h0M452.69 774.37h0M452.94 735.76h0M453.02 781.12h0M453.1 729.56h0M453.35 767.28h0M453.43 781.94h0M453.76 770.51h0M453.84 774.83h0M454 767.74h0M454.08 732.77h0M454.33 785.11h0" stroke="#ff0000"/>
<path d="M455.32 727.87h0M455.4 742.2h0M455.56 738.01h0M455.73 717.75h0M455.81 765.6h0M456.05 741.22h0M456.3 728.26h0M456.47 743.86h0M456.55 739.47h0M456.79 723.38h0M456.88 764.36h0M457.12 778.48h0M457.2 720.72h0M457.29 771.04h0M457.37 773.04h0M457.61 759.61h0" stroke="#0000ff"/>
<path d="M454.5 783.39h0M454.58 771.55h0M454.66 773.84h0M454.74 791.01h0M454.82 789.05h0M454.91 771.64h0M454.99 735.02h0M455.07 786.96h0M455.15 782.07h0M455.23 775.25h0M455.48 732.52h0M455.64 758.79h0M455.89 743.55h0M455.97 741.25h0M456.14 721.77h0M456.22 784.32h0M456.38 784.72h0M456.63 771.7h0M456.71 746.29h0M456.96 789.47h0M457.04 793.58h0M457.45 767.23h0M457.53 733.04h0M457.7 767.12h0" stroke="#ff0000"/>
</g>
<line x1="376.5" y1="692.2" x2="376.5" y2="799.9" stroke="#999" stroke-width="0.6" stroke-dasharray="0.8,0.8"/>
<rect x="288" y="692.3" width="176.3" height="107.7" fill="none" stroke="#555" stroke-width="0.8"/>
<path d="M288 797.1h-2.5M288 780h-2.5M288 762.9h-2.5M288 745.8h-2.5M288 728.7h-2.5M288 711.6h-2.5M288 694.5h-2.5M294.4 800v2.5M335.45 800v2.5M376.5 800v2.5M417.55 800v2.5M458.6 800v2.5" stroke="#555" stroke-width="0.6"/>
<g font-size="4.0" fill="#333" text-anchor="middle">
<text x="281.8" y="797.1" transform="rotate(-90 281.8 797.1)">0</text>
<text x="281.8" y="780" transform="rotate(-90 281.8 780)">5</text>
<text x="281.8" y="762.9" transform="rotate(-90 281.8 762.9)">10</text>
<text x="281.8" y="745.8" transform="rotate(-90 281.8 745.8)">15</text>
<text x="281.8" y="728.7" transform="rotate(-90 281.8 728.7)">20</text>
<text x="281.8" y="711.6" transform="rotate(-90 281.8 711.6)">25</text>
<text x="281.8" y="694.5" transform="rotate(-90 281.8 694.5)">30</text>
<text x="294.4" y="810.3">0</text>
<text x="335.45" y="810.3">500</text>
<text x="376.5" y="810.3">1000</text>
<text x="417.55" y="810.3">1500</text>
<text x="458.6" y="810.3">2000</text>
</g>
<text x="270.4" y="747" text-anchor="middle" fill="#222" font-size="4.3" transform="rotate(-90 270.4 747)">Survival time (years)</text>
<text x="376.5" y="820.8" text-anchor="middle" fill="#222" font-size="4.3">Patients (increasing risk score)</text>
<path d="M292.4 698.5h0" stroke="#ff0000" stroke-width="2.8" stroke-linecap="round"/><path d="M292.4 704.8h0" stroke="#0000ff" stroke-width="2.8" stroke-linecap="round"/>
<text x="297.6" y="700.3" fill="#222" font-size="5">Dead</text>
<text x="297.6" y="706.6" fill="#222" font-size="5">Alive</text>
<line x1="525.5" y1="592.3" x2="672.8" y2="471.7" stroke="#111" stroke-width="0.8" stroke-dasharray="1.2,1.4"/>
<path d="M525.5 592.3L525.5 588.2L526.97 588.2L526.97 583.86L528.45 583.86L528.45 577.95L529.48 577.95L529.48 571.8L530.66 571.8L530.66 564.08L535.07 564.08L535.07 562.15L536.55 562.15L536.55 560.34L538.76 560.34L538.76 556.12L540.23 556.12L540.23 551.3L541.56 551.3L541.56 546.59L542.73 546.59L542.73 542.61L564.24 542.61L564.24 535.26L566.15 535.26L566.15 527.18L568.36 527.18L568.36 521.27L579.26 521.27L579.26 514.27L587.22 514.27L587.22 507.4L598.41 507.4L598.41 500.04L609.17 500.04L609.17 492.44L626.55 492.44L626.55 486.05L645.25 486.05L645.25 478.69L647.76 478.69L647.76 471.7L672.8 471.7" stroke="#ff2020" stroke-width="1.15" fill="none" stroke-linejoin="round"/>
<path d="M525.5 592.3L525.5 589.28L525.87 589.28L525.87 586.27L526.24 586.27L526.24 581.45L527.71 581.45L527.71 578.83L528.45 578.83L528.45 576.22L529.18 576.22L529.18 573.61L529.92 573.61L529.92 569.39L532.13 569.39L532.13 565.65L535.07 565.65L535.07 561.91L538.76 561.91L538.76 558.53L539.79 558.53L539.79 554.55L540.97 554.55L540.97 551.72L541.56 551.72L541.56 548.88L542.14 548.88L542.14 546.23L542.96 546.23L542.96 543.58L543.77 543.58L543.77 540.44L547.6 540.44L547.6 537.07L551.57 537.07L551.57 535.62L554.96 535.62L554.96 533.69L559.53 533.69L559.53 531.04L560.56 531.04L560.56 528.38L561.59 528.38L561.59 523.56L563.21 523.56L563.21 519.94L567.63 519.94L567.63 516.99L569.4 516.99L569.4 514.03L571.16 514.03L571.16 511.14L576.47 511.14L576.47 508.24L585.01 508.24L585.01 505.11L587.88 505.11L587.88 501.97L590.75 501.97L590.75 500.04L604.01 500.04L604.01 497.51L606.59 497.51L606.59 494.98L609.17 494.98L609.17 490.75L609.76 490.75L609.76 488.46L624.34 488.46L624.34 484.12L628.76 484.12L628.76 480.14L637.45 480.14L637.45 476.16L644.96 476.16L644.96 474.59L647.76 474.59L665.43 474.59L665.43 472.42L666.02 472.42L666.02 471.7L672.8 471.7" stroke="#ffa500" stroke-width="1.15" fill="none" stroke-linejoin="round"/>
<path d="M525.5 592.3L525.5 589.24L525.7 589.24L525.7 586.19L525.89 586.19L525.89 583.13L526.09 583.13L526.09 580.21L526.42 580.21L526.42 577.29L526.75 577.29L526.75 574.36L527.08 574.36L527.08 571.44L527.41 571.44L527.41 569.87L529.18 569.87L529.18 566.25L531.39 566.25L531.39 561.91L535.07 561.91L535.07 559.38L535.44 559.38L535.44 556.84L535.81 556.84L535.81 553.53L536.47 553.53L536.47 550.21L537.14 550.21L537.14 545.75L538.76 545.75L538.76 542.25L542.29 542.25L542.29 539.6L544.21 539.6L544.21 536.28L545.68 536.28L545.68 532.96L547.15 532.96L547.15 528.62L551.57 528.62L551.57 526.06L552.82 526.06L552.82 523.5L554.08 523.5L554.08 520.93L555.33 520.93L555.33 518.37L556.58 518.37L556.58 514.03L563.21 514.03L563.21 511.86L567.63 511.86L567.63 510.41L574.85 510.41L574.85 508.6L576.47 508.6L576.47 505.47L580.74 505.47L580.74 502.33L585.01 502.33L585.01 498.23L587.96 498.23L587.96 494.98L592.23 494.98L592.23 493.89L599.59 493.89L599.59 489.91L605.34 489.91L605.34 488.46L614.17 488.46L614.17 483.76L628.76 483.76L628.76 482.55L636.12 482.55L636.12 480.38L638.33 480.38L638.33 475.8L647.76 475.8L647.76 473.39L649.23 473.39L664.55 473.39L664.55 471.7L665.43 471.7L672.8 471.7" stroke="#2020ff" stroke-width="1.15" fill="none" stroke-linejoin="round"/>
<path d="M519.4 466.9V596.2H678.1V466.9Z" stroke="#555" stroke-width="0.8" fill="none"/>
<path d="M519.4 592.3h-3M525.5 596.2v3M519.4 568.18h-3M554.96 596.2v3M519.4 544.06h-3M584.42 596.2v3M519.4 519.94h-3M613.88 596.2v3M519.4 495.82h-3M643.34 596.2v3M519.4 471.7h-3M672.8 596.2v3" stroke="#555" stroke-width="0.6"/>
<g font-size="5.8" fill="#333" text-anchor="middle">
<text x="509.8" y="592.3" transform="rotate(-90 509.8 592.3)">0.0</text>
<text x="525.5" y="610">0.0</text>
<text x="509.8" y="568.18" transform="rotate(-90 509.8 568.18)">0.2</text>
<text x="554.96" y="610">0.2</text>
<text x="509.8" y="544.06" transform="rotate(-90 509.8 544.06)">0.4</text>
<text x="584.42" y="610">0.4</text>
<text x="509.8" y="519.94" transform="rotate(-90 509.8 519.94)">0.6</text>
<text x="613.88" y="610">0.6</text>
<text x="509.8" y="495.82" transform="rotate(-90 509.8 495.82)">0.8</text>
<text x="643.34" y="610">0.8</text>
<text x="509.8" y="471.7" transform="rotate(-90 509.8 471.7)">1.0</text>
<text x="672.8" y="610">1.0</text>
</g>
<text x="494.9" y="531.5" text-anchor="middle" fill="#222" font-size="5.6" transform="rotate(-90 494.9 531.5)">Sensitivity</text>
<text x="599.6" y="623.8" text-anchor="middle" fill="#222" font-size="5.6">1−Specificity</text>
<line x1="598" y1="575.2" x2="609.5" y2="575.2" stroke="#ff2020" stroke-width="1.3"/>
<text x="614.4" y="577.3" fill="#222" font-size="5.9" textLength="61.4" lengthAdjust="spacingAndGlyphs">AUC at 1 years: 0.681</text>
<line x1="598" y1="582.5" x2="609.5" y2="582.5" stroke="#ffa500" stroke-width="1.3"/>
<text x="614.4" y="584.6" fill="#222" font-size="5.9" textLength="61.4" lengthAdjust="spacingAndGlyphs">AUC at 3 years: 0.704</text>
<line x1="598" y1="589.7" x2="609.5" y2="589.7" stroke="#2020ff" stroke-width="1.3"/>
<text x="614.4" y="591.8" fill="#222" font-size="5.9" textLength="61.4" lengthAdjust="spacingAndGlyphs">AUC at 5 years: 0.740</text>
<line x1="525.8" y1="801.3" x2="673" y2="674.8" stroke="#111" stroke-width="0.8" stroke-dasharray="1.2,1.4"/>
<path d="M525.8 801.3L526.24 798.39L527.71 798.39L527.71 793.33L528.45 793.33L528.45 788.9L530.66 788.9L530.66 779.42L531.39 779.42L531.39 772.2L532.72 772.2L532.72 766.39L534.19 766.39L534.19 761.96L537.13 761.96L537.13 757.53L539.05 757.53L539.05 753.1L543.76 753.1L543.76 744.5L553.18 744.5L553.18 740.07L554.8 740.07L554.8 732.1L562.31 732.1L562.31 727.42L568.93 727.42L568.93 723L575.41 723L575.41 718.95L579.09 718.95L579.09 714.14L589.68 714.14L589.68 709.71L596.6 709.71L596.6 705.03L601.02 705.03L601.02 700.1L602.49 700.1L602.49 696.3L610.73 696.3L610.73 691.88L626.48 691.88L626.48 687.45L630.75 687.45L630.75 683.53L635.61 683.53L635.61 678.85L640.76 678.85L640.76 674.8L673 674.8" stroke="#ff2020" stroke-width="1.15" fill="none" stroke-linejoin="round"/>
<path d="M525.8 801.3L527.12 797.55L528.45 792.17L530.27 789.35L532.08 787.17L533.9 783.85L535.71 781.31L537.53 778.38L539.34 775.56L541.4 774.72L543.46 772.92L545.43 770.01L547.39 768.93L549.35 766.75L551.31 765.79L553.28 763.01L555.24 760.48L557.2 760.18L559.17 758.04L561.13 757.05L563.09 756.26L565.05 754.16L567.02 751.27L569.22 747.19L571.43 744.56L573.64 742.28L575.85 739.43L577.81 738.76L579.77 737.21L581.74 735.61L583.5 733.57L585.27 732L587.09 729.82L588.91 727.66L590.73 725.11L592.56 723.19L594.38 721.41L596.2 717.99L598.02 716.24L599.84 713.93L601.66 713.34L603.48 710.83L605.31 709.75L607.13 709.59L608.95 707.99L610.77 706.12L612.59 704.86L614.41 703.23L616.24 702.65L618.06 700.67L619.88 699.56L621.7 698.75L623.52 696.96L625.34 695.16L627.17 693.85L628.99 693.01L630.75 692.15L632.52 692.26L634.29 691.21L636.05 689.63L637.82 689.48L639.76 689.23L641.7 688.05L643.63 687.21L645.57 686.64L647.51 686.48L649.45 685.77L651.21 684.5L652.98 682.93L654.75 682.16L656.51 681.19L658.28 679.88L660.12 679.94L661.96 679.29L663.8 677.65L665.64 676.6L667.48 676.56L669.32 676.23L671.16 675.93L673 674.8" stroke="#ffa500" stroke-width="1.15" fill="none" stroke-linejoin="round"/>
<path d="M525.8 801.3L527.12 797L528.45 793.41L529.55 792.93L530.66 791.05L533.23 787.76L535.81 785.76L537.77 782.7L539.73 780.09L541.7 776.47L543.61 774.53L545.52 772.63L547.44 771.33L549.2 769.44L550.97 768.02L552.74 766.05L554.58 763.42L556.42 761.28L558.99 760.44L561.57 759.13L563.53 757.42L565.49 755.79L567.46 753.82L569.59 749.93L571.73 746.93L573.27 745L574.82 742.39L577.32 741.49L579.82 739.98L581.64 739.13L583.45 738.1L585.27 736.29L587.09 734.59L588.91 732.03L590.73 729.29L592.56 727.79L594.38 726.55L596.2 723.47L598.02 721.63L599.84 719.73L601.66 718.08L603.48 716.9L605.31 715.47L607.13 714.74L608.95 712.4L610.77 711.04L612.59 710.86L614.41 708.57L616.45 706.94L618.49 705.64L620.52 703.85L622.56 702.22L624.6 699.88L626.63 698.83L628.5 697.11L630.36 696.61L632.23 694.59L634.09 693.34L635.95 692.78L637.82 691.4L639.76 690.02L641.7 689.47L643.63 688.99L645.57 688.55L647.51 687.55L649.45 686.14L651.21 685.48L652.98 682.88L654.75 682.39L656.51 679.94L658.28 679.39L660.12 677.87L661.96 677.71L663.8 677.48L665.64 676.92L667.48 676.18L669.32 675.74L671.16 675.62L673 674.8" stroke="#2020ff" stroke-width="1.15" fill="none" stroke-linejoin="round"/>
<path d="M520 669.5V806.4H679.2V669.5Z" stroke="#555" stroke-width="0.8" fill="none"/>
<path d="M520 801.3h-3M525.8 806.4v3M520 776h-3M555.24 806.4v3M520 750.7h-3M584.68 806.4v3M520 725.4h-3M614.12 806.4v3M520 700.1h-3M643.56 806.4v3M520 674.8h-3M673 806.4v3" stroke="#555" stroke-width="0.6"/>
<g font-size="5.8" fill="#333" text-anchor="middle">
<text x="509.8" y="801.3" transform="rotate(-90 509.8 801.3)">0.0</text>
<text x="525.8" y="819.4">0.0</text>
<text x="509.8" y="776" transform="rotate(-90 509.8 776)">0.2</text>
<text x="555.24" y="819.4">0.2</text>
<text x="509.8" y="750.7" transform="rotate(-90 509.8 750.7)">0.4</text>
<text x="584.68" y="819.4">0.4</text>
<text x="509.8" y="725.4" transform="rotate(-90 509.8 725.4)">0.6</text>
<text x="614.12" y="819.4">0.6</text>
<text x="509.8" y="700.1" transform="rotate(-90 509.8 700.1)">0.8</text>
<text x="643.56" y="819.4">0.8</text>
<text x="509.8" y="674.8" transform="rotate(-90 509.8 674.8)">1.0</text>
<text x="673" y="819.4">1.0</text>
</g>
<text x="494.9" y="739" text-anchor="middle" fill="#222" font-size="5.6" transform="rotate(-90 494.9 739)">Sensitivity</text>
<text x="599.6" y="834.2" text-anchor="middle" fill="#222" font-size="5.6">1−Specificity</text>
<line x1="598" y1="783.6" x2="609.5" y2="783.6" stroke="#ff2020" stroke-width="1.3"/>
<text x="614.4" y="785.7" fill="#222" font-size="5.9" textLength="61.4" lengthAdjust="spacingAndGlyphs">AUC at 1 years: 0.725</text>
<line x1="598" y1="791.5" x2="609.5" y2="791.5" stroke="#ffa500" stroke-width="1.3"/>
<text x="614.4" y="793.6" fill="#222" font-size="5.9" textLength="61.4" lengthAdjust="spacingAndGlyphs">AUC at 3 years: 0.612</text>
<line x1="598" y1="799" x2="609.5" y2="799" stroke="#2020ff" stroke-width="1.3"/>
<text x="614.4" y="801.1" fill="#222" font-size="5.9" textLength="61.4" lengthAdjust="spacingAndGlyphs">AUC at 5 years: 0.593</text>
</svg>
</body></html>
